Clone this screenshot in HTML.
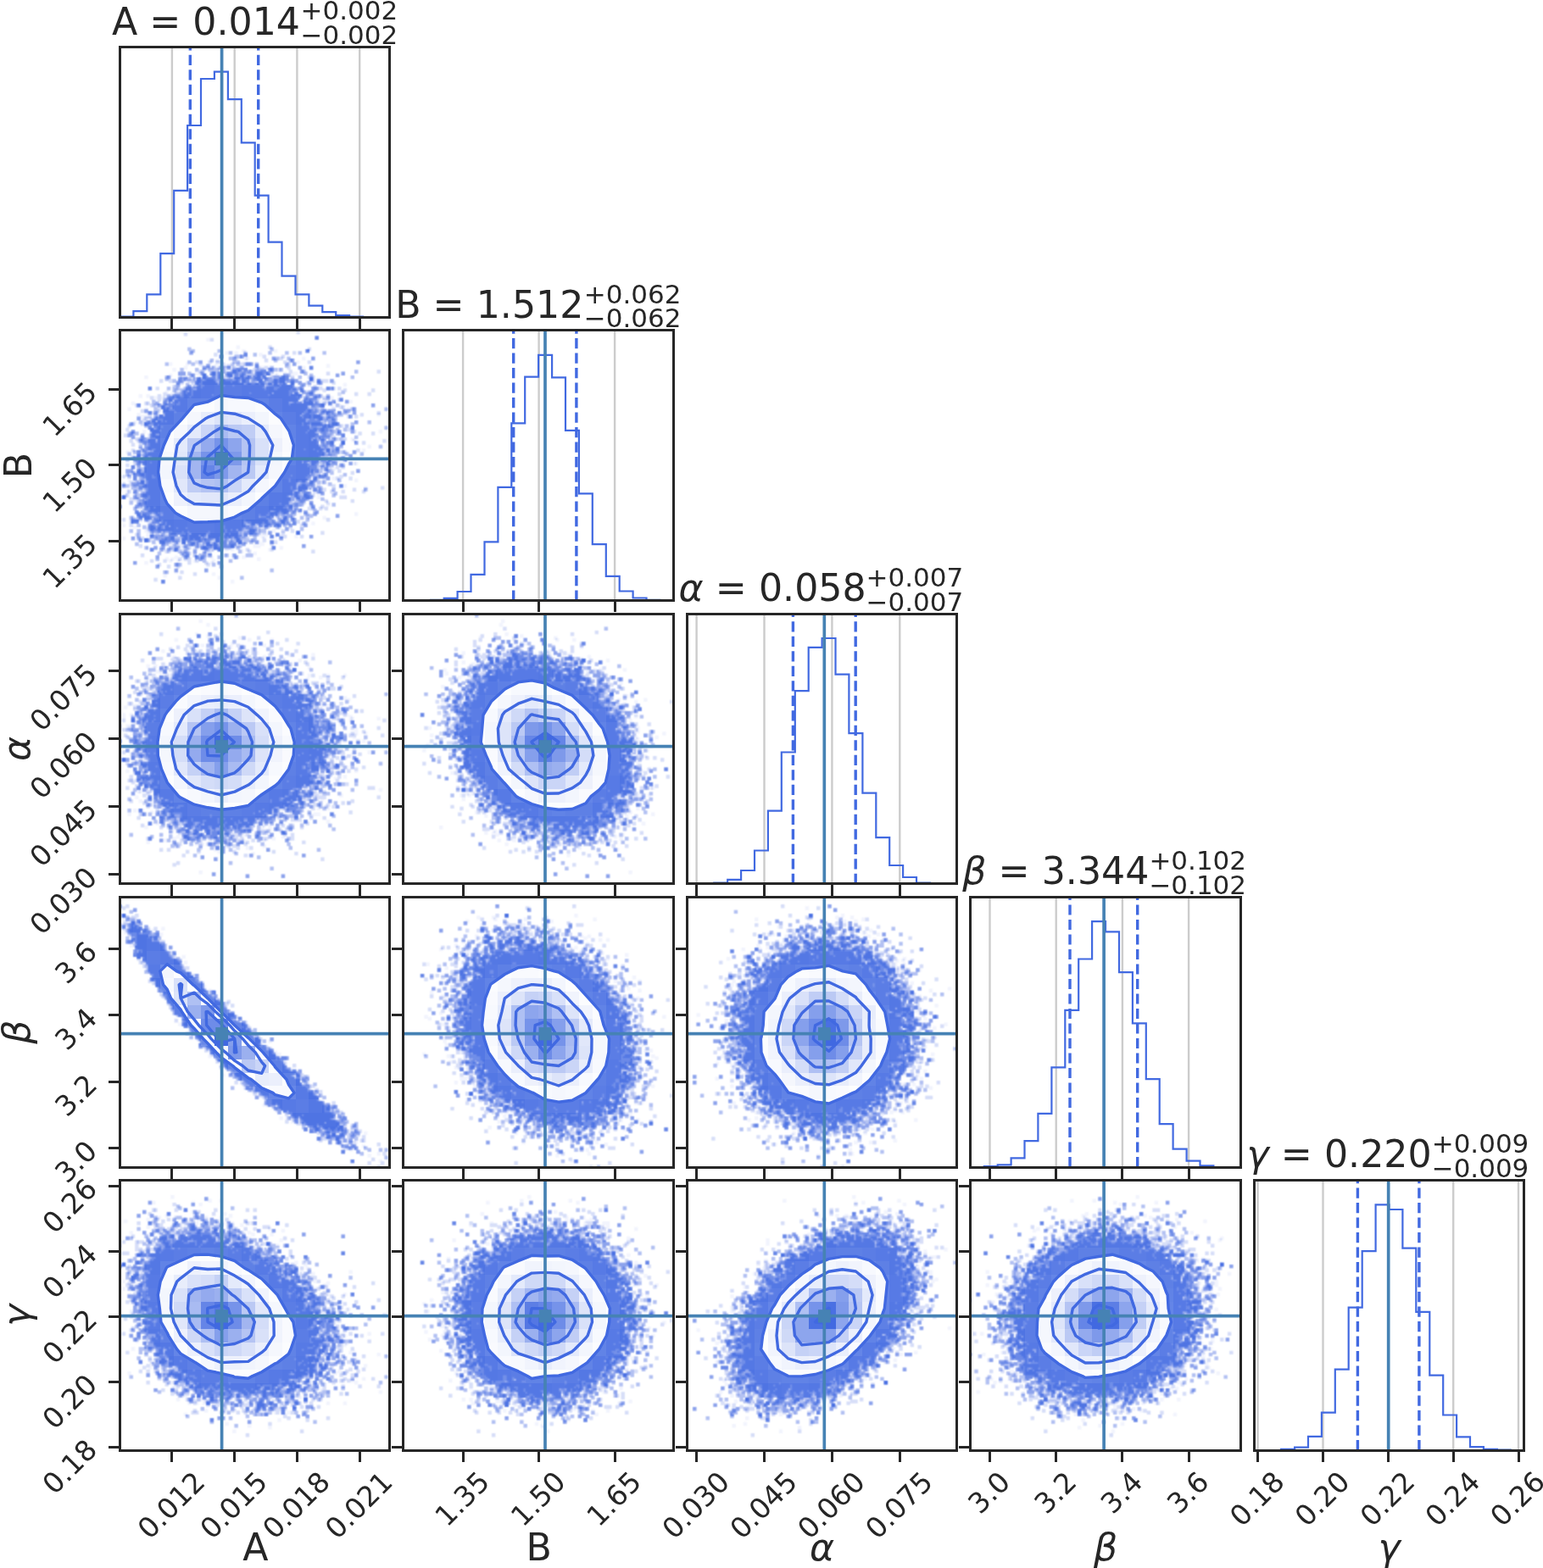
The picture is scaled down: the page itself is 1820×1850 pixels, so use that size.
<!DOCTYPE html>
<html><head><meta charset="utf-8"><title>corner</title>
<style>
html,body{margin:0;padding:0;background:#fff}
svg{display:block}
text{font-family:"DejaVu Sans","Liberation Sans",sans-serif;fill:#262626}
.t{font-size:33.18px}
.s{font-size:30.97px}
.b{font-size:44.24px}
.i{font-style:italic}
.sp{fill:none;stroke:#262626;stroke-width:3;shape-rendering:crispEdges}
.tk{stroke:#262626;stroke-width:3;fill:none;shape-rendering:crispEdges}
.g{stroke:#cccccc;stroke-width:2.4;fill:none}
.h{stroke:#4169e1;stroke-width:2.2;fill:none;stroke-linejoin:miter}
.q{stroke:#4169e1;stroke-width:3.4;fill:none;stroke-dasharray:12.2 5.3}
.tr,.th{stroke:#4682b4;stroke-width:3.7;fill:none}
.c{stroke:#4169e1;stroke-width:3.4;fill:none;stroke-linejoin:round}
</style></head>
<body>
<svg xmlns="http://www.w3.org/2000/svg" width="1820" height="1850" viewBox="0 0 1820 1850">
<defs><filter id="bl" x="-2%" y="-2%" width="104%" height="104%" color-interpolation-filters="sRGB"><feConvolveMatrix order="3" kernelMatrix="0.0625 0.125 0.0625 0.125 0.25 0.125 0.0625 0.125 0.0625" edgeMode="none" preserveAlpha="false"/></filter></defs>
<rect width="1820" height="1850" fill="#fff"/>
<clipPath id="k0"><rect x="141.5" y="389.8" width="318.4" height="318.9"/></clipPath>
<g clip-path="url(#k0)">
<g transform="translate(139.29 387.59) scale(2.212)" fill="#4169e1" filter="url(#bl)">
<path fill-opacity="0.070" d="M95 1h2v2h-2zm-60 1h2v2h-2zm70 2h2v2h-2zm-58 1h4v2h-4zm16 4h2v2h-2zm17 0h2v1h1v1h2v2h-2v-1h-1v2h-2v-2h1v-1h-1zm-43 1h2v1h2v2h-1v1h-2v-2h-1zm64 0h2v2h-1v1h-2v-2h1zm-48 1h2v2h-2zm13 0h2v1h1v3h1v2h-3v-1h-3v1h1v1h7v2h-3v2h3v-1h1v-3h2v2h8v1h5v2h-5v1h3v1h2v-2h2v1h1v-2h-1v-1h-1v-2h-1v-2h2v1h1v-1h-1v-2h2v1h2v2h1v-1h2v2h-2v1h-2v-2h-1v4h1v1h3v2h-2v2h2v-2h2v2h-1v1h1v1h2v-1h2v-1h-1v-2h1v-1h2v1h1v4h-2v2h-2v-1h-1v1h-1v2h4v-2h1v-1h2v1h1v-1h-1v-4h2v1h7v1h1v2h-2v-1h-5v3h2v-1h5v2h-5v1h-2v-1h-3v1h-1v1h1v-1h2v1h1v1h2v-1h2v1h2v2h1v1h1v1h2v1h2v2h1v-1h5v4h1v2h-2v-2h-1v-2h-1v1h-1v1h2v2h-3v-2h-2v1h-3v3h1v1h5v2h1v-3h2v-1h2v2h-2v3h1v2h-3v-1h-4v-2h-2v1h1v2h2v2h1v2h-1v2h-1v2h-2v1h4v1h1v1h2v2h-2v-1h-2v1h2v2h-6v2h1v-1h3v3h-2v-1h-1v1h1v2h-2v-2h-1v1h-1v2h-2v-1h-1v2h1v2h-2v1h3v1h2v4h1v2h-1v1h-2v-2h-1v-2h1v-2h-3v-1h-3v1h1v1h2v2h-1v2h-2v1h2v1h2v1h1v3h-1v2h-2v-1h-1v1h-2v-2h1v-1h2v1h1v-2h-1v-1h-2v-1h-2v-3h-1v2h-1v4h1v2h1v1h1v2h-1v1h-2v1h-1v1h-1v1h-1v3h-2v2h-2v-4h1v-1h2v-3h-1v-2h-1v1h-2v-1h-1v2h-1v1h1v1h2v2h-2v1h-2v2h1v2h-2v-2h-1v1h-2v2h1v2h-2v1h-2v-2h-1v1h-4v-2h-1v1h-1v3h-1v2h-2v1h-4v-2h1v-1h-1v1h-2v-1h-1v1h-1v1h-2v1h-1v1h2v2h-3v-2h-1v-1h-1v2h-2v-1h-1v1h-2v-1h-1v1h-3v-1h-1v1h-2v2h1v2h1v4h-2v-1h-1v1h-2v-1h-1v-1h-1v-1h-2v1h-3v-2h1v-1h-1v-6h-1v2h-1v1h1v2h-1v1h1v4h-2v-2h-2v-2h-1v-1h-1v-1h-2v-1h-3v1h-3v-1h-2v2h-1v3h-2v-3h1v-2h1v-3h1v-1h-1v-1h-1v-1h-1v2h1v3h-2v1h-2v-1h-3v-2h3v1h2v-2h-1v-1h-4v-1h-1v1h-2v-1h-1v-2h-1v-2h1v-2h2v4h2v1h1v-3h-1v-2h-1v-2h3v-1h-1v-1h-1v-2h-1v2h-2v1h1v2h-2v1h-2v-1h-2v-6h3v1h1v-2h-2v-4h1v-1h1v-1h-2v1h-2v-4h2v-4h-1v-1h-5v-3h2v1h2v-1h-1v-3h-1v1h-2v-2h2v-3h3v-2h1v-3h-1v-2h-2v-1h-1v-2h2v1h1v1h1v-1h-1v-2h2v1h2v-4h-1v-1h-1v-1h-1v2h1v2h-2v-2h-1v-2h1v-1h-4v-2h2v-1h-1v-2h1v-2h1v-1h2v-1h2v2h-1v1h-2v1h-1v2h1v-1h2v1h2v2h-2v1h3v-2h1v-2h2v2h-1v2h2v-2h1v-2h-1v-1h-2v-1h-2v-1h-1v-2h-1v-4h2v1h3v-1h-3v-2h2v-1h2v2h3v-2h-2v-1h-3v-2h3v1h1v-2h-1v-1h-2v-2h2v1h4v-1h2v1h1v-2h1v-1h1v-2h2v2h-1v2h1v-1h1v-4h2v-1h-4v-1h-2v-3h2v-1h2v2h-1v1h3v1h1v-5h1v-2h2v-1h1v-2h1v-1h2v1h2v-1h4v2h1v1h1v-1h1v-2h1v-1h2v2h-1v1h-1v1h2v-1h1v-3h2v1h2v1h1v1h3v-1h1v-1h-2v-2h3v-3h2v2h3v-1h-1zm-9 1h4v2h-4zm32 0h2v2h-2zm4 0h2v2h-2zm3 0h2v2h-2zm13 0h2v2h-2zm-58 1h2v2h-2zm21 0h2v2h-2zm3 0h2v1h2v2h1v2h-2v-2h-1v-1h-2zm-21 1h2v2h-2zm33 0h2v2h-1v1h-3v1h-2v-1h-1v-2h5zm11 1h2v2h-2zm5 0h2v2h-2zm-2 2h2v2h-2zm26 0h2v2h-2zm-102 1h4v2h-4zm13 1v1h-1v2h-2v1h1v2h1v-2h2v1h2v-3h2v1h2v-1h-1v-1h-1v-1h-2v1h-2v-1zm15 0v1h1v-1zm9 0v1h1v-1zm49 0h2v2h-2zm-15 1h4v3h1v2h-2v-1h-2v-2h-1zm6 0h2v2h-2zm-73 1h2v2h-2zm18 1v1h-1v1h1v1h1v1h1v-3h-1v-1zm7 0v1h1v-1zm4 0v1h2v-1zm21 0v1h1v-1zm47 0h2v2h-2zm12 0h2v2h-2zm-27 1h2v2h-2zm8 0h2v2h-2zm-63 1v1h1v-1zm60 0h2v2h-2zm-102 1h2v2h-2zm27 0v1h2v-1zm38 0v1h1v-1zm45 0h2v2h-2zm20 0h2v2h-2zm-53 1v1h1v-1zm-69 1h2v2h-2zm13 2v1h-2v2h1v-1h2v-2zm3 0v1h1v-1zm52 0v1h2v-1zm4 0v2h2v-2zm26 0h2v2h-2zm-104 2h2v2h-2zm4 0h2v2h-2zm97 0h2v2h-2zm3 1h2v2h-1v1h-2v1h1v3h-3v-2h1v-1h-1v-2h2v-1h1zm15 0h2v2h-2zm-39 1v1h1v-1zm30 1h2v2h-2zm7 0h2v2h-2zm-122 1h2v2h-2zm88 0v1h1v-1zm9 2v1h1v-1zm-88 1v1h1v-1zm3 0v1h-1v1h2v-2zm90 0v1h1v-1zm8 0h4v2h-2v1h-2zm-114 1h2v1h3v2h-3v-1h-2zm104 1v1h-1v1h1v1h3v-1h-1v-1h-1v-1zm24 0h2v2h-2zm-20 1v1h1v3h1v-1h2v1h1v-2h-2v-1h-2v-1zm-110 1h2v2h-2zm137 0h2v2h-2zm-119 1v2h-1v1h2v-3zm115 1h2v3h-2zm-9 1h2v2h-2zm-111 1v1h1v-1zm115 3h2v2h-2zm-22 1v1h1v-1zm5 2v1h-1v1h1v-1h1v-1zm26 0h2v2h-2zm-3 2h2v2h-2zm-11 1h2v2h-2zm7 0h2v2h-2zm-20 1v1h1v1h3v-1h-3v-1zm11 1h2v2h-1v1h1v2h-2v-1h-1v-1h-1v-2h2zm-15 2v1h1v-1zm30 0h2v2h-2zm3 0h2v2h-2zm-37 1v2h1v-2zm9 0v1h-1v1h1v1h2v-2h1v-1zm14 0h2v2h-2zm-117 2v1h1v-1zm120 0h2v2h-2zm6 0h2v2h-2zm-12 2h2v2h-2v1h-2v-2h2zm3 0h2v2h-1v2h-2v-2h1zm-121 3v1h1v-1zm108 0v1h3v-1zm-113 2h2v2h-2zm110 0v1h1v-1zm9 2h5v2h-5zm-119 1h2v2h-2zm5 1v2h-1v1h2v-3zm3 0v1h1v-1zm103 0v1h1v-1zm12 2h2v2h-2zm-3 1h2v2h-2zm-4 1h2v2h-2v1h-1v2h-2v-1h-3v-2h4v-1h2zm-113 1v3h1v-3zm3 1v2h1v-2zm113 0h2v2h-2zm-20 1v1h1v-1zm5 0v1h1v-1zm18 0h2v2h-2zm-8 3h4v2h-4zm13 1h2v3h-1v1h-2v-2h1zm9 0h2v2h-2zm-140 1h2v2h-2zm125 0h2v2h-2zm-121 1h3v2h-1v2h-2v1h-2v-2h1v-1h1zm97 0v1h1v-1zm18 0h2v2h-2zm-108 1v1h1v-1zm92 0v1h1v-1zm15 2h4v2h-4zm6 2h2v2h-2zm-24 1v2h-1v1h-3v1h3v1h2v1h1v1h2v-2h-3v-2h1v-3zm14 1h2v2h-2zm-114 1h2v2h-2zm11 3v1h1v-1zm115 1h2v2h-2zm-10 1h2v2h-2zm-19 1h2v2h-2zm12 0h2v1h2v2h-2v-1h-2zm-107 1h2v2h-2zm90 2v1h1v-1zm11 0h2v2h-2zm-101 1h2v2h-2zm6 0v1h2v-1zm79 1v2h-3v2h-2v1h2v-1h2v1h1v-3h2v-1h-1v-1zm3 0v1h1v-1zm-9 1v1h-2v2h1v-1h2v-1h1v-1zm-75 1h2v2h-2zm89 1h2v2h-1v2h-2v-2h1zm13 0h2v2h-2zm-76 2v1h1v-1zm65 0h2v2h-2zm5 0h2v2h-2zm-100 1h2v2h-2zm5 0h2v2h-2zm63 0v1h2v-1zm4 0v2h2v1h1v-2h-1v-1zm7 2h4v2h-2v1h1v2h-1v1h-3v-2h2v-1h-1zm-72 1h2v1h2v2h-2v-1h-2zm89 1h2v2h-2zm-73 1v2h1v-1h1v-1zm61 0h2v2h-2zm-43 1v1h-1v3h1v-1h2v-2h-1v-1zm25 0h2v1h1v2h1v-1h2v2h-2v1h-4v1h-2v-2h2v-1h1v-1h-1zm35 1h2v2h-2zm-91 2h2v2h-2zm44 0h3v2h-3zm4 0h3v1h2v2h-4v-1h-1zm-30 1h2v1h2v2h-1v1h1v2h-1v1h-1v3h-2v-3h1v-1h-1v-2h1v-2h-1v1h-1v1h-2v-1h-1v1h-2v-2h1v-1h2v1h1v-1h2zm23 0h2v2h-2zm-6 1v2h1v1h1v-1h1v-1h-1v-1zm27 0h2v2h-2zm-57 1h2v2h-2zm42 0h2v2h-2zm-51 1h2v2h-2zm6 0h2v2h-2zm39 0h2v2h1v2h-2v-2h-1zm-32 1h2v2h-1v1h-2v-2h1zm5 1h2v2h-2zm20 2h2v2h-2zm35 0h2v2h-2zm-57 1h3v2h-1v2h-2zm9 0h2v2h-2zm7 1h2v2h-2zm10 0h2v2h-2zm-18 2h2v2h-2zm21 0h2v2h-2zm12 0h2v2h-2zm-46 1h2v2h-2zm4 1h2v2h-2zm37 0h2v2h-2z"/>
<path fill-opacity="0.151" d="M95 1h2v2h-2zm-60 1h2v2h-2zm70 2h2v2h-2zm-56 1h2v2h-2zm31 4h2v1h1v2h-1v2h-2v-2h1v-1h-1zm-43 1h2v1h2v2h-1v1h-2v-2h-1zm64 0h2v2h-1v1h-2v-2h1zm-48 1h2v2h-2zm6 1h2v2h-2zm8 0h2v5h-1v-2h-1v1h-3v1h1v1h7v2h-5v1h2v1h3v-1h1v-3h2v2h1v1h2v-1h2v1h1v-1h2v1h5v2h-5v1h-1v1h2v-1h1v1h3v-1h3v-2h-1v-1h-1v-2h-1v-2h2v1h1v-1h-1v-2h2v1h2v2h1v2h-2v-2h-1v4h1v2h-1v1h2v2h2v1h2v1h2v-1h2v-1h-1v-2h1v-1h2v1h1v4h-2v2h-2v-1h-1v1h-1v2h4v-2h1v-1h2v1h3v1h2v-1h5v2h-5v1h-2v-1h-3v1h-1v1h4v1h2v-1h2v4h1v-1h2v2h-2v1h-2v-1h-1v1h-1v2h4v-1h2v3h1v-1h2v1h1v-2h-2v-1h-2v-2h2v1h3v2h3v-1h3v4h1v2h-2v-2h-1v-2h-1v1h-1v1h2v2h-3v-2h-2v1h-3v3h1v1h2v2h-2v1h1v2h2v2h1v2h-1v2h-1v2h-2v1h4v1h1v1h2v2h-2v-1h-2v-1h-4v2h1v-1h3v1h1v2h-5v2h1v-1h3v3h-2v-1h-1v1h1v2h-2v-2h-1v-2h-1v1h-1v1h1v3h-2v-1h-1v2h1v2h-2v2h-3v1h1v1h2v2h-1v2h-2v-1h-3v2h-1v1h-2v1h-2v2h-1v1h-3v1h2v2h-3v2h-1v1h1v1h2v2h-2v1h-2v2h1v2h-2v-2h-1v1h-2v2h1v2h-2v1h-2v-2h-2v-2h2v1h1v-3h2v-1h-1v-1h-1v2h-3v-1h-3v1h-2v3h-2v-1h-1v1h-1v1h-1v2h1v2h-2v-1h-1v1h-2v-1h-1v1h-1v1h-2v1h-1v1h1v2h-2v-2h-1v-1h-2v1h-5v1h-3v-1h-2v1h-1v3h-3v2h1v1h1v2h-2v-1h-1v-1h-1v-1h-2v1h-2v-3h-1v-5h1v-1h-2v2h-1v1h1v2h-1v1h1v4h-2v-2h-2v-2h-1v-1h-1v-1h-1v-1h-4v1h-3v-1h-2v2h-1v3h-2v-3h1v-2h1v-3h1v-1h-1v-1h-1v-1h-1v2h-2v-1h-4v-1h-1v1h-2v-1h-1v-2h-1v-2h1v-2h2v4h2v1h3v-3h-1v-1h-1v-1h-2v-2h2v1h1v-3h-2v-2h-1v2h-2v1h1v2h-2v-2h-2v2h-2v-6h3v1h1v-2h-1v-2h-1v-2h1v-1h1v-2h-2v2h-2v-4h2v-4h-1v-2h-1v1h-4v-3h2v1h2v-2h2v-3h-1v2h-2v-1h-1v1h-2v-2h2v-3h3v-2h1v-3h-1v-2h3v-1h-2v-1h-1v-2h2v1h2v-4h-1v-1h-1v-1h-1v2h1v2h-2v-2h-1v-2h1v-1h-4v-2h2v-1h-1v-2h1v-2h1v-1h3v2h-2v1h-1v2h1v-1h2v1h2v2h-2v1h3v-2h2v2h2v-2h1v-2h-1v-1h-2v-1h-2v-1h-1v-2h-1v-2h2v2h1v-1h1v-1h2v-2h-4v-2h4v1h3v-2h-2v-1h-3v-2h3v1h1v-2h-1v-2h2v2h1v1h1v-4h2v4h-1v1h2v-6h2v1h4v-1h-1v-4h2v-1h-4v-1h-2v-3h3v2h3v1h1v-5h1v-2h2v2h1v2h1v1h1v-1h-1v-2h2v1h2v2h4v-1h-1v-1h-1v-1h-2v-2h2v1h2v-2h2v-1h1v-2h1v-1h2v2h-1v1h-1v1h3v1h1v-1h2v-1h-3v-2h4v1h1v2h1v-1h2v-1h1v-1h-2v-2h3v-1h5zm22 0h2v2h-2zm4 0h2v2h-2zm3 0h2v2h-2zm13 0h2v2h-2zm-58 1h2v2h-2zm21 0h2v2h-2zm-18 1h2v2h-2zm23 0h2v2h1v2h-2v-2h-1zm10 0h2v2h-1v1h-3v1h-2v-1h-1v-2h5zm16 1h2v2h-2zm-66 2h2v1h2v-1h4v3h-2v-1h-2v1h-2v-1h-2zm64 0h2v2h-2zm26 0h2v2h-2zm-102 1h2v2h-2zm37 1v1h1v1h1v-1h-1v-1zm34 1h2v2h2v1h1v2h-2v-1h-2v-2h-1zm6 0h2v2h-2zm-55 2v1h-1v1h1v1h1v1h1v-3h-1v-1zm7 0v1h1v-1zm4 0v1h2v-1zm21 0v1h1v-1zm47 0h2v2h-2zm12 0h2v2h-2zm-66 1v1h1v-1zm39 0h2v2h-2zm8 0h2v2h-2zm-63 1v1h1v-1zm60 0h2v2h-2zm-37 1v1h2v-1zm17 0h2v2h-2zm28 0h2v2h-2zm-33 1v1h1v-1zm-69 1h2v2h-2zm55 0v1h1v-1zm29 0h6v2h-3v1h-3zm7 0h2v1h1v2h-2v-1h-1zm-78 1v2h-2v2h2v-1h1v-2h1v-1zm3 1v1h1v1h1v-1h-1v-1zm52 0v1h2v-1zm4 0v2h3v-1h-1v-1zm-78 2h2v2h-2zm4 0h2v2h-2zm6 0h2v2h-2zm91 0h2v2h-2zm3 1h2v2h-1v1h-2v1h-2v-2h2v-1h1zm15 0h2v2h-2zm-103 1v1h1v-1zm64 0v1h1v1h1v-1h-1v-1zm30 1h2v2h-2zm7 0h2v2h-2zm-34 1v1h1v-1zm-74 1v1h1v-1zm72 1v1h-1v1h2v-1h1v-1zm11 0v1h-1v1h1v1h1v-1h1v-1h-1v-1zm9 0h3v2h-3zm4 1h2v2h-2zm-112 2h3v2h-3zm126 0h2v2h-2zm7 2h2v2h-2zm-119 1v1h-1v2h2v-3zm115 1h2v2h-2zm-9 1h2v2h-2zm-111 1v2h1v-2zm-2 2v1h1v-1zm110 1h2v2h-2v3h1v2h-3v-1h-4v-2h1v-2h2v2h1v-3h2zm7 0h2v2h-2zm-22 1v1h1v-1zm-93 2v1h1v-1zm98 0v1h-1v1h1v-1h1v-1zm26 0h2v2h-2zm-14 3h2v2h-2zm7 0h2v2h-2zm-28 1v1h1v-1zm8 0v1h1v1h3v-1h-3v-1zm11 1h2v2h-2zm-15 2v1h1v-1zm14 0h1v1h-1zm16 0h2v2h-2zm3 0h2v2h-2zm-37 1v2h1v-2zm9 0v1h-1v1h1v1h2v-2h1v-1zm10 0h2v2h-2zm4 0h2v2h-2zm-117 2v2h1v-2zm126 0h2v2h-2zm-12 2h2v2h-2v1h-2v-2h2zm-122 2h2v2h-2zm124 0h2v2h-2zm-125 3h2v2h-2zm110 0v1h1v-1zm9 2h2v2h-2zm3 0h1v2h-1zm-122 1h2v2h-2zm5 1v2h-1v1h2v-3zm3 0v1h2v-1zm115 2h2v2h-2zm-18 1v1h-1v1h1v-1h1v-1zm15 0h2v2h-2zm-4 1h2v2h-2v1h-1v2h-2v-1h-1v-2h2v-1h2zm-110 2v2h1v-2zm93 0v2h1v-2zm20 0h2v2h-2zm-16 1v1h2v-1zm-2 2v2h1v-2zm7 0h2v1h2v4h1v2h-1v1h-2v-2h-1v-2h1v-2h-2zm6 1h2v2h-2zm22 1h2v2h-2zm-140 1h2v2h-2zm125 0h2v2h-2zm6 0h2v2h-1v1h-2v-2h1zm-126 1h2v2h-1v2h-2v1h-2v-2h2v-1h1zm96 0v1h2v1h1v-2zm18 0h2v2h-2zm-108 1v1h1v-1zm107 2h4v2h-4zm-10 1h2v1h2v2h1v1h-2v-1h-1v-1h-2zm16 1h2v2h-2zm-22 1h2v2h1v2h1v1h1v2h-1v1h-2v1h-2v2h-1v3h-2v2h-2v-4h1v-1h2v-3h-1v-3h2v1h1v1h2v-2h-3v-2h1zm12 1h2v2h-2zm-114 1h2v2h-2zm108 0h2v1h2v2h-2v-1h-1v1h-2v-2h1zm-98 2v1h1v1h1v-1h1v-1zm81 2v1h1v-1zm25 1h2v2h-2zm-33 1v2h1v1h1v-2h-1v-1zm14 0h2v2h-2zm-95 1h2v2h-2zm89 0v2h1v1h1v-1h-1v-2zm20 0h2v2h-2zm-21 4v1h1v-1zm-84 2h2v2h-2zm74 1h2v2h1v2h-2v-2h-1zm15 0h2v2h-2zm13 0h2v2h-2zm-76 2v1h1v-1zm37 0v1h1v1h2v-1h-2v-1zm28 0h2v2h-2zm5 0h2v2h-2zm-95 1h2v2h-2zm70 0h1v1h1v2h-2zm-59 1v1h1v-1zm63 1h4v2h-2v1h1v2h-1v1h-2v-2h1v-1h-1zm-72 1h2v1h2v2h-2v-1h-2zm24 0v4h2v-1h-1v-3zm3 0v1h1v-1zm-9 1v1h-2v2h1v-1h1v-1h2v-1zm71 0h2v2h-2zm-84 1h2v2h-2zm5 0h2v2h-2v1h-2v-2h2zm24 1v1h-1v3h1v-1h2v-2h-1v-1zm25 0h2v1h1v2h1v2h-4v-2h1v-1h-1zm35 1h2v2h-2zm-91 2h2v2h-2zm44 0h3v2h-3zm5 0h2v1h1v2h-3zm-8 1h2v2h-2zm-21 1h2v2h-2zm-15 1h2v2h-2zm7 0h2v2h-2zm4 0h1v1h-1zm31 0h2v2h-2zm-51 1h2v2h-2zm42 0h1v1h1v2h-2zm3 0h2v2h1v2h-2v-2h-1zm-32 1h2v2h-1v1h-2v-2h1zm9 0h4v2h-1v1h-1v2h-2v-2h1v-1h-1zm-4 1h2v2h-2zm20 2h2v2h-2zm35 0h2v2h-2zm-57 1h3v2h-3zm9 0h2v2h-2zm7 1h2v2h-2zm-8 2h2v2h-2zm33 0h2v2h-2zm-46 1h2v2h-2zm4 1h2v2h-2z"/>
<path fill-opacity="0.241" d="M105 4h2v2h-2zm-68 6h2v1h2v2h-1v1h-2v-2h-1zm44 0h2v2h-1v2h-2v-2h1zm-28 1h2v2h-2zm47 0h2v2h-2zm-41 1h2v2h-2zm8 0h1v1h1v2h-2v1h-4v1h2v3h-2v-1h-1v2h3v-1h2v1h2v1h3v2h1v-6h2v3h3v1h1v1h1v-2h1v-1h2v1h2v2h-2v1h-2v1h-2v1h3v-1h6v-1h4v2h-1v1h1v-1h2v1h2v1h2v1h2v2h-1v2h1v1h1v-1h2v-2h4v2h-2v2h4v2h-2v3h2v-1h2v2h-1v2h6v2h1v-1h2v1h1v-2h4v-1h3v4h-2v-2h-1v1h-2v1h-2v1h-3v3h1v1h1v2h-1v-1h-3v2h1v-1h2v1h1v2h2v2h-1v1h1v3h-1v2h-2v3h-1v6h-2v1h-3v1h2v1h1v2h-2v-1h-1v2h1v2h-2v-1h-4v1h1v2h-2v-1h-1v3h1v-1h3v3h1v2h-2v-1h-2v-1h-2v-2h-1v1h-2v1h2v2h1v2h-2v1h-2v1h-1v2h-3v1h2v2h-2v-1h-1v3h-1v1h1v4h-2v1h-2v-1h-1v1h1v2h-2v-2h-1v-1h-1v1h-1v1h-2v-1h-1v-1h-1v1h-2v1h-1v2h-3v1h-1v1h-1v2h1v2h-2v-1h-1v1h-2v-1h-1v1h-1v1h-2v1h-1v1h1v2h-2v-2h-1v-2h1v-2h-1v2h-1v1h-2v1h-3v-1h-1v2h-3v-1h-2v1h-1v-1h-1v1h-2v6h-2v-1h-2v-1h-1v1h-1v-2h-1v-4h1v-2h-3v2h-1v1h1v4h-3v-1h-1v-1h-1v-1h-1v-1h-3v-1h-1v1h-1v1h-1v-3h1v-1h2v-1h1v-1h-2v1h-1v1h-2v2h-1v1h-1v2h-1v3h-2v-3h1v-2h1v-2h1v-2h-1v-2h-2v2h-2v-2h1v-1h-2v-4h-1v-4h1v-1h1v-1h-1v1h-3v-2h-1v1h-2v2h1v2h-2v-2h-3v-2h-1v-2h2v1h2v-2h-1v-2h-1v-2h1v-1h1v-3h-2v-2h1v-1h-1v-2h-1v-4h2v-1h-1v-3h-1v-1h-1v1h1v2h-2v-1h-1v-4h3v-2h2v2h-1v1h1v1h1v-4h-1v-2h-1v-2h-1v-1h3v-1h-2v-2h4v-1h-1v-2h2v2h1v-2h-1v-1h-2v-1h-1v-1h1v-1h1v-2h2v2h3v-4h-1v-1h-2v-3h1v-1h2v-1h-2v1h-1v-2h4v1h1v-6h-1v-4h2v1h2v1h1v1h1v-4h2v-2h2v1h1v-1h1v-1h-1v-3h1v-1h1v-1h-2v-2h2v1h1v-2h1v-1h-1v-2h1v-2h2v2h1v2h-2v1h4v-1h-1v-2h2v1h2v2h4v-1h-1v-1h-1v-1h1v-1h1v-2h2v-1h2v2h1v-1h2v1h2v-1h1v-2h1v2h4v2h-2v-1h-1v2h3v-1h1v-2h-1v-1h1v-2h-2v-2h3v-1h5zm22 0h2v2h-2zm7 0h2v2h-2zm13 0h2v2h-2zm-37 1h2v2h-2zm-18 1h2v2h-2zm28 1h4v2h-1v1h-2v-1h-1zm5 0h1v1h-1zm3 0h2v1h2v2h1v2h-2v-2h-2v-1h-1zm13 0h2v2h-2zm-54 1h2v2h-2zm-12 1h2v1h2v2h-2v-1h-2zm6 0h2v2h-2zm9 0h2v1h-2zm75 0h2v2h-2zm-102 1h2v2h-2zm42 0h5v2h-5zm22 0h2v3h-2zm7 2h2v2h2v1h1v2h-2v-1h-2v-2h-1zm6 0h2v2h-2zm-61 1h2v2h-2zm45 0h2v2h-2zm-40 1v2h1v1h1v1h2v-1h-1v-2h-1v-1zm8 0v1h1v-1zm72 0h2v2h-2zm-7 1h2v2h-2zm-63 1v2h1v1h1v-1h-1v-2zm46 0h2v4h-1v2h-2v-2h1zm14 0h2v2h-2zm-91 1h3v2h-1v1h-2zm36 0v1h1v-1zm35 0h2v2h-2zm28 0h2v2h-2zm-85 1v1h1v-1zm31 1v2h1v-2zm7 0v1h1v-1zm29 0h2v1h1v2h-3zm7 0h2v2h-2zm-78 1v1h-2v3h2v-1h1v-2h2v1h1v1h1v-1h1v-1h-2v-1zm39 0v1h1v-1zm16 1v1h2v-1zm4 0v2h3v-1h-1v-1zm-78 2h2v2h-2zm10 0h2v2h-2zm85 0h4v2h-4zm-80 2v1h2v-1zm65 0v1h1v1h1v2h-1v1h-1v1h2v-1h1v-2h1v-1h-2v-1h-1v-1zm23 0h2v2h-2zm-8 2h2v3h-4v-1h2zm-9 1v1h2v-1zm16 1h2v2h-2zm-89 1v1h1v-1zm85 0h2v2h-2v1h-2v-2h2zm7 0h2v2h-2zm-106 1h1v2h-1zm-5 1h2v2h-2zm106 0h2v2h-2zm19 0h2v2h-2zm-115 1v1h1v1h1v2h-1v1h3v-3h-1v-1h-2v-1zm82 0v1h1v-1zm17 0h1v2h-1zm-12 1v1h1v-1zm35 0h2v2h-2zm-128 1h2v1h2v2h-2v-1h-2zm92 2v1h1v-1zm32 0h2v1h-2zm-29 1v1h2v-1zm14 0h2v2h-2zm-113 1h2v2h1v2h-2v-2h-1zm116 2h2v2h-2v5h-2v-6h2zm7 0h2v2h-2zm-127 1h3v2h-3zm105 0v1h1v-1zm10 1h2v2h-1v2h-2v-2h1zm-103 1v1h1v-1zm124 0h2v2h-2zm-135 2h2v1h2v2h-2v2h-2v-1h-2v-2h1v-1h1zm100 2v1h1v-1zm8 0v1h-1v1h-1v1h1v-1h3v2h-2v2h1v1h2v-1h1v-2h-1v-2h1v-1h-3v-1zm11 1h2v2h-2zm-15 2v1h1v-1zm33 0h2v2h-2zm-37 1v2h1v-2zm19 0h2v2h-2zm13 2h2v2h-2zm-20 3h2v1h2v1h2v2h-2v-1h-2v-1h-2zm6 0h2v2h-2zm-120 1h2v2h-2zm7 0v1h1v-1zm117 0h2v2h-2zm-117 2v1h1v-1zm100 0v1h1v-1zm7 0h2v1h1v2h-2v-1h-2v-1h1zm-115 1h2v2h-2zm110 0v1h2v-1zm9 2h2v2h-2zm-111 1v2h2v-1h-1v-1zm95 0v1h1v-1zm11 0h3v2h-3zm-11 2v1h1v-1zm2 1v2h-1v1h1v-1h2v-1h-1v-1zm18 0h2v2h-2zm-7 2h2v2h-2zm-110 2v2h1v-2zm93 0v2h1v-2zm14 1h2v2h-2zm-16 1v1h1v-1zm8 0h2v2h-2zm3 1h2v2h-2zm-110 1h4v2h-4zm116 0h2v2h-2zm-4 2h2v2h1v2h-1v1h-2v-2h1v-1h-1zm17 0h2v2h-2zm-126 1h1v2h-1zm8 0v1h1v-1zm-2 1v1h1v-1zm-7 1h1v2h-1v1h-2v-2h2zm87 1v1h1v-1zm-79 1v1h1v-1zm96 0h2v2h-2zm-14 1v1h-1v1h1v-1h1v-1zm-88 1h2v2h-2zm96 0h2v2h1v2h1v1h1v2h-1v1h-2v1h-2v2h-2v-3h-1v-3h2v2h3v-2h-1v-2h-1zm9 0h1v1h-1zm3 1h2v2h-2zm-114 1h2v2h-2zm13 1v1h-3v1h1v1h1v-1h1v-1h1v-1zm95 0h1v1h-1zm-17 3v1h1v-1zm-73 1v1h1v-1zm98 0h2v2h-2zm-33 1v2h1v1h1v-2h-1v-1zm3 0v1h1v-1zm11 0h2v2h-2zm-6 1v2h1v1h1v-1h-1v-2zm7 2h2v1h1v2h-2v-1h-1zm-78 1v1h1v-1zm-7 1h2v2h-2zm61 0v1h1v-1zm2 1v1h2v-1zm21 0h2v2h-2zm-91 1h2v2h-2zm4 0h2v5h1v2h-2v-1h-1zm70 1h2v2h1v2h-2v-2h-1zm7 0h2v1h-2zm8 0h2v2h-2zm-76 1v1h1v-1zm3 0v1h1v-1zm3 0v1h2v-1zm59 0h2v2h-2zm-52 1v1h1v-1zm37 0v2h1v1h1v-1h1v-1h-2v-1zm33 0h2v2h-2zm-95 1h2v2h-2zm79 0h2v2h-2zm-72 1h3v2h-3zm19 0v2h-1v2h1v2h1v1h1v-4h-1v-3zm26 0v1h1v-1zm-9 1v1h1v-1zm16 0v1h1v-1zm15 0h2v2h-2zm-72 1h2v2h-2zm27 0v1h1v-1zm8 0v1h1v-1zm14 0v1h1v-1zm40 1h2v2h-2zm-84 1h2v2h-2zm5 0h2v2h-2v1h-2v-2h2zm63 0h2v2h-2zm-40 1v4h1v-1h2v-1h1v-1h-2v-1zm27 1h1v1h-1zm-21 2h2v2h-2zm9 0h2v2h-2zm4 0h2v1h1v2h-2v-1h-1zm7 0h4v2h-4zm-15 1h2v2h-2zm-21 2h1v1h-1zm27 0h2v2h-2zm-51 1h2v2h-2zm45 0h2v2h1v2h-2v-2h-1zm-23 1h4v2h-4zm17 0h1v1h-1zm3 0h2v2h-2zm-30 1h2v2h-2zm10 2h2v2h-2zm16 0h2v2h-2zm35 0h2v2h-2zm-57 1h3v2h-3zm41 3h2v2h-2zm-42 2h2v2h-2z"/>
<path fill-opacity="0.333" d="M105 4h2v2h-2zm-24 6h1v1h-1zm19 1h2v2h-2zm-62 1h2v2h-2zm29 1h2v2h-2v1h-2v-2h2zm-13 1h2v2h-2zm7 1h2v2h-2zm21 0h2v1h1v1h-3zm21 0h2v2h-2zm-12 1h3v2h1v2h-2v-2h-1v-1h-1zm-48 1h2v2h-2zm6 0h1v1h-1zm78 0h2v2h-2zm-66 1h1v1h-1zm2 0h2v1h-2zm5 0h4v2h-4zm22 0h1v2h-2v-1h1zm-43 1h2v2h1v-1h1v2h-3v-1h-1v1h-2v-2h2zm26 0h2v3h4v1h1v-2h3v2h-2v2h-2v1h3v1h1v-2h3v1h1v-1h1v-1h3v3h5v1h2v1h2v2h-1v2h1v1h2v-1h1v-2h4v2h-2v1h-1v1h4v2h-2v2h1v1h3v2h-4v1h1v2h-1v1h1v-1h1v-2h3v1h1v-1h4v1h-1v1h1v1h1v1h-1v3h2v2h-3v1h-1v1h1v2h-1v1h-1v2h-2v1h-1v1h1v-1h3v-2h2v2h-1v4h1v-1h2v4h-2v1h-8v1h3v1h1v-1h2v1h2v1h1v2h-4v1h-1v1h1v2h-1v2h1v2h-2v-1h-5v2h-1v3h1v1h1v-1h-1v-1h2v1h1v2h1v2h-2v-1h-2v-1h-2v-2h-1v-1h-1v1h-1v1h-1v1h3v2h1v2h-3v1h-1v1h-1v1h-1v1h-2v1h2v2h-2v-1h-1v2h-2v2h2v4h-2v1h-2v-1h-3v-1h-1v2h-1v1h-1v-1h-2v-1h-1v1h-2v1h-2v-2h-1v1h-2v-1h-1v-1h-1v2h1v3h1v1h-1v1h-2v-1h-3v1h-1v1h-2v2h2v2h-2v-1h-2v-1h-1v-1h-1v-1h-1v1h1v1h1v2h-1v1h-6v1h-1v1h-2v-1h-2v-1h-2v1h-1v1h-1v3h-1v1h-1v1h-2v-1h-2v-2h2v1h1v-1h1v-2h1v-1h-2v-2h1v-2h-2v3h-2v-1h-4v1h1v1h-1v1h1v3h-1v1h-2v-2h-1v-1h-1v-1h2v-1h1v-1h-1v-2h-1v-4h-1v-1h-1v1h-2v1h3v2h-1v1h-1v1h2v1h-1v2h-2v-5h-3v1h-2v3h-1v1h-1v-1h-1v-1h1v-2h-1v-2h-2v-1h-3v-2h1v-1h-1v-1h-1v-4h2v-2h1v-1h-1v1h-2v1h-2v-2h-1v1h-2v-1h-1v-2h-1v-5h1v-1h1v-2h2v-1h-1v-2h1v-1h2v-1h-1v-1h-1v1h-2v-2h-1v1h-2v-1h-1v-2h3v-1h1v1h1v-3h-2v2h-2v-4h-2v1h1v1h-2v-2h-1v-2h3v-2h2v2h-1v1h1v1h1v-2h1v-1h-1v-3h-2v-3h2v-3h2v4h-1v1h2v-3h1v-1h-1v-1h-1v-1h-1v-1h2v1h1v-2h-1v-1h-2v-2h1v-2h2v1h1v1h2v-3h1v-1h-1v-1h-1v-2h-2v-2h1v-1h3v-1h1v-1h1v-1h-1v-2h2v3h1v-1h2v1h1v-1h-1v-3h-1v-1h-2v-1h-2v-1h1v-1h1v1h2v1h1v-3h1v-1h1v-1h3v-1h4v-1h1v-1h1v-1h1v-1h1v-1h2v1h3v-1h-1v-2h1v-2h2v1h1v-2h-1v-2h2v1h1v1h1v1h2v-1h-1v-2h3v4h1v-4h3v-1h-3v-1h1v-1h3v4h-1v3h3v-1h-1v-1h-1v-1h1v-1h3v-2h4v-1h2v1h2v1h2v2h-3v1h3v1h1v-1h1v-3h1v-1h-1zm-15 1h2v2h-2zm38 0h2v2h1v1h1v1h-3v-2h-1zm6 0h2v2h-2zm-16 1h1v2h-1zm-20 1v1h1v-1zm-34 1h4v2h-4zm87 0h2v2h-2zm-81 1h3v4h-1v-2h-1v-1h-1zm23 0v2h-1v1h2v-3zm55 0h2v2h-2zm-90 1h2v2h-3v-1h1zm76 0h2v3h-2zm-70 1h5v1h2v1h-4v1h-2v2h-1v2h-1v1h-1v-2h1v-4h1zm38 1v2h1v-2zm7 0v1h1v-1zm29 0h2v1h1v2h-3zm7 0h2v2h-2zm-60 1v1h1v-1zm12 0v1h1v-1zm8 0v1h2v-1zm6 0v1h1v-1zm10 0v1h1v1h2v-1h-2v-1zm12 0h1v1h1v1h-2zm-7 1v2h1v1h1v-1h1v-1h-1v-1zm-16 1v1h1v-1zm-62 1h2v2h-2zm95 0h4v2h-4zm-15 2v2h2v2h-1v1h-1v1h2v1h1v-3h1v-2h-2v-1h-1v-1zm-3 1v1h1v-1zm9 2v1h2v-1zm9 0h2v2h-2zm7 1h2v2h-2zm-89 1v1h-1v1h1v-1h1v-1zm85 0h2v2h-2v1h-2v-2h2zm7 0h2v2h-2zm-95 1v1h1v-1zm78 0v1h1v-1zm-94 1h2v2h-2zm125 0h2v2h-2zm-34 1v1h1v1h1v-2zm24 1h2v4h-2zm-111 1h2v1h2v2h-2v-1h-2zm106 0h4v1h-1v1h-3zm-3 1h2v2h-2zm-7 1v1h-1v1h1v1h1v-3zm13 1h2v2h-2zm-113 1h2v2h-2zm10 2v1h1v-1zm88 0v1h1v1h3v-2h-1v1h-1v-1zm18 0h2v2h-2zm-120 1h2v2h-2zm12 2v1h1v-1zm106 0h2v4h-2zm-117 2h2v2h-1v1h1v2h-2v-1h-2v-2h1v-1h1zm110 0h2v2h2v2h-2v-1h-2zm-11 1v1h1v1h2v-1h-1v-1zm6 0v1h1v-1zm-92 4v1h1v-1zm87 1v2h1v-2zm12 0h2v2h-1v1h-2v-1h1zm7 0h2v2h-2zm-14 2v2h1v2h1v-3h-1v-1zm-104 3h1v1h-1zm8 0v1h1v-1zm94 0v1h1v1h1v-1h-1v-1zm10 0h1v1h1v1h-2zm5 0h2v2h-2zm-2 2h2v2h-2zm-4 1h2v1h1v2h-2v-1h-1zm-12 2v3h-1v2h1v2h-2v2h1v-1h4v-1h1v-1h-1v-2h1v-2h-1v2h-1v1h-1v-2h1v-2h-1v-1zm-6 1v1h1v-1zm12 0v1h1v-1zm10 0h2v2h-2zm-111 1v3h1v1h1v-3h-1v-1zm106 0h2v1h1v1h-3zm9 3h2v2h-2zm-24 4v1h-1v1h-1v1h1v-1h2v-2zm-89 1v3h1v-3zm103 0h1v1h-1zm-8 1h1v2h-1zm-13 1v1h-1v2h1v-2h1v-1zm-94 1h2v2h-2zm116 0h2v2h-2zm-16 2h1v1h-1zm29 0h2v1h-1v1h-1zm-123 1h2v4h1v1h-3v-2h1v-1h-1zm87 0v1h1v-1zm19 0h1v1h-1zm-17 1v2h2v-1h-1v-1zm18 1h1v1h-1zm-113 1h2v2h-2zm89 0v1h1v-1zm3 1v2h-2v1h-1v1h2v-1h3v-1h-1v-2zm8 2h2v2h1v3h-1v-1h-1v-2h-1zm-102 2h2v2h-2zm11 1v1h-1v1h1v1h1v-1h2v1h1v-1h-1v-2zm82 0v2h1v-2zm6 2h2v2h1v1h-2v-1h-1zm6 0h2v2h-1v1h-2v-2h1zm-14 1v1h1v-1zm-74 1v1h3v-1zm69 0v2h1v1h1v-2h-1v-1zm3 0v1h1v-1zm27 0h2v2h-2zm-109 1h1v1h1v1h2v2h-4zm76 0v1h-1v1h2v1h2v-1h-1v-2zm8 1v3h2v-1h-1v-2zm10 0h1v1h-1zm-79 2v1h1v-1zm77 0h1v1h1v2h-2v-1h-1v-1h1zm-79 1v1h1v-1zm48 0v1h2v-1zm21 2h2v2h-2zm-22 1v1h-1v3h1v-3h2v-1zm8 0h1v2h-1zm-52 1v1h-4v1h4v-1h1v-1zm57 0h2v2h1v2h-2v-2h-1zm15 0h2v2h-2zm-85 1h1v2h1v1h1v2h-2v-2h-1zm15 0v2h2v-2zm59 0h2v2h-2zm-37 1v2h1v-2zm8 0v3h1v-3zm47 0h2v2h-2zm-95 1h2v2h-2zm79 0h2v2h-2zm-72 1h3v2h-3zm37 0v1h-2v2h1v-1h2v-2zm8 0v1h-1v2h1v-2h1v-1zm12 0h2v1h2v2h-2v-1h-3v-1h1zm-35 1v2h1v-2zm45 0h2v2h-2zm-28 1v1h1v-1zm-7 1v1h1v-1zm52 0h2v2h-2zm-83 1h1v2h-1zm4 0h2v2h-2v1h-2v-2h2zm44 0h2v1h-2zm19 0h2v2h-2zm-56 1h3v1h-1v1h-2zm14 1h2v2h-2zm8 2h2v2h-2zm9 0h1v2h-1zm4 0h2v1h1v2h-2v-1h-1zm-41 1h2v2h-2zm-12 3h2v2h-2zm45 0h2v2h-2zm-23 1h3v2h-3zm-10 1h2v2h-2zm10 2h2v2h-2zm16 0h2v2h-2zm-21 1h1v2h-1zm-2 5h2v2h-2z"/>
<path fill-opacity="0.475" d="M105 4h2v2h-2zm-5 7h2v2h-2zm-61 1h1v1h-1zm28 1h2v2h-2zm-13 1h2v2h-2zm11 0h1v2h-1zm-3 1h1v1h-1zm21 1h1v1h-1zm9 0h1v2h-1zm-24 2h3v2h-3zm5 1h2v2h-2zm-26 1h2v1h-2zm8 0h1v2h-1zm3 0h2v1h-2zm44 0h2v2h-2zm-57 1h2v1h-2zm18 0h6v2h-1v2h-1v1h2v-1h2v2h-1v2h5v-1h-3v-3h1v-2h3v-1h3v1h2v2h-2v-1h-1v1h1v1h1v2h-2v-1h-1v-2h-1v2h1v1h1v4h1v-1h1v-2h2v1h1v-1h-1v-1h1v-1h3v-1h1v-1h4v3h-2v1h1v1h2v-3h2v5h1v2h1v1h2v2h-1v1h-1v1h2v1h1v-3h1v-1h1v1h3v-1h3v-1h1v2h-2v1h-2v2h1v-1h1v1h4v2h-3v-1h-2v1h-2v-1h-2v2h3v1h1v-1h1v2h-1v1h3v1h1v2h-1v1h1v1h5v-3h-2v1h-1v-2h1v-1h-1v-1h-2v1h-1v-2h1v-1h2v1h4v2h-1v-1h-1v2h2v1h1v2h2v2h-3v1h-3v2h-1v2h2v1h-3v4h1v2h-1v-1h-1v-2h-1v-2h-1v-1h-1v2h1v3h1v1h2v1h-1v1h1v2h-2v2h-1v2h-1v3h1v2h-2v-1h-1v2h-1v-1h-1v1h1v1h-1v1h-1v1h-1v2h2v-2h2v-2h2v2h-1v1h-1v2h-3v2h-1v1h2v2h2v1h-1v1h-3v1h-1v1h-2v-1h-1v-1h-1v-1h-1v-1h-3v1h1v2h-1v2h2v3h-2v2h-4v-1h-1v1h-1v1h-2v1h-1v1h-2v1h1v1h1v1h-2v1h-2v-2h-1v2h-2v-2h-2v1h-1v2h2v1h-1v1h1v1h-4v-1h-1v-1h1v-1h-2v-1h-1v1h-1v1h-2v-1h-1v1h1v2h2v1h-1v2h1v2h-2v-1h-1v-2h-1v-1h-1v1h-3v4h1v-2h1v-1h1v1h2v2h-1v1h-6v-2h-2v-1h-1v2h2v1h1v1h-1v1h-2v-1h-2v-2h-1v1h-2v1h-4v-2h3v-2h-1v-1h-1v1h-2v3h-1v-4h-3v1h2v2h-3v-2h-1v-1h-1v2h-2v-4h-1v-1h-2v1h-1v2h2v2h-1v-1h-2v-1h-1v1h-3v2h-2v-1h-1v-2h1v-1h2v-1h2v-3h-2v1h-1v-1h-1v1h-2v-1h-2v1h-1v-1h-1v-1h-1v-2h1v-1h1v1h2v2h1v-2h1v-1h1v-1h-1v1h-4v-1h1v-2h2v-1h-1v-1h-1v-1h-1v1h-1v1h1v2h-2v1h-1v-1h-1v-1h-1v1h-2v-2h-1v-1h-1v-2h2v1h1v2h1v-2h3v-1h-2v-3h-1v1h-3v-1h1v-1h2v-2h1v1h1v-1h-1v-1h-2v-2h3v-3h-2v1h-2v-2h2v-1h-2v1h-3v-1h2v-1h2v-1h2v2h1v-3h-2v-1h-2v-1h-1v3h-2v-4h2v-2h2v2h2v-4h-1v-1h-1v1h-2v-2h-1v-1h-1v-2h1v1h1v1h3v-1h1v-3h-1v-2h1v1h1v1h4v-1h-4v-2h1v-2h-1v1h-1v-1h-2v-1h-1v-1h1v-2h2v3h2v-1h1v-3h1v-1h-1v-1h-1v-2h2v1h1v1h1v-1h-1v-2h-3v1h-2v-2h2v-1h1v1h1v-2h2v-1h2v-1h2v1h1v-2h-1v-2h-1v-2h1v-2h1v-1h1v2h1v-2h-1v-1h1v-1h3v-1h3v1h1v-3h2v-2h1v-1h1v1h1v1h1v1h2v-1h-2v-1h2v-1h-1v-2h1v-2h2v1h1v1h1v-1h-1v-3h2v2h3v-1h-1v-1h1v-1h2v6h1v1h1v-3h-1v-4h2v1h1v3h5v1h1v-4h-1v2h-3v-3h3v-1h2zm17 0h3v2h-2v-1h-1zm-14 1v1h-2v3h1v-2h1v-1h1v-1zm4 0h1v2h-2v-1h1zm28 0h1v2h-1zm-54 1h1v1h-1zm-5 1h1v2h-1zm-13 1h1v2h-1zm7 1h1v3h-1v1h-2v-1h1v-2h1zm2 0h2v1h-1v1h-1zm67 0h2v2h-2zm-37 1v2h1v-2zm41 0h2v3h-1v-1h-1zm-39 2v1h1v-1zm18 0v1h1v-1zm13 1h1v1h-1zm-82 1h2v2h-2zm81 0h1v1h1v2h-2zm7 0h2v2h-2zm7 0h2v2h-2zm3 0h1v2h-1zm-77 2v1h1v-1zm66 0h1v3h-2v-1h-1v-1h2zm-21 1v1h1v-1zm11 0v1h1v-1zm18 2h2v1h-2zm-81 1v1h-1v1h-1v1h1v-1h1v-1h1v-1zm88 0h2v2h-2zm-27 2v1h2v-1zm21 0h2v2h-2zm3 0h1v1h-1zm-105 1h2v2h-2zm11 0h1v1h-1zm4 1v1h2v-1zm3 1v1h1v-1zm97 0h1v2h-1zm-109 2h2v2h-2zm4 0h1v2h-2v-1h1zm97 0h2v2h-2zm4 0h1v1h-1zm-23 1v1h-1v1h1v-1h1v-1zm17 1h1v1h-1zm8 0h1v2h-1zm-23 2v2h1v-1h1v-1zm5 0v1h1v-1zm-85 1v1h1v-1zm-13 1h1v2h-2v-1h1zm95 1v2h1v-2zm4 1v1h3v-1zm18 0h2v2h-2zm-18 2v1h-1v1h2v1h2v-1h-1v-1h-1v-1zm7 0h1v1h-1zm4 0h1v1h1v1h-2zm-110 1h2v1h-1v1h-2v-1h1zm13 1v1h2v-1zm99 0h2v2h-2zm-15 2v1h-1v1h1v-1h1v-1zm11 0h1v2h-1zm-95 1v2h1v-2zm91 1h4v3h-2v-1h-2zm8 0h2v2h-2zm7 0h1v1h-1zm-10 3h2v3h-2zm-5 1h2v3h1v1h-2v-2h-1zm-101 1h2v4h-2zm104 0h1v1h-1zm-98 3v1h1v-1zm88 1v1h1v-1zm5 0h1v1h1v1h-3v-1h1zm3 0h2v2h-1v2h-1v3h-2v-2h1v-3h1zm7 0h3v2h-1v-1h-2zm-21 2v1h1v-1zm3 0v1h1v1h1v-2zm13 0h2v1h-2zm5 1h1v2h-1zm-112 1h2v2h-2zm101 0h2v1h-2zm-101 3h1v1h-1zm103 1h1v2h-1v1h-3v-2h3zm-105 1h1v1h-1zm90 4v4h-1v1h-1v1h1v-1h2v-3h1v-1h1v-1zm-93 1h2v1h-2zm116 0h2v2h-2zm-14 2h2v2h-2zm3 0h1v2h1v1h-2zm-98 1h1v2h-2v-1h1zm88 1v1h-1v1h1v2h1v-1h1v-3zm-95 2h2v2h-2zm7 0h1v1h1v1h-2zm85 4h2v2h-2zm8 0h2v2h1v1h-2v-2h-1zm-93 2h1v1h-1zm81 0v1h1v-1zm4 1h1v2h-1v1h-1v-2h1zm3 0h1v2h-2v-1h1zm-16 1v1h2v-1zm18 1h2v1h-2zm6 0h1v1h-1zm-82 1v1h1v-1zm52 1v1h1v-1zm13 0h2v3h-1v2h-1v-1h-1v-1h-1v-1h2zm4 0h1v1h1v2h1v2h-2v-3h-1zm-85 1h1v1h3v2h-4zm75 1h1v1h1v1h3v2h-4v-2h-1zm-15 1v1h1v1h2v1h1v-2h-2v-1zm23 0h1v1h-1zm1 1h1v1h-1zm8 0h1v1h-1zm-75 1v2h1v-2zm3 0v1h1v-1zm68 3h2v2h-2zm-57 1v1h1v-1zm9 0v2h-1v1h2v-3zm9 0v1h-1v4h1v-1h1v-1h-1v-2h1v-1zm11 0h2v2h-2zm17 0h2v2h-2zm-67 1h2v2h-2zm6 0h1v1h-1zm20 0v1h1v1h1v-1h-1v-1zm38 0h2v2h-2zm-61 1h1v1h-1zm66 0h2v1h-2zm-75 1h1v1h-1zm3 0h2v2h-2zm36 0v1h-1v2h2v-1h1v-2zm21 1h1v1h-1zm10 0h2v2h-2zm-14 1h1v1h-1zm-32 2h2v1h-2zm47 0h2v2h-2zm-65 1h2v2h-2zm6 0h1v1h-1zm4 0h1v1h-1zm3 0h2v2h-2zm5 2h2v1h1v2h-1v1h-1v-1h-1v-1h1v-1h-1zm11 0h1v1h-1zm-12 1h1v1h-1zm14 0h2v1h-2zm-7 1h2v2h-2zm3 0h2v2h-2zm18 0h1v2h-1zm-31 4h1v2h-1zm-10 1h1v1h-1zm2 8h2v2h-2z"/>
<path fill-opacity="0.714" d="M101 11h1v1h-1zm-20 10h1v2h-1zm-20 1h2v2h-2zm3 0h1v1h-1zm-14 1h2v2h-2zm24 0h3v2h-1v2h1v2h1v2h-1v1h1v1h1v-2h4v2h2v-1h1v-1h1v-1h1v-1h-2v-3h2v-1h1v5h3v-2h2v2h-1v2h-1v1h-1v3h1v-1h2v-1h2v1h2v1h-1v1h-1v-1h-1v1h1v2h-1v1h4v-2h1v1h2v-1h1v1h1v2h-3v2h-1v1h-1v1h-1v1h-1v1h1v1h1v-2h1v-1h1v-2h2v2h-1v1h1v2h-3v2h2v1h-1v1h1v2h-1v1h-1v1h1v-1h1v-1h2v-1h2v2h-1v1h1v1h-1v1h-2v2h1v-1h2v3h1v1h1v1h1v2h1v2h-3v1h-3v1h3v1h-1v1h-1v1h-2v-3h-1v1h-2v1h1v2h1v4h-1v1h-1v1h1v1h-1v1h-2v-1h-2v1h-1v4h-2v-2h-1v2h1v3h-3v1h2v2h-1v2h-2v1h-1v1h2v1h1v1h-1v1h-2v-1h-1v-1h-1v1h-1v2h-1v-1h-1v1h-2v-2h3v-1h-3v1h-1v1h-1v1h-3v-1h-1v2h4v1h1v2h1v1h-1v1h-2v-1h1v-1h-1v-1h-1v1h-1v1h-1v-1h-2v1h-2v-2h-3v-1h-1v3h1v1h-2v2h-2v-1h-1v1h1v4h1v1h1v2h-2v-1h-1v-2h-1v-1h-2v1h-1v-1h-1v1h-1v-3h1v-2h-1v-2h-1v2h1v2h-2v2h-1v3h-2v-2h-4v-2h1v-2h-1v1h-1v1h-1v1h-2v-1h-1v1h1v3h-1v-1h-2v-1h-1v1h-2v-3h1v-1h-1v-1h-1v5h-1v2h-2v-3h1v-1h-1v-1h2v-1h-1v-1h-1v1h-3v1h-3v-1h1v-1h-8v-2h1v-2h2v-2h-1v1h-3v-1h2v-2h2v-2h-3v1h-1v-1h-4v-1h1v-2h-1v1h-1v-2h-1v-2h2v-1h1v-2h-1v1h-3v-2h2v-1h1v-2h-3v-1h1v-1h2v-2h-1v-4h-1v-3h1v-1h-1v-1h-1v-1h1v-3h1v-1h1v-1h3v-1h1v-1h-2v1h-2v-2h1v-2h-1v-2h4v2h1v-2h-1v-1h-2v-3h-1v-2h2v1h2v-2h1v-1h-1v1h-2v-2h-1v-1h1v-1h1v-1h1v2h-1v1h1v-1h2v1h1v-2h-2v-2h2v1h1v-2h-1v-2h-1v-2h2v2h1v-1h1v2h3v1h1v-1h-1v-1h-1v-2h1v-3h2v-1h-1v-1h2v1h2v-4h1v2h1v-1h1v-1h-2v-1h1v-1h2v5h-1v1h1v-1h1v-3h2v-2h1v-1h1v2h1v-1h1v-1h-1v-2h2v-1h4v1h1v1h1v1h1v-2h1v-1h2v1h3v1h1v-1h2v-1h-1v-1h3v1h-1v2h2v-3h-1v-1h1v-1h1v3h1v2h-1v1h2v-1h2v1h2v-1h2v1h1v-1h-1v-1h-1v-1h-1v-1h1zm5 0h1v1h1v1h-2zm-34 1h2v3h-2zm9 0h1v3h-1zm4 0h3v2h-2v-1h-1zm11 1h1v2h-2v-1h1zm8 0h1v1h-1zm-34 1h1v3h-1v1h-1v-3h1zm35 0h1v1h-1zm24 0h2v2h-2zm-19 1h2v3h1v1h-3zm23 1h2v1h-2zm-26 1h2v1h-2zm-24 1v1h1v-1zm5 0v1h1v-1zm32 2h2v1h-2zm4 0h1v1h-1zm1 1h1v1h-1zm-28 1v1h1v-1zm12 0v1h1v-1zm20 0h2v1h-2zm-52 1v1h1v-1zm30 0v1h1v-1zm-51 1h1v1h-1zm76 0h1v1h-1zm-78 1h2v2h-2zm73 0h1v1h-1zm-68 2v1h-1v1h2v-2zm59 0v2h1v-1h2v-1zm-66 1h1v1h-1zm83 0h2v2h-2zm1 4h1v1h-1zm2 0h2v1h-1v1h-1zm-7 2h4v1h1v2h-2v-1h-3zm8 1h1v1h-1zm2 1h1v1h-1zm-89 1v1h1v-1zm-11 1h3v1h-1v1h-2zm84 0v2h1v-2zm5 0h5v1h1v1h-6zm11 0h3v2h-3zm-4 1h1v2h-1v2h-2v-2h1v-1h1zm2 0h1v1h1v1h-2zm-89 1v1h1v-1zm-1 2v1h1v-1zm-15 1h1v1h-1zm110 0h1v1h-1zm-97 1v1h2v-1zm87 2h1v1h-1zm-95 1h1v1h-1zm96 0h2v1h-2zm5 1h2v2h-2zm6 0h2v2h-2zm-20 4v1h1v-1zm5 0v1h1v-1zm7 0h2v2h-2zm5 0h2v1h-2zm-10 1v1h1v-1zm-96 2h2v2h-2zm6 1v1h1v1h1v-2zm-7 1h1v1h-1zm2 1h1v2h-1zm87 0v2h1v-2zm14 0h1v1h-1zm-95 1v1h1v-1zm94 0h1v1h1v1h-2zm-100 4h1v2h2v2h-2v-1h-1v-1h-1v-1h1zm92 0h1v2h-1zm8 0h1v1h-1zm-103 2h1v1h-1zm10 1v2h2v-1h-1v-1zm74 0v1h1v-1zm15 0h1v1h-1zm3 0h1v1h-1zm-5 1h1v2h-2v-1h1zm-14 1v2h1v-2zm-79 1h2v2h-2zm91 0h1v2h-2v-1h1zm-5 2h2v1h1v2h-3v1h-2v-3h2zm-4 4h2v3h1v1h-2v-1h-1zm5 1h2v1h1v2h-2v-1h-1zm-97 1h2v2h-2zm9 4h1v1h-1zm75 0v1h1v-1zm5 1h2v2h-2zm-72 1v1h1v-1zm64 0v1h1v-1zm-73 3h1v1h1v1h1v1h-2v-1h-1zm3 1h2v1h2v2h-3v-2h-1zm8 0h1v1h-1zm58 1h2v1h-2zm10 0h1v2h-1v2h-2v-2h1v-1h1zm4 1h1v1h-1zm-86 1h4v1h-3v1h-1zm18 1v2h-2v2h2v-2h1v-2zm59 1h2v2h-1v-1h-1zm-67 1h2v1h1v1h-1v1h-2zm10 0v1h1v-1zm4 1v1h1v-1zm5 0v1h1v-1zm24 1v1h1v-1zm10 0h3v2h-1v1h-2zm25 1h2v2h-2zm-36 1v1h1v-1zm-42 1h2v1h-2zm11 1h2v2h-2zm-14 1h2v2h-2zm11 0h1v1h-1zm21 0h1v1h-1zm-24 1h3v2h-2v-1h-1zm17 1h2v1h-1v1h-1zm8 0h2v1h1v1h-3zm4 0h1v1h1v2h2v2h-1v-1h-3zm9 1h2v2h-2zm-15 1h2v1h1v1h-3zm-15 1h2v1h-1v1h-1zm6 4h1v1h-1zm5 0h1v1h-1zm3 1h1v1h-1z"/>
</g>
<path fill="#fff" fill-rule="evenodd" d="M206.9 605.1L213.1 608.8 229.1 616.2 245 615.8 260.9 614.9 276.8 610.1 285.9 605.1 292.7 602.2 307.9 589.1 308.7 588.1 324.6 573.2 324.6 573.2 335.6 557.2 340.5 547.4 344.3 541.3 346.4 525.3 341.3 509.4 340.5 507.7 331 493.4 324.6 488.4 312.5 477.5 308.7 475.1 292.7 469.5 276.8 468.6 260.9 466.5 245 474.1 229.1 477.5 229 477.5 215.5 493.4 213.1 496.1 200.5 509.4 197.2 516.7 193.3 525.3 188 541.3 186.7 557.2 188.9 573.2 194.6 589.1 197.2 594.4Z"/>
<g shape-rendering="crispEdges">
<path fill="#fafbfe" fill-opacity="0.025" d="M157.4 597.1H173.3V613H157.4ZM157.4 581.1H173.3V597.1H157.4ZM157.4 565.2H173.3V581.1H157.4ZM157.4 549.3H173.3V565.2H157.4ZM157.4 533.3H173.3V549.3H157.4ZM173.3 613H189.3V629H173.3ZM173.3 597.1H189.3V613H173.3ZM173.3 501.4H189.3V517.4H173.3ZM173.3 485.5H189.3V501.4H173.3ZM189.3 629H205.2V644.9H189.3ZM189.3 469.5H205.2V485.5H189.3ZM205.2 644.9H221.1V660.9H205.2ZM205.2 629H221.1V644.9H205.2ZM205.2 453.6H221.1V469.5H205.2ZM221.1 629H237V644.9H221.1ZM237 629H252.9V644.9H237ZM237 437.6H252.9V453.6H237ZM252.9 629H268.9V644.9H252.9ZM252.9 437.6H268.9V453.6H252.9ZM268.9 629H284.8V644.9H268.9ZM268.9 437.6H284.8V453.6H268.9ZM284.8 613H300.7V629H284.8ZM284.8 437.6H300.7V453.6H284.8ZM300.7 613H316.6V629H300.7ZM300.7 437.6H316.6V453.6H300.7ZM316.6 597.1H332.5V613H316.6ZM316.6 437.6H332.5V453.6H316.6ZM332.5 613H348.5V629H332.5ZM332.5 597.1H348.5V613H332.5ZM332.5 437.6H348.5V453.6H332.5ZM348.5 581.1H364.4V597.1H348.5ZM348.5 565.2H364.4V581.1H348.5ZM348.5 453.6H364.4V469.5H348.5ZM364.4 565.2H380.3V581.1H364.4ZM364.4 549.3H380.3V565.2H364.4ZM364.4 485.5H380.3V501.4H364.4ZM364.4 469.5H380.3V485.5H364.4ZM380.3 533.3H396.2V549.3H380.3ZM380.3 517.4H396.2V533.3H380.3ZM380.3 501.4H396.2V517.4H380.3ZM380.3 485.5H396.2V501.4H380.3Z"/>
<path fill="#f6f8fe" fill-opacity="0.050" d="M173.3 517.4H189.3V533.3H173.3ZM189.3 613H205.2V629H189.3ZM189.3 485.5H205.2V501.4H189.3ZM221.1 453.6H237V469.5H221.1ZM316.6 453.6H332.5V469.5H316.6ZM332.5 581.1H348.5V597.1H332.5ZM332.5 469.5H348.5V485.5H332.5ZM332.5 453.6H348.5V469.5H332.5ZM348.5 485.5H364.4V501.4H348.5ZM348.5 469.5H364.4V485.5H348.5ZM364.4 533.3H380.3V549.3H364.4ZM364.4 517.4H380.3V533.3H364.4ZM364.4 501.4H380.3V517.4H364.4Z"/>
<path fill="#f1f4fd" fill-opacity="0.075" d="M173.3 581.1H189.3V597.1H173.3ZM173.3 565.2H189.3V581.1H173.3ZM173.3 549.3H189.3V565.2H173.3ZM173.3 533.3H189.3V549.3H173.3ZM205.2 613H221.1V629H205.2ZM205.2 469.5H221.1V485.5H205.2ZM237 453.6H252.9V469.5H237ZM252.9 613H268.9V629H252.9ZM268.9 613H284.8V629H268.9ZM284.8 453.6H300.7V469.5H284.8ZM300.7 597.1H316.6V613H300.7ZM300.7 453.6H316.6V469.5H300.7ZM316.6 581.1H332.5V597.1H316.6ZM332.5 565.2H348.5V581.1H332.5ZM348.5 549.3H364.4V565.2H348.5ZM348.5 533.3H364.4V549.3H348.5ZM348.5 517.4H364.4V533.3H348.5ZM348.5 501.4H364.4V517.4H348.5Z"/>
<path fill="#ecf0fc" fill-opacity="0.100" d="M189.3 597.1H205.2V613H189.3ZM221.1 613H237V629H221.1ZM237 613H252.9V629H237ZM252.9 453.6H268.9V469.5H252.9ZM268.9 453.6H284.8V469.5H268.9ZM316.6 469.5H332.5V485.5H316.6ZM332.5 549.3H348.5V565.2H332.5ZM332.5 485.5H348.5V501.4H332.5Z"/>
<path fill="#e7ecfb" fill-opacity="0.125" d="M189.3 501.4H205.2V517.4H189.3ZM205.2 485.5H221.1V501.4H205.2ZM284.8 597.1H300.7V613H284.8ZM300.7 581.1H316.6V597.1H300.7Z"/>
<path fill="#e2e8fa" fill-opacity="0.150" d="M189.3 581.1H205.2V597.1H189.3ZM205.2 597.1H221.1V613H205.2ZM221.1 469.5H237V485.5H221.1ZM237 469.5H252.9V485.5H237ZM300.7 469.5H316.6V485.5H300.7ZM316.6 565.2H332.5V581.1H316.6ZM316.6 485.5H332.5V501.4H316.6ZM332.5 533.3H348.5V549.3H332.5ZM332.5 501.4H348.5V517.4H332.5Z"/>
<path fill="#dee5fa" fill-opacity="0.175" d="M189.3 517.4H205.2V533.3H189.3ZM268.9 597.1H284.8V613H268.9ZM332.5 517.4H348.5V533.3H332.5Z"/>
<path fill="#d9e1f9" fill-opacity="0.200" d="M189.3 565.2H205.2V581.1H189.3ZM268.9 469.5H284.8V485.5H268.9ZM284.8 469.5H300.7V485.5H284.8Z"/>
<path fill="#d4ddf8" fill-opacity="0.225" d="M189.3 533.3H205.2V549.3H189.3ZM205.2 501.4H221.1V517.4H205.2ZM221.1 597.1H237V613H221.1ZM221.1 485.5H237V501.4H221.1ZM237 597.1H252.9V613H237ZM252.9 597.1H268.9V613H252.9ZM252.9 469.5H268.9V485.5H252.9ZM300.7 565.2H316.6V581.1H300.7ZM316.6 549.3H332.5V565.2H316.6ZM316.6 501.4H332.5V517.4H316.6Z"/>
<path fill="#d0daf8" fill-opacity="0.250" d="M189.3 549.3H205.2V565.2H189.3ZM284.8 581.1H300.7V597.1H284.8ZM300.7 485.5H316.6V501.4H300.7ZM316.6 533.3H332.5V549.3H316.6Z"/>
<path fill="#c6d2f6" fill-opacity="0.300" d="M205.2 581.1H221.1V597.1H205.2ZM316.6 517.4H332.5V533.3H316.6Z"/>
<path fill="#c1cef5" fill-opacity="0.325" d="M268.9 581.1H284.8V597.1H268.9ZM284.8 485.5H300.7V501.4H284.8Z"/>
<path fill="#bccaf4" fill-opacity="0.350" d="M237 485.5H252.9V501.4H237Z"/>
<path fill="#b8c7f4" fill-opacity="0.375" d="M205.2 517.4H221.1V533.3H205.2ZM221.1 581.1H237V597.1H221.1ZM221.1 501.4H237V517.4H221.1ZM284.8 565.2H300.7V581.1H284.8ZM300.7 549.3H316.6V565.2H300.7ZM300.7 501.4H316.6V517.4H300.7Z"/>
<path fill="#b3c3f3" fill-opacity="0.400" d="M205.2 565.2H221.1V581.1H205.2ZM205.2 533.3H221.1V549.3H205.2ZM237 581.1H252.9V597.1H237ZM252.9 581.1H268.9V597.1H252.9ZM268.9 485.5H284.8V501.4H268.9Z"/>
<path fill="#aebff2" fill-opacity="0.425" d="M252.9 485.5H268.9V501.4H252.9Z"/>
<path fill="#aabcf2" fill-opacity="0.450" d="M205.2 549.3H221.1V565.2H205.2ZM300.7 533.3H316.6V549.3H300.7ZM300.7 517.4H316.6V533.3H300.7Z"/>
<path fill="#9bb0ef" fill-opacity="0.525" d="M237 501.4H252.9V517.4H237ZM268.9 565.2H284.8V581.1H268.9Z"/>
<path fill="#92a9ee" fill-opacity="0.575" d="M221.1 565.2H237V581.1H221.1ZM284.8 501.4H300.7V517.4H284.8Z"/>
<path fill="#8da5ed" fill-opacity="0.600" d="M221.1 517.4H237V533.3H221.1ZM268.9 501.4H284.8V517.4H268.9ZM284.8 549.3H300.7V565.2H284.8Z"/>
<path fill="#88a1ec" fill-opacity="0.625" d="M237 565.2H252.9V581.1H237ZM284.8 533.3H300.7V549.3H284.8ZM284.8 517.4H300.7V533.3H284.8Z"/>
<path fill="#849eec" fill-opacity="0.650" d="M252.9 565.2H268.9V581.1H252.9Z"/>
<path fill="#7f9aeb" fill-opacity="0.675" d="M252.9 501.4H268.9V517.4H252.9Z"/>
<path fill="#7a96ea" fill-opacity="0.700" d="M221.1 549.3H237V565.2H221.1ZM221.1 533.3H237V549.3H221.1ZM268.9 549.3H284.8V565.2H268.9Z"/>
<path fill="#708ee8" fill-opacity="0.750" d="M237 517.4H252.9V533.3H237Z"/>
<path fill="#6c8be8" fill-opacity="0.775" d="M268.9 517.4H284.8V533.3H268.9Z"/>
<path fill="#6283e6" fill-opacity="0.825" d="M252.9 549.3H268.9V565.2H252.9ZM268.9 533.3H284.8V549.3H268.9Z"/>
<path fill="#5e80e6" fill-opacity="0.850" d="M237 533.3H252.9V549.3H237ZM252.9 517.4H268.9V533.3H252.9Z"/>
<path fill="#5478e4" fill-opacity="0.900" d="M237 549.3H252.9V565.2H237Z"/>
<path fill="#4169e1" fill-opacity="1.000" d="M252.9 533.3H268.9V549.3H252.9Z"/>
</g>
<path class="c" d="M206.9 605.1L213.1 608.8 229.1 616.2 245 615.8 260.9 614.9 276.8 610.1 285.9 605.1 292.7 602.2 307.9 589.1 308.7 588.1 324.6 573.2 324.6 573.2 335.6 557.2 340.5 547.4 344.3 541.3 346.4 525.3 341.3 509.4 340.5 507.7 331 493.4 324.6 488.4 312.5 477.5 308.7 475.1 292.7 469.5 276.8 468.6 260.9 466.5 245 474.1 229.1 477.5 229 477.5 215.5 493.4 213.1 496.1 200.5 509.4 197.2 516.7 193.3 525.3 188 541.3 186.7 557.2 188.9 573.2 194.6 589.1 197.2 594.4ZM219.4 589.1L229.1 594.5 245 595.3 260.9 596 276.7 589.1 276.8 589.1 292.7 579.8 298.4 573.2 308.7 563 314 557.2 318.2 541.3 321.8 525.3 313.3 509.4 308.7 503.6 292.7 493.4 292.7 493.4 276.8 488.2 260.9 486.4 245 492.4 243.1 493.4 229.1 503.8 223.9 509.4 213.1 519.6 209 525.3 206.4 541.3 204.1 557.2 208 573.2 213.1 583.5ZM236.6 573.2L245 575.3 260.9 576.9 268.4 573.2 276.8 567.1 292.7 557.2 292.7 557.2 294.2 541.3 294.6 525.3 292.7 519.3 281.1 509.4 276.8 508.5 260.9 504.5 252.5 509.4 245 514.8 229.5 525.3 229.1 526 223.9 541.3 222.7 557.2 229.1 569.9ZM241.1 557.2L245 560 254.6 557.2 260.9 554.6 275.1 541.3 260.9 525.3 245 539.1 243.5 541.3Z"/>
<path class="tr" d="M261.6 389.8V708.7"/>
<path class="th" d="M141.5 541.4H459.9"/>
<rect x="254.3" y="533.9" width="14.7" height="15.3" fill="#4682b4"/>
</g>
<clipPath id="k1"><rect x="141.5" y="724" width="318.4" height="318.9"/></clipPath>
<g clip-path="url(#k1)">
<g transform="translate(139.29 721.79) scale(2.212)" fill="#4169e1" filter="url(#bl)">
<path fill-opacity="0.070" d="M62 1h2v2h-2zm-19 3h2v2h-2zm4 2h2v2h-2zm-16 2h2v2h-2zm20 0h2v2h-2zm28 2h2v2h-2zm-57 1h2v2h-2zm19 0h2v1h1v2h-2v-1h-1zm7 0h2v2h-1v1h2v6h2v-1h2v-1h1v-1h-1v-2h2v2h1v1h2v-2h1v-1h2v2h-1v1h-1v2h-1v1h4v-2h-1v-2h4v1h1v2h2v3h1v1h1v-1h-1v-4h3v2h1v2h-1v1h3v-1h2v1h1v-2h1v-1h-2v-2h1v-1h1v-4h2v5h-1v1h1v3h-1v1h-1v2h-2v-1h-1v2h-1v1h2v-1h3v1h1v3h1v-1h3v2h1v-1h1v-1h-2v-1h-3v-1h-1v-2h-1v-2h2v2h1v-1h1v-2h2v1h1v1h1v1h1v1h2v3h2v2h-1v1h-1v3h-1v1h1v1h3v1h1v-1h-1v-2h2v2h1v-2h1v-1h1v-2h4v2h-3v2h-1v1h1v2h1v2h1v2h1v-1h1v-2h-1v-1h-1v-1h-1v-2h4v4h1v-3h2v3h1v-1h2v-1h-2v-4h-2v1h-2v-2h2v-1h4v5h2v2h1v2h-5v2h-1v1h1v1h1v-2h2v2h-1v2h-2v-1h-2v1h2v1h2v-1h3v2h2v3h1v-2h4v-1h2v2h-2v1h-1v1h1v1h2v1h1v4h1v2h1v4h-1v2h-2v-1h-2v-2h1v-1h2v-1h-2v-2h1v-1h-1v-1h-1v-3h-3v-1h-2v2h3v4h1v2h-2v-1h-1v-1h-1v-2h-1v-1h-3v-1h-1v-3h1v-1h2v-1h-3v1h-2v-2h-2v1h1v2h1v3h2v1h1v1h2v5h4v1h2v5h-2v-1h-1v3h-1v1h2v1h1v3h1v-1h2v-1h1v-3h2v4h-1v1h1v1h1v1h1v2h-2v-1h-1v-1h-1v-2h-1v1h-2v1h-2v2h1v1h2v2h1v2h-2v-2h-1v2h-2v3h-1v2h5v2h-8v-2h1v-1h-1v-2h2v-1h-3v1h-1v1h-2v1h2v2h1v2h2v2h-2v-1h-2v-1h-3v1h2v1h2v2h-2v2h-1v1h-1v3h1v-1h1v-1h1v-2h2v2h-1v4h-4v-1h-1v1h-2v-2h-1v2h-2v-1h-1v-1h-2v1h-1v2h-1v1h1v2h-1v2h1v-1h2v1h1v2h-2v-1h-1v3h-2v-4h-5v-2h-1v1h-1v1h-2v1h1v2h-2v-1h-1v1h1v1h1v1h1v-2h1v-1h1v-1h3v3h-1v1h-3v3h-1v1h-2v-3h-1v-1h-3v-3h1v-1h2v-2h-1v-1h-1v2h-1v2h-1v4h1v2h1v2h-2v-1h-2v1h-1v1h-1v1h1v2h-2v-1h-1v-2h1v-1h-1v1h-2v-2h-1v-1h-1v-2h1v-1h1v-4h-1v2h-1v2h-1v1h-1v1h1v2h-2v-1h-2v1h1v1h2v2h-1v1h3v2h-4v-2h-1v-1h-2v3h-2v-1h-2v-1h-1v1h1v1h2v1h1v2h-2v-1h-1v-1h-2v-2h-2v3h-4v-1h-2v-1h-2v-2h-2v-2h4v-1h-3v-1h-1v1h-2v1h1v2h-1v2h-1v2h-2v-3h1v-1h-2v-2h-1v2h-2v-3h-1v2h-2v-1h-1v2h-1v1h-5v-2h1v-3h-1v2h-6v-2h5v-5h-1v-3h1v-1h-2v3h-1v1h-2v-2h1v-1h-1v1h-2v-1h-1v1h-3v-2h3v-1h-1v-2h2v2h1v1h1v-3h-2v-4h-1v-1h-2v1h-2v-2h-2v-1h-2v-2h2v1h1v-1h1v-1h1v-1h-1v1h-2v-2h2v-1h-2v1h-3v-1h-1v2h-2v-3h1v-1h1v-2h2v-1h-2v1h-2v-1h-2v-2h1v-2h2v2h2v-2h-2v-4h-3v-1h-1v-2h-2v-2h4v3h1v-1h1v-1h-1v-2h-1v-2h1v-1h1v-1h1v-1h-1v1h-2v-2h2v-1h-2v-2h-2v-1h-1v-2h2v1h2v1h1v-1h-1v-2h-5v-2h2v-2h4v-1h-1v-3h-1v-2h2v1h1v-2h-1v-3h-3v-2h3v1h3v-1h-2v-2h2v1h2v-1h2v-2h-2v1h-3v-1h-2v-2h1v-1h-2v-2h2v1h2v2h-1v1h1v-1h2v-1h-1v-3h2v-4h-1v-2h2v2h1v-4h-1v-2h2v2h1v-1h1v-1h-1v-4h6v2h-4v2h1v2h-1v1h2v-2h1v-2h2v1h2v-1h1v-3h1v-1h2v1h2v1h2v-1h1v-3h-1v-2h1v-2h2v1h2v-1h3v2h-2v1h1v1h1v-1h2v1h1v1h1v-5h1v-3h-1v-2h1zm6 0h2v2h-2zm-3 1h2v1h1v3h-2v-2h-1zm13 1h4v2h-4zm10 0h2v2h-2zm-44 1h2v2h-2zm7 0h2v1h1v2h-2v-1h-1zm32 0h2v2h-2zm20 0h2v2h-2zm-17 2h2v2h-2zm3 0h2v1h2v2h-2v-1h-2zm9 0h2v2h-2zm11 0h2v2h-2zm-51 1h2v2h-2zm-13 1h2v2h-2zm-11 1h2v2h-2zm7 0h2v1h1v2h-2v-1h-1zm10 0v1h1v2h1v-2h-1v-1zm20 0v1h1v-1zm29 0h2v2h-2zm-63 1h2v2h-2zm43 0v1h1v-1zm28 0h2v2h-2zm-78 1h2v2h-2zm37 0v1h1v-1zm5 0v1h1v-1zm31 0h2v1h3v2h-4v-1h-1zm-63 1h2v2h-2zm77 0h2v4h-2zm-35 1v1h1v-1zm30 0h3v2h-3zm-53 1v1h2v-1zm-33 1h2v2h-2zm54 0v2h1v-2zm30 0h2v2h-2zm3 1h2v1h1v2h1v1h1v2h-2v-1h-1v-2h-1v-1h-1zm13 0h2v2h-2zm-18 1h2v2h-2zm-67 2v1h1v-1zm-1 2v1h1v1h1v-1h-1v-1zm-8 1v1h2v1h1v1h1v-2h-2v-1zm78 0h3v2h-3zm24 1h2v2h-1v1h-2v-2h1zm-114 1h2v2h-2zm88 0h2v2h-2zm-77 1v1h1v-1zm-8 1h3v2h-3zm8 2v1h-1v1h1v-1h1v-1zm101 1h2v2h-1v1h-2v-2h1zm-19 2v2h1v-1h1v-1zm-82 1v1h1v-1zm125 1h2v2h-2zm-137 1h2v2h-2zm120 0h2v2h-2zm-7 1h4v1h2v2h-1v1h-2v-2h-3zm-12 1v2h1v-2zm12 2h2v2h-2zm-115 2h2v2h-2zm9 0v1h2v-1zm95 0v1h1v-1zm19 2h2v2h-2zm3 0h2v2h-2zm-127 2h2v5h-2zm104 0v1h1v-1zm32 2h2v2h-2zm-129 1v1h1v-1zm132 0h2v2h-2zm-141 3h2v2h-2zm9 0v2h2v-2zm120 0h2v2h-2zm9 1h2v2h-2zm-127 2v1h1v-1zm119 0h2v1h1v4h-1v2h-2v-2h1v-3h-1zm10 2h2v2h-2zm-127 1v1h1v-1zm-13 2h2v2h-2zm112 0v1h1v-1zm3 0v1h1v-1zm12 0h2v3h-2zm-4 1h2v2h-2zm10 0h2v2h-2zm-12 3h2v2h-2zm-117 1h2v2h-2v1h-2v-2h2zm129 1h4v2h-4zm9 0h2v2h-2zm-14 1h2v2h-2zm-12 1v1h2v2h-2v-1h-1v2h2v1h1v-2h1v-3zm-3 1v1h1v-1zm-104 1v1h2v-1zm102 1v1h2v-1zm13 1h2v3h2v3h-2v-2h-2zm15 0h2v2h-2zm-129 2v3h1v-3zm120 0h2v2h-2zm14 0h2v2h-2zm-26 1v1h2v-1zm-114 1h2v2h-2zm111 0v1h2v-1zm-99 1v1h1v-1zm94 0v2h2v-1h-1v-1zm10 2h2v2h-2zm24 0h2v2h-2zm-18 2h2v4h-2zm-122 4h2v2h-2zm8 0v2h1v-1h1v-1zm121 0h4v2h-4zm-117 1v1h1v-1zm108 0h2v2h-2zm15 0h2v2h-2zm-33 1v1h1v-1zm-88 1v1h-1v1h1v2h1v-4zm99 0h2v1h1v2h-2v-1h-1zm-108 2h2v2h-2zm129 0h2v2h-2zm-133 1h2v1h1v2h-2v-1h-1zm98 0v1h1v-1zm4 1v1h-2v1h2v-1h1v-1zm17 0h2v2h-2v1h-2v-2h2zm-108 1v1h1v-1zm78 0v1h2v-1zm6 0v1h2v-1zm15 0h2v2h1v2h-4v-2h1zm4 0h2v2h-2zm-16 1v1h1v-1zm-98 3h2v4h-2zm3 0h2v2h-2zm3 0h3v2h1v2h-3v2h-2v-2h1zm11 0v1h1v-1zm-5 1h2v2h-1v1h-2v-2h1zm69 0v1h3v1h2v-1h-2v-1zm15 0h2v2h1v-1h4v2h-4v2h-2v-2h-1zm22 0h2v2h-2zm-10 1h2v1h1v2h-2v-1h-1zm-17 1v2h1v-2zm13 1h2v2h-2zm-5 2h2v2h-2zm7 0h2v2h1v2h-2v-2h-1zm-99 2h2v1h2v2h-2v-1h-2zm68 0v1h-1v1h-1v1h2v-2h1v-1zm-46 1v1h1v-1zm80 1h2v2h-2zm-84 1v2h-1v2h2v-1h1v-1h-1v-2zm13 1v1h3v1h1v-1h-1v-1zm18 0v1h1v-1zm-55 1h2v2h-2zm16 0h2v2h-2zm58 0v1h-4v1h4v-1h1v-1zm12 0h2v4h-3v1h1v2h1v2h-2v-2h-1v-2h-1v-2h1v-1h2zm-75 1h2v2h-1v1h-1v2h-2v-4h2zm16 0v2h-2v2h2v-2h1v-2zm20 0v1h1v-1zm11 1v1h1v-1zm7 1h2v2h-2zm-11 1v1h1v1h2v-1h-2v-1zm38 0h2v2h-2zm-43 1v1h-1v1h3v-1h-1v-1zm-33 3h2v2h-2zm4 0h2v2h-2zm53 0h2v2h-2zm27 0h2v2h-2zm-70 1h2v2h-2zm46 0h2v2h-2zm-11 1h2v2h-1v1h-5v-2h4zm23 0h2v2h-2zm-60 1h2v2h-2zm6 0h2v2h-2zm58 0h2v2h-2zm-54 1h2v2h-2zm30 0h2v2h-2zm-23 1h2v2h-2zm57 0h2v2h-2zm-77 2h2v2h-2v1h-2v-2h2zm28 0h2v2h-2zm22 3h2v2h-2zm-38 2h2v2h-2zm7 1h2v2h-2zm18 1h2v2h-2zm19 0h2v2h-2z"/>
<path fill-opacity="0.151" d="M62 1h2v2h-2zm-31 7h2v2h-2zm20 0h2v2h-2zm28 2h2v2h-2zm-57 1h2v2h-2zm26 0h2v2h-2zm6 0h2v2h-2zm-12 1h2v2h-2zm9 0h2v1h1v3h-2v-2h-1zm15 1h2v2h-2zm8 0h2v2h-2zm-37 1h2v1h1v2h-2v-1h-1zm11 0h3v6h2v-1h2v-1h1v-1h-1v-2h2v2h1v1h2v3h2v1h1v-1h1v-2h-1v-2h2v1h3v2h-2v1h2v-1h2v2h-1v1h-1v1h1v-1h2v1h1v-1h-1v-4h3v5h4v3h-1v1h3v-1h2v1h1v2h-1v1h2v-1h2v1h1v1h1v-1h1v-2h-5v-1h-1v-2h-1v-2h2v2h1v-1h1v-2h2v2h-1v1h1v-1h1v1h2v1h2v2h-1v2h1v-1h2v2h-1v1h-2v1h1v2h-1v1h1v1h3v1h1v-1h-1v-2h2v2h1v-2h2v2h1v2h1v2h1v2h1v-1h1v-2h-1v-1h-1v-1h-1v-2h4v4h1v-3h2v3h1v-1h2v-1h-2v-4h-2v-2h2v1h2v4h2v2h1v2h-5v1h-1v2h1v1h1v-2h2v2h-1v2h-2v-1h-2v1h-1v2h-1v1h2v1h1v2h1v3h2v1h1v1h2v7h2v-2h2v1h2v4h-3v3h-1v1h2v1h1v3h1v-1h2v2h-2v1h-2v2h1v1h1v2h-1v2h-2v3h-1v2h5v2h-8v-2h1v-2h1v-2h-1v-2h3v-1h1v-1h-1v-1h-1v2h-3v3h-1v1h-1v1h-2v1h2v2h1v2h2v2h-2v-1h-2v-2h-1v1h-2v1h2v1h2v2h-2v2h-4v1h-2v1h2v-1h2v3h1v-1h1v-1h1v-2h2v2h-1v2h-1v1h-1v1h-2v-1h-2v-1h-2v2h-2v-1h-1v-1h-2v1h-1v2h-1v1h1v2h-1v2h-6v-2h-1v1h-1v1h-2v1h1v2h-2v-1h-1v1h1v1h1v1h1v-2h1v-1h1v-1h3v3h-1v1h-3v3h-2v-1h-1v-1h-1v-1h-3v-2h1v-2h2v-2h-1v-1h-1v2h-1v2h-2v-1h-1v1h-2v-1h-1v1h-1v2h5v2h-1v1h-4v1h4v-1h1v-1h2v2h-1v1h-2v1h-4v1h-2v-2h-1v-4h1v-4h-1v2h-1v2h-1v1h-1v1h1v2h-2v-1h-1v-2h-1v1h-1v1h1v3h1v-1h2v2h-1v1h-2v-1h-2v3h-2v-1h-2v-1h-1v1h1v1h2v1h1v2h-2v-1h-1v-1h-2v-2h-1v-1h-1v-1h-1v-1h-1v1h-1v3h-2v-1h-1v1h-2v-2h-2v-2h4v-1h-3v-1h-1v1h-2v5h-1v2h-2v-3h1v-2h-2v-1h-1v2h-2v-3h-1v2h-2v-1h-1v2h-1v1h-5v-2h1v-2h2v1h2v-2h1v-2h-2v-1h-1v-2h-1v-1h-1v6h-1v2h-2v-2h1v-5h-1v-3h1v-1h-2v3h-1v1h-2v-2h1v-1h-1v-4h-2v-4h-1v-9h-1v1h-1v1h1v3h-2v1h2v2h-1v1h-2v-2h-2v-2h1v-1h1v-1h1v-1h-1v1h-2v-2h2v-1h-2v-2h1v-1h-2v4h-1v-2h-1v1h-1v2h-2v-2h1v-2h1v-2h2v-1h-2v1h-2v-1h-2v-2h1v-2h2v3h1v-1h1v-2h-2v-4h2v2h1v-3h-3v1h-3v-1h-1v-2h-2v-2h4v3h1v-1h2v-1h2v-1h-2v1h-2v-4h1v-2h1v-2h-1v-1h-2v-2h-2v-1h-1v-2h2v1h1v1h2v-3h-6v-2h3v-1h2v-1h2v2h2v-2h-2v-1h-2v-4h2v-2h-1v-3h4v1h2v-1h-2v-1h-1v-1h-2v-2h2v1h2v-1h2v-2h-1v-1h-1v2h-3v-1h-2v-2h1v-1h-2v-2h2v1h2v2h-1v1h1v-1h2v-1h-1v-3h2v-1h1v-1h-1v-2h-1v-2h2v2h1v6h1v-1h1v-1h-1v-2h1v-2h-2v-4h3v-1h1v3h-2v1h2v2h2v-1h3v-1h-1v-1h-2v-3h1v-2h2v2h2v1h1v-1h-1v-2h2v-1h-1v-1h1v-1h4v1h1v1h1v-2h2v-1h-1v-2h-1v-2h1v-2h2v1h2v-1h3v2h-2v1h1v1h1v-1h2v2h2v-5h1zm41 0h2v2h-2zm-28 1h2v2h-2zm20 0h2v4h-2zm-9 1h2v2h-2zm3 0h2v2h-2zm9 0h2v2h-2zm11 0h2v2h-2zm-64 2h2v2h-2zm-11 1h2v2h-2zm7 0h2v1h1v2h-2v-1h-1zm10 0v2h1v1h1v-2h-1v-1zm20 0v1h1v-1zm22 0h2v1h2v3h-1v1h-1v2h-2v-2h1v-2h1v-1h-2zm7 0h2v2h-2zm8 1h2v2h-2zm-78 1h2v2h-2zm37 0v1h1v-1zm5 0v1h1v-1zm31 0h2v2h-2zm-63 1h2v2h-2zm23 0v2h1v-2zm43 0h2v2h-2zm-53 1v1h1v-1zm24 0v1h1v-1zm35 0h3v2h-3zm-80 1h6v2h-4v2h-2zm27 0v1h2v-1zm58 0h2v2h-2zm-91 1h2v2h-2zm46 0v1h1v-1zm8 0v2h1v-2zm33 1h2v1h1v2h-2v-1h-1zm13 0h2v2h-2zm-18 1h2v2h-2zm-57 1v1h1v-1zm14 0v1h1v-1zm51 2h2v2h-2zm-76 1v2h1v2h1v-2h1v-1h-2v-1zm70 1h3v2h-3zm7 1h2v2h-2zm-97 1h2v2h-2zm88 0h2v2h-2zm25 0h2v2h-2zm-110 2h3v2h-3zm109 3h2v2h-1v1h-2v-2h1zm-99 2v1h1v-1zm80 0v2h1v-1h1v-1zm-83 1v1h2v-1zm92 0v1h1v-1zm34 1h2v2h-2zm-137 1h2v2h-2zm86 0v1h1v-1zm34 0h2v2h-2zm-7 1h2v2h-2zm-12 1v2h1v-2zm-89 1v2h1v-2zm104 0h2v2h-2zm-116 1h3v2h-3zm104 0h2v2h-2zm4 0h3v2h2v3h1v-2h4v-1h2v2h-2v1h-1v3h-2v-1h-2v2h3v4h1v2h-2v-2h-1v-1h-1v-1h-1v-1h-3v-1h-1v-3h1v-1h2v-1h-3v1h-2v-2h2zm5 0h2v2h-2zm-102 2v1h1v-1zm110 2h2v2h-2zm3 0h2v2h-2zm-115 1v1h1v-1zm92 1v1h1v-1zm-97 2v2h1v-2zm115 0h1v2h1v2h1v2h-1v1h-2v-2h1v-1h-1zm-122 1h2v2h-2zm139 0h2v2h-2zm-141 3h2v2h-2zm129 0h2v2h-2zm9 1h2v2h-2zm-127 2v1h1v-1zm119 0h2v2h-2zm-6 1h2v1h1v2h-4v-2h1zm-15 1v1h1v-1zm31 0h2v2h-2zm-127 1v1h1v-1zm118 0h2v2h-2zm-19 1v2h1v-2zm-112 1h2v2h-2zm109 0v1h1v-1zm6 0v1h1v-1zm12 0h2v3h-2zm-4 1h2v2h-2zm10 0h2v2h-2zm-127 2h2v2h-2zm115 1h2v2h-2zm4 0h2v4h-2zm-121 1h2v2h-2v1h-2v-2h2zm131 1h2v2h-2zm7 0h2v2h-2zm-14 1h2v2h-2zm-12 1v1h2v2h-2v-1h-1v3h3v-2h1v-3zm-3 1v1h-2v2h2v-2h1v-1zm12 0h2v1h1v1h1v2h-2v-1h-1v-1h-1zm-112 1v1h1v1h1v-1h-1v-1zm111 2h2v3h2v2h-2v-1h-2zm15 0h2v2h-2zm-9 2h2v2h-2zm14 0h2v2h-2zm-22 2h2v2h-2zm-106 1v2h1v-2zm91 0v1h1v-1zm3 0v2h2v-1h-1v-1zm-3 4v1h1v-1zm19 0h2v4h-2zm-122 4h2v2h-2zm103 0v1h1v-1zm26 0h4v2h-4zm-117 1v1h1v-1zm82 0v1h1v-1zm3 0v1h1v-1zm23 0h2v2h-2zm-18 1v2h1v1h2v-1h-2v-2zm11 1h2v2h-2zm21 2h2v2h-2zm-133 1h2v1h1v2h-2v-1h-1zm98 0v1h1v-1zm21 1h2v2h-2v1h-2v-2h2zm-30 1v1h2v-1zm6 0v1h2v-1zm15 0h2v2h1v2h-4v-2h1zm4 0h2v2h-2zm-16 1v1h1v-1zm-98 3h2v2h-2zm6 0h2v2h2v2h-3v2h-2v-2h1zm11 0v1h1v-1zm64 1v1h2v1h4v-1h-3v-1zm15 0h2v2h1v3h-2v-2h-1zm22 0h2v2h-2zm-107 1h2v2h-2zm97 0h2v1h1v2h-2v-1h-1zm-33 1v1h1v-1zm16 0v2h1v-2zm-78 1h2v2h1v2h-2v-2h-1zm91 0h2v2h-2zm-22 1v1h1v-1zm12 1h2v1h1v2h-2v-1h-1zm5 0h2v2h-2zm-88 1h2v2h-2zm-4 1h2v2h-2zm85 0h2v3h-2zm15 0h2v2h-2zm-78 1v1h1v-1zm43 0h1v1h-1zm-41 1v1h1v-1zm78 0h2v2h-2zm-69 1v1h-2v1h3v1h1v-1h-1v-2zm16 1v1h1v-1zm-55 1h2v2h-2zm16 0h2v2h-2zm70 0h2v4h-3v1h1v2h1v2h-2v-2h-1v-2h-1v-2h1v-1h2zm-75 1h2v2h-1v1h-3v-2h2zm36 0v1h1v-1zm11 1v1h1v-1zm-42 1h2v2h-2zm49 0h2v2h-2zm-11 1v1h1v1h2v-1h-2v-1zm38 0h2v2h-2zm-22 1h2v2h-2zm-21 2h2v4h-2zm15 0h2v2h-2zm-48 1h2v2h-2zm4 0h2v2h-2zm53 0h2v2h-2zm27 0h2v2h-2zm-70 1h2v2h-2zm46 0h2v2h-2zm12 1h2v2h-2zm-60 1h2v2h-2zm6 0h2v2h-2zm27 0h2v2h-2zm3 0h2v2h-2zm28 0h2v2h-2zm-54 1h2v2h-2zm30 0h2v2h-2zm-23 1h2v2h-2zm57 0h2v2h-2zm-77 2h2v2h-2v1h-2v-2h2zm28 0h2v2h-2zm22 3h2v2h-2zm-31 3h2v2h-2zm18 1h2v2h-2zm19 0h2v2h-2z"/>
<path fill-opacity="0.241" d="M62 1h2v2h-2zm-31 7h2v2h-2zm17 3h2v2h-2zm-6 1h2v2h-2zm10 1h2v3h-2zm14 0h2v2h-2zm-29 1h2v1h1v2h-2v-1h-1zm11 0h3v6h1v1h1v2h1v-1h1v-4h1v-1h2v2h-1v1h1v2h2v-1h2v3h2v-1h-1v-1h1v-3h1v-1h3v2h-2v1h3v2h-1v1h2v1h1v1h1v-7h2v5h3v1h1v1h-1v1h-1v-1h-1v1h1v1h2v1h1v1h1v-3h2v1h1v2h-1v1h-2v2h2v-2h2v-1h2v2h4v-1h-1v-3h-1v1h-4v-2h1v-2h1v-2h2v2h-1v1h4v1h1v2h-1v1h1v1h1v-1h2v2h-2v1h-1v1h1v1h-1v3h-1v-1h-2v1h2v2h1v-2h1v1h1v-1h2v1h3v-3h2v2h1v2h1v2h1v2h1v-1h1v-1h2v1h1v-2h-1v-3h2v3h1v-1h2v2h-2v1h-1v2h-1v3h-1v2h-1v2h3v2h1v2h-1v1h3v2h3v7h2v-2h2v1h2v4h-2v-1h-1v1h-1v1h-1v4h3v1h-1v1h-3v2h-2v-2h-1v1h-1v1h-1v2h2v-1h2v2h3v-1h2v2h-2v2h-5v1h2v2h-1v1h-1v1h-2v-2h1v-1h-1v-1h-1v1h-2v-2h-1v3h-1v1h1v-1h2v1h1v3h-1v1h1v-1h1v-1h2v2h1v2h2v2h-2v-1h-2v-2h-2v1h-1v-1h-1v-1h-1v2h2v2h4v2h-4v-1h-2v-2h-3v1h1v1h-1v2h-1v1h1v-1h1v-1h1v3h-1v1h-3v-1h-1v-2h-1v1h-2v1h2v1h2v1h2v2h-2v-1h-2v1h-1v2h-1v1h1v2h-2v-2h-1v3h-2v-1h-3v1h-1v1h-2v2h-1v-1h-1v-2h2v-1h-3v-1h-1v3h-1v2h-2v-1h-1v1h-2v-2h-1v2h-1v3h3v-1h2v2h-2v1h-2v-1h-1v2h1v2h-1v1h-2v-2h-1v-4h1v-3h1v-1h-2v2h-1v2h-1v1h-5v2h-2v-2h-2v-1h-1v1h-1v1h2v2h1v2h-2v-1h-1v1h1v2h-4v-1h-1v-1h-1v1h-3v1h-1v2h-2v-2h-1v-2h3v-2h-1v1h-1v-1h-2v1h-2v-2h-1v3h-1v1h-2v-1h1v-1h-1v1h-1v2h-2v-2h1v-1h-2v2h-2v-2h-1v-4h-3v-2h-1v-2h-1v-1h-1v-2h-1v1h-2v3h-2v-2h-1v-4h-2v-3h4v-1h1v-1h-2v1h-4v-10h-1v1h-1v-2h-1v1h-1v1h-2v-2h1v-2h-1v1h-1v2h-2v1h-1v2h-2v-2h1v-2h2v-1h1v-2h-1v-4h-1v-1h-1v-3h2v2h1v-3h-3v1h-3v-2h2v-1h2v-1h1v1h1v-1h2v1h3v-1h-2v-1h-5v1h-2v-4h1v-1h1v-3h-1v-1h-2v-2h-1v-1h-1v-1h2v1h2v-3h-4v-2h3v-2h2v2h2v-2h-1v-2h1v-1h-1v-1h-1v-3h1v-1h-2v-1h2v-1h2v1h2v-1h-2v-2h1v-2h4v-1h-1v-1h-2v-1h-1v1h-1v1h-2v-2h1v-1h2v-1h2v1h1v1h3v-1h1v-1h-2v1h-1v-3h1v-1h-1v-2h2v-1h3v-1h5v2h1v-1h1v-4h-1v-2h-1v-2h2v-1h2v-1h-1v-1h2v1h1v1h1v1h1v-3h2v-2h2v-3h1v-2h3v2h-2v3h2v-1h1v1h3v-2h2v4h1v-1h1v-1h-1v-2h-1v-1h-2v-2h2v-1h-1zm13 1h2v2h-2zm20 0h2v4h-2zm-9 1h2v2h-2zm3 0h2v2h-2zm-55 3h2v2h-2zm38 0h2v1h-2zm21 0h2v2h-2zm-51 1h2v2h-2zm-12 1h2v2h-2zm65 0h2v1h-1v1h-1zm8 0h2v2h-2zm-63 1h2v2h-2zm66 0h2v2h-2zm-53 1v3h1v-3zm59 0h3v2h-3zm-80 1h2v2h-2zm24 0v1h1v-1zm3 0v1h2v-1zm34 0h2v2h-2zm3 0h2v2h-2zm-24 1v1h1v-1zm8 0v3h1v-3zm-12 1v1h1v-1zm58 0h2v2h-2zm-75 1v2h1v-2zm35 0v1h2v-1zm22 0h2v2h-2zm6 0h1v1h-1zm-71 1v1h1v-1zm22 0v1h1v-1zm-29 1h5v2h-1v2h-2v-1h-2zm33 0v1h1v-1zm-39 1h4v2h-4zm86 0h2v2h-2zm-89 2h2v2h1v2h-2v-2h-1zm83 0h2v2h-2zm-80 1h2v1h-2zm-10 1h2v2h-2zm81 0v1h1v-1zm7 0h2v2h-2zm17 0h2v1h-2zm9 0h1v1h-1zm-37 1v1h1v-1zm2 0v1h1v-1zm-75 1h1v2h-1zm14 0v1h1v-1zm72 0h2v2h-2zm-81 1h1v3h-4v-2h3zm96 0h2v1h-2zm-7 1h2v1h1v2h-2v-2h-1zm9 0h2v2h-2zm-106 1h2v1h2v2h-2v-1h-2zm92 1v2h-1v2h3v-3h-1v-1zm18 0h2v2h-2zm-21 1v1h1v-1zm-2 1v1h1v-1zm48 1h2v2h-2zm-137 1h2v2h-2zm86 0v1h1v-1zm16 0v2h-1v2h1v-2h1v-2zm5 0h2v2h-1v2h-2v-2h1zm6 1h2v2h-2zm-109 1h2v2h-2zm6 1v1h2v1h1v-2zm106 0h2v2h-2zm-115 1h1v2h-1zm93 0v1h2v-1zm10 0h2v2h-2zm4 0h2v1h1v1h2v6h-2v1h-3v-3h1v-1h2v-2h-1v1h-2v1h-2v-2h2zm-97 2v1h1v-1zm88 0v2h-1v2h1v-2h1v-2zm19 0h2v2h-2v1h-1v2h-2v-2h-1v-2h4zm-104 1v1h1v-1zm77 1v1h1v-1zm30 0h2v2h-2zm-113 1v1h2v-1zm93 1v1h2v-1zm-99 1h1v1h1v3h-2zm110 2h4v4h1v2h-2v-2h-1v-2h-1v-1h-1zm7 1h2v2h1v2h-2v-2h-1zm5 2h2v2h-2zm-118 3v1h1v-1zm98 1v2h-2v1h2v-1h1v-2zm4 0v3h-1v2h-1v1h2v1h1v-1h-1v-3h1v-3zm18 0h1v1h-1zm-118 1v2h2v-1h-1v-1zm111 0h2v1h-2zm7 1h2v2h-2zm-131 2h2v2h-2zm109 0v1h1v-1zm6 0v2h1v-2zm8 1h2v2h-2zm4 0h2v2h-2zm6 0h2v2h-2zm-12 3h2v2h-2zm-117 1h2v2h-2zm110 0v1h1v-1zm-103 1v1h2v-1zm114 0h2v2h-2zm10 0h2v2h-2zm7 0h2v2h-2zm-23 3h2v2h-2zm6 0h2v1h1v1h1v2h-2v-1h-1v-1h-1zm-123 1h4v2h-4zm122 2h2v4h-2zm15 0h2v2h-2zm-26 1v2h1v-2zm7 1h2v2h-1v2h-2v1h-3v-2h3v-1h1zm24 0h2v2h-2zm-131 2v1h1v-1zm3 1v1h-1v1h2v-2zm-4 1v1h1v-1zm91 0v1h1v-1zm-97 3h2v2h-2zm99 0v1h3v-1zm21 0h2v4h-2zm-11 2h6v2h-6zm-14 2v1h-3v1h2v1h1v-1h1v-2zm23 1h2v2h-2zm-109 2h2v1h-2zm102 0h2v2h-2zm-101 2h2v3h-2v1h2v2h-3v-2h-1v-2h2zm-11 1h2v2h-2zm107 1h2v2h-2zm-18 1v1h2v-1zm13 0h2v3h2v-1h1v2h-1v1h-2v-1h-2v-1h-1v-2h1zm8 0h2v2h1v2h-2v-2h-1zm7 0h2v2h-2zm-102 1v1h1v-1zm76 1v1h1v-1zm-91 2h2v2h-2zm6 0h2v2h2v2h-3v-2h-1zm75 0v2h2v1h5v-1h-4v-1h-1v-1zm15 1h2v3h1v1h-2v-2h-1zm-85 1h2v2h-2zm97 0h2v1h1v2h-2v-1h-1zm-33 1v1h2v-1zm-62 1h2v2h1v2h-2v-2h-1zm56 2v1h1v-1zm25 0h2v2h-2zm5 0h2v2h-2zm-88 1h2v2h-2zm10 1h2v1h1v4h-2v-3h-1zm7 0v1h-1v1h3v-1h-1v-1zm51 0h2v3h1v1h-4v-2h1zm7 0h2v1h1v2h-1v1h-2v-1h-1v-2h1zm6 0h2v2h-2zm15 0h2v2h-2zm-76 2v1h1v-1zm78 0h2v2h-2zm-76 1v1h2v-1zm7 0v1h-2v1h3v1h1v-1h-1v-2zm42 1h3v2h-3zm-81 1h2v2h-2zm16 0h2v2h-2zm33 0v1h1v-1zm26 0h2v2h-1v1h-2v-2h1zm-64 1h2v2h-1v1h-2v-2h1zm10 0h2v2h-1v2h-2v-2h1zm26 0v1h1v-1zm16 0h2v2h-2zm-11 1v1h1v-1zm32 0h2v2h-1v1h1v2h1v2h-2v-2h-1v-2h-1v-2h1zm-68 1h2v2h-2zm44 0h1v3h-2v1h-2v-2h1v-1h2zm12 0h1v1h-1zm-49 1h2v1h1v1h1v2h-2v-1h-1v1h-2v-2h1zm39 1h1v1h-1zm8 0h2v2h-2zm-33 1h2v2h-1v2h-2v-2h1zm9 1h2v2h-2zm3 0h2v4h-2zm4 1h2v2h-2zm20 0h2v2h-2zm27 0h2v2h-2zm-44 2h2v2h-2zm-22 1h2v2h-2zm30 0h2v2h-2zm28 0h2v2h-2zm-54 1h2v2h-2zm30 0h2v2h-2zm-23 1h2v2h-2zm8 2h2v2h-2zm22 3h2v2h-2zm-31 3h2v2h-2zm18 1h2v2h-2zm19 0h2v2h-2z"/>
<path fill-opacity="0.333" d="M48 11h2v2h-2zm-6 1h2v2h-2zm10 1h1v1h1v2h-2zm-3 1h2v4h-2v-2h-1v-1h1zm-11 1h2v2h-2zm43 0h2v2h-2zm-6 1h2v2h-2zm-35 1h3v2h-2v3h2v2h-1v1h1v-1h1v1h3v-3h2v3h1v-2h1v-1h-1v-1h3v3h1v-2h2v1h1v-1h-1v-2h-1v-2h1v-1h2v2h-1v1h1v2h1v1h1v-2h2v2h-1v3h1v-1h2v-1h1v-3h2v2h1v1h1v1h2v2h1v1h1v1h1v-2h2v1h2v1h1v2h1v2h-1v2h2v-2h3v-3h2v2h4v1h1v1h1v3h-4v1h3v2h2v-1h3v3h2v2h3v-3h-1v-1h-1v-1h1v-1h-1v-2h2v3h1v1h1v2h1v2h2v-2h2v2h-1v1h-1v3h2v2h-3v-1h-1v3h-1v2h1v1h4v-1h-1v-2h3v2h1v2h-1v1h2v1h1v1h1v1h2v4h-3v1h-1v4h-2v-1h-1v-2h2v-1h-1v-1h-1v2h-2v2h2v3h1v-1h3v2h1v2h1v-4h1v-2h-1v2h-2v-3h1v-2h2v1h2v-2h2v2h2v3h-2v-1h-1v1h-1v1h-1v2h-1v1h1v1h-1v2h-1v1h-1v-1h-1v-1h-1v3h-2v1h1v1h2v3h-1v1h1v2h-2v-2h-1v2h-2v-3h-1v4h-1v2h-1v2h1v-1h2v-2h2v2h-1v2h-2v2h2v2h-2v-1h-3v3h-1v1h-5v2h2v2h-1v2h-1v2h-1v1h-1v3h-2v-3h-1v-1h-4v-2h1v-1h-1v1h-3v2h-1v2h-1v2h-1v2h-2v-1h-1v1h-2v-1h-1v2h-2v-2h1v-1h-2v2h-2v1h-1v4h-5v1h-2v-1h-2v-2h-1v1h-1v2h-1v1h-2v-1h-1v-1h1v-1h-2v2h1v1h1v1h1v2h3v2h-3v-1h-2v-1h-3v1h-1v1h-4v-2h4v-2h-4v-1h-1v1h-2v-1h-1v3h-2v-1h-2v1h-1v-1h-2v2h-2v-2h1v-1h-1v-1h-1v-2h2v-1h-2v1h-3v-2h2v-1h2v-2h1v-1h-1v1h-1v-1h-1v-2h-2v1h1v4h-2v-1h-1v-3h-3v-2h1v-2h-1v2h-1v5h-2v-1h-1v-4h-2v-2h1v-1h1v2h1v-2h1v-1h1v-1h-2v1h-2v-3h-2v-7h-2v-1h-2v2h-2v-2h1v-2h-1v1h-1v2h-2v-2h1v-2h-1v-4h-1v-2h-1v-2h2v2h1v-3h1v-2h-1v-1h2v1h3v-1h-1v-1h-4v-1h-1v-2h-1v-3h1v-1h-2v-1h-2v-2h2v-4h-2v-1h-1v-1h2v-2h2v2h2v2h-1v1h3v2h-1v2h2v-2h2v-1h-2v-2h-1v-1h1v-1h-1v1h-1v-3h-2v-2h1v-1h-1v-1h-1v-3h2v-1h-1v-2h2v1h2v-1h1v-2h2v1h1v-2h1v-1h-1v-1h-1v-1h-3v-3h1v1h1v1h4v1h1v-2h-1v-2h1v-1h-1v-1h-1v-3h1v1h2v-2h2v1h1v-1h1v1h1v2h1v-1h1v1h1v-1h-1v-3h1v-2h-1v-1h1v-2h-1v1h-1v-2h4v-1h1v1h3v-1h-1v-2h2v-2h2v4h1v1h1v-1h-1v-2h1v-1h-1v-2h-1v-2h1zm25 1h2v2h-2zm-45 1h2v2h-2zm52 0h1v2h-1zm-44 1h2v2h-2zm-12 1h2v2h-2zm52 0h1v1h-1zm-24 1h2v2h-2zm55 1h2v2h-2zm-81 1h2v2h-2zm41 0v1h-1v1h2v-2zm13 0h1v1h-1zm3 0h1v1h1v1h-3v1h-1v-2h2zm4 0h2v2h-2zm3 0h2v2h-2zm-16 1v3h1v1h1v-1h-1v-2h1v-1zm-18 1v1h1v-1zm5 0v2h-2v2h2v-1h1v-2h1v-1zm33 0h5v2h1v1h-1v2h2v-1h2v2h-2v1h-2v-1h-1v-1h-1v-2h1v-1h-2v1h-4v-2h2zm-49 1v2h1v-2zm32 0v1h1v-1zm11 0h2v1h1v2h-1v1h-2zm14 0h2v2h-2zm-72 2h2v2h-2zm3 0h1v4h-2v-2h1zm9 0v1h1v-1zm21 0v1h1v-1zm-24 1v1h1v-1zm12 0v1h1v-1zm-9 1v1h1v-1zm14 0v1h1v-1zm49 1h1v2h-1zm-25 1v1h1v-1zm3 0v1h1v1h1v-1h-1v-1zm10 1v1h-2v1h-1v1h1v-1h3v-1h2v-1zm9 0h2v2h-2zm-80 1h2v1h-2zm9 1v1h2v-1zm8 1v1h1v-1zm-19 1h4v1h-2v1h-2zm10 0v1h1v-1zm-15 1h2v2h-2zm10 0h3v1h-1v1h-2zm80 0h1v2h-1zm8 0h2v2h-2zm3 0h2v2h1v2h-1v1h-1v-3h-1zm4 1h1v2h-1zm5 0h2v2h-2zm-24 1v1h1v1h1v-1h-1v-1zm-83 2h3v1h-1v1h-2zm81 1v1h1v-1zm17 0h1v1h-1zm-7 1v1h2v-1zm17 0h2v2h-2zm-105 1h2v2h-2zm98 0h2v2h-2zm-17 1v1h1v-1zm4 1v1h3v-1zm15 0h2v4h-2zm-4 1h2v1h-2zm-93 1v2h1v-2zm3 1v1h1v-1zm100 0h4v2h-1v1h-2v-1h-1zm-23 1v1h1v-1zm8 0h2v2h-2zm12 0h2v2h-1v1h-2v1h1v1h-3v-2h1v-1h1v-1h1zm-103 1v2h-1v-1h-1v1h1v1h2v-2h1v-1zm-6 3h2v3h-2zm99 1v1h1v-1zm2 0v1h1v-1zm10 0h2v1h1v4h-1v-1h-1v-2h-1zm6 1h2v2h1v2h-2v-2h-1zm-17 1v2h1v-2zm-91 5v1h1v-1zm-6 3v1h1v-1zm-10 1h2v2h-2zm123 1h2v2h-2zm4 0h2v2h-2zm-114 2v1h1v-1zm-9 2h2v2h-2zm7 1v1h2v1h1v-1h-1v-1zm106 0h2v1h-1v1h-1zm8 0h2v2h-2zm10 0h2v2h-2zm-128 1h2v4h-2zm102 1v1h1v-1zm10 1h2v2h-2zm6 0h2v1h1v1h1v2h-2v-1h-1v-1h-1zm-123 1h4v2h-4zm103 1v1h1v-1zm-97 1h3v1h-1v1h-2v1h-3v-2h3zm116 0h2v2h-2zm-8 1h2v3h-3v-2h1zm-103 3v1h-1v2h1v-2h1v-1zm106 0h2v2h-2zm-103 1v1h-1v1h2v-2zm101 0h1v2h-1zm-14 1v1h2v-1zm10 0h1v1h-1zm-2 1h2v2h-2zm15 2h2v2h-2zm-15 1h2v2h1v2h2v2h-2v-1h-2v-2h-2v-2h1zm6 1h2v2h-2zm-18 1v1h1v-1zm4 0v2h1v-2zm-2 1v1h-3v1h-1v1h1v-1h2v1h1v-1h1v-2zm-9 2v1h1v-1zm-85 1h2v2h-2zm102 0h2v1h-2zm-12 1v1h2v-1zm-81 1h2v3h-2zm5 1v1h1v-1zm84 0h1v2h-2v1h-2v-2h3zm-99 1h1v1h-1zm106 0h2v2h-2zm-98 1h1v1h-1zm80 0v1h2v-1zm-79 1h2v2h-2zm86 0h1v1h2v2h-2v-1h-1zm5 0h2v2h-2zm-87 1h1v1h-1zm77 0v1h1v-1zm20 0h2v2h-2zm-6 1h1v1h-1zm-99 1h2v2h-2zm71 1v2h-2v1h2v-1h1v-2zm-69 1h2v2h-2zm73 0h2v1h2v1h1v2h-2v-1h-3zm15 0h2v1h-2zm12 0h2v2h-2zm-95 2h2v2h-2zm68 2h2v2h-2zm13 0h2v2h-2zm5 0h2v2h-2zm-88 1h2v2h-2zm10 1h2v1h1v2h-2v-1h-1zm58 0h2v4h-3v-2h1zm-24 1v1h1v-1zm31 0h2v3h-2v-1h-1v-1h1zm-55 1v1h1v-1zm4 0v1h-2v1h1v1h1v-2h1v-1zm26 0v1h2v-1zm-21 1v1h-2v1h3v1h1v-1h-1v-2zm-18 1h2v1h-2zm47 0h2v3h1v2h-2v-1h-2v-3h1zm4 0h2v1h-2zm9 0h3v2h-3zm-6 1h2v2h-2zm-43 1v1h2v-1zm15 0v1h1v-1zm7 0h2v1h-1v1h2v2h-2v-1h-2v-2h1zm-44 1h2v2h-2zm6 1h2v2h-2zm67 0h2v2h-2zm-60 1h2v2h1v2h-1v-1h-1v-1h-1zm36 0h2v2h-2v1h-2v-2h2zm-22 3h2v1h-2zm9 0h2v2h-2zm3 0h2v4h-2zm24 1h2v2h-2zm-17 2h1v1h-1zm8 1h2v2h-2zm28 0h2v2h-2zm-54 1h2v2h-2zm7 1h2v2h-2zm-1 8h2v2h-2zm18 1h2v2h-2zm19 0h2v2h-2z"/>
<path fill-opacity="0.475" d="M42 12h2v2h-2zm7 2h1v2h1v2h-2zm3 0h2v1h-2zm-14 1h1v1h-1zm37 1h2v2h-2zm-34 1h1v2h-1zm15 0h2v2h-2zm9 1h2v2h-2zm-37 2h1v1h-1zm28 0h1v1h1v2h1v2h-1v2h1v-1h5v-2h1v-2h1v1h2v2h-2v1h-1v2h1v1h2v1h1v-1h-1v-1h-1v-1h2v1h3v1h2v-1h1v1h1v1h1v1h-1v1h-1v2h1v1h-2v1h3v-2h-1v-2h2v-2h1v1h1v2h-1v2h2v-1h1v-1h1v1h1v1h-1v1h-1v1h1v2h1v-3h3v-1h2v-1h-1v-2h1v1h1v1h1v3h-1v-1h-2v3h1v-1h2v4h2v1h2v-2h-2v-1h1v-1h2v3h1v2h4v2h2v1h1v-1h-1v-2h-1v-2h-1v-1h-1v-2h2v1h1v2h1v2h2v1h-1v3h-1v1h-1v1h1v1h-1v1h-1v2h1v1h1v5h2v-1h-1v-1h2v3h2v-1h1v1h1v-2h-2v-1h4v2h3v1h-2v1h1v2h-1v-1h-1v2h-2v-2h-2v-1h-1v1h1v2h-2v2h-2v1h3v1h1v2h-1v1h1v-1h1v1h1v1h1v-1h-1v-2h2v2h1v2h2v2h-2v-1h-3v1h1v1h-1v1h-1v1h1v2h-1v1h1v1h1v1h1v2h-2v-2h-3v-2h-1v3h-2v1h-2v1h3v2h-2v1h1v1h1v-1h2v1h1v1h-7v1h-2v-1h-1v1h-1v2h-1v2h-1v1h2v3h1v4h-2v-1h1v-1h-1v-1h-1v-3h-1v2h-2v2h1v-1h2v3h-1v1h2v2h-1v3h-2v-3h-1v-2h-2v1h-1v-3h-1v1h-3v-1h-2v1h1v4h-1v1h-2v1h-2v2h-2v-2h-1v3h-2v-2h1v-2h-1v1h-1v-1h-1v3h-1v1h-2v1h-2v-1h-1v1h-1v1h5v2h-2v-1h-1v1h-3v-1h-1v-1h-3v-2h-1v2h-2v1h1v3h-1v-1h-1v-2h-2v2h1v3h-1v-1h-1v-2h-1v2h1v1h1v1h-3v-2h-3v-2h1v-2h1v-1h-1v-1h-1v4h-2v-2h-1v-1h-1v1h-2v1h2v1h1v1h1v1h-2v-1h-1v1h-1v1h-1v-1h-1v-1h1v-1h-2v-3h1v-2h1v-1h1v-1h-2v2h-1v1h-1v1h-1v4h1v1h2v1h-4v-1h-2v-2h2v-1h-1v-1h-3v1h-1v-2h2v-1h1v1h2v-1h-2v-2h2v-1h-4v-4h-3v1h1v3h1v2h-2v-1h-1v-1h1v-2h-2v1h-2v-2h2v-2h-2v2h-1v2h-1v2h-2v-4h2v-1h-1v-2h1v-1h1v-1h-1v-1h-2v-1h-1v-1h2v-1h1v-1h-1v1h-1v-2h-1v3h-1v-1h-1v-5h-1v-1h-1v-1h-1v1h-2v-2h-1v1h-1v2h-2v-2h1v-2h2v-2h-1v1h-1v1h-1v-4h-1v-2h-1v-2h2v2h2v2h4v1h1v-3h-1v1h-2v-2h2v-1h-3v-1h-1v-2h4v-2h-1v-3h-2v-2h1v-2h-1v-1h-1v-1h2v-1h1v-1h1v-2h1v-1h-1v1h-2v-4h1v-2h1v-1h-1v1h-1v2h-1v-3h-1v2h-2v-2h1v-2h1v1h1v-1h1v-2h2v-2h5v-1h-4v-1h1v-3h1v-1h-1v-2h3v-4h2v-2h4v1h1v-2h2v1h2v-1h-2v-1h-1v-2h1v-2h2v-2h-2v-2h2v1h1v-1h-1v-1h2v6h1v-3h3v-3h-1v-1h-2v-2h4v3h1v1h1v-2h-1v-2h1v-2h2v2h-1v2h1v-1h2v1h2v-4h1v2h1v1h1v-2h2v1h2v-2h2v3h1v-3h-1zm-5 1h1v1h-1zm-14 1h1v1h-1zm7 0h2v1h-1v1h-1zm16 0h1v3h-1zm39 1h1v2h-1zm-20 1h2v2h-2zm-10 1h2v2h-2zm-21 1v1h1v-1zm5 0v1h-1v1h-1v2h2v1h1v-1h2v-1h-2v-2h1v-1zm34 0h4v2h-5v-1h1zm-43 1v1h1v-1zm36 0h1v1h2v2h-1v1h-2zm-34 1v1h1v-1zm15 0v1h2v1h1v1h1v-2h-1v-1zm-36 1h1v1h-1zm33 0v1h1v-1zm19 0h1v1h-1zm12 0h2v2h-2zm-67 1h2v1h-2zm21 0v1h1v-1zm5 0v2h1v-2zm23 0v2h1v2h1v-3h-1v-1zm22 0h2v2h-2zm-69 1h2v2h-2zm61 0h1v2h1v1h-3v-1h1zm6 0h1v1h-1zm-52 1v1h-1v1h1v-1h1v-1zm25 0v1h1v-1zm4 0v1h1v-1zm-22 1v1h1v-1zm-24 1h2v2h-2zm3 1h2v2h-2zm-6 1h2v1h1v2h-2v-2h-1zm80 0h2v2h-2zm-65 3v1h1v-1zm74 0h2v1h-2zm10 1h1v1h-1zm-31 1v2h2v-2zm-73 1h1v1h-1zm-3 1h1v1h-1zm95 0h1v1h-1zm-15 1v1h1v-1zm-78 2h2v2h-2zm81 1v1h1v-1zm5 0v1h-1v1h4v-1h-2v-1zm-84 1h1v4h-1v1h-3v-1h1v-1h1v-1h1zm90 0h2v2h-2zm9 0h1v3h-1v-1h-1v-1h1zm-16 3v1h1v-1zm21 0h2v1h1v2h-2v-1h-1zm-23 1v1h1v-1zm8 0h2v2h-2zm4 0h1v1h1v3h-1v-1h-1zm-99 1h2v3h-1v-1h-1zm91 1v1h-1v1h2v-2zm5 1h2v2h-2zm8 0h2v2h-2zm-106 1h2v3h-2zm101 0h1v1h-1zm11 1h1v2h1v1h-2v-1h-1v-1h1zm5 1h2v2h-2zm-117 4h1v1h3v1h-4zm89 0v1h1v-1zm7 0v1h1v-1zm3 0v2h1v-2zm12 2h2v4h-2v1h-1v-1h-2v2h-2v-2h1v-3h2v1h2zm-107 1h1v2h-1zm91 0v1h1v-1zm-94 1h2v2h1v2h1v2h1v1h-1v1h-1v1h-2v-2h1v-2h-2v-2h-2v-1h2zm102 0h2v2h-2zm13 3h2v2h-2zm4 0h2v1h-2zm-12 1h1v2h-1zm-11 2v1h1v-1zm5 2v3h1v-3zm-98 2h3v1h-1v1h-2zm-4 1h2v2h-2zm112 0h2v2h-2zm-117 1h2v2h-2zm124 0h2v2h-2zm-21 1v1h1v-1zm-96 1h1v1h-1zm92 0v1h1v-1zm-95 1h2v1h-1v1h-1zm105 0h2v1h-2zm5 0h2v2h-1v1h-1v-1h-1v-1h1zm-17 1v2h1v-2zm3 2v1h1v-1zm9 3h2v2h-2zm-3 1h1v1h-1zm1 1h1v1h-1zm-93 1v1h1v1h1v-2zm95 0h2v2h1v2h-2v-2h-1zm6 1h2v2h-2zm-12 2h2v2h-2zm-10 1v1h1v-1zm-3 1v1h2v-1zm6 0h1v1h1v1h1v-1h1v-1h1v1h1v2h-1v1h-4v-2h-1zm9 0h2v1h-2zm-91 3h2v3h-2zm73 0v1h1v-1zm-2 1v1h1v-1zm-62 1v1h1v-1zm77 0h2v2h-2zm-12 1v1h1v-1zm-74 1h1v2h-2v-1h1zm91 0h1v2h-1zm-79 2v1h1v-1zm-17 1h2v2h-2zm71 0v3h-3v1h1v1h1v-1h2v-4zm-7 1v1h1v-1zm-62 1h1v2h-1zm8 0h1v1h-1zm92 0h2v2h-2zm-27 1h3v1h-2v1h-1zm3 1h1v2h-1zm-22 2v1h2v-1zm32 0h2v2h-2zm-83 1h2v2h-2zm65 0h1v1h-1zm5 0h2v1h-2zm-41 1v1h1v-1zm-18 1h2v2h-2zm27 0v1h-2v2h2v-2h1v-1zm30 1h1v2h-1zm7 0h2v1h-2zm-31 1h1v1h-1zm14 1h2v2h-1v2h-2v-2h1zm13 0h2v1h1v1h-3zm-6 2h1v1h-1zm-65 1h2v2h-2zm44 0h1v1h-1zm30 1h1v1h-1zm-34 1h2v2h-1v-1h-1zm9 0h2v2h-3v-1h1zm-35 1h1v1h-1zm18 0h2v2h-2zm3 0h1v1h-1zm8 0h1v2h-1zm-7 2h2v2h-2z"/>
<path fill-opacity="0.714" d="M49 16h1v1h-1zm-8 1h1v2h-1zm15 1h1v1h-1zm1 5h1v1h-1zm9 0h1v1h1v1h-3v-1h1zm-31 1h2v1h1v-1h1v3h-1v-1h-3zm12 0h2v2h-1v2h1v-1h1v-3h3v1h-1v3h-1v2h1v1h4v-1h3v1h1v1h2v-1h-1v-1h-2v-1h-2v-1h-2v-4h1v1h1v1h1v1h2v2h3v1h1v3h1v-1h1v-2h-1v-1h2v1h4v2h-4v1h1v1h1v-1h2v2h2v1h5v-1h-1v-1h-1v-1h1v-1h1v1h1v2h1v1h1v1h-1v1h1v1h5v1h1v1h-2v1h2v2h2v-3h-1v-1h-1v-1h3v2h1v1h2v2h-2v2h1v-1h1v-1h2v1h1v-1h3v3h-2v1h1v1h4v-1h-2v-2h2v1h2v1h-1v3h-1v-1h-1v2h-1v-1h-2v1h1v4h3v-1h1v1h1v5h1v4h1v2h-2v1h-2v1h2v1h3v-2h1v1h1v1h-1v1h-1v1h3v1h1v1h-2v5h1v1h1v1h-1v2h-1v-1h-1v-1h-1v-4h-1v1h-1v4h2v3h-4v-6h-1v1h-2v1h1v2h1v1h-1v2h1v1h1v1h-1v2h2v2h-2v1h-2v-1h-1v1h-1v1h-5v1h-2v3h-2v1h-3v2h2v-1h1v-1h2v-1h2v-2h1v-1h2v3h1v1h1v2h1v2h-2v-2h-1v-2h-1v2h-2v-1h-1v1h-2v1h2v1h-1v1h-2v-1h-1v2h-2v-1h-3v1h-1v3h-2v-1h-2v1h-1v1h1v-1h1v2h-6v2h-1v2h-2v1h-2v-1h-2v1h-1v1h-1v-3h2v-1h-1v-1h-1v2h-1v-1h-1v2h1v2h-1v-1h-1v-1h-2v2h-1v-1h-1v-2h1v-1h-1v1h-2v1h-1v1h-2v1h-2v-2h-2v2h1v3h-2v-3h-3v-2h2v-2h1v-1h-2v2h-1v-1h-4v-2h-1v2h1v2h-1v2h-1v-1h-2v-2h1v-2h-2v1h-2v-2h1v-3h-5v1h1v2h-3v-1h1v-2h-1v-1h1v-1h2v-1h-3v-1h-1v1h-2v-1h-1v-3h1v-1h-2v-2h-1v1h-2v-4h2v-1h-2v1h-2v-2h1v-1h1v-2h-2v1h-2v-1h-1v1h-1v-1h-1v-1h3v-1h1v1h1v-1h1v-2h-2v-3h-1v1h-2v-1h-1v-2h1v1h3v-1h1v-2h-1v-1h-1v-2h-1v-2h1v-3h-1v1h-1v-2h2v-1h1v-3h1v-1h-1v1h-2v-2h1v-1h-1v-1h1v-2h1v-2h-1v1h-1v1h-1v-2h1v-2h1v-1h1v1h1v-1h-1v-2h3v1h1v-1h1v-1h-3v-4h3v-1h1v-3h1v1h1v1h1v-1h-1v-2h-1v-1h1v-3h2v1h2v-2h2v1h1v1h3v1h1v-1h-1v-1h-1v-1h-2v-1h-2v-1h1v-2h2v-2h1v-1h1v2h-1v2h1v-1h1v-2h3v-1h1v1h1v-2h2v1h1v1h2v3h3v-1h1v-1h1v-2h-3v-2h-1v-2h1zm32 0h2v2h-2zm-38 1h1v1h-1zm28 0h2v2h-2zm-27 1h3v1h-3zm19 0h4v2h-4zm26 1h1v1h-1zm3 0h1v1h-1zm-51 1h1v1h-1zm31 0h2v1h2v1h2v2h-2v-1h-2v-1h-1v-1h-1zm11 0h1v2h-2v-1h1zm9 2h1v1h-1zm3 0h2v2h-2zm-47 1h2v2h-2zm32 0h1v1h-1zm-40 1v2h1v-1h1v-1zm36 1h1v1h-1zm11 0h1v1h-1zm-4 1h2v1h-1v1h-1zm-49 1v1h2v-1zm32 0v1h1v1h1v-1h1v-1zm20 1h2v1h1v-1h1v2h-4zm-64 1h1v1h-1zm74 2h1v1h1v1h-2zm6 0h2v2h-1v-1h-1zm-72 2v1h1v-1zm-7 1h1v1h-1zm4 0v1h1v-1zm71 0h1v1h-1zm-13 1v1h1v-1zm19 0h1v1h-1zm-84 1h2v1h-2zm86 1h1v1h-1zm-10 2v1h-1v1h2v1h1v-1h-1v-2zm-74 1v1h1v-1zm-6 2h2v2h-2zm77 2v1h1v-1zm4 0v1h1v1h1v-2zm25 0h1v1h-1zm-110 1h1v2h-2v-1h1zm95 0h1v1h-1zm3 0h2v1h-2zm-89 2v1h1v-1zm86 0h1v1h-1zm9 0h1v2h-1zm-107 2h2v2h-2zm12 0v1h-1v1h1v-1h1v-1zm78 0v1h1v1h1v-1h-1v-1zm15 2h1v2h1v2h-2zm-15 2v1h-1v1h2v-2zm6 1v2h1v-2zm8 1h1v1h-1zm-13 1v1h1v-1zm3 0v2h2v-1h-1v-1zm6 0h1v1h-1zm7 1h2v2h-1v3h-1v-1h-1v-1h1zm4 2h2v1h-2zm-109 1h1v2h-1zm8 0v1h1v-1zm81 0v2h1v-1h1v-1zm13 2h2v2h-2zm-101 2h2v2h-2zm94 0v1h1v-1zm2 1v1h1v-1zm6 0h1v1h-1zm-96 2v1h1v-1zm3 0v1h1v-1zm79 0v1h1v-1zm-87 1h2v2h-1v-1h-1zm85 0v1h1v-1zm6 0v1h1v-1zm-100 2h2v2h-2zm124 0h1v1h-1zm1 1h1v1h-1zm-11 2h1v1h1v1h-2zm-96 1v1h1v-1zm78 0v2h2v-2zm13 2h2v2h-2zm-102 1h3v2h-3zm5 0h1v1h-1zm5 1v1h1v-1zm78 1v1h1v-1zm7 0h1v1h-1zm-94 2h2v1h-2zm11 1v2h1v-2zm69 0v1h1v-1zm16 0h2v2h-2zm-94 1h1v1h-1zm99 0h1v1h-1zm-97 1h2v2h-2zm91 1h1v2h-1zm-3 3h2v2h-2zm-2 1h1v1h-1zm-84 2h2v1h-2zm9 1v1h2v-1zm56 0v2h1v-2zm-53 1v1h1v-1zm64 0h1v1h-1zm-60 2v1h-1v1h2v-1h2v-1zm60 0h2v1h-2zm-66 1h1v1h-1zm51 1v1h1v-1zm6 0h2v2h-2zm7 0h1v1h-1zm-66 1h1v2h-1zm51 0v1h1v-1zm18 0h1v1h-1zm-21 1v1h1v-1zm-23 1v2h1v-2zm34 0h1v1h-1zm-61 1h2v4h-1v-3h-1zm72 0h2v1h-2zm-41 1v3h1v-3zm3 0v1h1v-1zm4 0v1h1v-1zm7 0v2h2v1h1v-1h-1v-2zm-37 2h1v1h-1zm13 1h1v1h-1zm-16 1h1v1h-1zm15 0h1v1h-1zm13 0h1v1h1v1h-2zm-19 2h2v2h-2zm5 0h1v1h1v1h-1v1h-2v-1h1zm26 0h1v1h-1zm2 0h2v1h-2zm-16 1h1v2h-1zm34 0h2v2h-1v-1h-1zm-43 1h1v2h-2v-1h1zm13 0h2v1h-2zm-22 1h2v1h1v2h-1v-1h-2zm39 0h1v1h-1zm-32 1h1v1h-1zm9 0h2v1h-2z"/>
</g>
<path fill="#fff" fill-rule="evenodd" d="M210.7 939.3L213.1 941.1 229.1 949.2 245 952.8 260.9 955.2 276.8 953.5 292.7 950.5 306.2 939.3 308.7 937.5 324.6 927 328.8 923.3 340.5 907.4 340.5 907.4 346.2 891.4 347.2 875.5 342.9 859.5 340.5 856 332.9 843.6 324.6 833.3 318.1 827.6 308.7 819.9 292.7 813.2 288.9 811.7 276.8 806.2 260.9 804 245 806.9 229.1 810 226.8 811.7 213.1 821.8 207.3 827.6 197.2 839.9 194.7 843.6 188.2 859.5 186 875.5 186.3 891.4 190.5 907.4 197.2 923 197.3 923.3Z"/>
<g shape-rendering="crispEdges">
<path fill="#fafbfe" fill-opacity="0.025" d="M157.4 915.3H173.3V931.3H157.4ZM157.4 899.4H173.3V915.3H157.4ZM157.4 883.5H173.3V899.4H157.4ZM157.4 867.5H173.3V883.5H157.4ZM157.4 851.6H173.3V867.5H157.4ZM157.4 835.6H173.3V851.6H157.4ZM173.3 931.3H189.3V947.2H173.3ZM173.3 819.7H189.3V835.6H173.3ZM173.3 803.7H189.3V819.7H173.3ZM189.3 963.2H205.2V979.1H189.3ZM189.3 947.2H205.2V963.2H189.3ZM189.3 787.8H205.2V803.7H189.3ZM205.2 979.1H221.1V995.1H205.2ZM205.2 963.2H221.1V979.1H205.2ZM205.2 771.8H221.1V787.8H205.2ZM221.1 979.1H237V995.1H221.1ZM221.1 771.8H237V787.8H221.1ZM237 979.1H252.9V995.1H237ZM252.9 979.1H268.9V995.1H252.9ZM252.9 771.8H268.9V787.8H252.9ZM268.9 771.8H284.8V787.8H268.9ZM284.8 771.8H300.7V787.8H284.8ZM300.7 963.2H316.6V979.1H300.7ZM300.7 787.8H316.6V803.7H300.7ZM316.6 787.8H332.5V803.7H316.6ZM332.5 947.2H348.5V963.2H332.5ZM332.5 803.7H348.5V819.7H332.5ZM332.5 787.8H348.5V803.7H332.5ZM348.5 947.2H364.4V963.2H348.5ZM348.5 931.3H364.4V947.2H348.5ZM348.5 803.7H364.4V819.7H348.5ZM364.4 931.3H380.3V947.2H364.4ZM364.4 915.3H380.3V931.3H364.4ZM364.4 899.4H380.3V915.3H364.4ZM364.4 851.6H380.3V867.5H364.4ZM364.4 835.6H380.3V851.6H364.4ZM364.4 819.7H380.3V835.6H364.4ZM380.3 899.4H396.2V915.3H380.3ZM380.3 883.5H396.2V899.4H380.3ZM380.3 867.5H396.2V883.5H380.3ZM380.3 851.6H396.2V867.5H380.3Z"/>
<path fill="#f6f8fe" fill-opacity="0.050" d="M173.3 915.3H189.3V931.3H173.3ZM173.3 835.6H189.3V851.6H173.3ZM189.3 803.7H205.2V819.7H189.3ZM205.2 947.2H221.1V963.2H205.2ZM205.2 787.8H221.1V803.7H205.2ZM221.1 963.2H237V979.1H221.1ZM237 963.2H252.9V979.1H237ZM237 787.8H252.9V803.7H237ZM237 771.8H252.9V787.8H237ZM252.9 963.2H268.9V979.1H252.9ZM268.9 963.2H284.8V979.1H268.9ZM284.8 963.2H300.7V979.1H284.8ZM284.8 787.8H300.7V803.7H284.8ZM316.6 947.2H332.5V963.2H316.6ZM316.6 803.7H332.5V819.7H316.6ZM332.5 931.3H348.5V947.2H332.5ZM348.5 915.3H364.4V931.3H348.5ZM348.5 835.6H364.4V851.6H348.5ZM348.5 819.7H364.4V835.6H348.5ZM364.4 883.5H380.3V899.4H364.4ZM364.4 867.5H380.3V883.5H364.4Z"/>
<path fill="#f1f4fd" fill-opacity="0.075" d="M173.3 899.4H189.3V915.3H173.3ZM173.3 867.5H189.3V883.5H173.3ZM189.3 931.3H205.2V947.2H189.3ZM221.1 787.8H237V803.7H221.1ZM252.9 787.8H268.9V803.7H252.9ZM268.9 787.8H284.8V803.7H268.9ZM300.7 947.2H316.6V963.2H300.7ZM316.6 931.3H332.5V947.2H316.6ZM332.5 819.7H348.5V835.6H332.5ZM348.5 899.4H364.4V915.3H348.5ZM348.5 883.5H364.4V899.4H348.5ZM348.5 867.5H364.4V883.5H348.5ZM348.5 851.6H364.4V867.5H348.5Z"/>
<path fill="#ecf0fc" fill-opacity="0.100" d="M173.3 883.5H189.3V899.4H173.3ZM173.3 851.6H189.3V867.5H173.3ZM189.3 819.7H205.2V835.6H189.3ZM205.2 803.7H221.1V819.7H205.2ZM221.1 947.2H237V963.2H221.1ZM284.8 947.2H300.7V963.2H284.8ZM300.7 803.7H316.6V819.7H300.7ZM316.6 819.7H332.5V835.6H316.6ZM332.5 915.3H348.5V931.3H332.5ZM332.5 835.6H348.5V851.6H332.5Z"/>
<path fill="#e7ecfb" fill-opacity="0.125" d="M189.3 915.3H205.2V931.3H189.3ZM237 947.2H252.9V963.2H237ZM252.9 947.2H268.9V963.2H252.9ZM268.9 947.2H284.8V963.2H268.9ZM284.8 803.7H300.7V819.7H284.8ZM300.7 931.3H316.6V947.2H300.7ZM332.5 899.4H348.5V915.3H332.5Z"/>
<path fill="#e2e8fa" fill-opacity="0.150" d="M189.3 835.6H205.2V851.6H189.3ZM205.2 931.3H221.1V947.2H205.2ZM221.1 803.7H237V819.7H221.1ZM316.6 915.3H332.5V931.3H316.6ZM332.5 851.6H348.5V867.5H332.5Z"/>
<path fill="#dee5fa" fill-opacity="0.175" d="M205.2 819.7H221.1V835.6H205.2ZM237 803.7H252.9V819.7H237ZM268.9 803.7H284.8V819.7H268.9ZM300.7 819.7H316.6V835.6H300.7ZM316.6 835.6H332.5V851.6H316.6ZM332.5 883.5H348.5V899.4H332.5Z"/>
<path fill="#d9e1f9" fill-opacity="0.200" d="M189.3 899.4H205.2V915.3H189.3ZM189.3 851.6H205.2V867.5H189.3ZM221.1 931.3H237V947.2H221.1ZM252.9 803.7H268.9V819.7H252.9ZM316.6 899.4H332.5V915.3H316.6ZM332.5 867.5H348.5V883.5H332.5Z"/>
<path fill="#d4ddf8" fill-opacity="0.225" d="M189.3 883.5H205.2V899.4H189.3ZM284.8 931.3H300.7V947.2H284.8Z"/>
<path fill="#d0daf8" fill-opacity="0.250" d="M189.3 867.5H205.2V883.5H189.3ZM205.2 915.3H221.1V931.3H205.2ZM237 931.3H252.9V947.2H237ZM268.9 931.3H284.8V947.2H268.9ZM284.8 819.7H300.7V835.6H284.8ZM300.7 915.3H316.6V931.3H300.7ZM316.6 851.6H332.5V867.5H316.6Z"/>
<path fill="#cbd6f7" fill-opacity="0.275" d="M221.1 819.7H237V835.6H221.1ZM300.7 835.6H316.6V851.6H300.7ZM316.6 883.5H332.5V899.4H316.6Z"/>
<path fill="#c6d2f6" fill-opacity="0.300" d="M205.2 835.6H221.1V851.6H205.2ZM316.6 867.5H332.5V883.5H316.6Z"/>
<path fill="#c1cef5" fill-opacity="0.325" d="M237 819.7H252.9V835.6H237ZM252.9 931.3H268.9V947.2H252.9ZM268.9 819.7H284.8V835.6H268.9Z"/>
<path fill="#bccaf4" fill-opacity="0.350" d="M252.9 819.7H268.9V835.6H252.9ZM284.8 915.3H300.7V931.3H284.8Z"/>
<path fill="#b8c7f4" fill-opacity="0.375" d="M205.2 851.6H221.1V867.5H205.2ZM300.7 899.4H316.6V915.3H300.7Z"/>
<path fill="#b3c3f3" fill-opacity="0.400" d="M205.2 899.4H221.1V915.3H205.2ZM221.1 915.3H237V931.3H221.1Z"/>
<path fill="#aebff2" fill-opacity="0.425" d="M284.8 835.6H300.7V851.6H284.8ZM300.7 883.5H316.6V899.4H300.7Z"/>
<path fill="#aabcf2" fill-opacity="0.450" d="M221.1 835.6H237V851.6H221.1ZM300.7 851.6H316.6V867.5H300.7Z"/>
<path fill="#a5b8f1" fill-opacity="0.475" d="M205.2 883.5H221.1V899.4H205.2ZM205.2 867.5H221.1V883.5H205.2ZM237 915.3H252.9V931.3H237ZM268.9 915.3H284.8V931.3H268.9ZM300.7 867.5H316.6V883.5H300.7Z"/>
<path fill="#a0b4f0" fill-opacity="0.500" d="M252.9 915.3H268.9V931.3H252.9ZM284.8 899.4H300.7V915.3H284.8Z"/>
<path fill="#96acee" fill-opacity="0.550" d="M221.1 899.4H237V915.3H221.1ZM237 835.6H252.9V851.6H237ZM268.9 835.6H284.8V851.6H268.9Z"/>
<path fill="#8da5ed" fill-opacity="0.600" d="M284.8 851.6H300.7V867.5H284.8Z"/>
<path fill="#88a1ec" fill-opacity="0.625" d="M221.1 851.6H237V867.5H221.1Z"/>
<path fill="#7f9aeb" fill-opacity="0.675" d="M252.9 835.6H268.9V851.6H252.9ZM268.9 899.4H284.8V915.3H268.9ZM284.8 883.5H300.7V899.4H284.8ZM284.8 867.5H300.7V883.5H284.8Z"/>
<path fill="#7a96ea" fill-opacity="0.700" d="M237 899.4H252.9V915.3H237Z"/>
<path fill="#7592e9" fill-opacity="0.725" d="M221.1 867.5H237V883.5H221.1ZM268.9 851.6H284.8V867.5H268.9Z"/>
<path fill="#708ee8" fill-opacity="0.750" d="M221.1 883.5H237V899.4H221.1ZM268.9 883.5H284.8V899.4H268.9Z"/>
<path fill="#6787e7" fill-opacity="0.800" d="M237 851.6H252.9V867.5H237ZM252.9 899.4H268.9V915.3H252.9Z"/>
<path fill="#5e80e6" fill-opacity="0.850" d="M252.9 851.6H268.9V867.5H252.9Z"/>
<path fill="#597ce5" fill-opacity="0.875" d="M237 883.5H252.9V899.4H237ZM237 867.5H252.9V883.5H237ZM252.9 883.5H268.9V899.4H252.9ZM268.9 867.5H284.8V883.5H268.9Z"/>
<path fill="#4169e1" fill-opacity="1.000" d="M252.9 867.5H268.9V883.5H252.9Z"/>
</g>
<path class="c" d="M210.7 939.3L213.1 941.1 229.1 949.2 245 952.8 260.9 955.2 276.8 953.5 292.7 950.5 306.2 939.3 308.7 937.5 324.6 927 328.8 923.3 340.5 907.4 340.5 907.4 346.2 891.4 347.2 875.5 342.9 859.5 340.5 856 332.9 843.6 324.6 833.3 318.1 827.6 308.7 819.9 292.7 813.2 288.9 811.7 276.8 806.2 260.9 804 245 806.9 229.1 810 226.8 811.7 213.1 821.8 207.3 827.6 197.2 839.9 194.7 843.6 188.2 859.5 186 875.5 186.3 891.4 190.5 907.4 197.2 923 197.3 923.3ZM221.7 923.3L229.1 928.6 245 933.8 260.9 938 276.8 934.1 292.7 926.3 296.7 923.3 308.7 912.5 312.3 907.4 319 891.4 322.8 875.5 317.6 859.5 308.7 848.5 303.4 843.6 292.7 834.2 276.8 827.6 276.8 827.6 260.9 825.9 245 827.1 243.7 827.6 229.1 832.6 217 843.6 213.1 850.7 208.6 859.5 202.3 875.5 203.9 891.4 207.7 907.4 213.1 915.2ZM236.1 907.4L245 913.3 260.9 917.1 276.8 911.8 282 907.4 292.7 896 296 891.4 297.5 875.5 292.7 863.1 290.5 859.5 276.8 849.9 267.6 843.6 260.9 840.9 253.2 843.6 245 847.5 229.1 859.5 229.1 859.5 221.9 875.5 221.7 891.4 229.1 901.7ZM245 891.4L260.9 891.9 261.2 891.4 276.3 875.5 260.9 861.4 245 873.1 243.7 875.5 245 891.4Z"/>
<path class="tr" d="M261.6 724V1042.9"/>
<path class="th" d="M141.5 880.7H459.9"/>
<rect x="254.3" y="873.2" width="14.7" height="15.3" fill="#4682b4"/>
</g>
<clipPath id="k2"><rect x="475.9" y="724" width="318.4" height="318.9"/></clipPath>
<g clip-path="url(#k2)">
<g transform="translate(473.74 721.79) scale(2.212)" fill="#4169e1" filter="url(#bl)">
<path fill-opacity="0.070" d="M39 1h2v2h-2zm14 3h2v2h-1v2h-2v-2h1zm1 4h2v2h-2zm54 0h2v2h-2zm-5 2h2v2h-2zm-54 1h2v2h2v2h-3v1h-2v-2h1zm6 0h2v2h-2zm18 0h2v2h-2zm17 0h2v2h-2zm-48 1h2v2h-1v2h-2v-3h1zm18 0h2v2h-1v1h1v2h-2v-1h-1v-3h1zm3 0h2v2h-2zm18 1h2v1h1v2h-2v-1h-1zm-16 1h2v2h2v2h2v2h-1v2h2v1h1v-2h3v-1h4v-1h-2v-2h3v1h1v3h1v1h1v-2h2v1h2v1h2v-4h2v4h-1v2h6v1h1v2h-1v2h4v2h1v-1h2v1h1v-1h2v-1h2v2h-1v2h2v2h1v-1h3v2h-3v2h2v-1h2v2h-2v1h-2v1h3v1h2v2h-2v-1h-1v4h2v-1h2v2h-1v1h2v-1h2v1h1v2h-2v1h1v1h3v-3h2v-1h-1v-2h2v2h1v2h1v2h-2v4h-2v-2h-2v2h1v2h3v2h1v4h-2v1h1v1h1v2h-1v2h1v-2h2v1h2v2h-2v1h-1v2h1v1h2v1h1v2h-2v-1h-1v1h-1v1h-1v1h1v3h1v1h2v2h-1v3h-2v-1h-1v1h-1v2h-2v2h1v2h1v1h1v-4h2v-1h1v-2h1v-2h2v2h-1v1h2v2h1v-1h2v2h-2v1h-6v2h1v3h-1v1h-5v1h-1v1h-1v3h1v2h-2v-1h-1v1h1v3h2v1h2v2h-2v-1h-1v2h-2v2h-2v-3h-1v-1h-1v1h1v2h-3v3h1v2h-2v-1h-2v-1h-1v-3h-2v-1h-1v1h-2v2h-1v3h-1v1h1v-1h1v-1h1v-3h3v2h1v2h2v2h-1v2h-2v-2h-1v1h-2v-1h-1v1h-3v1h1v2h-2v-2h-4v-1h-1v3h-2v-1h-1v2h-2v-2h1v-1h-4v2h-2v-2h-3v2h-2v-1h-2v1h-4v2h-4v-2h2v-1h-1v-5h-2v1h-2v1h-2v1h-2v-1h-2v-3h1v-2h-2v5h-2v-1h-3v-4h1v-2h1v-2h-1v2h-2v-1h-1v-3h3v-1h1v-1h-1v1h-3v-2h-1v4h-1v1h-3v2h-2v1h-1v2h-2v-2h-1v-4h2v2h2v-1h1v-1h-1v-2h1v-4h-3v1h1v2h-2v-2h-1v-1h-1v1h-3v-2h1v-2h1v-2h-2v-2h1v-1h-1v-1h-2v1h-2v-1h-1v3h-2v-2h-1v-2h3v-1h-2v-2h1v-1h-1v-2h-3v-4h-3v-2h3v-2h-1v-2h2v1h3v-2h-5v-2h-1v1h-2v-4h2v-1h-5v-2h5v1h1v-1h-1v-1h-3v-2h4v-1h-1v-2h-1v1h-2v1h-2v3h-2v-3h-2v-2h2v1h2v-1h-2v-2h2v-1h1v-3h-2v1h-2v-2h2v-2h1v-5h-3v-2h2v-4h3v-2h1v-2h-2v-1h-2v-2h2v1h2v1h2v1h1v1h2v-1h2v-1h-2v-3h2v-1h2v-1h2v-1h-1v-1h-1v1h-2v1h-2v2h-2v1h-2v-2h-1v-2h2v-1h2v1h1v-1h2v-4h3v-1h1v-1h1v-1h2v1h1v-1h-1v-5h-1v-2h2v-1h-2v-4h2v3h2v3h-1v1h1v1h1v-1h2v1h1v-1h-1v-2h2v1h1v2h2v1h1v-1h-1v-1h-1v-2h1v-1h1v-1h1v-1h1v-2h2v2h-1v1h1v3h1v-1h3v-1h-2v-2h-1v-2h2v2h2v2h1v-1h2v-2h2zm9 0h2v2h1v3h-2v-3h-1zm17 0h2v2h-2zm4 2h3v2h-1v2h-2zm-49 1h2v2h-2zm19 1v1h-1v1h1v1h2v-2h1v-1zm-37 1h2v2h-2zm24 1v1h1v-1zm-20 1h2v2h-1v2h-3v-1h-2v-2h2v1h2zm48 0v3h2v1h2v-1h-1v-1h-2v-2zm19 2h2v2h1v2h-1v1h-2v-2h1v-1h-1zm-76 2h2v2h-2zm19 0v1h1v-1zm3 0v1h-1v1h2v-2zm64 0h2v2h-2zm-81 1h2v6h-2zm4 0h2v2h-2zm44 0v1h1v-1zm12 0v1h2v-1zm17 0h2v2h-2v1h-2v-2h2zm10 2h2v2h-2zm-100 1h2v2h-2zm33 0v1h1v-1zm45 0v1h1v-1zm-71 1h2v2h1v2h-2v-2h-1v3h-2v-4h2zm96 0h2v2h-2zm-76 1v1h-1v1h1v-1h1v-1zm3 0v1h1v-1zm52 0v3h1v-3zm-10 1v1h1v-1zm-50 1v1h1v-1zm64 0v1h-1v1h2v1h1v3h1v-3h-1v-1h-1v-2zm14 2h3v4h-1v1h2v2h-3v-1h-1v-2h1v-2h-1zm-7 1v2h1v-2zm13 0h2v2h-2zm-87 2v1h-2v1h2v-1h1v-1zm90 4h2v2h-2v2h-2v-3h2zm-112 1h2v2h-2zm9 0h2v2h-2v1h-2v-2h2zm11 0v1h1v-1zm78 0v1h1v-1zm8 1h3v2h-1v1h-2zm-92 1v3h-1v1h2v-4zm103 1h2v2h-2zm-111 1h2v2h-2zm14 0v1h1v-1zm111 0h2v2h-2zm-120 2v1h1v-1zm1 3v1h1v1h1v2h3v-2h-3v-2zm-5 1h2v2h-2zm-9 1h2v2h-2zm109 1v1h1v-1zm8 0h2v2h-2zm-104 2v1h1v-1zm97 0v3h1v-3zm-104 1h2v2h-2zm10 0v2h-1v1h1v-1h1v-1h1v-1zm105 1h2v2h-2zm-119 2h4v2h-4zm111 1v1h1v-1zm9 1h3v2h-1v5h1v2h-1v1h-2v-2h1v-1h-1v-3h-3v-2h3zm7 1h2v2h-2zm-124 1h2v2h-2zm107 0v1h1v-1zm13 1h2v2h-2zm-120 2h2v2h-2zm-2 2h2v2h-1v1h-1v2h-2v-2h1v-2h1zm4 0h2v2h-2zm108 2v1h1v-1zm4 1h3v2h-3zm-99 1v1h-1v2h2v-3zm95 1v1h1v-1zm-110 1h2v2h1v2h-2v-2h-1zm4 1h2v4h-2zm115 0h2v2h-2zm4 1h2v2h-2zm-13 1v1h-1v2h1v-2h1v-1zm-114 1h2v2h-2zm14 1h2v3h-2zm106 2h2v1h1v-1h2v2h-2v1h-2v-1h-1zm9 0h2v2h-2zm-108 1v2h1v2h3v-1h-1v-1h-1v-2zm91 0v2h1v-1h1v-1zm-109 1h2v2h-2zm114 1v1h1v-1zm-109 1h2v2h-2zm115 0h2v2h-2zm7 0h2v2h-2zm-118 1h2v2h-2zm14 1v1h1v-1zm-2 2v3h1v-3zm96 1v1h1v-1zm-102 1h2v3h-2zm12 0v1h1v-1zm-3 1v2h1v-2zm4 1v1h1v-1zm-6 1v1h1v-1zm96 0h2v2h-1v1h1v2h-2v4h-2v1h1v2h-2v-2h-1v-2h2v-1h-1v-2h1v-1h2v-1h-1v-2h1zm-106 1h2v2h-2zm18 2v1h1v-1zm-1 2v1h1v2h1v-2h-1v-1zm-7 1h2v1h1v2h-2v-1h-1zm89 0h3v2h-1v2h-2zm-99 1h2v2h-2zm5 1h2v2h-2zm18 2v1h1v-1zm-19 1h2v2h-2zm103 0h2v2h-2zm-15 1v2h1v-2zm6 0h2v2h-1v1h-2v-2h1zm-88 1h2v2h-2zm24 1v1h1v-1zm51 0v1h1v-1zm15 0h2v2h-2zm-94 1h2v2h-2zm83 0v1h1v-1zm5 1v1h1v-1zm8 0h2v2h-2zm-18 1v2h2v-2zm-90 1h2v2h-2zm103 1h2v2h-2zm-74 1h2v2h1v-2h2v3h-2v1h-2v1h-2v-4h1zm10 0v1h1v-1zm8 1v1h1v-1zm26 0v1h-2v1h1v1h1v-2h1v-1zm34 0h2v2h-2zm-90 1h2v2h-2zm21 0v2h1v-2zm20 0v1h1v-1zm38 0h3v2h-1v2h1v2h-2v-2h-1zm-43 1v1h1v-1zm28 0v1h1v-1zm6 1v2h1v-2zm12 0h2v2h-2zm5 0h2v2h-2zm5 0h2v2h-2zm-78 1h2v2h-2zm13 0v1h1v-1zm31 0v2h1v-2zm-10 1v1h1v-1zm13 0v1h2v-1zm15 0h2v2h-1v2h2v2h-3v-2h-1v-2h1zm-72 1h2v2h-2zm14 0h2v2h-2zm19 0v1h1v-1zm3 1v1h2v-1zm42 0h2v2h-2zm-76 1h2v2h-2zm24 0h2v3h-2zm-7 1h2v2h-2zm44 0h2v3h1v1h2v2h-2v-1h-2v-1h-1zm-47 1h2v2h-2zm7 0h2v2h-2zm20 0h2v2h-2zm4 0h2v4h-2zm-8 1h2v2h-2v1h-3v-2h3zm16 0h2v2h-2zm3 1h2v2h-2zm16 0h2v2h-2zm-44 1h2v2h-2zm9 1h2v2h-2zm37 0h2v2h-2zm-32 2h2v2h-2zm18 0h2v2h-2zm-12 1h2v2h-2zm-4 2h2v2h-2zm34 2h2v2h-2zm-40 1h2v2h-2zm17 1h2v2h-2zm11 0h2v2h-2z"/>
<path fill-opacity="0.151" d="M39 1h2v2h-2zm15 7h2v2h-2zm54 0h2v2h-2zm-5 2h2v2h-2zm-54 1h2v2h2v2h-3v1h-2v-2h1zm24 0h2v2h-2zm17 0h2v2h-2zm-48 1h2v2h-1v2h-2v-2h1zm18 0h2v2h-1v1h1v2h-2v-2h-1v-2h1zm5 2h2v2h-2zm9 0h2v2h1v2h-2v-2h-1zm8 0h1v1h-1zm-44 1h2v3h2v3h-1v1h1v1h1v-1h2v1h1v-1h-1v-2h2v1h1v2h2v1h1v-2h-2v-2h1v-1h1v-1h1v-1h1v-2h2v2h-1v1h1v3h-2v-1h-1v1h1v1h3v-2h3v-1h2v-1h2v-2h2v3h-1v1h1v1h2v-2h1v-1h-1v-2h2v2h2v2h-1v3h3v-2h3v-1h2v1h1v2h1v1h1v2h1v-1h2v1h1v-2h4v-1h2v1h4v1h3v2h-1v2h4v2h6v1h1v1h2v2h1v-1h3v2h-3v2h2v-1h2v2h-2v1h-2v1h3v1h2v2h-2v-1h-1v4h-1v1h2v-1h2v2h5v2h-2v2h4v-3h2v-1h2v2h1v2h-2v1h-3v1h-1v2h-2v3h2v-1h4v2h-1v1h1v2h-1v3h-1v1h1v1h1v2h-1v5h-2v1h2v-1h1v-5h1v-2h2v1h2v2h-2v1h-1v2h1v4h-1v1h-2v-1h-1v1h-1v2h2v-1h2v6h1v-2h2v2h-1v3h-2v-2h-1v2h-1v1h-2v3h1v2h1v3h2v-2h-1v-4h2v-1h1v-2h1v-2h2v2h-1v1h2v4h-1v-2h-1v-1h-1v1h1v2h-3v2h1v3h-1v1h-5v1h-1v1h-2v2h1v2h-2v1h-2v2h-1v1h1v-1h3v1h2v1h2v2h-2v-1h-1v2h-2v2h-2v-3h-1v-1h-1v-2h-1v1h-1v2h2v2h-2v2h-1v1h1v1h-3v-1h-1v-3h-2v-1h-1v1h-2v2h-1v3h-1v1h2v-2h1v-3h3v2h1v2h2v2h-1v2h-2v-2h-1v1h-2v-1h-1v1h-3v1h1v2h-2v-2h-4v-1h-1v1h-1v1h-2v2h-2v-2h1v-1h-4v-1h-1v1h1v2h-2v-5h-2v1h1v2h-2v1h-4v1h-4v1h-2v1h-2v-2h2v-1h-1v-4h2v-1h1v-1h-1v-1h-1v1h-1v1h-2v1h-2v1h-2v1h-2v-1h-2v-3h1v-2h1v-1h-1v1h-2v3h-2v1h-3v-4h1v-2h1v-2h-1v2h-2v-1h-1v-3h3v-1h1v-1h-1v1h-2v-1h-1v-1h-1v4h-3v1h-1v2h-2v1h-4v-4h2v2h2v-1h1v-1h-1v-2h1v-4h2v-1h-1v-1h-1v2h-3v1h-2v-1h-1v1h-2v-4h1v-2h-2v-2h1v-1h-1v-1h-1v-2h1v1h1v-1h-1v-2h-1v2h-6v-2h1v-1h-1v-2h-3v-2h1v-2h1v-1h-1v1h-2v-2h1v-2h-1v-2h2v2h1v-1h2v-2h-4v-2h-2v1h-2v-4h2v-1h-2v-2h2v1h1v-1h-1v-1h-3v-2h6v-1h1v-1h-1v1h-3v-2h1v-1h-1v1h-1v1h-2v-1h-4v-2h3v-1h1v-1h-1v-2h-2v1h-2v-2h2v-1h3v-1h-2v-5h-3v-2h5v-1h-1v-1h-2v-2h3v-1h1v-3h-2v-2h2v1h2v1h1v1h2v-1h2v-2h2v-1h1v-1h-1v1h-2v1h-2v-2h2v-1h2v-1h3v-1h-2v-1h-3v-4h2v1h1v-2h1v-1h2v1h1v-1h3v-1h-2v-1h-1v-4h-1v-2h2v-1h-2zm18 0h2v2h1v2h-2v-2h-1zm39 1h3v2h-1v1h-2zm-49 1h2v2h-2zm32 0h2v1h2v3h1v1h1v-2h2v1h2v2h-2v-1h-1v2h-2v-1h-2v-2h-1v-2h-2zm12 1h2v4h-2zm-62 1h2v2h-2zm34 2v1h1v-1zm-34 1h2v1h3v2h-3v-1h-2zm25 1v1h1v-1zm-12 1v1h1v1h1v-1h-1v-1zm14 0v1h1v-1zm-32 1h2v2h-2zm22 0v1h-1v2h1v-1h1v-2zm4 0v2h1v-2zm51 0h2v2h-1v1h-2v-2h1zm-72 1h2v3h-2zm48 0v1h1v-1zm12 0v1h2v-1zm17 0h2v2h-2v1h-2v-2h2zm10 2h2v2h-2zm-100 1h2v2h-2zm33 0v1h1v-1zm38 0v1h1v-1zm7 0v1h1v-1zm14 0h2v2h-2zm-79 1h2v2h-2zm14 0v2h-1v1h1v-1h1v-2zm49 0v1h1v-1zm-71 1h2v4h-2zm25 0v1h1v-1zm52 0v3h1v-1h1v-1h1v-1zm-61 1v1h1v1h1v-1h-1v-1zm51 0v1h1v-1zm13 1v2h1v1h2v2h-1v1h1v1h1v-5h-2v-2zm-73 1h2v1h1v3h-2v1h-2v-2h-1v-2h2zm88 1h3v2h-3zm-88 1v1h1v-1zm81 0v2h1v-2zm13 0h2v2h-2zm-25 1v1h2v-1zm19 2h2v1h2v2h-3v-1h-1zm9 3h2v2h-2v2h-2v-3h2zm-112 1h2v2h-2zm9 0h2v2h-2v1h-2v-2h2zm11 0v1h1v-1zm78 0v1h1v-1zm8 1h2v3h-2zm-92 1v2h-1v2h2v-4zm7 0v2h-1v2h1v-2h1v-2zm-15 2h2v2h-2zm125 0h2v2h-2zm-118 4v1h-1v1h1v1h1v2h3v-2h-3v-3zm-6 2h2v2h-2zm-9 1h2v2h-2zm108 0v1h1v1h1v-1h-1v-1zm6 1h2v1h-2zm3 0h2v2h-2zm-111 3h2v2h-2zm10 0v2h-1v1h1v-1h1v-1h1v-1zm105 1h2v2h-2zm-119 2h2v2h-2zm109 1v1h3v-1zm11 1h3v2h-1v5h1v2h-2v-2h-1v-3h-3v-2h3zm-10 2v1h-1v1h1v-1h1v-1zm-104 1h2v1h2v4h-2v-3h-2zm107 1h1v1h-1zm-110 1h2v2h-2zm2 2h2v2h-2zm13 0v1h1v-1zm-17 1h1v1h-1zm9 1h2v2h-2zm107 1h2v2h-2zm-99 1v1h-1v2h4v-1h-1v-2zm-15 2h2v2h1v2h-2v-2h-1zm4 1h2v4h-2zm111 0h2v2h-2zm4 0h2v2h-2zm4 1h2v2h-2zm-18 1v1h1v-1zm-109 1h2v2h-2zm14 2h2v2h-2zm106 1h2v1h1v-1h2v2h-2v1h-2v-1h-1zm9 0h2v2h-2zm-108 1v2h1v3h1v-1h2v-1h-1v-1h-1v-2zm91 0v2h1v-1h1v-1zm-109 1h2v2h-2zm5 2h2v2h-2zm115 0h2v2h-2zm7 0h2v2h-2zm-118 1h2v2h-2zm14 1v1h1v-1zm-2 2v1h-1v1h1v1h1v-2h1v-1zm100 1h2v2h-2zm-106 1h2v3h-2zm12 0v1h1v-1zm1 2v1h1v-1zm90 1h2v2h-2zm-106 1h2v2h-2zm6 0h2v2h-2zm3 0h1v1h-1zm6 1v1h2v-1zm78 0v1h1v1h1v-2zm-75 1v1h1v-1zm88 0h2v2h-2v4h-2v1h1v2h-2v-2h-1v-2h2v-1h-1v-2h1v-1h2zm-89 2v1h1v2h1v-2h-1v-1zm-7 1h2v1h1v2h-2v-1h-1zm89 0h3v2h-3zm-99 1h2v2h-2zm5 1h2v2h-2zm-1 3h2v2h-2zm94 1h2v2h-1v1h-2v-2h1zm-88 1h2v2h-2zm78 0v1h1v-1zm-54 1v1h1v-1zm51 0v1h1v-1zm15 0h2v2h-2zm-94 1h2v2h-2zm17 0v1h1v-1zm71 1v1h1v-1zm-10 1v2h2v-2zm-20 2v1h1v-1zm33 0h2v2h-2zm-71 1h2v3h-2zm7 0v1h1v-1zm8 0v2h1v-2zm7 0v1h1v-1zm-25 1h1v1h-1zm44 0v1h-2v1h1v1h1v-2h1v-1zm34 0h2v2h-2zm-90 1h2v2h-2zm21 0v2h1v-2zm11 0v1h1v-1zm9 0v1h1v-1zm38 0h2v2h-2zm-68 1h2v2h-2zm53 0v1h1v-1zm6 1v2h1v-2zm12 0h2v2h-2zm5 0h2v2h-2zm5 0h2v2h-2zm-65 1v1h1v-1zm14 0v1h1v-1zm17 0v2h1v-2zm3 0v2h2v-1h-1v-1zm15 1h2v2h-1v2h1v2h-2v-2h-1v-2h1zm4 0h2v2h-2zm-76 1h2v2h-2zm33 0v1h1v-1zm3 1v1h2v-1zm42 0h2v2h-2zm-76 1h2v2h-2zm24 0h2v3h-2zm-7 1h2v2h-2zm44 0h2v2h-2zm-47 1h2v2h-2zm7 0h2v2h-2zm20 0h2v2h-2zm4 0h2v2h-2zm-8 1h2v2h-2v1h-3v-2h3zm16 0h2v2h-2zm3 1h2v2h-2zm6 0h2v1h2v2h-2v-1h-2zm10 0h2v2h-2zm-44 1h2v2h-2zm9 1h2v2h-2zm37 0h2v2h-2zm-32 2h2v2h-2zm18 0h2v2h-2zm-12 1h2v2h-2zm-4 2h2v2h-2zm-6 3h2v2h-2zm17 1h2v2h-2zm11 0h2v2h-2z"/>
<path fill-opacity="0.241" d="M39 1h2v2h-2zm69 7h2v2h-2zm-35 3h2v2h-2zm-13 1h2v2h-2zm-11 1h4v2h-3v1h-2v-2h1zm16 1h2v2h-2zm9 0h2v2h1v2h-2v-2h-1zm-21 1h2v2h-1v2h1v2h-2v-1h-1v1h1v2h-2v-2h-1v-2h1v-1h1v-1h1zm3 0h2v2h1v2h-2v-2h-1zm4 0h2v2h-2zm7 1h2v2h-2zm29 0h2v2h-1v1h-2v-2h1zm-50 1h2v2h-2zm17 0h2v2h-2v1h1v1h3v-2h2v-1h2v2h-1v3h4v-2h1v1h2v1h2v1h1v1h1v1h1v-1h2v1h1v-2h4v-1h2v1h1v2h1v-2h2v1h3v2h-1v1h-1v1h5v2h2v2h1v-2h2v1h2v1h1v2h2v-1h3v2h-3v1h-2v-1h-1v1h-1v1h3v1h1v3h1v-1h2v1h2v2h-2v-1h-1v4h-1v1h2v-1h2v2h-2v1h-1v1h2v-1h2v-1h4v2h-2v1h-1v1h6v-3h1v-1h2v2h1v2h-2v1h-3v1h-1v2h-2v3h2v-1h2v1h1v2h-4v1h3v2h1v1h-1v3h2v2h-1v5h-2v-1h1v-1h-1v1h-1v1h1v1h3v1h1v-2h-1v-3h1v-4h2v1h2v2h-3v4h1v2h-1v2h-2v-1h-1v1h-1v2h4v3h-1v1h1v2h-1v2h-1v1h-2v-2h-1v2h1v3h1v4h-2v1h5v-2h-1v-2h2v2h1v3h-1v1h-5v1h-1v1h-2v3h1v1h-5v1h1v2h-2v-2h-3v1h1v1h1v1h-1v5h-1v4h-1v-1h-1v-1h-1v-2h2v-3h-2v3h-2v-1h-2v1h-1v2h-1v2h-1v2h2v1h-1v1h-2v1h1v2h-2v-2h-4v-1h-1v1h-2v1h-1v2h-2v-2h1v-1h-1v-1h-1v1h-2v-1h-2v-2h-1v-1h-1v3h-2v1h1v1h-4v1h-4v1h-2v-4h-1v-2h2v-1h1v-2h-2v1h-2v1h-4v1h-2v-2h-2v-2h1v-1h-1v1h-2v1h-2v-1h-1v4h-2v-4h1v-2h2v1h1v-2h-2v-2h-1v-2h1v-1h-2v1h-1v-3h-1v1h-1v4h-3v1h-1v2h-2v-2h1v-2h2v-1h-2v-4h2v-2h1v-1h-1v-1h-2v1h-1v1h-1v2h-2v-1h-2v1h-1v-1h-1v-2h1v-2h3v2h1v-1h1v-1h1v-1h-1v1h-2v-1h-4v-1h1v-1h2v-1h-2v1h-2v-2h1v-3h2v-1h-2v1h-1v-1h-1v3h-6v-2h4v-2h1v-1h-1v-1h3v-1h-2v-2h1v-1h-1v1h-2v-2h-1v-1h-2v2h-2v-2h-1v-1h-1v-2h2v2h1v-1h2v-3h-1v1h-2v-1h-1v-1h-2v1h-2v-2h2v-4h2v-1h1v-1h1v-1h-1v1h-3v-1h1v-1h2v-1h1v-1h-1v1h-3v-2h1v-1h-1v1h-1v1h-2v-1h-2v-2h2v-3h-1v-1h-2v1h-2v-2h2v-1h3v-2h2v3h-1v3h1v1h2v1h1v-1h-1v-2h-1v-1h1v-2h-1v-2h3v-1h-1v-1h-1v-1h-2v-2h-1v1h-1v1h1v2h-1v1h-2v-1h1v-1h-1v-2h-1v-2h3v-1h3v1h1v-1h-1v-2h1v-2h-2v2h-1v1h-2v-2h1v-1h1v-3h-2v-2h2v1h2v2h2v1h1v-1h2v1h1v-2h-1v-2h2v-1h1v-1h-1v1h-2v1h-2v-2h2v-1h2v-1h3v-1h1v-2h-1v-1h-1v2h-4v-4h2v1h1v-1h1v-1h1v1h1v-1h2v-1h2v-1h-2v-1h-1v-3h1v-1h1v3h1v1h2v2h1v-1h2v-1h-1v-1h-1v-2h1v-1h-1v-2h2v1h1v2h-1v1h2v3h1v-3h2v1h4v-1h-2v-2h2v-1h2v-1h2v-1h1v-1h2zm15 0h2v1h2v3h1v1h2v2h-2v-1h-2v-2h-1v-2h-2zm-38 2h2v1h-2zm-2 1h2v2h-2zm24 1v1h1v-1zm15 0h1v1h-1zm-49 1h2v1h2v2h-2v-1h-2zm-5 3h2v2h-2zm53 1v1h2v-1zm12 0v1h2v-1zm6 0v3h-1v1h1v-1h1v-3zm5 0h2v2h-2zm6 0h2v2h-2v1h-2v-2h2zm-22 1v1h1v-1zm-10 1v1h1v-1zm42 0h2v2h-2zm-100 1h2v2h-2zm33 0v1h1v-1zm38 0v1h1v-1zm-58 1h2v2h-2zm14 0v2h-1v1h1v1h1v-1h2v-1h1v-1h-1v1h-2v-2zm49 0v1h1v-1zm5 0v1h1v3h1v1h3v1h2v2h-1v1h1v1h1v-5h-2v-2h-2v-2h-3v-1zm-76 1h2v4h-2zm66 1v1h2v-1zm-39 1v1h1v-1zm-20 1h2v2h1v2h-2v-2h-1zm79 0v1h1v-1zm9 1h3v2h-3zm6 1h2v2h-2zm-25 1v1h2v-1zm17 0h2v2h-2zm-13 2v1h1v-1zm15 0h2v1h1v2h-1v-1h-2zm-76 2v1h1v-1zm70 1v2h-1v1h2v-1h1v-1h-1v-1zm15 0h2v2h-2v2h-2v-3h2zm-112 1h2v2h-2zm9 0h2v2h-2v1h-2v-2h2zm17 0v1h1v-1zm-5 2v2h-1v2h1v-1h1v-3zm85 0h2v2h-2zm-81 1v1h1v-1zm69 0v1h2v-1zm-76 2v1h1v-1zm1 2v1h1v-1zm94 1v1h1v-1zm-14 2v1h2v-1zm-101 1h2v2h-2zm107 0v1h2v1h1v-1h-1v-1zm10 1h2v2h-2zm-97 2v1h1v-1zm-14 1h2v2h-2zm100 3v1h1v1h1v-1h-1v-1zm9 1h1v2h-1zm7 1h3v2h-2v2h1v3h1v2h-2v-2h-1zm-10 2v1h-1v1h1v-1h1v-1zm7 0h2v2h-2zm-111 1h2v2h-2zm16 1v1h1v-1zm-14 1h2v3h-2zm-3 2h2v2h-2zm17 1v1h1v-1zm-12 1h2v2h-2zm10 1v1h-2v1h-1v2h2v1h1v-1h1v-1h-1v-2h2v-1zm97 0h2v2h-2zm-114 3h2v2h1v2h-2v-2h-1zm115 1h1v1h-1zm-10 1v2h1v-2zm-101 1h2v2h-2zm6 3h2v2h-2zm109 1h2v2h-2v1h-2v-2h2zm6 0h2v2h-2zm-17 1v3h1v-2h1v-1zm-104 3h2v2h-2zm11 0h3v2h1v-1h2v2h-1v2h-1v1h-2v-2h-2zm104 0h2v2h-2zm-111 1h2v2h-2zm105 0h2v2h-2zm3 0h2v2h-1v1h2v2h-2v-1h-1v1h1v2h-3v-3h1v-2h1zm-102 6h2v2h-2zm15 0v1h1v-1zm-2 1v1h1v-1zm6 0v1h1v-1zm84 1h2v2h-2zm-106 1h2v2h-2zm21 1v1h1v-1zm68 0v2h3v-1h-1v-1zm4 0v2h2v-2zm-75 1v1h1v-1zm88 0h2v2h-2zm-3 2h2v1h1v3h-2v1h1v2h-2v-2h-1v-2h2v-1h-1zm-77 1v1h1v-1zm73 0h3v2h-3zm-88 1h1v1h-1zm5 1v1h1v-1zm14 0v1h2v-1zm57 1v1h-1v1h1v-1h1v-1zm-77 4h2v2h-2zm87 0h2v2h-2zm-63 1v1h1v1h1v-1h-1v-1zm7 0v2h1v-2zm44 0v1h1v-1zm7 0h2v4h-3v-2h1zm-20 1v1h1v-1zm23 0h2v2h-2zm-78 2h2v2h-2zm11 0h2v1h1v2h-2v-2h-1zm12 0v1h1v-1zm8 0v4h2v-1h-1v-3zm41 1h1v2h-1zm-38 1v1h1v-1zm13 0v1h1v-1zm28 0h2v2h-2zm5 0h2v2h-2zm-71 1h2v2h-2zm13 0v1h2v2h3v-1h-2v-2zm6 0v1h1v-1zm22 1v1h-2v1h1v3h2v1h2v-2h-3v-2h1v-2zm13 0h3v2h1v4h1v2h-2v-3h-1v-2h-2zm-69 1h2v2h-2zm41 0v1h1v1h2v-1h-2v-1zm38 0h2v2h-2zm-15 1v1h1v-1zm-13 1v1h-1v1h1v-1h1v-1zm31 0h2v2h-2zm10 0h2v2h-2zm-67 1h2v2h-2zm16 0v1h1v1h-2v2h2v-2h1v-2zm20 0v2h2v-1h-1v-1zm7 0h2v2h-1v-1h-1zm12 1h2v2h-2zm-76 1h2v2h-2zm33 0v1h1v-1zm12 2h2v2h-2zm-19 1h2v1h-2zm37 0h2v2h-2zm9 0h2v2h-2zm-29 1h2v2h-2zm-4 1h2v2h-2v1h-2v-2h2zm25 1h2v1h2v2h-2v-1h-2zm10 0h2v2h-2zm-44 1h2v2h-2zm9 1h2v2h-2zm5 2h2v2h-2zm2 3h2v2h-2zm-6 3h2v2h-2zm17 1h2v2h-2zm11 0h2v2h-2z"/>
<path fill-opacity="0.333" d="M73 11h2v2h-2zm-13 1h2v2h-2zm-12 2h2v2h-2zm17 0h2v2h-2zm9 0h2v2h1v2h-2v-2h-1zm-21 1h2v2h-2zm3 0h2v2h1v2h-2v-2h-1zm4 0h2v2h-2zm36 1h2v2h-2zm-50 1h2v2h-2zm17 0h2v2h-2zm-12 1h3v1h1v1h-4zm18 0h1v5h-1v1h1v-1h2v1h1v-1h2v-1h1v1h3v1h1v1h1v1h1v-1h2v2h-1v2h1v-1h1v-3h1v2h5v1h1v-2h2v3h-3v2h1v-1h2v-1h2v2h1v2h-1v1h1v1h4v2h1v1h-1v1h-2v1h5v-4h1v-1h-3v-2h2v-2h1v1h1v3h1v-2h1v1h1v1h-1v2h-1v1h3v1h1v2h-2v1h-1v4h-3v1h3v-1h3v2h4v1h-1v1h-2v-1h-1v2h2v1h-1v1h-1v1h2v-2h3v1h1v2h2v5h2v3h1v3h-1v1h-1v1h1v-1h1v-1h2v3h-1v1h1v-1h1v3h-2v3h-1v2h3v3h-1v2h-1v1h-1v1h-1v1h2v2h1v-1h1v-1h1v1h2v1h-2v4h-2v-3h-1v3h1v3h1v2h-1v2h-1v2h1v-1h2v2h-3v1h-2v-1h1v-1h-1v-2h1v-1h-2v1h-1v1h-2v-2h-1v1h-1v2h5v4h-2v1h3v2h-4v2h1v1h-2v-2h-2v-3h-1v-1h-1v3h1v2h1v6h-2v-2h-2v1h-1v1h-4v3h-1v2h-1v2h1v2h-2v-2h-2v-1h-2v3h-2v1h-2v-2h2v-2h-2v-4h-1v1h-2v2h1v3h-2v2h-1v-2h-1v1h-2v-2h2v-1h1v-1h-1v-2h-1v1h-1v1h-2v1h-1v1h1v2h-1v-1h-1v-1h-1v1h1v2h-3v-1h1v-4h2v-1h-2v-2h-2v1h-1v1h1v3h-1v1h-2v-5h1v-2h2v-1h3v-1h-3v1h-2v-1h-1v-1h2v-1h-2v1h-1v5h-1v-1h-1v-1h-1v2h-1v-1h-1v-1h-3v-1h-1v2h1v2h5v-1h1v2h-1v1h-4v1h-2v-3h-1v-2h-2v1h-1v1h-2v-2h1v-2h-1v-3h-1v-2h-3v-2h-1v1h-1v2h-1v2h-2v-4h-1v-2h1v-2h1v-2h2v-1h-1v-1h-1v2h-3v1h-1v1h-1v2h-2v-1h-1v-2h-2v-2h3v3h1v-2h1v-1h2v-5h-1v3h-1v2h-2v-2h1v-1h-2v-1h-1v-1h1v-2h-1v1h-2v-2h2v-1h1v-1h-2v-1h-1v-1h-1v-1h-2v-2h1v-1h-1v1h-1v-1h-1v-1h-1v-1h-2v2h-2v-2h1v-2h2v-6h-1v-2h2v-2h1v-1h-1v1h-2v2h-2v-3h1v-1h-1v-2h1v-1h-1v1h-3v-2h1v-1h-2v-2h2v1h1v-1h-1v-3h1v-1h2v-3h1v-1h-1v1h-1v-1h-1v-1h-1v-1h-2v-1h1v-2h1v-1h-1v-2h2v-2h-2v-2h2v1h1v-1h2v2h1v1h-1v1h-2v2h1v2h1v-2h1v-1h1v-3h-1v-2h1v-1h1v-1h-1v1h-2v-2h2v-1h2v-1h-1v-2h1v1h2v-4h1v-1h-3v2h-3v-2h-1v-2h2v1h2v-1h2v-1h3v-1h1v-1h2v1h2v-1h1v-1h-1v-3h1v1h2v4h1v-4h2v2h2v-1h2v-1h3v-1h-1v-3h2v-1h3v1h-1v1h-1v1h2v-1h4v1h1v-3h1zm11 1h2v2h1v1h2v2h-2v-1h-2v-2h-1zm-42 1h2v2h-2zm7 0h2v2h-2zm5 0h1v1h-1zm1 1h2v2h-2zm5 0h1v1h-1zm-28 1h2v1h2v2h-2v-1h-2zm37 1v1h2v-1zm24 0h2v1h1v2h-5v-2h2zm-50 1h2v1h1v2h-2v-1h-1zm-16 1h2v2h-2zm48 0v1h1v-1zm23 0h1v1h-1zm2 0h2v2h-1v1h-2v-2h1zm-40 1v1h1v-1zm20 0v1h2v-1zm24 0h1v1h-1zm5 0h2v2h-2zm-46 1v1h1v-1zm5 0v1h1v-1zm-11 1v1h-1v1h1v-1h1v-1zm20 0v1h1v-1zm6 0v1h1v1h1v-1h-1v-1zm-31 1v1h-1v1h2v-2zm37 0v1h-1v1h1v-1h2v-1zm14 0h2v2h-2zm-57 1v2h-1v2h1v1h1v-1h1v-1h1v-1h1v-1h-3v-1zm-22 1h2v4h-2zm81 0h1v2h-2v-1h1zm-24 1v1h1v-1zm9 0v1h2v-1zm-39 1v1h1v-1zm65 1h2v2h-2zm-84 1h1v1h1v1h-1v1h-1zm53 0v1h-1v1h1v-1h1v-1zm35 0h2v2h-2zm-73 1v2h1v-2zm78 0h2v2h-2zm-26 1v1h2v1h1v-2zm-65 1h2v2h-2zm64 1v1h1v-1zm12 0v1h1v1h1v-1h-1v-1zm-83 1h2v2h-2zm13 0v1h1v-1zm80 0h1v1h-1zm-77 1v1h-1v2h1v-2h1v-1zm73 1h1v3h-1v1h-1v-3h1zm12 0h2v2h-2zm-89 1v1h1v2h1v1h1v-1h-1v-2h-1v-1zm-16 1h2v2h-2zm103 0h2v1h-2zm-98 1h2v2h-1v1h-2v-2h1zm94 0h2v1h-2zm-3 2h1v1h-1zm-90 2h1v2h-2v-1h1zm83 0v1h2v-1zm11 0h2v2h-2v1h-3v-2h3zm6 0h2v2h1v2h-2v1h-2v-2h2v-1h-1zm-92 3v1h1v-1zm-10 1h1v1h-1zm96 0h3v3h-2v-1h-1zm-109 1h2v2h-2zm14 2h2v2h-1v3h-2v-2h1zm3 0h1v1h1v1h-2zm-11 2h2v2h-2zm100 0v1h1v1h1v-1h-1v-1zm6 1h2v1h1v1h-1v1h-1v-1h-1zm-89 1v2h2v-1h-1v-1zm83 1v1h1v2h1v-2h-1v-1zm-92 1h2v1h-1v2h1v2h-2v-1h-2v-2h2zm90 0v1h1v-1zm19 1h1v2h-1zm-10 1h1v1h-1zm-7 1v2h1v-2zm3 0v1h1v-1zm10 0h2v2h-2zm-95 2v1h1v-1zm98 0h2v2h-2zm-112 2h2v2h-2zm12 0v1h1v-1zm95 0h2v2h-1v1h-1zm-105 3h2v2h-2zm5 1h2v5h-2v1h-2v-2h2zm99 1h2v2h-2zm-8 1v1h2v-1zm-88 2h1v1h1v2h-2v-1h-1v-1h1zm-14 1h2v2h-2zm103 0v1h1v1h1v-2zm8 0h1v1h-1zm-98 4h1v1h-1zm95 0h2v1h2v2h-2v-1h-2zm16 1h2v2h-2zm-8 1h2v2h-2zm-101 3h1v2h2v4h-1v-2h-3v-3h1zm-8 1h2v2h-2zm105 0h2v2h-2zm3 0h2v2h-1v1h2v2h-2v-1h-1v3h-1v-1h-1v-2h1v-2h1zm-96 1h1v1h-1zm3 1h1v1h1v2h-3v-2h1zm-9 4h2v1h-2zm3 0h2v2h-2zm4 0h2v2h-2zm8 0v1h1v-1zm74 0v1h1v-1zm3 0v1h2v-1zm-73 1v1h1v-1zm79 0h2v2h-2zm-88 2h2v2h-2zm89 1h2v1h-1v1h-1v1h-1v-2h1zm-86 1h1v2h-1zm88 2h1v2h1v2h-2zm-5 1h2v2h-2zm-69 2v1h2v-1zm-15 1h1v1h-1zm12 0v1h-1v1h1v-1h1v-1zm-2 3v1h1v-1zm73 1h1v1h-1zm-64 1v2h2v-2zm7 0v1h-1v3h1v-2h1v-2zm44 0v1h1v-1zm8 0h1v4h-3v-2h2zm-21 1v1h1v-1zm23 0h2v2h-2zm-73 1h1v1h-1zm15 0v1h2v-1zm-16 2h2v2h-2zm8 0h2v2h-2zm29 0v1h1v-1zm6 1v1h1v-1zm4 0v1h1v-1zm7 0v2h1v-2zm22 0h2v2h-2zm-12 1h1v2h-1zm-59 1h2v1h-2zm54 0h2v1h1v1h1v3h-2v-2h-1v-1h-1zm-50 1h2v4h-1v-2h-1zm45 0v2h1v-2zm-4 1v1h1v-1zm-11 1h1v1h-1zm-24 1h2v2h-2zm10 1h2v4h-1v-2h-1zm-31 1h2v2h-2zm51 0h1v2h-1zm8 0h1v2h-1zm9 0h2v2h-2zm-34 2h4v2h-4zm11 0h2v2h-2zm27 1h2v2h-2zm-29 1h2v2h-2zm21 2h2v1h2v2h-2v-1h-2zm10 0h2v2h-2zm-35 2h2v2h-2zm1 8h2v2h-2zm17 1h2v2h-2zm11 0h2v2h-2z"/>
<path fill-opacity="0.475" d="M60 12h2v2h-2zm-11 2h1v1h-1zm25 0h2v2h1v2h-2v-2h-1zm22 2h2v2h-2zm-39 1h2v2h-2zm6 0h2v1h-2zm-12 1h2v2h-2zm10 1h1v1h-1zm7 0h2v1h-1v1h-1zm-9 1h1v2h3v1h1v-2h1v1h2v1h-2v1h2v2h-1v1h1v1h1v-1h1v-1h-1v-4h2v1h-1v1h1v-1h2v2h-1v1h2v-2h1v-1h4v1h1v1h1v1h1v1h1v-1h2v1h-1v2h2v1h-1v1h2v-1h4v1h2v-1h2v-1h2v4h-1v1h1v1h4v1h1v2h-1v1h-1v1h4v1h1v1h-1v1h1v-1h1v-1h3v2h-2v3h-1v1h1v1h2v-1h1v-1h2v3h-3v2h4v2h-2v1h1v1h3v-3h1v1h2v2h-1v1h1v-1h1v1h1v3h-2v-1h-2v1h2v1h-1v1h-1v1h-1v1h3v1h2v3h1v2h1v-1h1v-1h2v1h-1v2h2v2h-3v1h1v2h-1v2h3v2h-3v-1h-1v-1h-1v1h-1v1h1v1h3v3h-1v1h-1v1h1v3h1v2h-1v1h2v4h-1v-1h-2v1h2v1h1v2h-1v-1h-3v1h-1v1h-2v-2h-2v1h-1v1h1v1h5v3h-2v2h1v2h-5v-4h-1v1h-1v3h1v3h1v2h-1v1h-2v-1h-1v-1h-1v-1h-1v1h-1v1h2v3h-4v-1h-1v1h1v2h-1v1h-2v-1h1v-1h-1v-2h-2v6h3v2h-3v-1h-1v-2h-3v1h-2v-1h1v-3h1v-1h-2v1h-1v2h-2v2h-3v-2h-1v1h-2v1h-1v1h-1v1h-3v-1h1v-1h1v-1h2v-2h-2v1h-1v1h-1v-2h-2v-2h3v-2h2v-1h-3v1h-1v1h-2v-2h-2v1h-1v-1h-1v2h1v1h-1v1h1v1h-2v-1h-1v1h-2v-2h1v-1h-3v-2h2v-2h-2v1h-3v1h-2v-3h1v-1h-2v2h-3v-1h-2v-1h-4v-1h1v-1h1v-1h-2v1h-1v-3h3v-1h-2v-1h-2v1h1v1h-3v1h-2v-2h2v-6h1v-1h-2v2h-1v1h1v2h-2v-1h-1v-1h-1v-2h2v-2h-1v1h-1v-1h-1v-1h1v-1h2v-1h-2v1h-2v-3h1v-1h-1v1h-3v-3h-2v-2h-2v-1h-1v1h-1v2h-2v-2h1v-2h2v-6h-1v-2h2v-2h1v-1h-2v1h-1v1h-2v-1h1v-2h2v-1h-2v-3h-2v2h-1v-4h1v-2h-1v-1h1v-1h2v1h1v-1h1v2h2v-2h-1v-1h-3v-3h2v-1h-3v-1h-2v-4h3v1h-1v1h1v-1h1v-1h1v-2h2v-1h-1v-5h1v-1h2v-2h-1v-1h-1v-1h2v1h2v1h1v2h-1v1h-1v2h1v1h1v-4h1v-2h-1v-2h-1v-1h-1v-3h3v1h1v4h2v-1h1v-1h-2v-2h2v-2h1v-1h5v-1h-1v-1h-1v-1h2v1h1v1h1v1h1v-3h-3v-1h-1v-3h2v3h2v-1h2v1h1v-1h-1v-2h3v-2h-1v-1h1zm-20 1h1v1h-1zm7 0h1v1h-1zm5 0h1v1h1v1h-2zm-12 3h2v3h-1v-2h-1zm7 0h3v4h-2v-2h-1zm41 0h4v2h-4zm-10 1v1h-1v2h1v-1h2v-1h-1v-1zm19 0h2v2h-1v1h-2v-2h1zm-37 1v3h1v1h-1v1h1v-1h1v-1h-1v-2h1v-1zm33 0h2v2h-1v1h-1zm13 0h2v2h-2zm-42 1v2h2v-2zm23 0h2v2h-2zm-44 1h1v1h-1zm2 0h3v1h-1v2h-2zm27 0v1h1v-1zm2 0v2h2v-2zm6 0v1h1v1h2v-1h-1v-1zm10 0h2v1h-2zm-51 1h2v1h1v-1h1v2h-3v1h-1zm38 0v1h1v-1zm-43 3h3v1h-1v1h-2zm16 0v1h-2v1h2v-1h1v-1zm28 0v1h1v-1zm5 0v1h1v-1zm4 0v1h2v1h1v-2zm-28 1v1h1v-1zm54 1h1v2h-1zm-72 1v1h1v-1zm41 0v1h-1v1h1v-1h1v-1zm9 0v1h1v1h1v-1h-1v-1zm16 0h2v2h-1v2h-2v-3h1zm10 0h1v2h-1zm-21 2v1h2v2h1v-3zm-1 2v2h1v-2zm14 0h2v2h-1v-1h-1zm-76 2h2v1h-2zm12 0v1h1v-1zm56 1v1h1v1h1v-1h-1v-1zm24 0h2v2h-2zm-89 1v2h1v2h1v1h1v-2h-1v-2h-1v-1zm76 0h2v2h-2zm-82 1h3v2h-1v1h-1v2h-3v-2h2zm-5 2h1v2h-2v-1h1zm88 2h2v2h-1v-1h-1zm-87 2h1v1h-1zm91 0h3v1h-1v1h-2zm9 0h1v1h-1zm-92 1v2h1v-2zm93 0h2v2h-2zm-2 1h1v2h-1zm-114 2h2v2h-2zm25 1v1h1v-1zm79 1v1h1v-1zm-90 1h2v1h-2zm0 2h1v1h-1zm93 1h1v1h-1zm3 0h1v2h-1v1h-2v-2h2zm2 0h2v1h-2zm-91 3v1h1v-1zm102 0h1v2h-1zm-110 1h1v1h2v1h-3zm97 0h2v2h-2zm-4 1v4h1v-4zm-82 2v1h1v-1zm98 1h2v1h-2zm-112 1h2v1h-2zm107 1h2v1h-2zm-10 2v1h2v-1zm-90 1h2v2h-2zm99 1h2v2h-2zm-9 1v1h3v-1zm-90 1h2v1h-2zm3 2h2v2h-2zm7 3v2h1v-2zm81 1v2h1v-2zm6 0h1v1h2v1h-3zm16 1h2v2h-2zm-101 2v1h1v-1zm85 1h2v1h-1v1h-1zm-93 2h1v1h1v1h-3v-1h1zm100 0h2v2h-1v1h2v2h-2v-1h-2v-2h1zm-11 1v1h1v-1zm5 0h1v1h-1zm-92 1h1v1h-1zm5 1h1v1h-1zm92 2h1v1h-1zm-98 1h2v2h-2zm4 0h1v2h-1zm4 0h2v2h-2zm78 0v1h1v-1zm-79 3h2v2h-2zm73 2v1h1v-1zm10 0h1v1h-1zm6 0h1v1h-1zm-87 3h3v2h-3zm67 0v3h-1v1h1v-1h1v-1h1v-2zm17 0h2v2h-2zm5 1h2v1h-2zm-75 1v1h3v-1zm-11 1h2v2h-2zm76 0h1v1h-1zm-71 2h2v2h-2zm55 0v2h1v2h1v-3h1v-1zm-53 2h1v4h-1zm4 0h1v1h-1zm56 1v1h1v-1zm-53 1h2v1h2v2h-3v-2h-1zm40 0v1h1v-1zm20 1h2v2h-2zm-55 1h2v1h1v1h-2v1h-1zm28 0v1h-1v2h1v-2h1v-1zm-15 1h1v1h-1zm8 0v2h2v-2zm-23 2h1v1h-1zm36 0v1h2v-1zm-37 1h1v1h-1zm4 0h2v2h-2zm43 0h1v1h1v2h1v1h-2v-1h-1v-1h-1v-1h1zm-51 1h2v2h-2zm10 1h1v3h-1v-1h-1v-1h1zm3 0h2v2h-2zm6 0h2v1h1v1h-1v1h-2zm21 1h1v1h-1zm-8 1h4v2h-4zm8 1h2v2h-2zm-16 1h1v2h-1zm29 0h2v2h-2zm-32 2h2v2h-2z"/>
<path fill-opacity="0.714" d="M51 19h1v1h-1zm8 3h2v1h1v3h1v3h1v1h2v1h1v-1h1v-2h1v-1h1v-1h-1v-2h2v5h-1v1h1v-1h2v1h5v-1h1v1h1v1h2v1h-1v3h-2v1h1v1h2v-4h1v-1h2v4h1v2h-1v1h1v-1h1v-2h-1v-2h3v-2h-1v-1h-1v-1h3v3h1v1h1v-1h1v-1h-1v-2h2v-1h2v2h-1v3h1v1h2v2h-1v-1h-2v1h-1v4h-1v1h1v-1h2v1h1v-2h2v3h1v1h2v1h1v2h-1v1h2v-3h-1v-2h2v6h1v1h1v1h3v2h-1v2h2v2h1v-2h1v1h1v2h1v4h-1v2h1v-1h1v1h1v1h-2v1h1v3h-1v2h1v1h1v2h1v-1h1v-1h-2v-1h-1v-2h1v-1h1v-1h1v1h1v1h1v-1h1v-1h1v3h-4v1h2v2h-1v1h-1v1h-2v3h1v-2h1v3h1v1h3v2h-1v1h-1v2h-2v1h-1v2h1v-1h1v-1h2v1h-1v1h-1v1h-1v3h-2v1h1v2h4v1h1v1h-3v1h-2v-2h-1v1h-2v1h-2v1h-1v1h1v3h-1v2h-2v-4h-1v1h-2v4h3v1h-1v1h2v-1h1v1h1v2h-7v-2h1v-1h-3v2h1v4h-2v1h1v2h1v1h-1v1h-1v-3h-1v-1h-3v1h-1v1h-2v-2h-2v1h-1v2h-1v-2h-1v-1h1v-2h-1v2h-1v1h-1v1h1v1h1v1h-1v2h-1v-3h-2v2h-2v-2h-1v-1h3v-1h-1v-1h-2v2h-3v-3h3v-1h-5v1h-1v-1h-4v-1h-1v-1h-1v1h-1v2h2v2h-2v1h-1v-2h-2v-2h2v-2h-3v1h-4v-2h2v-1h1v-1h-3v1h-2v1h-4v-1h1v-1h3v-1h1v-1h-1v1h-3v-3h-3v-1h-2v-1h-2v-3h-2v-3h-2v1h-1v-4h-1v-1h-1v-2h-2v-1h-2v-3h-2v1h-2v-2h2v-2h1v-1h-1v-1h-1v-3h-1v1h-1v1h1v2h1v2h-1v1h-2v-1h-1v1h-1v-2h1v-2h1v-1h-1v-1h1v-2h-1v-2h1v-1h1v-2h2v-1h-4v-2h-1v-1h-1v-1h-3v-2h2v1h1v-1h1v-1h2v-1h1v-1h2v1h1v-2h-4v-2h-1v1h-2v-2h1v-1h1v-1h-1v-1h-3v-2h1v1h5v3h2v-1h-1v-1h1v-2h-1v-1h1v-3h1v-1h2v-2h1v-1h-1v-1h1v-5h-1v-1h2v1h3v-1h1v-2h-2v-1h1v-1h1v-2h2v2h-1v1h3v-3h1v-1h1v1h1v1h1v1h1v-2h-1v-3h1v-1h2v-3h1v1h1v5h-1v1h1v1h-1v2h1v-2h1v-1h2v-1h-1v-4h-1v-2h-1zm-13 2h2v2h1v2h-2v-2h-1zm28 0h1v4h-2v-2h1zm2 0h2v1h-2zm13 0h2v2h-1v-1h-1zm-39 1h2v2h-2zm14 0h2v1h-2zm32 0h2v2h-2zm-17 1h2v1h1v1h-3zm-14 1h1v1h1v1h-2zm22 0h1v1h-1zm5 0h2v1h-2zm-48 2h2v1h-2zm-6 1h2v1h-2zm18 0v2h1v-2zm16 1v1h1v-1zm5 0v1h-3v1h1v1h2v-1h1v-2zm-43 1h1v1h-1zm5 1h1v2h-2v-1h1zm51 2v2h3v-2zm-39 1v1h1v-1zm48 0h1v2h-1zm7 0h1v1h-1zm-1 1h1v1h-1zm-68 1h2v3h-1v-1h-1zm58 0h1v1h1v1h-2zm-50 2v1h-1v2h1v-2h1v-1zm56 0h2v2h-2zm-64 1h1v2h-2v-1h1zm68 0h2v2h-2zm6 2h2v2h-2zm-73 1h1v2h-1zm-9 1h2v2h-1v-1h-1zm5 0h2v2h-2zm66 0v1h1v-1zm-76 1h1v1h-1zm4 1h1v2h-1zm81 0h2v1h-2zm-76 1h2v1h1v2h-2v-1h-1zm-5 2h2v1h-2zm88 0h2v2h-2zm-74 1v1h1v-1zm69 0h1v1h-1zm-7 1v1h1v-1zm11 2h1v1h-1zm1 2h2v1h-2zm-76 2v1h1v-1zm-11 2h1v2h1v1h-2zm3 1h1v1h-1zm86 0h2v1h-2zm-85 5v1h1v1h1v-2zm-1 4h1v2h-2v-1h1zm91 0h2v2h-2zm-95 3h1v1h-1zm93 0h2v2h-1v1h-2v-2h1zm-85 1v2h1v-2zm3 3v1h1v-1zm82 0h1v1h-1zm-91 1h1v1h-1zm93 0h1v1h-1zm-7 2v1h1v-1zm1 2v2h-1v2h1v-2h2v-1h1v-1zm-77 1v1h1v-1zm-2 4h1v1h-1zm83 1h1v1h-1zm-80 2h2v2h-2zm79 0h1v1h1v1h2v2h-2v-1h-1v1h-1zm-76 2h1v1h-1zm-1 1h1v1h-1zm-11 1h2v2h-2zm78 1v1h1v-1zm-65 3h2v2h-2zm61 1v1h2v-1zm10 1h1v1h2v2h-3v1h-1v1h-1v-3h1v-1h1zm-68 1h2v2h-2zm-6 1h1v2h-1zm9 1h2v2h-2zm3 0h1v2h1v1h2v1h-4zm10 2v1h1v-1zm4 0v1h1v-1zm49 0h1v2h-1zm-22 4v1h-1v1h2v-2zm3 0v3h-1v1h1v-1h2v-1h1v1h1v-1h1v-1h-1v-1h-1v1h-2v-1zm15 1h1v2h-2v-1h1zm-54 2h2v2h-2zm28 0v1h1v1h1v-2zm31 0h1v2h-1zm-11 1h2v1h-2zm-38 3h1v1h-1zm-5 1h2v2h-2zm32 0h1v1h1v-1h2v2h-4zm11 1h1v1h-1zm-38 1h1v2h-1zm-3 1h1v1h-1zm16 0h1v1h-1zm17 0h3v2h-2v-1h-1zm-18 1h1v1h-1zm8 0h1v1h-1z"/>
</g>
<path fill="#fff" fill-rule="evenodd" d="M608.7 939.3L611.3 941 627.2 948.6 643.1 953.2 659 955.2 674.9 954.5 690.9 947.7 697.3 939.3 706.8 931.8 714.2 923.3 717.9 907.4 719 891.4 716.6 875.5 711 859.5 706.8 854.3 699 843.6 690.9 835.5 682.4 827.6 674.9 820.4 659 813.8 653.8 811.7 643.1 806 627.2 802.9 611.3 804.9 597.9 811.7 595.3 813.2 579.6 827.6 579.4 827.9 570 843.6 568.7 859.5 567.2 875.5 573.4 891.4 579.4 904.8 580.2 907.4 594.4 923.3 595.3 924.2Z"/>
<g shape-rendering="crispEdges">
<path fill="#fafbfe" fill-opacity="0.025" d="M523.7 851.6H539.6V867.5H523.7ZM523.7 819.7H539.6V835.6H523.7ZM539.6 899.4H555.5V915.3H539.6ZM539.6 883.5H555.5V899.4H539.6ZM539.6 867.5H555.5V883.5H539.6ZM539.6 819.7H555.5V835.6H539.6ZM555.5 915.3H571.5V931.3H555.5ZM555.5 787.8H571.5V803.7H555.5ZM571.5 947.2H587.4V963.2H571.5ZM571.5 931.3H587.4V947.2H571.5ZM571.5 787.8H587.4V803.7H571.5ZM571.5 771.8H587.4V787.8H571.5ZM587.4 947.2H603.3V963.2H587.4ZM587.4 771.8H603.3V787.8H587.4ZM603.3 963.2H619.2V979.1H603.3ZM603.3 771.8H619.2V787.8H603.3ZM619.2 963.2H635.1V979.1H619.2ZM619.2 771.8H635.1V787.8H619.2ZM635.1 771.8H651.1V787.8H635.1ZM651.1 979.1H667V995.1H651.1ZM651.1 787.8H667V803.7H651.1ZM651.1 771.8H667V787.8H651.1ZM667 979.1H682.9V995.1H667ZM667 787.8H682.9V803.7H667ZM667 771.8H682.9V787.8H667ZM682.9 979.1H698.8V995.1H682.9ZM682.9 803.7H698.8V819.7H682.9ZM682.9 787.8H698.8V803.7H682.9ZM698.8 963.2H714.8V979.1H698.8ZM698.8 803.7H714.8V819.7H698.8ZM714.8 947.2H730.7V963.2H714.8ZM714.8 835.6H730.7V851.6H714.8ZM730.7 947.2H746.6V963.2H730.7ZM730.7 931.3H746.6V947.2H730.7ZM730.7 915.3H746.6V931.3H730.7ZM730.7 883.5H746.6V899.4H730.7ZM730.7 867.5H746.6V883.5H730.7ZM730.7 851.6H746.6V867.5H730.7Z"/>
<path fill="#f6f8fe" fill-opacity="0.050" d="M539.6 851.6H555.5V867.5H539.6ZM539.6 835.6H555.5V851.6H539.6ZM555.5 899.4H571.5V915.3H555.5ZM555.5 803.7H571.5V819.7H555.5ZM587.4 787.8H603.3V803.7H587.4ZM603.3 947.2H619.2V963.2H603.3ZM635.1 963.2H651.1V979.1H635.1ZM635.1 787.8H651.1V803.7H635.1ZM651.1 963.2H667V979.1H651.1ZM667 963.2H682.9V979.1H667ZM682.9 963.2H698.8V979.1H682.9ZM698.8 947.2H714.8V963.2H698.8ZM698.8 819.7H714.8V835.6H698.8ZM730.7 899.4H746.6V915.3H730.7Z"/>
<path fill="#f1f4fd" fill-opacity="0.075" d="M555.5 883.5H571.5V899.4H555.5ZM555.5 851.6H571.5V867.5H555.5ZM555.5 819.7H571.5V835.6H555.5ZM571.5 803.7H587.4V819.7H571.5ZM587.4 931.3H603.3V947.2H587.4ZM603.3 787.8H619.2V803.7H603.3ZM619.2 947.2H635.1V963.2H619.2ZM619.2 787.8H635.1V803.7H619.2ZM714.8 931.3H730.7V947.2H714.8ZM714.8 915.3H730.7V931.3H714.8ZM714.8 867.5H730.7V883.5H714.8ZM714.8 851.6H730.7V867.5H714.8Z"/>
<path fill="#ecf0fc" fill-opacity="0.100" d="M555.5 867.5H571.5V883.5H555.5ZM555.5 835.6H571.5V851.6H555.5ZM571.5 915.3H587.4V931.3H571.5ZM667 803.7H682.9V819.7H667ZM682.9 819.7H698.8V835.6H682.9ZM698.8 931.3H714.8V947.2H698.8ZM698.8 835.6H714.8V851.6H698.8ZM714.8 899.4H730.7V915.3H714.8ZM714.8 883.5H730.7V899.4H714.8Z"/>
<path fill="#e7ecfb" fill-opacity="0.125" d="M571.5 899.4H587.4V915.3H571.5ZM571.5 819.7H587.4V835.6H571.5ZM587.4 803.7H603.3V819.7H587.4ZM635.1 947.2H651.1V963.2H635.1ZM651.1 803.7H667V819.7H651.1ZM667 947.2H682.9V963.2H667ZM682.9 947.2H698.8V963.2H682.9Z"/>
<path fill="#e2e8fa" fill-opacity="0.150" d="M587.4 915.3H603.3V931.3H587.4ZM603.3 931.3H619.2V947.2H603.3ZM651.1 947.2H667V963.2H651.1ZM698.8 851.6H714.8V867.5H698.8Z"/>
<path fill="#dee5fa" fill-opacity="0.175" d="M571.5 883.5H587.4V899.4H571.5ZM635.1 803.7H651.1V819.7H635.1ZM667 819.7H682.9V835.6H667ZM682.9 931.3H698.8V947.2H682.9ZM682.9 835.6H698.8V851.6H682.9ZM698.8 915.3H714.8V931.3H698.8Z"/>
<path fill="#d9e1f9" fill-opacity="0.200" d="M571.5 835.6H587.4V851.6H571.5ZM603.3 803.7H619.2V819.7H603.3ZM619.2 803.7H635.1V819.7H619.2Z"/>
<path fill="#d4ddf8" fill-opacity="0.225" d="M587.4 819.7H603.3V835.6H587.4ZM619.2 931.3H635.1V947.2H619.2ZM698.8 899.4H714.8V915.3H698.8ZM698.8 867.5H714.8V883.5H698.8Z"/>
<path fill="#d0daf8" fill-opacity="0.250" d="M571.5 867.5H587.4V883.5H571.5ZM571.5 851.6H587.4V867.5H571.5ZM603.3 915.3H619.2V931.3H603.3ZM667 931.3H682.9V947.2H667ZM698.8 883.5H714.8V899.4H698.8Z"/>
<path fill="#cbd6f7" fill-opacity="0.275" d="M587.4 899.4H603.3V915.3H587.4ZM651.1 819.7H667V835.6H651.1Z"/>
<path fill="#c6d2f6" fill-opacity="0.300" d="M603.3 819.7H619.2V835.6H603.3ZM635.1 931.3H651.1V947.2H635.1ZM651.1 931.3H667V947.2H651.1ZM682.9 915.3H698.8V931.3H682.9Z"/>
<path fill="#c1cef5" fill-opacity="0.325" d="M682.9 851.6H698.8V867.5H682.9Z"/>
<path fill="#bccaf4" fill-opacity="0.350" d="M635.1 819.7H651.1V835.6H635.1Z"/>
<path fill="#b8c7f4" fill-opacity="0.375" d="M587.4 883.5H603.3V899.4H587.4ZM587.4 835.6H603.3V851.6H587.4ZM619.2 819.7H635.1V835.6H619.2ZM667 835.6H682.9V851.6H667ZM682.9 899.4H698.8V915.3H682.9Z"/>
<path fill="#b3c3f3" fill-opacity="0.400" d="M667 915.3H682.9V931.3H667Z"/>
<path fill="#aebff2" fill-opacity="0.425" d="M587.4 867.5H603.3V883.5H587.4ZM587.4 851.6H603.3V867.5H587.4ZM619.2 915.3H635.1V931.3H619.2ZM682.9 867.5H698.8V883.5H682.9Z"/>
<path fill="#a5b8f1" fill-opacity="0.475" d="M603.3 899.4H619.2V915.3H603.3ZM667 851.6H682.9V867.5H667ZM682.9 883.5H698.8V899.4H682.9Z"/>
<path fill="#a0b4f0" fill-opacity="0.500" d="M603.3 835.6H619.2V851.6H603.3Z"/>
<path fill="#9bb0ef" fill-opacity="0.525" d="M635.1 915.3H651.1V931.3H635.1ZM651.1 915.3H667V931.3H651.1ZM651.1 835.6H667V851.6H651.1Z"/>
<path fill="#96acee" fill-opacity="0.550" d="M635.1 835.6H651.1V851.6H635.1Z"/>
<path fill="#92a9ee" fill-opacity="0.575" d="M667 899.4H682.9V915.3H667Z"/>
<path fill="#8da5ed" fill-opacity="0.600" d="M603.3 883.5H619.2V899.4H603.3ZM603.3 851.6H619.2V867.5H603.3Z"/>
<path fill="#88a1ec" fill-opacity="0.625" d="M619.2 835.6H635.1V851.6H619.2Z"/>
<path fill="#849eec" fill-opacity="0.650" d="M619.2 899.4H635.1V915.3H619.2Z"/>
<path fill="#7f9aeb" fill-opacity="0.675" d="M603.3 867.5H619.2V883.5H603.3ZM667 867.5H682.9V883.5H667Z"/>
<path fill="#7592e9" fill-opacity="0.725" d="M651.1 899.4H667V915.3H651.1ZM667 883.5H682.9V899.4H667Z"/>
<path fill="#708ee8" fill-opacity="0.750" d="M635.1 899.4H651.1V915.3H635.1Z"/>
<path fill="#6c8be8" fill-opacity="0.775" d="M651.1 851.6H667V867.5H651.1Z"/>
<path fill="#6787e7" fill-opacity="0.800" d="M619.2 883.5H635.1V899.4H619.2Z"/>
<path fill="#6283e6" fill-opacity="0.825" d="M619.2 851.6H635.1V867.5H619.2ZM651.1 883.5H667V899.4H651.1Z"/>
<path fill="#5e80e6" fill-opacity="0.850" d="M635.1 851.6H651.1V867.5H635.1Z"/>
<path fill="#5478e4" fill-opacity="0.900" d="M619.2 867.5H635.1V883.5H619.2ZM651.1 867.5H667V883.5H651.1Z"/>
<path fill="#4f74e3" fill-opacity="0.925" d="M635.1 883.5H651.1V899.4H635.1Z"/>
<path fill="#4169e1" fill-opacity="1.000" d="M635.1 867.5H651.1V883.5H635.1Z"/>
</g>
<path class="c" d="M608.7 939.3L611.3 941 627.2 948.6 643.1 953.2 659 955.2 674.9 954.5 690.9 947.7 697.3 939.3 706.8 931.8 714.2 923.3 717.9 907.4 719 891.4 716.6 875.5 711 859.5 706.8 854.3 699 843.6 690.9 835.5 682.4 827.6 674.9 820.4 659 813.8 653.8 811.7 643.1 806 627.2 802.9 611.3 804.9 597.9 811.7 595.3 813.2 579.6 827.6 579.4 827.9 570 843.6 568.7 859.5 567.2 875.5 573.4 891.4 579.4 904.8 580.2 907.4 594.4 923.3 595.3 924.2ZM618.8 923.3L627.2 930.3 643.1 936.3 659 936 674.9 929.9 684.5 923.3 690.9 914.5 694.6 907.4 699.9 891.4 697.5 875.5 690.9 863.1 688.4 859.5 678 843.6 674.9 840.6 659 831.4 643.1 827.6 643.1 827.6 627.2 824.3 618.5 827.6 611.3 830.2 595.3 839.9 592.6 843.6 587.4 859.5 588.3 875.5 593.2 891.4 595.3 896.4 600 907.4 611.3 917.2ZM622.5 907.4L627.2 911.3 643.1 918.3 659 916.4 671.7 907.4 675 904.2 682.4 891.4 679.4 875.5 674.9 870.1 667.6 859.5 659 848.7 643.1 846.6 629.8 843.6 627.2 842.9 625.8 843.6 611.4 859.5 611.3 860.1 607.1 875.5 611.3 891.4 611.3 891.4ZM640 891.4L643.1 893.9 647.8 891.4 659 875.5 643.1 864.3 627.2 874.9 627 875.5 627.2 875.8Z"/>
<path class="tr" d="M643 724V1042.9"/>
<path class="th" d="M475.9 880.7H794.3"/>
<rect x="635.7" y="873.2" width="14.7" height="15.3" fill="#4682b4"/>
</g>
<clipPath id="k3"><rect x="141.5" y="1058.2" width="318.4" height="318.9"/></clipPath>
<g clip-path="url(#k3)">
<g transform="translate(139.29 1055.99) scale(2.212)" fill="#4169e1" filter="url(#bl)">
<path fill-opacity="0.070" d="M0 5h2v1h2v-1h2v2h-2v1h-2v-1h-2zm8 2h2v2h-2v1h-2v-2h2zm-6 3h2v1h2v1h1v-1h2v-1h2v2h-1v1h2v1h1v4h1v-2h2v1h1v1h2v-1h2v2h1v1h2v2h-1v2h2v2h1v3h1v1h4v3h2v1h1v3h1v1h3v2h-1v1h2v1h4v2h1v2h2v2h1v3h1v-1h2v1h2v2h1v2h2v2h3v-1h2v2h-1v1h-1v1h1v1h1v1h2v2h2v1h2v2h-1v1h1v-1h3v2h1v1h1v2h1v-1h2v3h1v1h1v1h1v1h2v2h-2v-1h-1v1h1v1h3v1h2v1h1v1h2v1h2v2h4v2h-1v4h3v1h2v1h1v-1h2v2h1v1h3v5h2v-1h2v2h-1v1h-2v1h2v-1h2v1h2v3h2v2h-1v2h3v1h1v-2h2v2h1v2h1v1h2v1h1v2h1v2h1v2h-1v3h2v-3h2v-1h2v4h2v2h-1v2h-1v4h-1v1h1v2h1v1h2v2h-2v-1h-2v-2h-2v1h-2v-1h-1v1h-1v1h-2v-2h1v-1h-1v-1h-1v-1h-2v-2h-2v2h-2v-2h-3v1h-2v-1h-1v-2h2v-1h-2v-1h-4v-3h-1v2h-2v-1h-1v-2h-3v-1h-3v-2h-1v2h-2v-5h-1v-2h-1v2h-2v-1h-1v-1h-1v-1h-1v-1h-5v-2h1v-2h-1v-1h-2v1h-2v-2h-1v-1h-1v-1h-2v-1h-2v-2h-1v-1h-1v-2h-1v2h-2v-2h1v-1h-2v-1h-2v-2h1v-1h-2v-1h-1v-1h-1v1h-2v-3h-2v-3h-1v-1h-1v1h-2v-2h1v-1h-3v-2h-3v-3h1v-1h-2v-1h-1v-2h-1v2h-2v-2h1v-1h-1v1h-2v-2h2v-2h-3v-1h-3v-2h2v-2h-1v-1h-2v-1h-2v-2h-1v-1h-1v-2h-1v-3h-2v-1h-1v-1h-1v-2h-1v-3h-1v-1h-2v-1h-2v-2h1v-1h1v-1h-1v-1h-3v-2h1v-1h-2v-2h-2v-2h-1v-2h-2v-4h1v-1h-3v-2h-2v-4h1v-1h-2v-2h-1v-2h-2v-2h2zm21 7h2v2h-2zm-4 2v1h1v-1zm-13 3v1h1v-1zm21 5h2v2h-2zm7 5h2v2h-2zm-22 2v1h1v-1zm23 1h2v2h-2zm25 23h2v2h-2zm-30 8h2v2h-2zm33 0v1h1v-1zm18 10h2v2h-1v1h-2v-2h1zm12 14h2v2h-2zm-38 5h2v2h-2zm42 4v1h1v-1zm-37 3h2v2h-2zm47 6v1h2v-1zm-16 9v1h1v-1zm25 0v1h1v-1zm-30 1h2v2h-2zm45 8h2v2h-1v4h-3v-2h1v-2h1zm-10 2v2h1v-2zm4 2v1h1v-1zm-5 2v1h1v-1zm18 0h2v2h-2zm-15 1v1h1v-1zm7 0h2v1h1v1h2v2h-2v-1h-2v-1h-1zm9 2h2v2h-1v2h-2v-2h1zm3 0h2v2h-1v2h1v2h-2v-2h-1v-2h1zm-9 3h2v2h-2zm2 2h2v2h-2zm-11 1h2v2h-2zm15 0h2v1h1v2h-2v-1h-1zm5 0h2v2h-2zm-11 1h2v2h-2zm5 2h2v2h-2z"/>
<path fill-opacity="0.151" d="M0 5h2v1h2v-1h2v2h-2v1h-2v-1h-2zm8 2h2v2h-2v1h-2v-2h2zm-6 3h2v1h2v1h1v-1h2v-1h2v2h-1v1h2v1h1v4h1v-2h2v1h1v2h1v1h2v-1h-1v-2h2v2h1v3h1v2h2v2h1v4h5v3h2v1h1v3h1v1h3v2h-2v1h3v1h4v4h3v4h1v1h5v2h1v2h2v2h3v-1h2v2h-1v1h-1v2h2v1h2v2h2v1h2v2h-1v1h1v-1h3v2h1v1h1v2h1v-1h2v3h1v1h1v1h1v1h2v2h-2v-1h-1v1h1v1h3v1h2v1h1v2h1v1h1v1h6v2h-2v1h1v3h2v1h3v1h1v-1h2v2h1v1h3v5h2v-1h2v2h-1v1h-2v1h2v-1h2v1h2v3h2v2h-2v-1h-2v1h1v1h2v1h3v1h1v-2h2v2h1v2h1v1h2v1h1v2h1v2h1v2h-1v3h1v2h1v-5h2v-1h2v4h2v2h-1v2h-1v2h-1v3h1v2h1v1h2v2h-2v-1h-2v-2h-6v2h-2v-2h1v-1h-1v-1h-1v-1h-2v-2h-2v2h-2v-2h-3v1h-2v-1h-1v-2h2v-1h-2v-1h-4v-3h-1v-1h-1v1h1v2h-2v-1h-1v-2h-3v-1h-1v-1h-1v-1h-2v2h-2v-2h1v-2h-1v-2h-1v-1h-1v2h-2v-1h-1v-1h-1v-1h-1v-1h-3v-1h-1v-3h-1v-1h-2v1h-2v-2h-1v-2h-3v-1h-2v-2h-1v-1h-1v-2h-1v2h-2v-2h1v-1h-2v-1h-2v-2h1v-1h-2v-1h-1v-1h-1v1h-2v-2h1v-2h-1v1h-2v-3h-1v-1h-2v-3h-1v1h-2v-2h-3v-3h1v-1h-2v-1h-1v-2h-1v2h-2v-2h1v-1h-1v1h-2v-2h2v-2h-3v-1h-1v-5h-3v-1h-2v-2h-1v-1h-1v-2h-1v-3h-1v-1h-2v-1h-1v-2h-1v-3h-1v-1h-2v-1h-2v-2h1v-1h1v-1h-1v-1h-3v-2h1v-1h-2v-2h-2v-2h-1v-2h-2v-4h1v-1h-1v-2h-4v-4h1v-2h-1v-1h-2v-2h-2v-2h3v-1h1v-2h-2zm3 4v1h1v-1zm-1 3v1h1v-1zm2 5v2h1v-2zm21 5h2v2h-2zm-15 7v1h1v-1zm48 24h2v2h-2zm-30 8h2v2h-2zm33 0v1h1v-1zm18 10h2v2h-2zm12 14h2v2h-2zm4 9v1h1v1h1v-1h-1v-1zm-37 3h2v2h-2zm14 4v1h1v-1zm32 0v1h1v-1zm-15 11v1h1v-1zm25 0v3h1v-3zm1 10v1h1v-1zm4 1v2h1v-2zm9 0h2v4h-3v-2h1zm-5 2v1h1v-1zm-5 2v1h2v-1zm18 0h2v2h-2zm-15 1v1h1v-1zm8 1h2v1h2v2h-2v-1h-2zm8 1h2v2h-2zm3 0h2v2h-1v2h1v2h-2v-2h-1v-2h1zm-7 5h2v2h-2zm-11 1h2v2h-2zm20 0h2v2h-2zm-11 1h2v2h-2zm7 0h2v2h-2zm-2 2h2v2h-2z"/>
<path fill-opacity="0.241" d="M0 5h2v2h-2zm8 2h2v2h-2v1h-2v-2h2zm-6 3h2v1h2v1h3v2h1v-1h2v1h1v2h-1v1h1v1h1v-2h2v2h1v1h1v1h2v-1h2v3h1v2h-1v1h3v1h1v4h2v2h1v-2h2v2h-1v2h1v-1h2v1h1v3h1v2h1v2h3v2h1v1h1v-2h2v4h2v1h1v3h1v1h1v2h1v-2h3v2h1v2h-1v1h1v-1h1v1h1v1h2v2h1v2h2v1h2v2h1v3h1v-2h2v2h-1v1h1v-1h2v2h1v1h1v1h1v1h1v-1h2v3h1v2h1v4h3v1h2v1h2v2h1v2h2v1h1v-1h4v2h-3v1h1v2h1v1h2v1h3v1h1v-1h2v4h1v-1h2v1h1v2h-1v2h2v2h-1v1h5v2h-1v1h1v-1h2v1h2v2h-2v-1h-2v2h3v1h3v1h4v2h1v3h1v-1h2v2h1v2h1v2h-1v1h-1v1h1v1h1v2h-1v1h-1v2h1v2h-2v-2h-1v3h-3v-2h-2v2h-2v-3h-2v-1h1v-1h-1v1h-1v2h-3v-2h2v-2h-1v-1h-1v1h-4v-3h-1v-1h-1v1h1v2h-2v-1h-1v-3h-1v-3h-1v3h-2v-1h-1v-2h-1v1h-2v-2h2v-1h-3v-1h-1v-1h-1v2h-2v-2h-2v-1h-1v-1h-2v-1h-2v-4h-1v-1h-2v-2h-1v1h-2v-1h-3v-1h-1v-2h-1v-1h-1v-2h-3v-1h-2v-1h-2v-2h1v-1h-2v-1h-1v-1h-3v-1h1v-2h-2v-1h-1v-1h-1v-1h-1v-1h-1v-2h-2v-1h-1v-1h-1v1h-2v-3h1v-1h-1v-1h-2v-2h-1v2h-2v-2h1v-1h-1v-3h-3v-1h-1v-5h-3v-1h-2v-2h-1v-3h-1v-1h-1v-2h-1v-1h-1v-1h-1v-1h1v-1h-3v-3h-1v-1h-1v-2h-2v-2h1v-1h-1v-1h-3v-2h1v-1h-1v-2h1v-1h-2v1h-1v-2h1v-2h-1v1h-2v-1h-2v-4h1v-2h-1v-1h1v-1h-1v1h-4v-4h2v2h1v-2h-1v-1h-1v-1h-1v-2h1v-2h-1v2h-2v-2h1v-1h4v-1h-3v-2h-2zm10 9v1h1v-1zm15 8h2v2h-2zm31 30h1v1h-1zm23 19h2v2h-2zm-4 1h2v2h-2zm17 19v1h1v-1zm3 3v1h1v1h1v-1h-1v-1zm7 1h2v2h-2zm-44 2h2v2h-2zm13 5h2v2h-2zm11 5v1h1v-1zm31 2v1h1v-1zm1 3v3h2v-1h-1v-2zm10 4h2v5h1v2h-2v1h1v2h-2v-1h-1v3h2v1h1v2h1v1h2v2h-2v-1h-2v-2h-1v-1h-1v1h-3v-1h-3v-2h4v1h1v-1h-1v-6h1v-1h2v-1h-2v-2h1v-1h1zm-17 4v1h1v-1zm7 2v1h2v-1zm14 3h1v2h-1zm1 4h2v1h2v2h-2v-1h-2zm8 1h2v2h-2zm3 0h2v2h-2zm-23 1h2v2h-2zm23 3h2v2h-2zm-18 2h2v2h-2zm20 0h2v2h-2z"/>
<path fill-opacity="0.333" d="M0 5h2v2h-2zm8 2h2v2h-2zm-6 3h2v2h-2zm2 2h2v2h-2zm3 1h2v2h1v1h1v1h2v1h1v-2h2v3h2v2h1v-1h1v-1h2v4h-1v1h1v1h3v4h1v1h2v2h1v2h4v1h1v3h1v2h1v1h3v2h1v1h1v-2h2v4h2v1h1v3h1v1h1v2h1v-2h3v2h1v2h-1v1h3v1h2v3h1v1h1v2h1v-1h2v2h1v3h1v-2h2v2h-1v1h1v-1h2v2h1v2h2v3h3v1h-2v1h2v-1h1v2h1v3h3v1h2v1h2v2h1v2h2v1h1v-1h4v2h-3v2h1v1h1v1h2v2h1v-1h2v1h1v-1h2v2h-1v5h1v1h2v-1h-2v-3h4v2h-1v2h1v3h2v1h1v-1h2v2h-2v1h2v-1h1v2h-1v2h3v2h1v-1h2v2h1v-1h3v2h-2v2h1v3h-1v1h3v-1h-1v-2h2v1h3v2h-1v1h1v1h-1v1h-1v-1h-2v1h2v1h2v4h-1v2h1v2h-2v-2h-2v1h1v2h-3v-3h-2v3h-2v-2h1v-1h-2v-2h-1v1h-2v-2h-1v-1h-1v1h-4v-3h-1v-1h-3v-1h-1v-3h-1v3h-2v-3h-2v1h-1v-2h1v-1h-2v-1h-2v-1h-1v2h-2v-2h-2v-2h-3v-1h-2v-2h1v-1h-1v-2h-3v-2h-3v-1h1v-2h-1v2h-1v1h-1v-1h-2v-2h-1v-1h-1v-1h1v-1h-3v-1h-2v-3h-1v2h-2v-2h1v-1h-2v-1h-1v-1h-1v-2h-1v-1h-2v-1h-1v-1h-1v-2h-2v-3h-1v1h-1v-2h-2v1h-2v-3h1v-1h-1v-1h-2v-3h-2v-1h-1v-2h-3v-1h-1v-5h-2v-1h-2v-2h-1v-1h-1v-1h1v-1h-1v-1h-2v-2h-1v-2h-1v-2h-3v-3h-1v-3h-3v-2h1v-1h-1v-1h-1v-1h-1v-1h1v-2h-1v-2h-2v-3h-1v1h-2v-1h-2v-4h1v-4h-1v1h-4v-2h3v-3h-2v-3h1v-1h-1v-2h2zm3 0h2v2h1v1h-2v-1h-1zm-8 3h2v2h-2zm10 3v1h1v-1zm15 8h2v2h-2zm2 3h2v2h-2zm21 23v1h1v-1zm31 23h2v2h-2zm12 20v1h1v1h1v-2zm-20 11h2v2h-2zm11 5v1h1v-1zm29 2v2h1v-2zm3 1h2v1h-2zm3 1h1v1h-1zm6 6h2v2h-2zm-26 2h2v2h-2zm9 0v1h1v1h1v-1h-1v-1zm18 1h2v1h1v2h-2v1h-1v1h-1v3h2v1h1v2h1v2h-2v-2h-1v-1h-1v1h-2v-1h-4v-2h4v1h1v-1h-1v-3h1v-4h2zm-8 1v1h-2v1h2v-1h1v-1zm-5 1v1h1v-1zm-7 2h2v2h-2zm25 5h1v1h-1zm-12 2h2v2h-2zm5 5h2v2h-2z"/>
<path fill-opacity="0.475" d="M2 10h2v2h-2zm3 2h1v1h-1zm5 1h2v2h-2zm-3 1h2v2h2v1h2v1h3v1h1v2h-1v1h4v-2h2v2h-1v3h1v1h3v4h2v2h1v1h1v1h3v1h2v1h-1v1h1v3h2v1h3v2h1v1h2v1h1v2h1v-1h1v4h1v1h2v2h2v1h2v2h2v1h2v2h1v1h1v1h1v2h3v1h1v2h-2v1h3v1h4v1h1v2h-1v1h1v-1h1v1h1v3h1v1h3v1h1v3h3v3h1v-1h2v1h1v2h1v1h2v1h1v-1h3v2h-2v2h1v1h1v2h2v1h1v-1h2v2h2v5h1v2h2v-1h2v2h-1v1h3v2h1v1h2v3h2v1h1v1h3v4h2v1h1v1h-1v1h-1v1h3v1h1v2h2v2h2v2h-1v2h-2v1h-1v1h1v2h-2v-2h-1v-2h-2v1h-3v-3h-1v-1h1v-1h-2v-1h-1v2h-3v-1h-1v-1h-2v-1h-2v-1h-2v-2h-1v-2h-1v4h-1v-1h-1v-2h-1v-1h-1v-1h-1v-2h-1v1h-2v-1h-1v-1h-2v1h-1v-1h-1v-1h2v-1h-4v1h-1v-1h-1v-3h1v-1h-2v-1h-2v-2h-3v-3h-1v2h-4v-2h2v1h1v-1h-1v-1h-2v-1h-1v-1h-3v-2h-2v-2h-1v-1h-1v-1h-2v-1h-1v-1h-1v-1h-1v-1h-2v-2h-2v-2h-2v-3h-2v-1h-4v-2h1v-1h-1v-1h-1v-1h-1v-2h-2v-2h-1v-2h-1v1h-2v-1h-1v-2h1v-1h-1v-2h-2v-1h-2v-3h-1v-2h-1v-1h-2v-3h-1v-1h-1v-2h-2v-3h-2v-3h-3v-2h1v-2h-1v-1h-1v-4h-1v-1h-1v-1h-1v-2h-1v1h-2v-1h-2v-2h1v-4h1v-1h-1v-1h-2v1h-2v-2h2v-1h2v-1h-2v-1h-1v-1h-1v-2h1v-3h1zm-5 2h2v2h-2zm10 3v2h1v-2zm6 4v2h1v-2zm-8 6v2h1v-2zm19 1h1v1h1v1h-2zm21 21h2v2h-2zm14 14h2v2h-2zm-4 30h1v1h-1zm33 1v1h1v1h1v-2zm7 1h1v1h-1zm-2 1h2v2h-1v-1h-1zm7 6h1v1h-1zm10 8h1v2h-2v-1h1zm3 6h1v1h-1zm2 0h1v1h1v1h-2v1h-1v-2h1zm-10 3v1h1v-1zm16 1h1v2h-2v-1h1zm-20 1v1h1v-1zm-7 1h2v2h-2zm3 1h2v2h-2zm24 0h1v1h1v1h-2zm-13 1v2h1v-2zm3 0v2h2v-1h1v-1zm-7 1h1v1h-1zm16 0h1v2h-2v-1h1zm-19 2h2v2h-2zm17 2h2v1h-2zm-4 2h1v1h-1zm6 0h1v1h1v2h-1v-1h-2v1h-1v-1h-2v-1h4zm-6 3h2v2h-2zm5 5h2v2h-2z"/>
<path fill-opacity="0.714" d="M2 10h2v2h-2zm5 4h2v2h-1v1h1v-1h1v2h1v-1h1v3h-1v1h5v2h1v-1h1v3h4v1h1v1h1v2h1v1h1v1h1v2h1v1h3v1h1v1h1v2h1v2h1v1h3v2h2v1h1v2h1v1h3v3h1v1h1v1h1v1h1v1h1v1h2v1h1v1h2v1h1v2h1v1h1v2h4v2h-2v1h1v1h2v1h4v1h1v3h2v1h1v2h1v2h1v-1h2v1h1v2h-1v1h1v1h1v-1h1v1h1v2h3v2h2v3h1v-1h1v1h1v1h1v2h1v2h2v1h4v1h-1v1h-2v1h2v1h3v3h1v1h2v1h1v2h3v2h2v1h1v1h-1v1h3v2h1v4h4v1h1v2h-2v1h3v1h2v2h-1v1h-1v1h-1v1h-1v-1h-1v-1h-1v1h-2v-1h-1v-1h-2v-1h-1v2h1v2h-2v-2h-1v-1h-3v-1h-1v-1h-1v-1h-1v-1h-1v-1h-1v1h-2v-1h-1v-2h-2v-1h-1v1h-2v-1h-1v-1h-1v-2h-1v-1h-1v1h-2v-3h-2v-2h-3v-1h-1v-1h-3v-3h-3v-1h-1v-1h-1v-1h-1v-1h-1v1h-1v-2h-2v-1h-1v-1h1v-1h-2v-1h-3v-1h-1v-2h-2v-1h-1v-1h-1v-1h-1v-1h-1v-1h-1v-2h-1v-1h-1v-1h-1v-1h-3v-3h-1v-1h-1v-2h-3v-3h-1v-1h-3v-2h1v-1h-1v-2h-3v-1h-2v-3h-1v-2h-1v-1h-1v-1h-1v-4h-2v-2h-1v-1h-1v-1h-2v-4h-1v1h-1v-2h1v-2h-2v-1h-1v-4h-1v-2h-2v-1h1v-1h-2v1h-2v-3h1v-1h1v1h1v-2h-3v-1h-1v-1h1v-7h-4v-2h1zm4 0h1v1h-1zm3 4h1v2h-2v-1h1zm5 4h2v2h-2zm-11 1h1v1h-1zm-1 1h1v1h-1zm43 27h2v2h-2zm16 19v1h1v-1zm29 25h1v1h1v1h-2zm17 17h1v3h-2v-2h1zm-14 5v1h1v-1zm0 4h1v1h-1zm12 0v1h1v-1zm8 2h2v3h-1v-1h-1v1h-1v-2h1zm-7 3h2v1h-2zm3 1h2v2h-2zm5 0h1v2h-2v-1h1zm-7 1h1v2h-2v-1h1zm4 1h2v4h-1v-2h-1z"/>
</g>
<path fill="#fff" fill-rule="evenodd" d="M321.9 1289.4L324.6 1291.7 340.5 1295.9 347 1289.4 340.5 1279.8 337.9 1273.5 324.6 1259.2 323.7 1257.5 310.1 1241.6 308.7 1240.1 294 1225.6 292.7 1224.4 276.8 1209.7 276.8 1209.7 260.9 1193.9 260.7 1193.7 245 1177.9 244.8 1177.8 229.1 1162.8 227.6 1161.8 213.1 1147.8 208.3 1145.9 197.2 1137.6 188.8 1145.9 192.6 1161.8 197.2 1167.4 201.7 1177.8 213.1 1191.1 214.5 1193.7 225.4 1209.7 229.1 1213.4 239.8 1225.6 245 1230.9 255 1241.6 260.9 1247.5 274.6 1257.5 276.8 1259.6 292.7 1271.7 296.3 1273.5 308.7 1283.6Z"/>
<g shape-rendering="crispEdges">
<path fill="#fafbfe" fill-opacity="0.025" d="M157.4 1122H173.3V1137.9H157.4ZM157.4 1106H173.3V1122H157.4ZM157.4 1090.1H173.3V1106H157.4ZM316.6 1297.4H332.5V1313.3H316.6ZM332.5 1249.5H348.5V1265.5H332.5ZM348.5 1313.3H364.4V1329.3H348.5ZM364.4 1313.3H380.3V1329.3H364.4ZM380.3 1313.3H396.2V1329.3H380.3Z"/>
<path fill="#f6f8fe" fill-opacity="0.050" d="M173.3 1106H189.3V1122H173.3ZM189.3 1169.8H205.2V1185.8H189.3ZM300.7 1281.4H316.6V1297.4H300.7ZM364.4 1297.4H380.3V1313.3H364.4Z"/>
<path fill="#f1f4fd" fill-opacity="0.075" d="M173.3 1137.9H189.3V1153.9H173.3ZM189.3 1122H205.2V1137.9H189.3ZM332.5 1297.4H348.5V1313.3H332.5ZM348.5 1281.4H364.4V1297.4H348.5Z"/>
<path fill="#ecf0fc" fill-opacity="0.100" d="M173.3 1122H189.3V1137.9H173.3ZM205.2 1185.8H221.1V1201.7H205.2ZM205.2 1137.9H221.1V1153.9H205.2ZM284.8 1265.5H300.7V1281.4H284.8ZM348.5 1297.4H364.4V1313.3H348.5Z"/>
<path fill="#e7ecfb" fill-opacity="0.125" d="M221.1 1153.9H237V1169.8H221.1ZM316.6 1249.5H332.5V1265.5H316.6ZM332.5 1265.5H348.5V1281.4H332.5Z"/>
<path fill="#e2e8fa" fill-opacity="0.150" d="M237 1169.8H252.9V1185.8H237ZM252.9 1185.8H268.9V1201.7H252.9ZM268.9 1201.7H284.8V1217.6H268.9Z"/>
<path fill="#dee5fa" fill-opacity="0.175" d="M268.9 1249.5H284.8V1265.5H268.9ZM284.8 1217.6H300.7V1233.6H284.8ZM300.7 1233.6H316.6V1249.5H300.7ZM316.6 1281.4H332.5V1297.4H316.6Z"/>
<path fill="#d9e1f9" fill-opacity="0.200" d="M189.3 1153.9H205.2V1169.8H189.3ZM221.1 1201.7H237V1217.6H221.1ZM332.5 1281.4H348.5V1297.4H332.5Z"/>
<path fill="#d4ddf8" fill-opacity="0.225" d="M237 1217.6H252.9V1233.6H237ZM252.9 1233.6H268.9V1249.5H252.9Z"/>
<path fill="#d0daf8" fill-opacity="0.250" d="M189.3 1137.9H205.2V1153.9H189.3Z"/>
<path fill="#c1cef5" fill-opacity="0.325" d="M316.6 1265.5H332.5V1281.4H316.6Z"/>
<path fill="#bccaf4" fill-opacity="0.350" d="M300.7 1265.5H316.6V1281.4H300.7Z"/>
<path fill="#aebff2" fill-opacity="0.425" d="M205.2 1169.8H221.1V1185.8H205.2Z"/>
<path fill="#aabcf2" fill-opacity="0.450" d="M205.2 1153.9H221.1V1169.8H205.2Z"/>
<path fill="#9bb0ef" fill-opacity="0.525" d="M300.7 1249.5H316.6V1265.5H300.7Z"/>
<path fill="#8da5ed" fill-opacity="0.600" d="M284.8 1249.5H300.7V1265.5H284.8Z"/>
<path fill="#849eec" fill-opacity="0.650" d="M221.1 1169.8H237V1185.8H221.1Z"/>
<path fill="#7592e9" fill-opacity="0.725" d="M221.1 1185.8H237V1201.7H221.1ZM284.8 1233.6H300.7V1249.5H284.8Z"/>
<path fill="#6787e7" fill-opacity="0.800" d="M268.9 1217.6H284.8V1233.6H268.9Z"/>
<path fill="#6283e6" fill-opacity="0.825" d="M237 1185.8H252.9V1201.7H237ZM268.9 1233.6H284.8V1249.5H268.9Z"/>
<path fill="#597ce5" fill-opacity="0.875" d="M237 1201.7H252.9V1217.6H237ZM252.9 1201.7H268.9V1217.6H252.9Z"/>
<path fill="#4169e1" fill-opacity="1.000" d="M252.9 1217.6H268.9V1233.6H252.9Z"/>
</g>
<path class="c" d="M321.9 1289.4L324.6 1291.7 340.5 1295.9 347 1289.4 340.5 1279.8 337.9 1273.5 324.6 1259.2 323.7 1257.5 310.1 1241.6 308.7 1240.1 294 1225.6 292.7 1224.4 276.8 1209.7 276.8 1209.7 260.9 1193.9 260.7 1193.7 245 1177.9 244.8 1177.8 229.1 1162.8 227.6 1161.8 213.1 1147.8 208.3 1145.9 197.2 1137.6 188.8 1145.9 192.6 1161.8 197.2 1167.4 201.7 1177.8 213.1 1191.1 214.5 1193.7 225.4 1209.7 229.1 1213.4 239.8 1225.6 245 1230.9 255 1241.6 260.9 1247.5 274.6 1257.5 276.8 1259.6 292.7 1271.7 296.3 1273.5 308.7 1283.6ZM286.2 1257.5L292.7 1263 308.7 1266.4 312.6 1257.5 308.7 1253.2 301.2 1241.6 292.7 1233.2 286.3 1225.6 276.8 1216.3 270.9 1209.7 260.9 1199.8 254.3 1193.7 245 1184.4 236.1 1177.8 229.1 1171.1 213.1 1177.8 221.3 1193.7 229.1 1202.9 234.5 1209.7 245 1220.6 249.1 1225.6 260.9 1237.6 266 1241.6 276.8 1251.4ZM211.2 1161.8L213.1 1177.8 214.6 1161.8 213.1 1160.4ZM276.4 1241.6L276.8 1241.9 278.9 1241.6 276.8 1225.6ZM257.1 1225.6L260.9 1229.5 276.8 1225.6 262.5 1209.7 260.9 1208.1 245.2 1193.7 245 1193.5 243.1 1193.7 243.6 1209.7 245 1211.2Z"/>
<path class="tr" d="M261.6 1058.2V1377.1"/>
<path class="th" d="M141.5 1219.6H459.9"/>
<rect x="254.3" y="1212.1" width="14.7" height="15.3" fill="#4682b4"/>
</g>
<clipPath id="k4"><rect x="475.9" y="1058.2" width="318.4" height="318.9"/></clipPath>
<g clip-path="url(#k4)">
<g transform="translate(473.74 1055.99) scale(2.212)" fill="#4169e1" filter="url(#bl)">
<path fill-opacity="0.070" d="M50 5h2v2h-2zm41 0h2v2h-2zm-25 1h3v3h-2v-1h-1zm-29 2h2v2h-2zm13 2h2v2h-1v2h-2v-1h-1v-2h2zm5 0h2v2h-2zm37 0h2v2h-2zm-52 1h2v1h2v2h1v2h-1v1h2v2h1v3h2v2h-2v1h2v-1h1v-3h1v-1h1v-1h-1v1h-3v-2h1v-2h2v1h2v1h1v1h1v-2h1v-1h-2v-3h2v1h1v1h5v-2h2v2h2v2h3v-1h4v1h1v1h1v-3h1v-1h-1v-2h1v-1h2v2h3v2h-3v1h1v2h1v-1h2v2h-1v1h2v-2h2v2h-1v3h1v1h1v-1h2v3h-1v2h1v1h1v-1h-1v-2h2v1h1v1h1v-1h2v2h-2v1h1v1h1v-1h1v-1h1v-1h1v-1h1v-2h2v1h2v2h1v2h-1v1h-2v-3h-1v2h-1v1h2v3h2v1h1v-1h-1v-2h2v-3h3v1h1v2h-2v1h2v1h1v-2h2v3h-2v1h1v2h-2v1h2v1h2v2h-1v1h1v2h-1v2h-1v1h5v2h-2v1h2v1h1v1h1v1h1v-1h2v4h3v-1h-1v-1h-1v-3h2v2h1v1h1v-1h2v1h2v2h-2v-1h-1v1h-2v3h1v1h1v2h-2v-1h-1v-2h-1v1h-2v-1h-1v1h1v1h3v4h-1v4h1v-1h3v-1h1v-3h-1v1h-1v2h-2v-2h1v-2h2v-1h2v1h1v4h-1v2h1v1h4v1h2v2h-1v2h-2v-3h-4v-1h-1v2h2v2h-1v1h3v3h-1v1h-2v-1h-1v1h1v4h-1v1h1v4h-2v1h-1v1h1v-1h2v1h1v2h-1v2h1v-1h2v2h-2v1h-1v1h-1v1h-2v3h-1v2h1v2h3v-1h1v-1h-1v-4h1v-2h3v-1h2v-1h2v2h-2v1h-1v1h2v2h-2v-1h-1v1h-1v1h-1v1h1v4h-1v1h-1v2h-5v-3h-3v1h-1v1h1v1h1v2h1v4h1v2h-2v-2h-1v1h-2v-1h-1v3h-2v2h-1v3h-2v-5h-2v-2h-1v2h1v2h1v2h-1v2h-2v-2h1v-1h-1v1h-1v4h-2v-1h-1v-3h2v-2h-1v1h-2v1h-2v1h1v5h-1v3h1v2h-2v-1h-1v-2h-2v-3h-2v1h-1v2h-2v-1h-1v3h-2v-5h-1v1h-2v-2h-1v3h-2v-1h-1v1h1v2h-2v1h-3v-2h3v-1h-1v-2h-1v2h-2v3h-2v-4h1v-1h1v-1h-4v1h-2v-2h-1v2h-3v-2h-1v2h-1v3h-2v-3h1v-2h1v-1h-1v-5h-1v3h-1v1h-1v2h-2v-1h-1v-2h1v-1h1v-1h1v-1h-1v-3h1v-1h-3v2h1v3h-2v-1h-1v-1h-2v3h-2v1h-2v-2h2v-1h-2v-2h4v-1h-1v-2h1v-1h-1v1h-2v2h-1v1h-2v-2h1v-1h-2v-1h-2v1h-1v2h-2v-2h1v-2h1v-2h1v-1h1v-2h-1v2h-2v-2h-1v1h-2v-4h2v-1h-3v-1h-2v-4h-3v-2h1v-1h-1v1h-1v2h-2v-2h-1v-4h2v-1h1v-4h-1v1h-1v1h1v2h-2v-1h-3v-2h1v-1h-3v1h-2v-2h1v-1h4v1h1v-2h2v1h1v-3h-4v-3h-2v-1h-2v2h-2v-4h-1v-2h1v-2h4v-3h1v-1h-1v-3h1v-1h-1v-3h-1v-2h-1v-2h2v1h1v-1h-1v-1h-2v1h-1v1h-1v2h-1v1h-2v-2h1v-1h1v-2h1v-1h-1v-2h-2v-2h1v-1h2v-1h2v2h1v-1h2v-1h-2v-4h2v-1h-1v-1h-1v1h-1v1h-5v-2h4v-1h1v-1h-2v1h-2v-3h2v-1h2v2h1v-3h5v-1h1v-1h1v-1h-1v-2h2v-1h-1v-1h-1v-1h-1v-1h-1v2h1v2h-1v4h-2v-1h-2v-2h2v-2h-1v1h-2v-2h2v-1h1v-1h1v-3h-1v-2h2v1h1v3h1v-2h1v-1h1v-1h1v-2h4v-3h2v1h1v2h-1v1h-2v1h-2v3h1v-1h1v-2h2v-1h2v-3h1v-1h1v-1h-5v-2h2v-3h1v-1h-1v-1h-2zm27 0h2v2h-2v1h-2v-2h2zm35 1h2v2h-2zm-68 1h2v2h-1v1h-2v-2h1zm33 1h2v2h-2zm21 0h2v1h1v3h-1v2h1v2h3v2h3v2h-3v-1h-2v-1h-2v-2h-5v-2h2v-2h2v-2h-1zm5 1h4v2h-4zm-63 2h2v2h-2zm-10 1h2v2h-2zm14 0h2v2h-2zm23 0v1h1v-1zm12 0v1h1v2h1v-3zm8 0v1h1v-1zm-13 1v1h1v-1zm15 1v1h1v-1zm15 0h2v1h1v1h2v-1h2v2h-2v1h-2v-1h-2v-1h-1zm11 0h2v2h-2zm-72 1h2v2h-1v3h-2v-3h1zm28 0v1h1v-1zm-9 1v1h1v-1zm16 0v1h2v-1zm4 0v4h2v-1h-1v-3zm5 0v1h1v-1zm-49 1h2v2h-2zm73 0h2v2h-2zm4 0h2v2h-2zm4 0h2v2h-2zm-55 1v2h1v-2zm5 0v1h1v-1zm25 1v2h1v-2zm-41 1v1h-1v1h-1v1h2v-1h1v-1h2v-1zm64 0h2v2h-2zm-86 1h2v2h-1v1h-2v-2h1zm3 0h2v2h-2zm26 0v1h1v-1zm-4 3v1h1v-1zm-10 1v2h1v-2zm83 0h2v2h-2zm-6 1h2v2h-2zm6 2h2v2h-2zm-83 1v1h1v1h1v-1h-1v-1zm57 0v1h1v-1zm13 0v2h-1v1h2v-3zm-95 1h4v2h-4zm11 0h2v2h1v2h-2v-2h-1zm-3 1h2v4h-2zm94 0h2v2h-2zm4 0h2v2h2v2h-2v-1h-2zm-1 4h2v3h1v2h1v1h1v-1h2v1h2v2h-2v-1h-2v1h1v2h-2v-2h-1v3h-3v-3h1v-1h-2v-1h-2v-4h1v-1h2zm-106 1h2v2h-2zm5 0h2v3h-2zm3 0h2v2h-2zm12 0v1h1v-1zm77 1v1h1v-1zm16 0h2v2h-2zm-111 1h2v2h-2zm23 0v2h2v-1h1v-1zm80 0v2h2v-1h-1v-1zm11 1h2v3h-2zm-110 4h2v2h-1v4h-2v-4h1zm6 0h2v2h-2zm-3 1h2v2h-2zm11 0v1h2v1h2v-1h-2v-1zm96 0h2v2h-2zm-95 3v1h-1v1h1v-1h1v-1zm101 0h2v2h-2zm9 2h2v2h-2zm-114 2v1h1v-1zm-8 1h2v2h-2zm96 0v1h1v-1zm11 0h2v2h1v2h-2v-2h-1zm-112 2h2v2h-2zm120 1h2v2h-1v1h-2v-2h1zm-118 1h2v2h-2zm12 1v1h1v-1zm-16 1h2v1h2v2h-2v-1h-2zm12 0h2v3h-1v3h1v4h-2v-2h-1v-2h-2v2h-2v-3h-1v-2h2v1h3v-1h1zm115 0h2v2h-2zm-118 1h2v2h-2zm102 6v3h1v-1h1v-1h-1v-1zm15 0h2v2h-2zm-118 4h2v2h-2zm106 0v1h1v-1zm-99 1v1h-3v2h4v-3zm92 3v1h1v-1zm11 2h2v1h2v2h-2v-1h-1v1h1v2h-2v-2h-1v-2h1zm-119 3h2v1h1v2h-2v-1h-1zm13 1h5v2h-5zm109 0h2v1h2v2h-2v-1h-2zm-98 2v1h1v-1zm-14 1h2v2h-2zm108 0h5v2h-1v1h1v2h-2v1h-2v-2h2v-1h-1v-1h-2zm-8 3v1h1v-1zm-83 2v1h1v-1zm88 0v1h1v-1zm9 0h2v2h-2zm-108 1h2v2h-2zm6 2v1h2v-1zm5 0v1h2v-1zm-10 3h2v2h-2zm11 1v1h1v-1zm-22 1h2v2h-2zm11 3h2v2h1v2h-2v-2h-1zm6 1h4v2h-4zm84 1v2h1v-2zm25 0h2v2h-2zm-105 1h2v2h-2zm-4 1h3v2h-1v2h-2zm77 1v1h1v-1zm15 0v1h2v-1zm-89 2h2v2h-2zm81 0v1h1v-1zm14 0h2v4h-2zm-16 1v1h1v-1zm-90 1h2v2h-2zm16 0h2v2h-2zm6 0v1h1v-1zm4 0v1h2v-1zm11 1v1h2v-1zm56 0v2h2v-2zm5 0h2v2h-2zm-74 1v1h1v-1zm7 1v1h-1v2h1v-2h2v-1zm58 1v2h1v-2zm19 0h2v2h-2zm-98 1h2v2h-2zm5 1h2v2h-2zm62 0v1h1v-1zm22 0h2v2h-1v1h-2v1h-1v1h-1v1h1v2h-2v-1h-3v-1h-1v-2h2v1h2v-2h1v-1h2v-1h1zm-60 1v1h1v-1zm67 0h2v3h-2zm-64 1v1h-1v1h2v2h-2v1h2v-1h1v-2h-1v-2zm59 0h2v1h2v2h-2v-1h-2zm-81 2h2v2h-2zm31 0v1h-2v1h1v2h1v-1h1v-3zm11 0v2h2v-2zm-33 1h2v2h-2zm37 0v2h1v-2zm48 0h2v2h-2zm-96 1h2v2h-2zm55 0v1h-2v1h3v-2zm-27 1v1h1v-1zm9 0v1h1v-1zm5 0v1h1v-1zm-28 2h2v2h-2zm24 0v2h1v-2zm10 0v1h2v-1zm27 0h2v2h-2v1h-2v-2h2zm-19 1v1h1v-1zm4 0h2v2h-1v2h-2v-2h1zm9 0h2v2h-2zm-68 2h2v2h-2zm63 1h2v2h-2v1h-2v-2h2zm14 0h2v2h-2zm-63 2h3v2h-3zm14 0h2v2h-2zm22 0h2v3h-5v-2h3zm15 0h4v2h-4zm-28 1h2v1h2v1h1v2h-2v-1h-1v2h-2v-2h1v-1h-1zm16 0h2v2h1v2h-2v-2h-1zm29 1h2v2h-2zm-49 1h2v2h-2zm24 2h2v2h-2zm-13 1h2v1h3v2h-4v-1h-1zm-4 1h2v2h-2zm-25 1h2v2h-2zm50 0h2v2h-2zm-10 2h2v2h-2zm4 0h2v2h-2z"/>
<path fill-opacity="0.151" d="M50 5h2v2h-2zm41 0h2v2h-2zm-25 1h2v1h1v2h-2v-1h-1zm-29 2h2v2h-2zm13 2h2v2h-2zm5 0h2v2h-2zm12 1h2v2h-2zm9 0h2v2h1v2h-1v3h-1v1h1v-1h2v-1h2v2h-1v1h2v-2h2v2h-1v3h1v1h1v-1h2v2h-1v3h1v1h2v-1h1v1h1v2h3v-1h1v-2h1v-1h1v-1h4v2h1v2h-1v1h-2v-3h-1v2h-1v1h2v4h3v-1h-1v-2h2v-3h3v3h-1v1h2v1h1v2h1v2h-3v-3h-1v2h-1v1h2v2h1v-1h2v1h2v2h-1v1h1v2h-1v2h-1v1h5v2h-2v1h2v1h1v1h1v1h1v-1h2v4h1v1h3v2h1v1h1v2h-2v-1h-1v-2h-1v1h-2v-1h-1v1h1v1h3v3h-1v4h-2v1h3v-1h3v-1h1v-3h-1v1h-1v2h-2v-2h1v-2h2v-1h2v1h1v4h-1v2h1v1h1v2h-2v-1h-1v2h2v2h-1v1h3v3h-2v-1h-1v1h-2v1h2v4h-4v1h4v4h-2v1h-1v3h2v-1h-1v-2h2v1h1v2h-1v2h1v-1h2v2h-2v1h-1v1h-1v1h-2v3h-1v2h1v2h3v-1h1v-1h-1v-4h1v-2h3v-1h2v-1h2v2h-2v1h-1v2h-1v1h-1v1h-1v1h1v2h-1v3h-2v-1h-2v1h2v2h-2v-1h-2v-2h-3v1h-1v1h1v1h1v2h1v2h-2v-2h-2v2h2v3h-2v-1h-1v1h-1v2h-1v-4h-1v4h1v2h-1v3h-2v-5h-2v-2h1v-2h-2v4h1v2h1v2h-1v2h-2v-2h1v-1h-1v1h-2v-2h-3v2h-2v1h1v5h-1v3h1v2h-2v-1h-1v-2h-2v-3h-2v1h-1v2h-2v-1h-1v3h-2v-5h-1v1h-2v-2h1v-1h-1v1h-1v3h-2v-1h-1v1h1v2h-2v-2h-1v-2h-2v2h-2v-2h1v-2h1v-1h-1v-4h-1v1h-3v2h-2v1h2v-1h1v1h1v2h-2v1h-2v-2h-1v2h-3v-2h-1v2h-1v2h-2v-2h1v-2h1v-2h-1v-5h1v-1h-1v1h-1v2h-1v2h-1v1h-1v1h-2v-2h1v-1h1v-1h1v-1h-1v-3h1v-1h-2v-2h-2v-1h-1v1h-5v3h-1v1h-2v-2h1v-1h-2v-1h-2v1h-1v2h-2v-2h1v-2h1v-2h1v-1h1v-2h-1v2h-2v-2h-3v-3h2v-1h-3v-1h-2v-2h2v1h1v-1h-1v-3h-1v1h-4v-2h1v-3h-3v1h-2v-2h2v-1h2v-3h-1v-1h-1v1h-1v1h1v2h-2v-1h-1v-1h-1v-2h1v-3h2v1h1v-3h-1v-2h-1v2h-2v-4h-4v-2h3v-2h1v-1h-2v1h-4v-2h4v-3h1v-1h-1v-3h1v-1h-1v-3h-1v-2h-1v-2h2v1h1v-1h-1v-1h-2v1h-1v1h-1v2h-2v-2h1v-2h1v-1h-1v-2h3v-1h1v-2h3v-1h-3v-4h2v-1h-1v-1h-1v1h-1v1h-2v-2h1v-1h1v-1h-2v1h-2v-2h2v-1h2v1h1v-3h5v-1h1v-1h1v-1h-1v-2h2v-1h-1v-1h-1v-1h-1v-2h1v-2h1v-1h1v-1h1v-2h4v2h-2v3h-1v1h-3v1h3v2h1v-2h1v-3h1v-1h1v-1h1v-1h2v-3h1v-1h1v-1h-5v-2h2v-1h4v2h1v3h2v2h-2v1h4v-1h-1v-2h1v-2h1v-1h-1v1h-3v-2h1v-2h2v1h2v1h1v1h1v-2h1v-1h-2v-3h2v1h1v1h4v1h1v-3h2v4h5v-1h4v1h1v2h1v-4h1v-1h-1v-2h1zm-34 1h2v2h1v2h-2v-2h-1zm7 0h1v1h-1zm-16 2h2v2h-2zm34 0h2v2h-2zm21 0h2v1h1v3h-1v2h1v2h3v2h3v2h-3v-1h-2v-1h-2v-2h-5v-2h2v-2h2v-2h-1zm5 1h4v2h-4zm-63 2h2v2h-2zm-10 1h2v2h-2zm14 0h2v2h-2zm23 0v1h-1v1h1v-1h1v-1zm12 0v1h-1v1h2v2h-2v1h2v-1h1v-4zm-5 1v1h1v-1zm12 1v1h-1v1h2v1h1v-1h-1v-2zm3 0v1h1v-1zm15 0h2v2h-2zm11 0h2v2h-2zm-72 1h2v2h-1v2h-2v-2h1zm28 0v1h1v-1zm-21 1h2v2h-2zm12 0v1h1v-1zm20 0v4h2v-1h-1v-3zm-44 1h2v2h-2zm73 0h2v2h-2zm-47 1v2h1v-2zm5 0v1h1v-1zm25 1v2h1v-2zm-41 1v1h-1v1h-1v2h2v-2h1v-1h2v-1zm7 0v3h1v-3zm38 0h2v2h-2zm19 0h2v2h-2zm-86 1h2v2h-2zm3 0h2v2h-2zm5 0h2v2h-2zm26 1v1h1v-1zm-9 2v1h1v-1zm-18 1h2v2h1v2h-1v4h-2v-1h-2v-2h2v-2h-1v1h-2v-2h2v-1h1zm14 1v1h1v-1zm55 0v1h-1v1h1v-1h1v-1zm12 0h2v2h-2zm4 0h2v2h-2zm-25 2v1h1v-1zm31 0h2v2h-2zm-83 1v1h1v1h1v-1h-1v-1zm57 0v1h1v-1zm-82 1h2v2h-2zm11 0h2v2h-2zm81 0v1h1v-1zm-84 1h2v4h-2zm82 0v1h1v-1zm12 0h2v2h-2zm4 0h2v2h2v2h-2v-1h-2zm-80 3v1h1v-1zm67 1v1h1v-1zm12 0h2v3h1v2h1v1h1v-1h2v1h2v2h-2v-1h-2v1h-2v3h-3v-2h1v-2h-2v-2h2v-1h-1v-1h-1v1h-2v-2h1v-1h2zm-106 1h2v2h-2zm5 0h2v3h-2zm3 0h2v2h-2zm12 0v3h1v-3zm77 1v1h1v-1zm-95 1h2v2h-2zm23 0v2h2v-1h1v-1zm-15 2h2v2h-2zm106 0h2v2h-2zm-110 3h2v2h-2zm6 0h2v2h-2zm8 0v2h2v1h2v-1h-2v-2zm-11 1h2v2h-2zm4 2h2v2h-2zm-8 1h2v2h-2zm16 0v1h-1v1h2v-2zm90 0h2v1h1v1h2v1h-1v1h-2v-1h-1v-1h-1zm11 0h2v2h-2zm-112 1h3v1h-1v1h-2zm107 1h2v2h-2zm14 0h2v2h-2zm-114 2v1h1v-1zm-8 1h2v2h-2zm96 0v1h1v-1zm11 0h2v2h1v2h-2v-2h-1zm-112 2h2v2h-2zm120 1h2v2h-1v1h-2v-2h1zm-118 1h2v2h-2zm12 1v1h1v-1zm-4 1h2v3h-2zm-3 1h2v2h-2zm-3 2h2v1h1v4h-2v-3h-1zm5 1h2v2h1v4h-2v-2h-1zm8 2v1h2v-1zm92 1v3h1v-1h1v-2zm8 0h2v1h2v2h-1v2h-2v-2h1v-1h-2zm7 0h2v2h-2zm-118 4h2v2h-2zm106 0v1h1v-1zm-2 1v2h1v-2zm-5 3v1h1v-1zm3 0v1h1v-1zm-99 2h2v2h-2zm107 0h2v2h-2zm0 3h2v2h-2zm-118 1h2v2h-2zm14 0h2v2h-2zm9 2v1h1v-1zm-14 1h2v2h-2zm6 0h2v2h-2zm103 0h4v2h-1v1h1v2h-2v1h-2v-2h2v-1h-1v-1h-1zm-106 1h2v2h-2zm97 2v1h1v-1zm-83 2v1h1v-1zm6 0v1h1v-1zm91 0h2v2h-2zm-108 1h2v2h-2zm11 2v1h1v1h1v-2zm87 0v2h1v-2zm-93 3h2v2h-2zm-15 2h2v2h-2zm11 3h2v2h1v2h-2v-2h-1zm93 0v1h-1v1h1v1h1v-3zm-87 1h4v2h-4zm84 1v2h1v-2zm25 0h2v2h-2zm-105 1h2v2h-2zm-3 1h2v2h-1v2h-2v-2h1zm14 1v1h1v-1zm62 0v1h1v-1zm-74 2h2v2h-2zm18 0v1h2v-1zm63 0v1h1v-1zm14 0h2v4h-2zm-17 1v1h2v-1zm-89 1h2v2h-2zm16 0h2v2h-2zm6 0v1h1v-1zm4 0v1h2v-1zm11 1v1h2v-1zm46 0v1h1v-1zm15 0h2v2h-2zm-74 1v1h1v-1zm16 1v1h1v-1zm-9 1h2v3h1v3h-2v-1h-1v-1h-2v3h-2v1h-2v-2h2v-3h2v-1h2zm77 0h2v2h-2zm-98 1h2v2h-2zm28 0v1h1v-1zm58 0h2v2h-2zm-81 1h2v2h-2zm62 0v1h1v-1zm21 1h2v2h-2v1h-1v1h-1v1h1v2h-2v-1h-1v-2h1v-2h1v-1h2zm8 0h2v3h-2zm-64 1v1h-1v1h2v2h-2v1h3v-5zm59 0h2v1h2v2h-2v-1h-2zm-39 2v2h2v-1h1v-1zm29 0h2v2h-2zm-62 1h2v2h-2zm37 0v2h1v-2zm48 0h2v2h-2zm-96 1h2v2h-2zm54 0v1h-1v1h-1v1h1v-1h3v-2zm8 0h1v2h1v2h-2v-2h-1v-1h1zm-25 1v1h1v3h1v-2h1v-1h-2v-1zm5 0v1h1v-1zm-9 1h1v1h-1zm-19 1h2v2h-2zm34 0v1h2v-1zm27 0h2v2h-2v1h-2v-2h2zm-19 1v1h1v-1zm4 0h2v2h-2zm9 0h2v2h-2zm-68 2h2v2h-2zm77 1h2v2h-2zm-46 1h2v2h-2zm3 0h2v2h-2zm27 0h2v2h-2zm-47 1h3v2h-3zm14 0h2v2h-2zm22 0h2v3h-2zm15 0h4v2h-4zm-28 1h2v1h2v1h1v2h-2v-1h-2v-1h-1zm10 0h2v2h-2zm35 1h2v2h-2zm-49 1h2v2h-2zm24 2h2v2h-2zm-13 1h2v2h-2zm-4 1h2v2h-2zm7 0h2v2h-2zm-32 1h2v2h-2zm50 0h2v2h-2zm-10 2h2v2h-2zm4 0h2v2h-2z"/>
<path fill-opacity="0.241" d="M50 5h2v2h-2zm17 2h2v2h-2zm-30 1h2v2h-2zm18 2h2v2h-2zm12 1h2v2h-2zm8 1h2v1h2v2h-1v3h-1v1h2v-1h2v1h-1v1h-1v1h-2v-1h-1v1h-1v1h2v2h-2v-1h-2v-1h-1v1h-1v1h1v2h2v-1h3v1h1v-4h1v-1h2v1h1v-2h2v7h1v-1h2v3h1v1h2v-1h2v2h4v-2h1v-1h1v-2h2v1h-1v3h-1v2h-1v1h-1v1h2v-2h2v1h-1v1h1v1h3v-3h1v-1h1v-2h1v1h1v1h-1v2h-1v2h1v2h-1v1h2v3h1v-1h1v1h2v2h1v2h-1v2h-1v1h3v3h2v1h1v1h1v3h1v-2h1v1h1v3h1v1h1v2h-2v-1h-1v-1h-1v2h2v1h3v2h-1v1h-1v1h1v3h-2v1h3v-1h5v2h-1v-1h-1v1h-3v5h1v2h2v2h-1v3h1v-2h2v4h-2v-1h-2v2h4v3h-2v-1h-1v1h1v2h-1v3h2v-2h2v2h-1v4h-1v2h-3v1h1v2h-3v1h-3v2h-1v2h1v-2h2v2h-1v3h-2v1h4v2h1v2h-2v-2h-1v-1h-1v2h-1v1h1v1h2v2h-2v-1h-1v1h-2v-2h-1v3h-2v1h-2v-2h1v-1h1v-1h-3v4h1v2h-1v1h-1v1h-2v-2h-3v2h-2v1h1v2h-1v1h1v1h-2v-1h-1v-5h-1v1h-1v1h-2v2h-3v-4h-1v1h-1v1h-1v-2h1v-1h-3v2h1v1h1v2h2v2h1v1h1v-2h2v-1h2v-1h1v2h1v2h2v2h-4v-3h-2v1h-1v2h-2v-1h-2v-1h-1v-2h-1v2h-2v-2h1v-1h-1v1h-1v3h-2v-1h-1v-2h1v-2h-2v-2h-1v3h1v2h-3v2h-2v-2h1v-2h2v-1h-2v-1h1v-1h-1v-2h-1v1h-3v2h-2v1h-1v3h-2v-2h-2v-1h-1v-1h-1v-4h1v-2h1v-1h-2v-1h-1v4h-3v-3h1v-1h-2v-3h-4v1h-4v2h-1v2h-2v-2h1v-2h1v-2h2v1h1v-2h-3v1h-1v-1h-3v-3h-1v2h-2v-2h-3v-3h3v-1h-3v-1h-3v-2h2v1h1v-1h-1v-7h-1v-3h1v-1h-1v1h-1v2h-2v1h-3v-2h3v-3h-2v-1h-1v1h-2v-2h1v-1h4v-1h-2v-2h-1v-2h-4v-2h-4v-2h3v-2h1v-1h-2v1h-4v-2h4v-3h2v-1h-2v-3h1v-2h-1v-1h2v-2h-3v-2h1v1h1v-2h-1v-1h-2v1h-1v1h-2v-2h1v-1h-1v-2h2v1h1v-2h1v-2h3v-1h-3v-2h3v1h3v2h-1v1h-1v1h2v-2h2v-2h-2v-2h1v-2h2v-1h2v-1h1v-2h-1v1h-2v2h-2v1h-1v2h-4v-2h-1v-1h-1v1h-1v1h-2v-2h1v-1h1v-1h-4v-1h2v-1h2v1h2v1h2v3h2v-5h-1v1h-3v-2h1v-1h3v-1h2v-3h1v-2h-1v-1h-1v-1h-1v-2h1v-2h2v-2h1v-1h2v-1h2v2h-2v3h-3v1h-1v1h1v1h1v1h2v-2h1v-3h2v-2h2v2h-1v3h1v-1h1v-1h1v-2h2v-1h-3v-4h1v-1h1v-2h-1v1h-2v-3h4v2h1v3h2v2h-2v1h3v4h1v-5h-1v-2h1v-2h1v-1h-1v1h-2v-4h2v1h2v1h1v1h1v-2h1v-1h3v1h2v-1h2v2h-2v1h2v-1h1v2h2v-1h-1v-2h2v2h1v2h-1v1h1v1h2v-1h1v-4h1v-1h2v2h1v-1h1v-1h-1v-2h1v-1h-1zm-21 1h2v3h-1v-1h-1zm8 0h2v2h-2zm-29 1h2v2h-2zm10 0h2v2h-2zm24 0h2v2h-2zm22 1h2v3h-1v2h-1v2h-2v-4h2zm-20 1h2v2h-2zm-39 1h2v2h-2zm-10 1h2v2h-2zm37 0v1h-1v1h2v-2zm2 1v2h-1v1h1v-1h2v1h1v-2h-2v-1zm14 1v1h1v-1zm21 0h2v2h-2zm-61 1h2v2h-1v2h-2v-2h1zm22 0v1h1v-1zm-15 1h1v2h-1zm12 0v1h1v-1zm38 0h4v2h3v2h-3v-1h-2v-1h-2zm-62 1h2v2h-2zm36 0v1h1v-1zm22 0h2v2h-2zm-32 1v2h1v-2zm5 0v1h1v-1zm7 0v2h2v-2zm16 0v1h-1v1h1v-1h1v-1zm6 2h2v2h-2zm-59 1h1v1h-1zm30 0v1h1v-1zm-38 1h1v1h-1zm25 0v3h1v1h1v-1h-1v-3zm9 0v2h2v-1h-1v-1zm46 0h2v2h-1v1h-2v-2h1zm-40 1v1h1v-1zm-33 2h2v6h-2v-2h1v-1h-2v1h-2v-2h2v-1h1zm15 0v1h-1v1h1v-1h1v-1zm39 0v1h1v-1zm31 1h2v2h-2zm-7 1h2v2h-2zm-18 1v1h1v-1zm31 0h2v2h-2zm-83 1v3h2v-2h-1v-1zm57 0v1h1v-1zm-71 1h2v2h-2zm81 0v1h1v-1zm5 0h1v2h-1zm-8 1v1h2v-1zm13 0h2v2h-2zm4 1h2v1h2v2h-2v-1h-2zm-98 1h2v2h-2zm83 0v2h1v1h2v-1h-1v-2zm-65 1v1h1v-1zm-3 1v1h1v-1zm82 0h2v4h1v1h1v2h-1v4h-2v-4h1v-2h-1v-1h-1zm-106 1h2v2h-2zm5 0h2v3h-2zm92 1v1h1v-1zm6 0h2v2h-2zm-4 1v1h1v-1zm-89 2h2v2h-2zm101 0h2v2h-2zm5 0h2v2h-2zm-110 3h2v2h-2zm6 0h2v2h-2zm-3 1h2v2h-2zm92 1v1h1v-1zm-88 1h2v2h-2zm88 1v1h3v-1zm10 0h2v2h-2zm11 0h2v2h-2zm-112 1h2v2h-2zm103 1h2v2h-1v-1h-1zm4 0h2v2h-2zm-100 2v1h1v-1zm-8 1h2v2h-2zm95 0v1h2v-1zm8 0h2v1h-2zm4 0h2v2h1v2h-2v-2h-1zm-3 2h2v2h-2zm11 1h2v2h-1v1h-2v-2h1zm-118 1h2v2h-2zm16 0v2h1v-2zm-8 2h2v3h-2zm100 0h2v2h-1v2h-2v-2h1zm3 0h1v1h-1zm-106 1h2v2h-2zm-3 2h2v2h-2zm5 1h2v1h-2zm-4 2h2v2h-2zm4 0h2v2h1v2h-2v-2h-1zm8 0v1h2v-1zm97 1h2v2h-2zm3 0h1v2h-1zm-6 1h2v2h-1v2h-2v-3h1zm8 0h2v2h-1v2h-2v-2h1zm-103 2v1h1v-1zm-10 1h2v2h-2zm98 0v1h1v-1zm8 1h1v1h4v3h-2v-1h-2v-1h-1zm-7 3v1h1v-1zm3 0v1h-1v1h1v-1h1v-1zm-88 1v1h1v-1zm-11 1h2v2h-2zm107 0h2v2h-2zm0 3h2v2h-2zm-118 1h2v2h-2zm15 0h1v2h-1zm-6 3h2v2h-2zm109 0h2v1h1v2h1v2h-2v-2h-1v-1h-1zm-106 1h2v2h-2zm97 2v1h1v-1zm-90 1h2v2h-2zm13 1v1h1v-1zm79 1v1h1v-1zm-3 1v1h1v-1zm9 0h2v2h-2zm-93 1h2v1h1v3h-2v1h-2v-2h1zm89 0v2h1v-2zm9 1h2v2h-2v1h-1v1h-1v1h-1v-1h-2v-2h2v1h1v-2h2zm-117 4h2v2h-2zm27 0v2h1v-1h1v-1zm85 1h2v2h-1v1h1v2h-1v3h-2v-1h-2v2h-2v-2h-1v-2h-1v-2h2v2h4v-1h1v-1h-1v-2h1zm-101 2h2v2h1v2h-2v-2h-1zm17 0v1h1v1h1v-1h-1v-1zm-9 1h2v2h-2zm2 2h2v2h-2zm-3 1h2v2h-2zm14 1v2h1v-2zm62 0v1h1v-1zm5 0v1h1v-1zm-58 1v1h1v-1zm69 0h1v2h-1zm-72 1v1h2v-1zm77 0h2v2h-2zm-74 1v1h1v-1zm57 0v1h2v-1zm-70 1h2v1h2v2h-3v-1h-1zm67 0v1h1v-1zm-49 1v1h2v-1zm46 0v1h1v-1zm15 0h2v2h-2zm-58 2v1h1v-1zm-23 1h2v2h-2zm14 0h2v3h1v2h-3zm65 1h2v2h-2zm-81 1h2v2h-2zm62 0v1h1v-1zm-50 1h2v2h-2zm71 0h2v2h-2v1h-2v-2h2zm8 0h2v3h-2zm-64 1v1h-1v1h2v2h-2v1h3v-1h1v-2h-1v-2zm6 0v1h1v-1zm39 0h2v4h-2zm16 1h2v2h-2zm-78 1h2v2h-2zm10 0h2v2h-1v1h-1v1h-2v-2h1v-1h1zm35 0v1h-1v1h1v-1h1v-1zm21 0h2v2h-2zm3 1h2v1h1v2h-2v-1h-1zm20 0h2v2h-2zm-54 2v1h1v-1zm-14 1h3v2h-1v1h-2zm34 0h2v2h-2zm13 1h2v2h-2v1h-2v-2h2zm-15 1h2v2h-2zm-40 1h2v2h-2zm-19 1h2v2h-2zm31 2h2v2h-2zm3 0h2v2h-2zm11 0h2v2h-2zm16 0h2v2h-2zm-46 1h2v2h-2zm13 0h2v2h-2zm22 0h2v3h-2zm6 0h2v2h-2zm-19 1h2v1h2v2h-3v-1h-1zm10 0h2v2h-2zm35 1h2v2h-2zm-49 1h2v2h-2zm24 2h2v2h-2zm-17 2h2v2h-2zm7 0h2v2h-2zm12 3h2v2h-2z"/>
<path fill-opacity="0.333" d="M50 5h2v2h-2zm17 2h2v2h-2zm-12 3h2v2h-2zm21 2h1v1h-1zm-14 1h2v2h-2zm15 0h2v2h-2zm-44 1h2v2h-2zm10 0h2v2h-2zm11 0h2v1h-2zm22 1h1v2h-1zm13 0h2v3h-1v2h-1v2h-2v-4h2zm-32 1h1v1h2v2h-2v-1h-1v1h-2v-2h2zm4 0h2v2h-2zm8 0h2v2h-2zm-27 1h3v1h1v2h-1v-1h-1v1h-2zm8 0h3v2h2v3h1v1h-1v1h-1v-1h-1v-1h1v-1h-1v1h-2v-2h1v-1h-1v1h-2v-2h1zm15 0h1v2h-1zm7 0h1v1h1v1h1v-1h2v1h2v2h-2v-1h-1v1h-1v2h-2v-1h-2v-2h1zm-52 1h2v2h-2zm42 1h2v2h1v2h-1v1h2v1h-1v1h3v-2h-2v-2h2v1h3v1h1v2h-2v1h2v-1h2v-1h3v1h1v2h1v-2h-1v-4h1v-1h2v1h1v-2h2v4h-1v-1h-1v1h-3v1h1v1h3v1h2v-1h2v3h1v2h1v-1h2v1h3v2h-1v3h1v1h1v-1h-1v-3h1v-2h1v-1h1v-2h2v2h-1v2h-1v1h-1v1h3v1h4v-3h1v-1h1v-1h1v3h-1v2h1v1h-3v1h-3v-1h-2v2h4v4h3v-1h-1v-2h-1v-2h2v1h2v3h3v3h-1v1h-1v1h2v2h1v1h2v1h-1v1h-1v3h2v1h2v-1h-1v-1h-2v-2h3v2h1v4h2v-2h2v3h1v1h1v2h-2v-2h-2v2h-1v1h1v-1h1v1h1v1h1v-1h2v2h-2v1h-1v2h2v2h-2v1h3v2h-1v1h1v4h1v1h2v2h-2v-1h-2v1h-2v-2h-1v2h1v1h2v1h1v-2h1v1h1v3h-1v1h-1v1h4v1h1v1h-4v1h2v2h-1v3h1v2h-2v-2h-4v-1h-3v2h1v-1h2v2h1v-1h2v2h2v2h-1v3h-1v1h-2v1h-2v2h-1v2h1v-2h2v2h-1v3h-2v1h1v2h-1v2h1v1h2v1h-3v1h-2v-6h1v-1h-2v4h-2v1h-4v1h1v1h-1v1h1v1h1v2h-2v-1h-1v1h1v2h-2v-3h-1v1h-2v1h-1v1h-1v1h1v2h-1v1h-2v-2h1v-1h-1v-1h1v-1h-2v1h-1v1h-2v-2h1v-1h-1v1h-5v-1h-3v-2h1v-1h-2v3h1v3h1v1h1v1h-2v-1h-1v-2h-1v2h1v2h-1v1h-1v1h-1v-1h-1v-1h1v-2h-2v-2h-1v2h-2v-2h1v-2h-3v1h-3v2h-2v-6h-1v3h-1v-3h-1v1h-1v1h-1v3h-2v-3h1v-2h1v-1h-2v-1h-1v1h-1v1h1v2h-2v-1h-1v-2h1v-1h-2v-2h1v-1h-5v1h-2v-3h-5v-2h1v-2h1v-1h-1v1h-1v2h-2v-1h-4v-1h-2v-2h3v-1h-3v-4h-1v-3h1v-1h-1v-2h-1v-3h1v-1h-1v1h-1v2h-2v1h-3v-2h3v-3h-2v-1h-2v-2h4v-2h-1v1h-1v-4h-2v-1h-1v1h-1v-1h-1v-1h-2v-2h1v-1h1v-2h-1v-3h1v-2h-2v-3h1v-3h1v-2h-1v-6h1v-1h1v-1h2v-2h3v-1h-1v-1h-2v-2h1v-2h3v-1h1v-1h1v-2h-3v3h-4v-4h-2v1h-1v-3h4v-1h1v-3h1v-3h-2v-2h2v1h1v1h2v-2h1v-2h1v-1h1v-2h2v1h-1v4h1v2h1v-1h1v-5h2v-1h-3v-2h2v-1h-1v-2h3v1h2v2h-2v1h3v4h1v-6h1v1h2v2h1v-2h2v-1h1v-1h4zm4 0h1v2h-1zm-9 1h1v2h-2v-1h1zm16 0v1h1v-1zm17 2h2v1h2v1h3v2h-3v-1h-2v-1h-2zm-4 1h2v2h-2zm-54 1h2v1h-2zm5 0h2v2h-2v2h-1v1h-2v1h-1v-2h1v-1h1v-2h2zm22 0v2h1v-2zm29 2h2v2h-2zm-31 1v1h-2v1h-1v1h3v-2h5v-1zm-11 1v3h1v1h1v-1h-1v-3zm55 0h2v2h-1v1h-2v-2h1zm-40 1v1h1v-1zm-33 2h2v3h-2zm53 0v1h2v-1zm-41 2v1h1v-1zm40 0v1h1v-1zm11 0v1h1v-1zm-46 1v2h1v-2zm43 0v1h2v-1zm-52 1v3h-1v1h1v-1h2v-2h-1v-1zm6 0v1h1v-1zm-1 2v1h1v-1zm72 0h2v2h-2zm4 1h2v1h-2zm-98 1h2v2h-2zm100 0h2v2h-2zm-83 1v1h1v1h1v-2zm60 0v1h1v1h1v-1h-1v-1zm-62 1v1h1v-1zm-24 1h2v2h-2zm13 0h2v2h-2zm17 0v1h2v-1zm-25 1h2v1h-2zm11 0h1v1h2v3h-2v-2h-1v2h-1v1h-2v-2h1v-1h1v-1h1zm81 0v1h-1v1h-1v1h1v-1h1v-1h1v-1zm6 0h2v2h-2zm4 1h1v1h-1zm-97 2h2v2h-2zm98 0h1v1h1v1h-1v1h-1v3h-1v-4h1zm3 0h2v2h-2zm-92 1h2v2h-2zm-13 2h2v2h-2zm11 1h2v1h2v2h-1v2h-2v-2h1v-1h-2zm-4 2h2v2h-2zm98 1h2v2h-2zm11 0h2v2h-2zm-107 2h3v2h-3zm-2 2h1v1h1v2h-1v1h-2v-2h1zm90 0v1h1v1h1v1h1v-2h-2v-1zm-84 1v2h2v-1h-1v-1zm98 2h2v2h-2zm-111 2h2v2h-2zm16 0v2h1v-2zm102 0h1v1h-1zm-110 2h2v3h-2zm92 0v1h1v-1zm8 0h2v2h-2zm-94 2v1h1v-1zm84 0v1h1v-1zm10 3h2v2h-2zm-100 1h1v2h1v2h-2zm7 0v1h2v-1zm97 1h1v1h-1zm-97 2v1h-1v1h1v1h1v-1h-1v-1h1v-1zm93 0h2v2h-2zm-104 2h2v2h-2zm98 0v2h1v-2zm-80 1v1h1v-1zm89 1h1v2h-1zm2 0h2v3h-2zm-100 2v1h1v-1zm4 0v2h2v-1h-1v-1zm-2 1v1h1v-1zm-8 1h2v2h-2zm107 3h2v2h-2zm-118 1h1v1h-1zm118 3h2v1h1v2h-2v-1h-1zm-90 1v1h1v-1zm81 2v1h1v-1zm-90 1h2v2h-2zm96 0h1v1h-1zm-83 1v1h1v-1zm82 3h2v2h-2zm-89 1h1v3h-1v1h-2v-2h1v-1h1zm7 0v1h1v3h-1v2h-1v1h1v-1h1v3h1v2h2v-1h1v-1h-2v-1h-1v-7h-1v-1zm85 2h2v2h-2zm3 0h1v1h-1zm-12 2v1h1v-1zm-73 1v1h1v-1zm83 0h1v1h-1zm-92 1h2v2h-2zm91 0h1v1h-1zm-101 1h2v2h1v2h-2v-2h-1zm88 0v1h1v-1zm-80 1h2v2h-2zm93 1h1v4h-2v-2h1zm-4 1h2v2h-3v-1h1zm-90 1h2v2h-2zm76 0v2h1v1h1v-2h-1v-1zm5 0v2h1v-2zm-64 1v1h1v1h1v1h4v1h1v-3h-1v1h-4v-2zm-5 3h1v1h-1zm73 0h1v1h-1zm-75 1h2v1h2v2h-2v-1h-2zm63 0v1h1v1h1v-2zm4 0v1h1v-1zm-61 1h2v2h-1v2h-1v1h-1v-3h1zm12 0v2h1v-1h1v-1zm30 1v1h1v-1zm-27 1v2h1v-2zm34 0v1h1v1h1v-1h-1v-1zm7 0v2h1v-2zm-50 1h2v2h-2zm39 0v1h1v-1zm17 1h2v2h-3v-1h1zm9 0h2v2h-2zm-81 1h2v2h-2zm62 0v1h1v-1zm-46 1h3v2h-3zm39 0v1h1v-1zm28 0h2v2h-2zm-50 1v1h1v-1zm39 0h2v4h-2zm19 0h2v2h-2zm-3 1h2v2h-2zm-68 1h2v2h-1v1h-1v1h-2v-2h1v-1h1zm56 0h2v2h-2zm3 1h2v1h1v2h-2v-1h-1zm20 0h2v2h-2zm-47 1h2v1h1v2h-3zm-26 1h1v2h-1zm2 0h2v2h-1v2h-1zm3 1h2v2h-2zm34 0h2v2h-2zm-28 1h4v2h-3v2h-2v-2h1zm12 0h2v2h1v1h-1v1h-1v-2h-1zm7 0h2v2h-2zm-9 1h1v1h-1zm6 0h2v2h-1v2h-2v-2h1zm23 0h2v2h-2zm-72 2h2v2h-2zm53 0h4v2h-4zm-22 2h2v2h-2zm3 0h2v2h-2zm11 0h2v2h-2zm16 0h2v2h-2zm-46 1h1v2h-1zm35 0h2v2h-2zm6 0h1v1h-1zm-18 2h3v2h-2v-1h-1zm44 0h2v2h-2zm-35 5h2v2h-2z"/>
<path fill-opacity="0.475" d="M67 7h1v1h-1zm-12 3h2v2h-2zm22 3h2v2h-2zm-16 3h2v2h-2zm28 0h2v1h-2zm-47 1h2v3h-2zm9 0h1v1h1v1h-3v1h-1v-2h2zm5 0h1v1h-1zm2 0h2v2h-1v-1h-1zm14 1h1v1h-1zm16 0h1v2h-1zm-35 1h1v1h-1zm9 0h1v1h1v1h1v1h-1v1h-1v1h2v2h-1v2h1v1h1v-1h-1v-2h4v-3h1v1h1v2h-1v1h2v-1h2v-1h3v3h1v1h1v-2h3v-1h1v1h1v3h1v1h4v1h1v-1h4v2h-3v1h-2v-1h-1v1h-1v1h4v-1h2v2h1v1h1v-1h-1v-3h2v1h1v1h2v1h-1v2h1v2h1v-2h2v3h-1v1h6v-1h3v3h-2v-1h-2v1h-1v1h-1v1h1v1h1v-2h2v2h1v1h1v1h2v1h-1v1h-1v1h1v2h-1v1h5v1h1v1h-3v2h2v1h2v-1h1v2h-1v2h-1v2h1v-2h1v-1h1v1h2v-1h1v2h-1v1h-1v2h2v2h-3v1h-1v1h1v-1h3v1h1v1h-3v1h-1v2h-1v2h1v3h1v1h2v1h1v-1h1v1h1v1h-1v2h-1v1h1v1h1v-1h2v2h-4v2h2v1h-1v2h1v1h-2v-1h-1v1h-1v-1h-4v2h1v-1h2v2h1v-1h2v1h-1v1h3v2h-3v1h-1v1h-1v2h-1v2h-1v2h-1v1h-1v2h1v2h-2v2h-1v2h-1v1h-3v-2h1v-1h-1v-1h-1v-1h-1v2h1v3h-1v-1h-1v2h-2v-1h-2v-1h-3v2h2v-1h1v3h-1v1h1v-1h1v-1h4v-1h1v3h-3v-1h-1v2h-1v2h-1v1h-1v-1h-1v-1h-1v1h-1v1h-2v-2h-1v1h-2v-3h-2v1h1v2h-1v-1h-3v-3h-1v-1h-1v3h-1v1h2v2h-2v1h-2v1h-2v-2h-1v2h-2v-2h1v-2h1v-1h-1v1h-1v-1h-1v1h-3v-2h-3v-1h-1v-2h-1v2h-1v1h-2v-2h1v-2h1v-1h-3v-1h-1v-1h-2v-1h-2v1h2v2h-1v1h-1v-2h-3v-1h-2v1h-2v-2h1v-1h2v1h2v-1h1v-1h-1v-2h-1v2h-3v-2h-2v-1h-3v1h-1v2h-2v-1h-1v-2h2v-1h2v-1h-2v-1h-1v-1h-1v-1h2v-1h1v-1h-1v1h-2v-2h1v-1h-1v-2h-2v1h1v2h-1v2h-1v1h-2v-4h1v1h1v-1h-1v-1h-2v-2h1v-1h-2v-1h1v-3h-1v2h-3v-2h1v-1h-3v-2h2v1h1v-1h1v-1h-2v-3h-1v-1h1v-1h-1v-1h1v-1h-2v-2h1v-1h-1v1h-1v3h1v1h1v1h-3v-3h-1v2h-2v-2h1v-1h-1v-3h2v2h1v-2h1v-1h1v-1h-1v1h-1v-2h-1v1h-1v1h-2v-2h1v-1h1v-1h3v-1h-2v-1h-1v-1h-1v-1h2v-1h1v-2h1v-2h-1v1h-1v2h-1v-2h-2v-2h2v-1h1v-1h-1v-3h2v1h1v-1h-1v-3h3v-1h-1v-1h-1v-1h-1v-1h1v-1h1v-1h1v1h1v-2h2v-6h-2v1h1v2h-3v2h-1v1h-2v-6h1v-1h1v-2h1v-1h2v2h-1v1h1v-1h2v-3h-1v-1h1v-3h1v-1h-1v-1h1v-1h1v3h2v2h1v-1h1v-4h2v4h2v-1h-1v-4h-1v-1h-2v-2h2v-1h-2v-2h2v1h2v2h-1v2h2v2h1v1h-1v1h1v-1h2v-1h-1v-4h3v2h1v-2h2v-1h1v-1h5v-1h-1zm12 0h2v1h-1v1h-1zm-22 1h1v1h-1zm30 1h2v1h-2zm-28 1h1v1h-1zm12 0h2v1h-1v1h-1zm12 0h3v2h-3zm-19 1v4h-1v-1h-1v1h-2v2h-1v1h3v1h1v-1h-1v-1h1v-1h3v2h1v-3h-1v-1h-1v-3zm27 0h2v2h-2zm6 0h2v1h-2zm3 1h1v2h-1zm-60 2h1v2h-1zm53 0h2v2h-2zm-3 2h2v2h-2zm12 0h1v1h-1zm-24 1v1h1v-1zm9 0v1h-1v2h1v1h2v-1h-1v-3zm18 0h2v2h-2zm-37 1v1h1v-1zm-35 1h2v2h-2zm4 0h2v2h-2zm27 0v1h1v-1zm37 0h1v1h-1zm8 0h2v2h-2zm-18 1v1h1v-1zm-51 1h1v2h-1zm5 0v4h1v1h2v-1h-2v-4zm10 0v1h1v-1zm29 0v1h2v-1zm-34 1v2h1v-1h1v-1zm58 0h2v2h-2zm-61 1v1h1v-1zm58 0h2v2h-2zm13 2h2v2h-2zm-9 1h2v1h1v1h-1v1h-1v-1h-1zm-85 1h2v2h-2zm77 0v2h1v2h1v-2h-1v-2zm-68 2h2v1h-2zm5 0v1h2v-1zm6 0v1h1v1h2v1h1v-1h-1v-1h-1v-1zm-29 1h2v2h-2zm91 2v1h1v-1zm-76 1h1v1h-1zm2 0h2v1h-2zm-3 1h1v1h-1zm83 3v1h2v-1zm-80 1h2v2h-2zm3 1h1v2h-1v1h-1v-2h1zm75 0v1h1v-1zm8 0h1v1h1v1h-3v-1h1zm2 2h1v1h-1zm6 0h2v2h-2zm-96 2h2v2h-2zm10 0v3h1v-3zm83 0h2v4h-2v-1h-1v-1h1zm-95 3h2v2h-2zm9 1v1h2v-1zm88 0h2v1h-2zm-84 2v1h1v-1zm98 1h1v1h-1zm-23 1v1h1v-1zm-77 1v1h1v-1zm-10 1h2v2h-2zm4 0h1v1h-1zm86 1v2h1v-2zm-86 2h1v2h1v1h-2v-1h-1v-1h1zm86 1v1h1v-1zm10 0h1v2h-1zm-3 4h1v1h1v3h1v1h-2v2h-2v-6h1zm4 0h1v2h-2v-1h1zm-87 2v2h1v-2zm0 3v1h-1v1h1v-1h1v-1zm86 0h2v2h-2zm5 0h2v1h-2zm-101 1h1v1h-1zm89 2v1h1v-1zm-80 3v1h1v-1zm93 0h2v2h-2zm-91 4v1h1v1h1v-1h-1v-1zm91 0h2v1h1v2h-2v-1h-1zm-98 1h1v1h-1zm88 1v1h1v1h1v-1h-1v-1zm-78 1v1h1v-1zm-11 1h2v2h-2zm13 1v2h1v-1h1v-1zm-10 1h1v2h-1zm90 1h1v1h-1zm2 1h2v2h-2zm-89 2h1v1h-1zm-1 1h1v1h-1zm81 1v1h-1v5h1v-5h1v-1zm5 0h2v2h-2zm-1 2h1v1h-1zm-1 1h1v1h-1zm-92 1h2v2h-2zm13 0h3v1h-1v1h-2zm17 0v1h1v-1zm-22 1h2v2h-2zm16 0v1h1v-1zm8 0v1h1v-1zm-16 1h2v1h-1v2h-4v-2h3zm68 0v1h2v-1zm14 1h1v2h-2v-1h1zm-20 1v1h1v-1zm5 0v2h1v1h1v-1h1v-1h-2v-1zm7 0h1v1h1v2h-2zm-22 2v1h1v-1zm-46 1h1v1h-1zm2 0h2v2h-2zm60 2v1h1v-1zm4 0h3v1h-2v1h1v3h-1v-1h-1zm-70 1h2v2h-1v-1h-1zm26 0v1h1v-1zm21 1v1h1v-1zm-29 1h2v1h-2zm-1 1h1v2h-1v2h-2v-1h1v-2h1zm9 0v1h2v-1zm24 0v2h1v-2zm-16 1v1h1v-1zm33 0h2v2h-2zm-30 1v1h1v-1zm-25 1h1v2h-1zm38 0v1h2v-1zm28 0h2v2h-2zm-58 1h1v1h-1zm18 0v1h-1v1h1v-1h1v-1zm25 0h1v2h-1zm5 0h1v1h-1zm18 0h2v2h-2zm-59 1h1v2h-2v-1h1zm-12 1h2v2h-1v1h-2v-2h1zm4 0h2v1h-2zm42 0h2v2h-2zm6 1h2v1h-2zm27 0h2v2h-2zm-19 1h1v1h-1zm-51 1h1v1h-1zm18 0h1v1h-1zm5 0h3v1h-1v1h-1v-1h-1zm-8 1h2v2h-2v1h-1v-2h1zm16 0h1v1h-1zm5 0h1v1h-1zm-34 1h2v1h-2zm18 0h2v3h-1v-1h-1zm7 0h2v2h-2zm-3 1h2v2h-2zm23 0h2v2h-2zm-18 2h3v2h-2v-1h-1zm-4 4h2v1h-2zm-11 1h2v2h-2zm8 5h2v2h-2z"/>
<path fill-opacity="0.714" d="M55 10h2v2h-2zm-13 8h2v1h-2zm3 3h1v1h2v2h-1v1h-1v1h-2v-2h2v-1h-1zm16 1h2v2h2v2h-1v2h-1v-1h-1v-1h-2v-1h1zm18 0h1v1h-1zm-22 1h2v2h-1v1h-3v-1h1v-1h1zm-5 1h1v2h2v2h-1v1h-2zm17 0h2v2h-2zm6 1h1v2h-1v1h-2v2h2v-2h2v1h2v-1h2v-1h2v2h-2v1h-1v1h-1v4h1v-1h1v-1h2v3h1v-3h3v2h1v1h2v-1h1v-1h2v1h-1v3h2v-1h2v-1h-1v-1h-1v-2h2v2h1v2h1v1h-2v3h1v2h-1v2h1v-2h1v-1h1v-1h1v4h2v1h1v1h1v-1h1v2h1v-2h2v2h-1v1h-1v1h-1v2h1v-1h3v1h1v3h1v1h1v2h1v1h2v2h1v4h1v-1h2v-1h1v4h2v1h-1v1h-1v-1h-1v-1h-1v-1h-1v1h-2v-1h-1v3h-1v1h2v-2h4v1h-1v4h1v2h-1v3h-1v1h1v1h-1v2h1v-1h2v1h-1v2h-1v1h-1v3h-1v1h1v1h2v1h1v1h1v1h-2v-1h-2v3h-1v1h1v2h2v-2h-1v-2h2v2h1v1h1v2h-1v-1h-1v1h1v1h-5v-2h-2v2h-1v1h-1v1h1v1h1v-3h2v4h-1v1h-1v1h-3v3h-1v1h1v1h3v-2h-2v-2h3v-1h2v2h-1v3h-1v3h-1v2h-2v1h-2v-2h2v-1h1v-2h-2v2h-1v-1h-1v-1h-1v1h-2v-1h-2v1h2v1h1v2h-1v1h1v1h-2v-1h-1v-1h-4v2h3v1h-1v1h-3v1h-1v-5h-2v5h1v2h-2v-1h-1v-1h-1v-1h-1v1h-1v1h-2v-2h-1v-3h-2v1h1v1h-1v2h-1v-3h-1v1h-2v2h-1v1h-4v1h-1v-1h-1v-2h-1v1h-1v-2h1v-2h-3v1h-1v2h-2v-3h1v-1h1v-1h-2v1h-2v-2h-1v-1h-1v1h-1v-1h-2v1h-1v-3h-1v-2h-1v1h-1v1h-1v-1h-1v-2h-3v-1h2v-3h-1v1h-3v1h-2v-1h-1v-1h2v-3h1v-1h-2v1h-1v-3h-1v-1h-2v-1h-1v2h-2v-2h1v-2h-2v-1h1v-1h1v1h1v-3h1v-1h-1v-1h-1v-2h-2v-1h-2v-1h-2v-2h2v-2h1v-5h-2v2h1v1h-1v1h-1v1h-1v-1h-1v-1h2v-2h-2v1h-1v-2h1v-1h3v-2h-1v1h-4v-1h2v-2h-1v-1h1v-2h-1v-2h2v2h1v-2h1v-1h-4v-1h1v-1h1v1h3v-2h-2v-2h1v-1h-1v-1h1v-3h-1v1h-1v-5h2v1h1v-1h-1v-2h-1v-1h1v-1h1v-2h1v-1h1v2h1v-2h1v1h1v-2h-1v-1h-3v-1h-1v-1h1v-3h1v2h1v1h3v-1h-1v-3h-1v-2h2v-1h2v2h-2v1h1v2h1v-1h1v1h1v-1h-1v-3h1v-1h2v-2h5v1h3v1h2v-2h2v1h1v1h2v-3h2v-3h2v1h1v1h2v-1h2v-1h1zm-28 1h1v1h1v2h-2zm11 3h2v1h-2zm12 0v2h1v-2zm31 0h1v1h-1zm-53 1h1v1h-1zm35 0h2v2h-2zm-51 1h2v2h-2zm8 0h1v1h-1zm13 0v1h-1v1h1v-1h1v-1zm21 1v1h1v-1zm15 0h2v2h-2zm15 0h1v1h-1zm-66 1h1v3h-1v-1h-1v-1h1zm12 0v1h1v-1zm54 2h1v1h-1zm-45 1v1h2v-1zm-25 1h1v3h-2v-2h1zm55 0v1h1v-1zm-3 2v1h1v-1zm12 0h1v2h-1zm2 0h2v1h-1v1h-1zm5 0h1v1h-1zm-74 1h2v2h1v3h-2v-2h-1zm16 0v2h2v-2zm61 1h1v1h1v1h-2zm-5 1h2v2h-1v1h-1zm-55 1v1h1v-1zm-14 5h1v1h-1zm68 0v1h1v-1zm-69 1h1v1h-1zm77 0h1v1h-1zm3 3h1v1h-1zm-9 2v1h1v-1zm-71 1h2v4h-2zm79 0h1v1h-1zm-82 2h2v2h-1v-1h-1zm88 0h1v1h-1zm-79 1v1h1v-1zm80 0h1v1h-1zm-96 1h1v1h-1zm8 1h2v2h-2v1h-1v-1h-2v-1h3zm80 2v2h1v-2zm3 0v1h1v-1zm-90 3h2v1h-2zm17 1v1h1v-1zm66 0v1h1v-1zm-76 1h2v2h-2zm-3 2h1v1h-1zm1 4h1v1h-1zm86 0v1h1v-1zm6 1h2v4h-3v-2h1zm-92 2h2v1h-2zm3 1h1v3h-2v-2h1zm-3 3h2v2h-2zm12 0v1h1v-1zm-9 1h2v2h-2zm82 0v1h1v-1zm6 1h2v1h2v1h-1v2h-1v1h-4v-1h1v-1h3v-1h-1v-1h-1zm-5 1v1h1v-1zm7 4h1v3h1v2h-1v-1h-2v-2h1zm4 0h1v1h-1zm-92 2h2v1h-2zm4 0h1v1h-1zm81 0h1v1h-1zm12 0h2v1h-2zm-90 1h1v1h-1zm-4 1h2v1h-1v1h-1zm77 0v1h1v-1zm-70 2v2h2v-2zm-1 5h2v2h-1v-1h-1zm9 1v1h1v-1zm-11 1h2v1h1v1h-2v-1h-1zm76 1h2v2h-2zm-75 3h1v1h-1zm16 0v1h1v1h1v1h1v-2h-2v-1zm-22 1h2v2h-2zm19 0v1h1v-1zm52 1v2h-1v1h-1v1h2v-2h1v-2zm-65 2h1v1h-1zm5 1h1v1h-1zm71 0h2v2h-2zm-57 1v1h1v-1zm3 0v1h1v-1zm32 0v2h1v-2zm4 0v1h1v-1zm-47 1h1v1h-1zm2 1h2v2h-1v1h-1zm17 1v1h-1v1h3v-1h-1v-1zm9 0v1h1v1h1v-1h-1v-1zm-20 1h1v1h1v1h-2zm42 0v1h1v-1zm-26 1v1h1v-1zm11 0v1h1v-1zm5 0v2h-3v1h4v-3zm15 0h1v1h-1zm-26 1v1h1v-1zm35 0h1v1h-1zm-41 1v1h1v3h2v-1h1v-1h1v-2h-1v1h-3v-1zm37 1h1v2h-1zm-46 2h1v1h-1zm15 1h1v2h1v1h-3v-2h1zm19 0h2v3h-2zm31 0h2v1h-2zm-34 2h1v1h-1zm-37 1h2v1h-2zm36 0h1v1h-1zm-37 1h1v1h-1zm24 0h2v1h-2zm10 1h1v2h-1zm-9 2h1v1h-1zm9 1h1v2h-1z"/>
</g>
<path fill="#fff" fill-rule="evenodd" d="M629.1 1289.4L643.1 1297.4 659 1300.2 674.9 1298.3 690.9 1289.4 690.9 1289.4 705 1273.5 706.8 1271.3 714.7 1257.5 717.9 1241.6 718.5 1225.6 712.1 1209.7 707.9 1193.7 706.8 1192 694.3 1177.8 690.9 1174.2 679.8 1161.8 674.9 1157.4 659 1147.1 653.8 1145.9 643.1 1142.7 627.2 1139.6 611.3 1141.8 602.5 1145.9 595.4 1149.5 579.4 1160.8 578.5 1161.8 572.4 1177.8 570.2 1193.7 568.6 1209.7 571.1 1225.6 576.3 1241.6 579.4 1246.2 587 1257.5 595.3 1267.5 601.3 1273.5 611.3 1282.1 627.2 1288.8Z"/>
<g shape-rendering="crispEdges">
<path fill="#fafbfe" fill-opacity="0.025" d="M539.6 1233.6H555.5V1249.5H539.6ZM539.6 1217.6H555.5V1233.6H539.6ZM539.6 1185.8H555.5V1201.7H539.6ZM539.6 1169.8H555.5V1185.8H539.6ZM539.6 1153.9H555.5V1169.8H539.6ZM539.6 1137.9H555.5V1153.9H539.6ZM555.5 1265.5H571.5V1281.4H555.5ZM555.5 1249.5H571.5V1265.5H555.5ZM555.5 1137.9H571.5V1153.9H555.5ZM555.5 1122H571.5V1137.9H555.5ZM571.5 1281.4H587.4V1297.4H571.5ZM571.5 1106H587.4V1122H571.5ZM587.4 1297.4H603.3V1313.3H587.4ZM587.4 1106H603.3V1122H587.4ZM603.3 1297.4H619.2V1313.3H603.3ZM603.3 1106H619.2V1122H603.3ZM603.3 1090.1H619.2V1106H603.3ZM619.2 1313.3H635.1V1329.3H619.2ZM619.2 1106H635.1V1122H619.2ZM635.1 1106H651.1V1122H635.1ZM651.1 1329.3H667V1345.2H651.1ZM651.1 1313.3H667V1329.3H651.1ZM651.1 1106H667V1122H651.1ZM667 1313.3H682.9V1329.3H667ZM667 1122H682.9V1137.9H667ZM682.9 1122H698.8V1137.9H682.9ZM698.8 1313.3H714.8V1329.3H698.8ZM698.8 1153.9H714.8V1169.8H698.8ZM698.8 1137.9H714.8V1153.9H698.8ZM714.8 1297.4H730.7V1313.3H714.8ZM714.8 1169.8H730.7V1185.8H714.8ZM730.7 1281.4H746.6V1297.4H730.7ZM730.7 1265.5H746.6V1281.4H730.7ZM730.7 1249.5H746.6V1265.5H730.7ZM730.7 1217.6H746.6V1233.6H730.7ZM730.7 1201.7H746.6V1217.6H730.7ZM730.7 1185.8H746.6V1201.7H730.7Z"/>
<path fill="#f6f8fe" fill-opacity="0.050" d="M539.6 1201.7H555.5V1217.6H539.6ZM555.5 1233.6H571.5V1249.5H555.5ZM571.5 1265.5H587.4V1281.4H571.5ZM571.5 1122H587.4V1137.9H571.5ZM587.4 1281.4H603.3V1297.4H587.4ZM587.4 1122H603.3V1137.9H587.4ZM635.1 1313.3H651.1V1329.3H635.1ZM635.1 1122H651.1V1137.9H635.1ZM651.1 1122H667V1137.9H651.1ZM682.9 1313.3H698.8V1329.3H682.9ZM682.9 1137.9H698.8V1153.9H682.9ZM698.8 1297.4H714.8V1313.3H698.8ZM714.8 1281.4H730.7V1297.4H714.8ZM714.8 1185.8H730.7V1201.7H714.8ZM730.7 1233.6H746.6V1249.5H730.7Z"/>
<path fill="#f1f4fd" fill-opacity="0.075" d="M555.5 1217.6H571.5V1233.6H555.5ZM555.5 1169.8H571.5V1185.8H555.5ZM555.5 1153.9H571.5V1169.8H555.5ZM571.5 1137.9H587.4V1153.9H571.5ZM603.3 1122H619.2V1137.9H603.3ZM619.2 1297.4H635.1V1313.3H619.2ZM619.2 1122H635.1V1137.9H619.2ZM667 1137.9H682.9V1153.9H667ZM682.9 1297.4H698.8V1313.3H682.9ZM714.8 1265.5H730.7V1281.4H714.8ZM714.8 1249.5H730.7V1265.5H714.8ZM714.8 1201.7H730.7V1217.6H714.8Z"/>
<path fill="#ecf0fc" fill-opacity="0.100" d="M555.5 1201.7H571.5V1217.6H555.5ZM555.5 1185.8H571.5V1201.7H555.5ZM571.5 1249.5H587.4V1265.5H571.5ZM587.4 1265.5H603.3V1281.4H587.4ZM603.3 1281.4H619.2V1297.4H603.3ZM635.1 1297.4H651.1V1313.3H635.1ZM651.1 1297.4H667V1313.3H651.1ZM667 1297.4H682.9V1313.3H667ZM682.9 1153.9H698.8V1169.8H682.9ZM698.8 1281.4H714.8V1297.4H698.8ZM698.8 1169.8H714.8V1185.8H698.8ZM714.8 1233.6H730.7V1249.5H714.8ZM714.8 1217.6H730.7V1233.6H714.8Z"/>
<path fill="#e7ecfb" fill-opacity="0.125" d="M587.4 1137.9H603.3V1153.9H587.4ZM619.2 1281.4H635.1V1297.4H619.2ZM651.1 1137.9H667V1153.9H651.1ZM698.8 1265.5H714.8V1281.4H698.8Z"/>
<path fill="#e2e8fa" fill-opacity="0.150" d="M571.5 1233.6H587.4V1249.5H571.5ZM571.5 1153.9H587.4V1169.8H571.5ZM635.1 1137.9H651.1V1153.9H635.1ZM667 1153.9H682.9V1169.8H667ZM682.9 1281.4H698.8V1297.4H682.9ZM682.9 1169.8H698.8V1185.8H682.9ZM698.8 1185.8H714.8V1201.7H698.8Z"/>
<path fill="#dee5fa" fill-opacity="0.175" d="M571.5 1169.8H587.4V1185.8H571.5ZM603.3 1137.9H619.2V1153.9H603.3ZM619.2 1137.9H635.1V1153.9H619.2ZM698.8 1201.7H714.8V1217.6H698.8Z"/>
<path fill="#d9e1f9" fill-opacity="0.200" d="M571.5 1217.6H587.4V1233.6H571.5ZM571.5 1185.8H587.4V1201.7H571.5ZM587.4 1249.5H603.3V1265.5H587.4ZM603.3 1265.5H619.2V1281.4H603.3ZM635.1 1281.4H651.1V1297.4H635.1ZM667 1281.4H682.9V1297.4H667ZM682.9 1265.5H698.8V1281.4H682.9ZM698.8 1249.5H714.8V1265.5H698.8Z"/>
<path fill="#d4ddf8" fill-opacity="0.225" d="M571.5 1201.7H587.4V1217.6H571.5ZM587.4 1153.9H603.3V1169.8H587.4ZM651.1 1281.4H667V1297.4H651.1ZM698.8 1233.6H714.8V1249.5H698.8ZM698.8 1217.6H714.8V1233.6H698.8Z"/>
<path fill="#d0daf8" fill-opacity="0.250" d="M651.1 1153.9H667V1169.8H651.1Z"/>
<path fill="#cbd6f7" fill-opacity="0.275" d="M667 1169.8H682.9V1185.8H667ZM682.9 1185.8H698.8V1201.7H682.9Z"/>
<path fill="#c6d2f6" fill-opacity="0.300" d="M603.3 1153.9H619.2V1169.8H603.3ZM619.2 1265.5H635.1V1281.4H619.2Z"/>
<path fill="#c1cef5" fill-opacity="0.325" d="M587.4 1233.6H603.3V1249.5H587.4ZM587.4 1169.8H603.3V1185.8H587.4ZM603.3 1249.5H619.2V1265.5H603.3ZM619.2 1153.9H635.1V1169.8H619.2ZM635.1 1153.9H651.1V1169.8H635.1ZM667 1265.5H682.9V1281.4H667Z"/>
<path fill="#bccaf4" fill-opacity="0.350" d="M635.1 1265.5H651.1V1281.4H635.1ZM682.9 1249.5H698.8V1265.5H682.9Z"/>
<path fill="#b8c7f4" fill-opacity="0.375" d="M587.4 1185.8H603.3V1201.7H587.4ZM682.9 1201.7H698.8V1217.6H682.9Z"/>
<path fill="#b3c3f3" fill-opacity="0.400" d="M587.4 1217.6H603.3V1233.6H587.4ZM682.9 1217.6H698.8V1233.6H682.9Z"/>
<path fill="#aebff2" fill-opacity="0.425" d="M587.4 1201.7H603.3V1217.6H587.4ZM603.3 1169.8H619.2V1185.8H603.3ZM651.1 1265.5H667V1281.4H651.1ZM667 1185.8H682.9V1201.7H667ZM682.9 1233.6H698.8V1249.5H682.9Z"/>
<path fill="#aabcf2" fill-opacity="0.450" d="M651.1 1169.8H667V1185.8H651.1Z"/>
<path fill="#a0b4f0" fill-opacity="0.500" d="M603.3 1233.6H619.2V1249.5H603.3Z"/>
<path fill="#9bb0ef" fill-opacity="0.525" d="M635.1 1169.8H651.1V1185.8H635.1ZM667 1249.5H682.9V1265.5H667Z"/>
<path fill="#96acee" fill-opacity="0.550" d="M619.2 1249.5H635.1V1265.5H619.2ZM619.2 1169.8H635.1V1185.8H619.2Z"/>
<path fill="#92a9ee" fill-opacity="0.575" d="M635.1 1249.5H651.1V1265.5H635.1Z"/>
<path fill="#8da5ed" fill-opacity="0.600" d="M603.3 1217.6H619.2V1233.6H603.3ZM651.1 1249.5H667V1265.5H651.1ZM667 1201.7H682.9V1217.6H667Z"/>
<path fill="#849eec" fill-opacity="0.650" d="M603.3 1201.7H619.2V1217.6H603.3ZM603.3 1185.8H619.2V1201.7H603.3ZM651.1 1185.8H667V1201.7H651.1ZM667 1233.6H682.9V1249.5H667Z"/>
<path fill="#7f9aeb" fill-opacity="0.675" d="M667 1217.6H682.9V1233.6H667Z"/>
<path fill="#7592e9" fill-opacity="0.725" d="M619.2 1233.6H635.1V1249.5H619.2Z"/>
<path fill="#708ee8" fill-opacity="0.750" d="M635.1 1185.8H651.1V1201.7H635.1Z"/>
<path fill="#6c8be8" fill-opacity="0.775" d="M619.2 1185.8H635.1V1201.7H619.2ZM651.1 1233.6H667V1249.5H651.1Z"/>
<path fill="#6787e7" fill-opacity="0.800" d="M651.1 1201.7H667V1217.6H651.1Z"/>
<path fill="#6283e6" fill-opacity="0.825" d="M619.2 1217.6H635.1V1233.6H619.2Z"/>
<path fill="#5e80e6" fill-opacity="0.850" d="M619.2 1201.7H635.1V1217.6H619.2ZM651.1 1217.6H667V1233.6H651.1Z"/>
<path fill="#597ce5" fill-opacity="0.875" d="M635.1 1233.6H651.1V1249.5H635.1Z"/>
<path fill="#5478e4" fill-opacity="0.900" d="M635.1 1201.7H651.1V1217.6H635.1Z"/>
<path fill="#4169e1" fill-opacity="1.000" d="M635.1 1217.6H651.1V1233.6H635.1Z"/>
</g>
<path class="c" d="M629.1 1289.4L643.1 1297.4 659 1300.2 674.9 1298.3 690.9 1289.4 690.9 1289.4 705 1273.5 706.8 1271.3 714.7 1257.5 717.9 1241.6 718.5 1225.6 712.1 1209.7 707.9 1193.7 706.8 1192 694.3 1177.8 690.9 1174.2 679.8 1161.8 674.9 1157.4 659 1147.1 653.8 1145.9 643.1 1142.7 627.2 1139.6 611.3 1141.8 602.5 1145.9 595.4 1149.5 579.4 1160.8 578.5 1161.8 572.4 1177.8 570.2 1193.7 568.6 1209.7 571.1 1225.6 576.3 1241.6 579.4 1246.2 587 1257.5 595.3 1267.5 601.3 1273.5 611.3 1282.1 627.2 1288.8ZM636.9 1273.5L643.1 1275.5 659 1281 674.9 1274.1 675.6 1273.5 690.9 1260.7 693.8 1257.5 697.8 1241.6 698 1225.6 694.5 1209.7 690.9 1202.2 685.2 1193.7 674.9 1183.7 669.6 1177.8 659 1167.8 643.1 1162.9 629.1 1161.8 627.2 1161.7 626.3 1161.8 611.3 1165.8 595.3 1177.8 595.3 1177.8 591.9 1193.7 587.8 1209.7 589.3 1225.6 595.3 1238.8 596.6 1241.6 611.3 1257.4 611.3 1257.5 627.2 1271.4ZM618.4 1241.6L627.2 1253 643.1 1255.8 659 1257.5 674.9 1248.3 678.6 1241.6 679.3 1225.6 674.9 1210.9 674.5 1209.7 662.7 1193.7 659 1189.8 643.1 1183.3 627.2 1181.2 611.3 1190.5 608.7 1193.7 608.1 1209.7 611.1 1225.6 611.3 1225.9ZM642.2 1241.6L643.1 1242 644.7 1241.6 659 1225.6 649.3 1209.7 643.1 1205.3 631.2 1209.7 629.9 1225.6Z"/>
<path class="tr" d="M643 1058.2V1377.1"/>
<path class="th" d="M475.9 1219.6H794.3"/>
<rect x="635.7" y="1212.1" width="14.7" height="15.3" fill="#4682b4"/>
</g>
<clipPath id="k5"><rect x="810.4" y="1058.2" width="318.4" height="318.9"/></clipPath>
<g clip-path="url(#k5)">
<g transform="translate(808.19 1055.99) scale(2.212)" fill="#4169e1" filter="url(#bl)">
<path fill-opacity="0.070" d="M51 5h2v2h-2zm25 0h2v2h-2zm-12 1h2v2h-2zm6 0h2v2h-2zm9 1h2v2h-2zm-53 1h2v2h-2zm29 2h2v2h-2zm11 0h2v3h-1v1h-2v-1h-1v-2h2zm17 0h2v2h-1v1h2v4h-2v1h2v4h2v-2h-1v-6h2v3h1v1h2v-1h-2v-4h2v3h2v3h-1v1h-3v1h2v1h1v1h2v-1h2v-1h2v2h-2v1h1v3h2v2h1v-3h-1v-3h2v3h2v-2h1v-1h3v1h2v2h-2v-1h-2v3h-3v1h1v1h2v-2h4v-1h2v2h-1v1h-3v1h1v1h3v1h1v1h1v2h-1v2h2v-1h1v-1h-1v-2h1v-1h2v2h-1v1h1v3h2v2h3v-2h2v-2h2v2h-1v2h-2v2h-3v1h-2v-1h-2v1h2v4h1v-2h2v2h-1v3h1v1h1v2h1v-1h2v2h1v-1h2v2h-2v1h-2v3h1v2h1v-1h2v3h-1v1h1v2h-2v-2h-1v-1h-2v-1h-2v2h4v2h-1v1h5v-2h2v2h-1v3h-2v1h3v2h-4v-2h-2v2h-1v4h1v-2h4v1h1v-2h3v2h-1v2h-5v1h1v2h-1v2h-2v-1h-1v3h2v4h-1v3h-1v4h-1v2h-2v1h1v2h-2v-2h-1v-3h-3v-1h-1v1h-1v2h-1v1h6v2h-1v1h2v1h1v1h1v-3h2v-5h2v6h-1v2h-1v1h-1v1h-2v-1h-1v1h-1v1h-1v3h-2v-1h-1v-1h-2v-1h-1v2h3v2h-1v1h-2v3h-2v1h-2v-2h2v-2h1v-3h-1v-1h-1v5h-1v1h-1v2h-2v1h-1v1h4v2h-1v2h-2v1h-2v-2h-3v1h-2v1h2v2h-2v-1h-1v1h-1v2h-2v-3h-1v1h-2v1h1v1h1v4h-2v1h-2v-2h2v-2h-4v1h-4v-4h-1v2h-2v1h-2v-1h-1v1h-2v-1h-1v1h-1v3h-2v-1h-4v-1h-2v-2h-1v3h-2v-1h-1v-1h-1v3h-2v-1h-2v-1h-1v1h-1v3h2v2h-2v-1h-2v-2h-2v-2h3v-1h-1v-2h3v-1h1v-1h2v2h-1v1h2v-4h-3v-1h-1v-1h-1v2h-2v-1h-1v-1h-1v-2h-1v4h-2v-3h-1v-3h-3v-1h-1v2h-1v1h-2v-2h1v-1h-1v-1h-3v-1h-2v-1h-3v-1h-1v-2h2v-1h-2v-1h-2v-2h1v-1h-1v-2h2v1h1v-1h2v2h1v-2h1v-1h-2v-2h2v-1h-2v1h-2v2h-5v-2h2v-3h2v1h1v-3h-1v1h-2v1h-2v-3h-3v-3h1v-1h-1v-2h-3v-3h-2v1h-2v-2h2v-1h1v-2h-3v-2h2v-1h-1v-1h-3v-2h4v1h1v-3h1v-1h2v-4h-1v1h-1v1h-3v-2h1v-1h2v-3h2v2h1v-3h1v-1h-1v1h-3v-1h-2v-2h2v-3h-1v1h-3v-1h-2v-2h2v1h2v-2h2v1h1v2h2v-1h2v-1h-2v-1h-3v-2h-1v-3h2v3h1v-1h1v-2h-1v-1h-2v-2h1v-1h3v-2h-2v1h-2v-2h2v-3h2v1h3v-3h2v6h-2v-1h-2v1h1v2h-1v2h-1v2h3v-2h-1v-2h2v-1h1v-1h4v-1h-3v-2h1v-1h-1v-2h1v-1h1v-1h-1v1h-2v-2h1v-4h2v-1h2v-1h2v2h-1v2h1v2h1v-4h2v4h-1v2h2v-3h1v-2h-1v-2h3v-1h2v2h1v-2h-1v-1h-3v-4h2v2h1v-2h2v-1h2v1h2v-2h1v-2h4v-1h-3v-2h6v-1h1v-1h2v1h1v-2h3v1h1v1h2v1h1v-2h2v1h2v1h1v-2h-3v-1h-1v-2h2v1h2v1h4v-1h1v-1h-1v-2h2v1h1zm5 1h2v2h-2zm-51 1h2v2h-2zm57 0h4v2h-4zm-46 1h2v1h2v4h-3v-2h1v-1h-2zm11 0h2v2h-2zm-15 1h2v2h-2zm-7 1h2v2h-2zm18 0h2v2h-2zm25 1v1h2v-1zm22 0h2v2h-2zm-6 1h2v1h2v1h2v1h2v2h-2v-1h-2v-1h-2v-1h-1v2h-3v-2h2zm14 0h2v2h-2zm-86 1h2v2h-2zm42 0v1h-1v1h2v-2zm-21 1h2v1h1v2h-4v-2h1zm26 0v1h-1v2h-1v1h1v-1h3v-1h-1v-2zm10 0v2h-1v1h2v-2h1v-1zm-45 1h2v2h-2zm5 0h2v2h1v2h-2v-2h-1v1h-2v-2h2zm8 0h2v2h-2zm10 0v2h1v-2zm46 0h2v2h-2zm9 0h2v2h-2zm-52 1v1h1v1h1v-2zm57 1h2v2h-2zm-64 1v1h1v-1zm-16 1h2v2h-1v2h1v3h-2v-1h-2v-2h1v-2h1zm54 1v1h1v-1zm21 0h2v2h-2zm-62 1v1h1v-1zm9 0v1h1v-1zm34 0v1h1v-1zm-65 2h2v2h-2zm95 0h2v2h-2zm-101 1h2v2h-2zm31 0v1h1v-1zm57 0h4v2h-1v1h-2v-1h-1zm8 0h2v2h-2zm-68 1v1h1v-1zm54 1v2h-1v1h1v1h1v-4zm-81 1h2v2h-2zm-3 1h2v2h-2zm26 0v1h-1v1h2v-1h1v-1zm72 1h2v2h-1v1h-2v-2h1zm-102 1h2v2h-2zm93 0v1h1v-1zm-85 2h2v2h-2zm9 0v2h2v-1h-1v-1zm-17 6h2v2h-2zm95 1v1h2v-1zm20 0h2v2h-2zm-98 1v3h1v1h1v-1h-1v-3zm81 0v1h1v-1zm10 1h2v2h-2zm-116 2h2v2h-2zm22 1v1h1v-1zm92 0h2v2h-2zm16 0h2v2h-2zm-10 1h2v2h-2zm-97 2v1h1v-1zm77 0v1h1v-1zm22 0h2v2h-2zm4 0h2v2h-2zm-6 3h2v2h-2zm-12 1v2h1v-2zm-107 1h2v2h-2zm110 0v1h1v1h1v-1h-1v-1zm12 1h2v2h-2zm-110 3v1h1v-1zm-7 1h2v2h-2zm114 0h2v2h-2zm-124 1h2v2h-2zm126 1h3v2h-3zm-117 1h2v2h-2zm-4 1h2v2h-2zm16 0v2h1v1h1v-3zm-21 2h2v2h-2zm132 0h2v2h-2v1h-2v-2h2zm-125 1h2v2h-2zm111 1v1h-1v1h2v-2zm8 0h2v2h-2zm-16 1v1h1v-1zm-89 3v1h1v-1zm93 4v1h1v-1zm-100 1v1h1v3h3v-1h-2v-2h1v-1zm113 0h2v2h-2zm-8 1v1h1v-1zm18 1h2v2h-2zm-128 2h2v2h-2zm116 1h2v2h-2zm-107 3v1h1v2h1v-2h-1v-1zm105 0h4v2h-3v2h-2v-2h1zm-113 2h2v2h-1v1h-2v-2h1zm106 1v1h1v2h-1v3h1v-3h1v-3zm-95 1v1h2v1h1v2h-1v1h1v-1h2v-1h-1v-1h-1v-1h-1v-1zm91 1v3h2v-2h1v-1zm-92 1v1h1v-1zm101 0h2v2h1v2h-2v-2h-1zm-14 1v1h1v-1zm-109 2h2v2h-2zm14 0h2v2h-2v1h-2v-2h2zm6 2h2v2h-2zm-20 1h2v2h-2zm130 0h2v2h-2zm-110 2h2v2h-2zm104 0h2v1h2v2h-2v-1h-1v2h-2v-2h1zm-109 1h2v2h-2zm88 1v1h1v-1zm-69 1v1h1v-1zm75 0v1h1v-1zm-97 1h3v2h-3zm5 0h2v2h-2zm3 0h2v2h-2zm85 0v1h2v-1zm-101 1h2v2h-2zm99 0v1h1v-1zm-75 1v1h-1v1h1v-1h1v-1zm84 0v1h1v-1zm12 0h4v2h-4zm-20 1v1h1v-1zm-85 1h2v1h2v2h1v2h-2v-2h-1v-1h-2zm13 0v1h-1v1h1v-1h1v-1zm85 0h2v3h-1v2h-2v2h-2v-1h-1v-2h1v-1h1v-1h2zm-106 1h2v2h-2zm24 1v1h1v1h2v-1h-2v-1zm-16 1h2v2h-2zm11 0v1h1v-1zm69 1v1h1v-1zm-66 1v1h2v-1zm77 0h2v1h1v2h-2v-1h-1zm-96 1h2v2h-2zm84 0v1h1v-1zm-49 2v1h1v-1zm39 0v1h1v-1zm-61 1h2v1h2v2h-2v-1h-2zm6 0h2v2h-2zm65 0v2h1v-2zm-47 1v1h1v1h1v-1h-1v-1zm40 0v1h1v-1zm15 0h2v1h1v4h-2v-3h-1zm12 0h2v2h-2zm-79 1h2v2h-1v2h-1v1h-2v-2h1v-1h1zm-8 2h4v2h-4zm-6 2h2v2h-2zm4 0h2v2h-2zm32 0v1h1v-1zm37 0h2v2h-2zm6 0h2v2h-2zm-34 1v1h1v-1zm3 1v1h1v-1zm28 0h2v2h-1v2h-2v-2h1zm-18 1v1h1v-1zm12 0h2v2h-2zm-61 1h2v2h-2zm6 0h2v2h-1v2h-2v1h-2v-2h2v-1h1zm6 0h2v2h-2zm60 0h2v2h1v2h-2v-2h-1zm-96 1h2v2h-2zm61 1h2v3h1v1h2v2h-2v1h-1v1h-2v-3h1v-2h-1zm5 0h3v2h-1v1h-2zm18 1h4v2h-4zm-52 1h3v2h-3zm41 0h2v2h-2v1h-3v-2h3zm-23 1h2v4h-2zm29 0h2v1h1v2h-1v2h-2v-2h1v-1h-1zm-50 1h2v2h-2zm18 0h2v2h-2zm11 0h2v2h-2zm15 1h2v2h1v2h-3zm14 0h2v2h-2zm3 1h2v2h-2zm-20 1h2v2h-2zm-14 1h2v3h-2zm-19 2h2v4h-2zm11 1h2v2h-2zm24 0h2v2h-2zm-7 1h2v2h-2zm-7 2h2v2h-2zm11 0h2v2h-2z"/>
<path fill-opacity="0.151" d="M51 5h2v2h-2zm25 0h2v2h-2zm-6 1h2v2h-2zm9 1h2v2h-2zm-53 1h2v2h-2zm29 2h2v2h-2zm11 0h2v3h-4v-2h2zm16 2h2v3h2v2h-2v1h2v4h2v-2h-1v-6h2v3h1v1h2v-1h-2v-2h2v1h2v3h-1v1h-3v1h2v1h1v1h2v-1h2v2h1v3h2v5h1v-5h1v-1h2v-2h1v-1h3v1h2v2h-2v-1h-2v3h-3v3h1v-1h2v-1h1v-1h2v2h-1v1h1v1h3v1h1v2h-2v1h1v3h1v-1h1v4h1v-1h1v-1h-1v-3h2v2h3v2h3v-2h2v2h-1v2h-3v1h-2v-1h-2v1h2v4h2v2h-1v1h2v1h1v2h3v1h1v-1h2v2h-2v1h-2v3h1v2h1v-1h2v3h-1v1h-2v-1h-1v-2h-1v-1h-2v4h4v2h-1v1h5v-2h2v2h-1v3h-2v1h3v2h-4v-2h-2v2h-1v4h1v-2h2v1h3v-2h3v2h-1v2h-5v2h-1v1h1v2h-2v-1h-1v3h2v4h-4v-1h-1v2h1v2h-1v4h1v-1h1v3h-2v1h-2v-2h1v-1h-3v-1h-3v3h-1v1h1v2h1v-1h1v-1h3v2h-1v1h2v1h1v1h1v-3h2v-3h2v4h-1v2h-1v1h-1v1h-2v-1h-2v1h-1v4h-2v-6h-1v4h-2v-1h-1v2h1v1h1v2h-2v2h-2v-2h1v-3h-1v-1h-2v-1h-1v2h2v4h-1v1h-1v2h-4v1h1v1h4v2h-1v2h-2v1h-2v-2h-4v1h-2v3h-1v1h-2v-1h1v-1h-2v-1h-1v2h-1v1h1v1h1v4h-2v-3h-4v1h-4v-4h-1v2h-2v1h-2v-2h-1v-1h-1v1h1v2h-2v-1h-1v1h-1v3h-2v-1h-4v-1h-2v-2h-1v-2h1v-2h-3v1h1v4h1v2h-2v-1h-1v-1h-1v3h-2v-1h-2v-1h-1v1h-1v3h2v2h-2v-1h-2v-2h-2v-2h3v-1h-1v-2h4v1h3v-5h-1v1h-2v-2h1v-1h-1v1h-2v2h-2v-1h-1v-1h-1v-2h-1v1h-3v-4h-1v1h-2v-1h-1v2h-1v1h-2v-2h1v-1h-1v-1h-2v-2h1v-1h-2v2h-2v-1h-3v-1h-1v-2h2v1h2v-1h-2v-1h-2v-1h-2v-2h1v-1h-1v-2h2v1h1v-1h2v2h1v-2h1v-1h-1v-2h1v-1h-2v1h-2v2h-5v-2h2v-3h2v1h1v-6h-1v-1h-1v-1h-1v-1h-2v1h2v1h1v2h-1v1h2v2h-2v1h-2v-6h-1v3h-2v-3h1v-2h1v-2h2v-1h-3v-1h-1v3h-2v-2h-1v-3h-1v-2h4v-1h-2v-2h1v-1h2v-1h-1v-1h-1v2h-3v1h1v2h-2v1h-2v-2h2v-1h-1v-1h-3v-2h4v1h1v-2h1v-1h1v-1h1v-4h-1v1h-1v1h-3v-2h1v-1h2v-1h3v-3h1v-1h-1v1h-3v-1h-2v-2h2v-3h-1v1h-3v-1h-2v-2h2v1h2v-2h2v1h1v2h4v-2h-2v-1h-2v-2h1v-1h1v-2h-1v-1h-2v-2h1v-1h2v2h1v2h3v-2h-1v-2h2v-1h1v-1h5v4h2v-1h-1v-3h-1v-1h-4v-2h1v-4h3v1h2v-1h-1v-1h-4v1h-2v-2h1v-1h2v-1h-2v-2h4v-2h2v2h-1v2h1v2h2v2h2v-2h1v-3h-1v-2h4v1h2v-1h1v-1h-2v-1h-1v-2h1v-2h2v-1h2v2h2v1h1v-1h1v-1h-2v-2h3v1h1v-1h-1v-2h2v-1h-3v-2h4v2h1v2h1v-2h-1v-2h2v-2h2v2h1v-3h2v1h2v1h2v1h1v2h-2v3h1v-1h3v-1h-1v-2h1v-1h-2v-2h2v1h2v1h1v-2h-3v-1h-1v-2h2v1h2v1h2v1h1v1h3v-1h-2v-2h2zm14 0h2v2h-2zm-48 1h2v1h2v4h-2v-3h-2zm11 0h2v2h-2zm-15 1h2v2h-2zm-7 1h2v2h-2zm18 0h2v2h-2zm47 1h2v2h-2zm-6 1h2v2h-2zm14 0h2v2h-2zm-86 1h2v2h-2zm42 0v1h-1v1h2v-2zm-21 1h2v2h-1v1h-2v-2h1zm36 0v2h-3v1h1v1h1v-1h2v-1h1v-2zm14 0h1v2h-1zm5 0h2v2h-2zm-64 1h2v2h-2zm5 0h2v2h1v2h-2v-2h-1v1h-2v-2h2zm8 0h2v2h-2zm56 0h2v2h-2zm9 0h2v2h-2zm-52 1v1h1v1h1v-2zm13 0v1h1v-1zm44 1h2v2h-2zm-59 1v1h1v-1zm-21 1h2v2h-2zm27 0v1h1v-1zm11 0v1h1v-1zm9 0v1h1v-1zm14 0h2v2h-2zm-57 1h2v2h-2zm50 0v1h1v-1zm21 0h2v2h-2zm-53 1v1h2v-1zm34 0v1h1v-1zm15 1h2v2h-2zm-73 1h2v1h2v2h-2v-1h-2zm17 0v2h2v-1h-1v-1zm71 0h2v2h-2zm-101 1h2v2h-2zm88 0h4v2h-4zm8 0h2v2h-2zm-68 1v1h1v-1zm54 1v2h-1v1h1v1h1v-1h1v-1h-1v-2zm-81 1h2v2h-2zm13 1h2v2h-2zm6 0v1h1v-1zm4 0v1h-1v1h2v-1h1v-1zm68 1h1v1h-1zm4 0h2v2h-1v1h-2v-2h1zm-102 1h2v2h-2zm91 1v2h1v-2zm-83 1h2v2h-2zm99 0h2v2h-2zm-97 2h2v6h-2v-1h-2v1h-3v1h-2v-2h2v-3h2v1h3zm-10 4h2v2h-2zm95 1v1h2v-1zm20 0h2v2h-2zm-92 1v1h-1v1h1v-1h1v-1zm75 0v1h1v-1zm10 1h2v2h-2zm-116 2h2v2h-2zm21 1v1h2v-1zm93 0h2v2h-2zm-104 2h2v3h-2zm9 0v1h1v-1zm4 1v1h1v-1zm77 0v1h1v-1zm22 0h2v2h-2zm4 0h2v2h-2zm-21 3v1h1v-1zm15 0h2v2h-2zm-12 1v2h1v-2zm-107 1h2v2h-2zm110 0v1h1v1h1v-1h-1v-1zm-98 4v1h1v-1zm-7 1h2v2h-2zm114 0h2v2h-2zm2 2h3v2h-3zm-117 1h2v2h-2zm-4 1h2v2h-2zm16 0v2h1v1h1v-3zm-21 2h2v2h-2zm7 1h2v2h-2zm123 0h2v2h-2zm-13 1v3h-1v1h1v-1h1v-1h1v-2zm-7 1v1h1v-1zm-89 3v1h1v-1zm93 4v2h1v-2zm13 1h2v2h-2zm-9 1v1h2v-1zm19 1h2v2h-2zm-23 1v1h1v-1zm-105 1h2v2h-2zm2 3h2v2h-2zm112 1h4v2h-3v2h-2v-2h1zm-5 1v1h1v-1zm-109 2h2v2h-2zm109 1h2v2h-1v2h-2v-2h1zm-6 1v3h2v-2h1v-1zm-5 2v1h1v-1zm15 1h2v2h-2zm-124 1h2v2h-2zm14 0h2v2h-2zm6 2h2v2h-2zm-20 1h2v2h-2zm130 0h2v2h-2zm-6 2h2v2h-1v2h-2v-2h1zm-109 1h2v2h-2zm88 1v1h1v-1zm-69 1v3h1v-3zm75 0v1h2v-1zm-97 1h3v2h-3zm5 0h2v2h-2zm3 0h2v2h-2zm85 0v1h2v-1zm-101 1h2v2h-2zm99 0v1h1v-1zm-75 1v1h-1v1h1v-1h1v-1zm96 0h4v2h-4zm-89 1v1h1v-1zm-16 1h2v2h-2zm13 0v1h-1v1h1v-1h1v-1zm85 0h2v3h-1v2h-2v2h-2v-1h-1v-2h1v-1h3zm-106 1h2v2h-2zm23 1v1h2v1h2v-1h-1v-1zm-15 1h2v2h-2zm3 0h2v2h-2zm72 0v1h1v-1zm5 1v2h-1v1h2v-3zm-60 1v1h1v-1zm71 0h2v2h-2zm-96 1h2v2h-2zm35 2v1h2v-1zm39 0v1h1v-1zm-61 1h2v2h-2zm71 0v2h1v-2zm-47 1v1h1v1h1v-1h-1v-1zm40 0v1h1v-1zm15 0h2v2h-2zm-67 1h2v2h-1v2h-1v1h-2v-2h1v-1h1zm38 1v2h1v-2zm12 0v1h1v-1zm-58 1h4v2h-4zm42 0v1h1v-1zm34 0h2v2h-2zm-63 1h2v2h-2zm-19 1h2v2h-2zm4 0h2v2h-2zm49 0v1h1v-1zm7 0v1h1v-1zm13 0h2v2h-2zm6 0h2v2h-2zm-34 1v1h1v-1zm15 1v1h1v-1zm16 0h2v2h-1v2h-2v-2h1zm-48 1h1v1h-1zm29 0v1h2v-1zm13 0h2v2h-2zm-61 1h2v2h-2zm6 0h2v2h-1v2h-2v1h-2v-2h2v-1h1zm6 0h2v2h-2zm60 0h2v2h-2zm-96 1h2v2h-2zm61 1h2v3h-2zm5 0h3v2h-3zm20 1h2v2h-2zm-54 1h2v2h-2zm41 0h2v2h-2v1h-3v-2h3zm-23 1h2v4h-2zm29 0h2v1h1v2h-1v2h-2v-2h1v-1h-1zm-50 1h2v2h-2zm18 0h2v2h-2zm11 0h2v2h-2zm5 0h3v2h-3v2h-2v-3h2zm24 1h2v2h-2zm3 1h2v2h-2zm-20 1h2v2h-2zm3 0h2v2h-2zm-17 2h2v2h-2zm-19 1h2v4h-2zm11 1h2v2h-2zm24 0h2v2h-2zm-7 1h2v2h-2zm-7 2h2v2h-2zm11 0h2v2h-2z"/>
<path fill-opacity="0.241" d="M76 5h2v2h-2zm3 2h2v2h-2zm-53 1h2v2h-2zm40 2h2v3h-3v-1h1zm16 2h2v6h-1v1h-2v2h-3v1h1v2h1v-2h2v-1h1v-1h1v-2h2v2h-1v2h3v-3h-1v-5h2v3h1v4h1v1h2v1h2v-1h2v3h1v1h-3v1h1v1h2v-1h2v5h1v-1h5v1h-2v2h1v1h3v1h1v3h1v-1h2v4h3v-1h2v-1h1v-1h1v1h1v1h3v-2h2v2h-1v2h-3v1h-2v-1h-2v-1h-1v1h1v2h-1v1h3v2h-1v1h2v2h2v3h-1v-1h-1v2h2v-1h3v1h1v2h-2v1h-2v-1h-1v1h1v1h2v2h-2v4h2v1h1v1h-1v1h6v-2h2v2h-1v2h-2v2h3v2h-4v-2h-2v-2h-3v2h-1v2h1v-1h2v4h-2v1h3v-1h3v1h-1v3h-2v-1h-2v2h1v2h-2v1h2v1h2v2h-2v-1h-2v2h-1v2h-1v1h-3v2h-1v1h-1v1h-1v3h-1v1h1v2h1v1h1v-2h1v-1h2v2h-1v1h2v1h1v1h1v-1h1v-1h2v2h-1v1h-1v1h-2v-1h-2v1h-1v2h-1v1h-1v-4h1v-1h-3v-1h-2v2h1v-1h1v1h1v3h-2v-1h-3v1h-2v-2h1v-1h1v-1h-3v1h-1v1h1v3h2v4h-1v1h-1v2h-2v-1h-2v-3h-1v2h-1v1h2v2h1v1h4v2h-1v2h-2v1h-2v-2h-4v1h-2v1h-2v1h-2v-1h-2v2h-2v-3h-1v-1h-2v1h2v4h-2v-1h-1v2h2v2h-4v-2h1v-1h-1v-1h-1v-2h1v-1h-2v-2h-1v2h1v3h1v1h-2v1h-2v-2h-2v2h-4v-1h-1v2h2v2h-4v-1h-1v-1h-2v-1h-2v-2h1v-1h1v-2h-1v1h-3v1h1v4h1v2h-2v-3h-1v1h-1v3h-2v-3h1v-2h1v-3h-2v1h-2v-2h2v-1h-1v-1h-1v-1h-1v-1h-1v1h1v3h-1v2h-2v-1h-1v-3h-2v1h-2v-4h1v2h1v-2h-1v-1h-2v1h-1v1h-2v-1h-1v-1h-1v-1h-1v1h-1v-2h-1v-2h4v2h1v-1h1v-2h-1v1h-1v-1h-2v-1h-3v3h-1v1h-5v-3h1v1h2v1h1v-1h-1v-1h-2v-1h-2v-2h2v1h1v-1h-1v-2h2v-2h1v-1h-1v-2h1v-1h1v-1h-2v1h-2v1h-1v2h-5v-2h3v-1h-1v-2h2v1h1v-4h1v-1h-1v-1h-1v-1h-1v-1h-1v-1h-2v-2h1v-1h2v-1h-2v1h-3v-1h-1v3h-2v-2h-1v-4h1v-1h2v-1h-2v-2h1v-1h2v-1h-1v-1h-1v1h-1v1h-1v-1h-1v-1h1v-1h2v-2h1v1h4v-2h-2v1h-2v-1h-1v-2h2v-1h-2v-2h1v-2h1v-2h-1v1h-3v-6h-1v-1h-1v-2h2v1h1v2h1v3h1v-3h2v-2h-2v-1h-2v-2h1v-1h2v-2h1v1h1v-1h1v-4h2v-1h1v-1h1v1h1v-1h2v5h1v-1h2v-1h-2v-3h1v-1h-1v1h-1v-2h-1v1h-2v-3h2v-1h-2v-2h3v1h2v-1h-1v-1h-3v-3h-2v-2h4v-2h2v2h-1v2h1v2h2v2h2v-2h1v-3h2v1h1v-1h1v-1h1v-1h3v-2h-2v-2h-1v-1h1v-1h2v3h2v-1h1v-1h1v-1h-1v-2h2v2h1v-2h-1v-2h2v1h3v-2h-1v-2h2v-2h2v2h1v-2h1v-1h1v1h2v1h2v1h1v2h-2v3h1v-1h2v1h1v-2h1v-2h-1v-1h-2v-2h2v1h2v1h2v-1h-1v-2h2v1h1v1h3zm-34 1h2v1h2v2h-2v-1h-2zm11 0h2v2h-2zm13 0h2v1h1v2h-2v-1h-1zm-17 2h2v2h-2zm35 0h2v2h-2zm2 2h2v2h-1v1h-2v-2h1zm18 0h2v2h-2zm-55 1h2v2h-2zm10 0v2h1v2h1v-4zm-20 1h2v2h-2zm16 0v1h1v-1zm-12 1h2v2h-2zm56 0h2v2h-2zm9 0h2v2h-2zm-75 1h2v2h-2zm23 0v1h1v1h1v1h2v1h2v-1h-2v-1h-2v-2zm13 0v1h1v-1zm-33 1h2v2h-2zm18 1v1h-1v1h1v-1h1v-1zm16 0v1h1v1h1v-1h-1v-1zm12 0v1h1v-1zm18 0h2v2h-2v3h-3v2h-2v-3h1v-1h2v-2h2zm-67 1h2v2h-2zm42 0v1h1v-1zm5 0v1h1v-1zm14 0h2v2h-2zm-8 1v1h-3v2h1v-1h3v-1h1v-1zm22 0h2v2h-2zm-54 1v1h2v2h-1v1h1v-1h1v-3zm20 0v1h1v-1zm-35 1h2v2h-2zm65 0h2v2h-2zm-73 1h2v1h2v2h-2v-1h-2zm17 0v1h-2v2h1v-1h3v-1h-1v-1zm13 0v1h1v-1zm40 0h2v2h-1v1h-2v-2h1zm18 0h2v2h-2zm-101 1h2v2h-2zm51 0v1h1v-1zm37 0h2v1h1v1h-3zm-22 1v1h1v-1zm5 0v1h1v-1zm-51 1h1v2h-1zm23 0v1h1v-1zm-42 1h2v2h-2zm82 0h4v1h1v1h-1v2h-2v-1h-1v-2h-1zm-69 1h2v2h-2zm10 0v1h-1v1h1v1h1v-1h1v-2zm52 0v1h1v-1zm-4 2v2h1v-2zm23 0h2v2h-2zm-89 1h2v2h-2zm-4 1h2v2h-2zm19 0v1h1v-1zm70 0h2v3h-2zm-87 2h2v2h-2zm13 0v1h1v-1zm72 0h1v1h-1zm-90 3h4v2h-1v1h-3zm5 1h2v2h-2zm85 0v1h-1v1h3v-1h-1v-1zm-72 2v1h-1v1h2v-2zm69 1v1h1v-1zm-88 1h2v2h-1v1h-2v-2h1zm91 0v1h2v-1zm-82 2v1h1v1h1v-2zm93 0h2v2h-2zm-95 2v1h1v-1zm-9 1h2v2h-2zm13 0v1h1v-1zm77 0v1h1v-1zm26 0h2v2h-2zm-102 2v1h1v-1zm81 1v1h1v-1zm15 0h2v2h-2zm-12 1v2h1v-2zm-103 1h2v2h-2zm15 0v1h1v-1zm-12 1h1v2h-1zm109 3h2v3h-4v-2h2zm3 1h2v2h-2zm2 2h3v2h-3zm-117 1h2v2h-2zm101 0v1h1v1h1v-1h-1v-1zm-105 1h2v2h-2zm16 0v2h1v1h2v-1h-1v-2zm-21 2h2v2h-2zm7 1h2v2h-2zm6 0h3v2h-1v1h-2zm96 1v1h1v1h1v-1h-1v-1zm5 5v5h1v-5zm11 0h2v4h-2zm-116 2h4v1h1v2h1v2h-2v-2h-1v-1h-3zm10 3v1h1v-1zm97 0v1h1v-1zm-95 1v1h1v-1zm3 0v1h1v-1zm2 0v1h1v-1zm111 0h2v2h-2zm-23 1v1h2v-1zm6 0h2v2h-2zm-100 3v1h2v-1zm91 0v1h1v-1zm-100 1h2v2h-2zm112 1h3v2h-2v2h-2v-2h1zm-11 1v1h1v-1zm-88 1v1h1v-1zm95 0h1v1h-1zm-110 1h2v2h-2zm10 1h1v1h-1zm2 1h2v4h2v2h-4zm6 0v1h1v-1zm90 1h2v2h-2zm-99 1h2v1h-2zm88 0v2h1v-1h1v-1zm6 1h4v2h1v2h-3v-1h1v-1h-3zm10 0h2v2h-2zm-124 1h2v2h-2zm14 0h2v2h-2zm-14 3h2v2h-2zm107 0v2h1v-2zm14 0h2v2h-2zm-87 2v1h1v-1zm-19 1h2v2h-2zm88 1v1h1v-1zm20 0h2v2h-2zm-89 1v4h1v1h2v-1h-1v-1h-1v-3zm-21 1h1v2h-1zm4 0h2v2h-2zm3 0h2v2h-2zm5 0h2v2h-2zm-21 1h2v2h-2zm96 0v1h1v-1zm-81 3h2v2h-2zm13 0v1h-1v1h1v-1h2v-1zm85 0h2v3h-2zm-106 1h2v2h-2zm89 0v1h1v-1zm-54 1v1h1v-1zm57 0v2h1v-2zm5 0h3v2h-2v-1h-1zm-14 1v1h1v-1zm20 0h2v2h-1v1h-1zm-18 1v2h1v-2zm-49 1v1h1v-1zm55 0v1h1v-1zm5 0h2v1h-2zm3 0h2v2h-2zm-96 1h2v2h-2zm79 0v1h1v1h1v-1h-1v-1zm-45 1v1h1v1h2v-1h-2v-1zm36 0v1h1v-1zm-30 1v1h1v-1zm34 0v1h1v-1zm-61 1h2v2h-2zm10 0h2v2h-1v1h-2v-2h1zm55 0v1h-1v1h3v-1h-1v-1zm6 0v2h1v-2zm-59 2h2v2h-2zm23 0v1h1v-1zm38 0v1h1v-1zm7 0h1v1h-1zm-18 1v1h1v-1zm-57 1h3v2h-3zm32 0v1h1v-1zm9 0v1h1v-1zm18 0v1h1v-1zm-53 1h1v1h-1zm6 0h2v1h-2zm-19 1h2v2h-2zm44 0v1h1v1h1v-1h1v-1zm29 0h2v2h-2zm6 0h2v2h-2zm-39 3v1h1v-1zm20 0h4v1h1v3h-2v-2h-1v-1h-1v1h-1zm10 0h2v2h-2zm-49 1h2v2h-2zm3 0h4v2h-1v1h-1v2h-4v-2h3v-1h-1zm51 0h2v2h-2zm-29 2h2v3h-2zm5 0h2v2h-2zm-39 1h2v2h-2zm6 1h1v2h-1zm17 1h2v4h-2zm20 0h3v2h-3zm9 0h2v1h1v2h-1v2h-2v-2h1v-1h-1zm-50 1h2v2h-2zm12 0h2v2h-2zm23 0h2v2h-2zm-3 1h2v3h-2zm26 0h2v2h-2zm3 1h2v2h-2zm-20 1h2v2h-2zm-14 2h2v2h-2zm-8 2h2v2h-2zm24 0h2v2h-2zm-35 1h2v1h-2zm21 2h2v2h-2z"/>
<path fill-opacity="0.333" d="M76 5h2v2h-2zm3 2h2v2h-2zm-13 3h2v2h-2zm-18 3h2v2h-2zm24 0h2v1h1v2h-1v-1h-2zm10 0h1v1h1v4h-1v1h-1zm5 1h2v3h1v2h-3zm-11 1h2v2h1v1h1v3h-2v2h-2v-2h-1v3h2v1h1v-1h2v1h2v-1h-1v-2h2v-1h1v1h4v-1h2v2h-2v1h-2v1h2v-1h3v-2h2v1h2v-1h2v2h-1v2h-1v1h1v1h2v-1h2v2h-2v1h2v4h1v1h1v-1h-1v-2h1v-1h2v2h-1v1h2v1h3v2h1v2h3v3h1v2h-1v1h-1v1h-1v1h1v-1h1v-1h3v1h1v1h2v3h-2v1h3v3h1v1h2v2h-1v2h3v2h-2v5h2v2h2v2h-3v2h-1v1h-1v1h2v1h2v2h-2v1h4v2h-5v-2h-1v-3h-1v5h2v1h2v1h1v2h-2v1h-1v1h3v1h-2v1h-1v2h-1v1h-2v1h-1v2h-1v1h-1v1h-1v3h-1v2h1v1h1v1h1v-1h1v-2h1v4h-1v1h-3v-1h-1v-1h-1v2h-3v-1h-1v1h-1v1h-1v2h1v3h-1v3h-1v2h-2v-4h-1v2h-2v-1h-1v3h-2v-1h-1v-1h-1v1h1v1h1v2h-3v3h-2v1h1v1h2v-1h2v2h-2v1h-2v-1h-2v2h-1v-3h-1v-1h-2v-1h-2v1h-1v1h4v4h-2v-1h-1v1h-2v-4h-1v-1h-1v-1h-1v2h1v2h-1v1h1v1h-3v-1h-2v1h-1v1h-2v-1h-2v-2h-2v2h-1v1h1v-1h2v2h1v1h1v1h-3v-1h-2v-1h-2v-1h-1v-1h-1v-1h1v-1h1v-2h-2v1h-2v1h1v3h-2v1h-2v-2h1v-3h-1v-1h-1v-1h1v-2h-1v1h-2v-1h-1v-3h-2v-1h-1v-1h-1v-1h-1v3h2v1h2v3h1v2h-1v2h-2v-1h-1v-4h1v-1h-3v-1h-1v-1h-2v-1h-3v1h-2v-1h-2v-2h1v-1h2v2h1v-1h1v-2h-4v-1h-2v-1h-1v-1h3v-1h-1v-1h-1v-3h-1v5h-1v-1h-1v-1h-1v-2h1v-1h1v-1h-1v-1h3v-1h-1v-2h-1v1h-2v1h-2v-1h-1v-4h2v-1h-1v-1h-1v-1h-1v-1h-1v-1h-2v-1h-1v-1h1v-1h2v-1h-2v1h-3v-2h3v-1h-3v1h-3v-1h-1v-1h1v-1h2v-2h2v1h2v-2h-1v-3h-1v1h-2v-1h-1v1h-2v-2h2v-1h5v-3h-2v2h-2v-1h-1v-2h2v-1h-2v-2h2v-1h-1v-1h1v-1h1v2h1v1h1v1h2v-2h-1v-2h-3v-1h-1v-1h-1v-4h2v-2h-2v-1h-2v-2h2v1h1v-2h1v-1h1v-1h2v1h1v-1h-1v-2h-1v-2h2v-1h2v1h1v-2h2v6h1v-2h2v-2h-2v-2h1v-1h-1v-1h-2v1h-2v-2h2v-2h-2v-1h1v-1h2v2h1v-1h1v-1h-1v-1h-1v-1h-2v-2h-1v-2h3v2h2v2h2v3h-1v1h1v-1h2v1h1v-1h-1v-3h2v-2h2v-1h1v-1h1v-1h3v-2h-1v-1h-1v-3h2v3h3v-2h1v-1h-1v-2h2v2h1v-1h2v1h2v-1h1v-2h-1v-1h2v1h1v2h3v1h1v1h2v-1h-1v-1h-1v-4h1v1h1v3h1v-1h3v-2h1v-2h-1v-1h-2v-1h4v1h2v-1h-1zm-12 1h4v1h2v2h-2v-1h-3v2h1v3h-2v-3h-1v-1h-2v1h-2v-2h2v-1h2v1h1zm20 2h2v2h-1v1h-1zm7 0h2v2h-2zm-46 2h1v1h-1zm4 0h2v2h-2zm56 0h2v2h-2zm-66 1h2v2h-2zm16 0h2v2h-2zm-13 1h2v2h-2zm16 0h1v1h1v1h-2zm48 1h2v2h-2zm-6 1h2v2h-2zm-38 1v1h-2v1h1v3h-1v2h1v-1h1v-2h1v-4zm30 0v1h-3v2h-3v1h3v-1h1v-1h3v-1h1v-1zm-13 1v1h2v-1zm23 0h1v4h-2v-2h1zm-57 1h2v2h-2zm37 0v1h1v1h1v-1h-1v-1zm-45 1h2v2h-2zm17 0v1h-2v1h-1v1h3v-1h1v1h1v-1h1v-1h-2v-1zm13 0v1h1v-1zm8 0v2h1v-2zm35 0h1v1h-1zm15 0h2v2h-2zm-101 1h2v2h-2zm83 0h1v1h-1zm5 0h2v2h-2zm-77 1h2v2h-2zm55 0v2h1v-2zm5 0v1h1v-1zm-28 1v1h1v-1zm27 1v1h1v-1zm16 0h1v3h-2v-2h1zm-62 1v1h-1v1h1v1h1v-1h1v-1h1v-1zm48 2v2h1v-2zm23 0h2v2h-2zm-74 1v2h1v-2zm70 1h2v2h-2zm8 2h2v2h-2zm-6 1h3v1h-1v1h-2zm-80 1v1h1v-1zm-14 1h2v1h1v1h-1v1h-2zm87 0v1h-1v1h2v-2zm5 0h1v2h-1zm4 0h2v2h-2zm-80 1v1h1v-1zm2 1v1h-1v2h2v-1h1v-1h-1v-1zm67 1v1h1v-1zm-86 2h2v2h-2zm91 0v1h2v1h1v-1h-1v-1zm-82 1v3h2v2h1v-2h-1v-1h1v-1h-1v-1zm80 0v1h1v-1zm13 1h2v2h-2zm-4 2h2v2h-2zm-100 1h2v1h-2zm90 0v1h1v1h2v-1h-2v-1zm-83 2v1h1v-1zm7 0v1h-1v1h-1v1h1v-1h1v-1h1v-1zm89 0h2v1h1v1h-2v2h-1zm-93 1v3h1v-3zm85 0v2h1v-2zm3 1v2h-1v2h1v-2h1v-2zm-103 1h2v2h-2zm5 0h1v1h-1zm1 2h2v2h-2zm11 0v1h-2v1h2v-1h1v-1zm88 1v1h1v-1zm7 1h2v3h-4v-2h2zm-100 1v1h1v-1zm82 0v1h1v-1zm-88 1h3v2h-3zm111 1h3v2h-3zm-16 1v1h1v1h1v-1h-1v-1zm14 1h2v2h-1v2h-2v1h-1v1h-2v-2h1v-2h1v1h1v-1h1zm-124 2h2v2h-2zm7 1h2v2h-2zm6 0h3v1h-1v2h-2zm12 1v1h1v-1zm84 0v1h1v1h2v-1h-2v-1zm-86 1v1h1v-1zm99 1h4v2h-4zm-5 1h2v1h-2zm9 2h1v2h-1zm-117 2h4v2h-4zm13 0v1h1v-1zm88 0v1h1v-1zm11 0h1v1h-1zm-108 3h2v2h-2zm4 0h1v1h-1zm6 1v1h1v1h1v-1h2v-1zm91 1v1h2v-1zm6 0h2v2h-2zm-96 2v2h1v-2zm87 1v1h1v-1zm-95 2h2v2h-2zm107 0h2v2h-2zm-11 1v1h1v-1zm-88 1v1h1v-1zm4 1v1h-1v2h1v-2h1v-1zm76 0v1h1v-1zm-83 2h2v6h-2zm85 2v2h1v-1h1v-1zm6 1h3v2h-3zm10 0h2v2h-2zm-124 1h2v2h-2zm14 0h2v2h-2zm104 1h1v2h-2v-1h1zm-12 1v1h1v2h1v-2h-1v-1zm-106 1h2v2h-2zm36 0v2h1v-2zm-10 1h2v2h-1v2h-1v-1h-1v1h-2v-2h3zm77 2v2h1v-2zm17 1h1v2h-1zm-83 1v2h1v-2zm79 0h2v2h-2v1h-1v1h-2v-2h1v-1h2zm-91 1h2v2h-2zm94 0h1v1h-1zm-79 1v2h1v-2zm58 0v1h1v-1zm2 0v1h1v-1zm7 0h5v2h-4v-1h-1zm-77 1h1v1h1v1h-2zm75 0h2v2h-2zm-86 2h2v2h-2zm8 0h2v1h2v1h1v-1h2v2h-1v2h-1v-1h-1v-1h-2v-1h-2zm73 0v2h1v-2zm-89 1h2v2h-2zm85 0v1h1v-1zm21 0h2v2h-2zm-71 1v1h1v-1zm63 0h2v1h-1v1h-1zm-15 1v1h1v-1zm-66 1h2v2h-1v-1h-1zm7 0h1v1h-1zm69 0h1v1h-1zm10 0h1v1h-1zm-71 1v1h2v-1zm12 0v1h1v-1zm29 2v1h1v-1zm12 0h4v2h1v1h2v1h1v2h-1v1h-3v-1h-6v-4h2zm-56 1h2v2h-2zm14 0v1h2v-1zm33 0v2h1v-1h2v-1zm11 1v2h1v-2zm-61 1h1v1h-1zm7 1h1v2h-1zm17 0v1h2v-1zm34 0v1h1v-1zm5 0v1h1v-1zm-9 1h1v1h-1zm-59 1h3v2h-3zm32 0v1h1v-1zm9 0v1h1v-1zm-4 1v3h3v-2h-2v-1zm29 1h2v2h-2zm6 0h2v2h-2zm-17 3h2v1h1v2h-2v-1h-1zm8 0h2v2h-2zm-43 1h1v1h-1zm28 0h4v2h-4zm20 0h2v2h-2zm-50 1h2v2h-1v2h-4v-2h3zm9 0h2v2h-2zm-4 1h2v1h-2zm16 0h2v3h-2zm6 0h1v2h-2v-1h1zm-40 1h2v2h-2zm23 2h2v2h-2zm20 0h3v2h-3zm9 0h2v2h-2zm-38 1h2v2h-2zm23 0h1v2h-1zm-3 2h2v2h-2zm18 0h2v2h-2zm-23 3h2v1h-2zm16 2h2v2h-2z"/>
<path fill-opacity="0.475" d="M66 10h2v2h-2zm6 3h2v2h-2zm-6 3h1v1h-1zm11 0h1v1h1v2h1v2h-2v1h-2v-1h-1v-2h1v-1h1zm-16 1h2v1h-2zm21 0h1v1h-1zm5 0h2v2h-2zm-28 1h2v2h-2zm5 0h1v1h-1zm4 0h2v1h-2zm23 0h2v2h-2zm-28 1h1v1h-1zm21 0h1v1h-1zm-45 2h2v2h-2zm25 0h2v2h-2zm10 0h1v2h-2v-1h1zm14 0h2v2h-1v-1h-1zm-32 1h1v1h-1zm5 0h1v1h1v1h-2zm6 0h1v2h-1zm15 0h3v1h1v-1h2v2h-3v2h1v-1h1v1h1v2h-1v-1h-1v2h3v-1h2v-1h2v2h1v-2h1v1h1v1h2v1h2v4h1v1h1v-1h-1v-2h2v2h2v2h2v1h1v1h1v1h3v3h1v2h-2v-2h-1v1h-1v1h-1v2h1v-2h2v2h-1v4h2v-2h-1v-2h2v-1h1v2h-1v1h1v1h1v1h-1v1h3v2h-2v4h1v-3h1v-1h1v-1h1v3h-1v2h-1v2h-1v1h2v-1h2v3h2v4h-1v1h1v-1h2v2h2v2h-3v2h-2v1h-2v1h-1v1h1v1h1v4h2v2h-1v-1h-1v2h2v2h-2v-1h-2v1h-1v1h2v-1h1v1h3v2h-1v1h-3v-2h-1v3h1v2h-1v1h-1v2h-1v1h-1v2h-1v4h-1v-1h-1v-3h-2v2h1v2h1v3h-1v-1h-3v-2h-1v2h1v2h-1v2h1v2h-1v1h-1v-2h-2v2h2v1h1v1h-1v2h-2v-1h1v-1h-1v-1h-2v1h-2v-1h-2v1h2v3h-2v-1h-1v-1h-1v1h1v3h-2v-1h-1v-1h-3v3h2v-1h1v2h-1v1h-2v1h-2v-1h-1v-1h-2v2h-2v1h-1v-1h-1v-1h-1v2h1v2h-2v1h-1v-1h-1v1h-2v-2h-2v-1h-1v-1h-2v1h1v1h-2v-2h-2v1h1v6h-2v-1h-1v-3h1v-2h-3v1h-1v2h1v2h-1v-1h-1v-1h-1v-2h-1v-2h1v1h1v-1h-1v-2h-1v-2h1v-2h-2v1h-2v1h2v3h-2v-2h-1v-2h-2v-1h-1v-1h-1v-1h-4v-1h-1v3h-3v-2h1v-2h-4v-1h-1v-1h-1v-1h2v-1h-1v-1h-1v-3h-1v-1h-2v-1h3v-1h-1v-2h-2v1h-1v1h-2v-1h-1v-2h1v-1h-1v-1h3v-1h1v-1h-1v1h-1v-1h-1v-1h1v-2h1v-2h1v-1h-1v1h-2v1h-2v-5h1v-2h1v-2h-3v-1h-2v-2h1v1h1v-1h-1v-1h-5v-2h2v1h1v-1h2v-1h-1v-2h-1v-1h-1v-1h-3v-2h2v-1h1v1h1v1h1v1h1v-1h2v-2h-2v-2h-2v-1h1v-2h-1v2h-2v-1h-1v-4h2v-1h2v2h1v2h1v-1h2v-1h1v-1h1v-3h1v-3h-1v-2h2v-1h1v-1h1v-1h3v-1h1v-1h1v-3h1v-1h-1v-1h-1v-2h-1v-2h1v-1h1v2h3v-3h2v1h2v-1h2v-1h-1v-1h-2v-2h7v-1h1v-1h-1v-2h-2v-1h1v-1h2v1h3v1h1v2h-1v1h-1v2h-1v1h1v-1h2v-1h1v-1h3v-1h-1v-1h-1v-1h1v-1h-1v-2h2v1h2v1h2v-2h1v1h1v-2h2v1h4v2h1v-2h2v2h-1v2h2v-1h1v1h1v1h1v-1h-1v-2h-1v-1h1v-1h-1zm9 0h1v1h-1zm-38 1h2v2h-2zm39 0h1v1h-1zm3 0h2v1h-1v2h-2v-2h1zm11 0h1v2h-1zm-49 1h1v1h-1zm31 0h4v2h-4zm-15 1v1h1v1h1v-2zm-2 1v1h-1v2h1v-2h1v-1zm-18 1h1v1h-1zm-16 1h2v2h-2zm30 0v1h1v-1zm8 0v2h1v-2zm-51 1h2v2h-2zm66 1v2h1v1h1v-1h-1v-2zm5 0v1h-1v5h2v1h1v-1h2v-1h-3v-1h-1v-2h1v-2zm-28 1v1h1v-1zm-34 1h2v2h-2zm13 0h2v2h-2zm9 1v1h1v-1zm-20 1h2v2h1v1h1v1h-3v-2h-3v-1h2zm8 0h1v1h1v1h-2zm66 0h1v1h-1zm-55 1v1h1v-1zm66 0h1v1h-1zm-18 2v1h1v-1zm-69 1h1v1h1v1h-2zm82 0h2v1h-2zm-79 1h2v1h1v-1h2v3h2v1h-1v1h-2v-2h-1v2h1v3h-4v-1h2v-2h-2v-1h-1v-1h-1v-1h2zm62 0v1h1v-1zm8 0v2h1v2h1v-3h-1v-1zm-62 1v1h1v-1zm59 0v1h1v-1zm15 0h1v2h-2v-1h1zm-81 1v1h1v-1zm63 0v2h1v-2zm-68 1h2v1h-2zm88 0h1v1h-1zm-97 1h2v2h-1v-1h-1zm80 0v1h3v-1zm-73 3h2v2h-2v2h-1v-1h-1v-2h2zm15 0v1h1v-1zm71 1h1v1h1v1h-2zm-94 1h1v1h-1zm9 3h1v1h1v3h-2zm89 0h2v2h-2zm-93 1h2v1h1v2h-1v-1h-1v-1h-1zm83 0v1h1v1h2v-2zm-85 1h2v4h-2zm82 0v1h1v-1zm-84 1h1v1h-1zm5 1h1v2h-1zm92 0h2v2h-1v1h-2v-2h1zm-82 1v2h1v-2zm-7 1h2v2h-1v1h-3v-1h1v-1h1zm-10 2h2v2h-2zm101 0h2v2h-2zm-10 1v1h1v-1zm-3 2v1h1v-1zm18 0h2v1h-1v1h-1zm-105 1h2v1h-1v1h-1zm12 0v1h1v-1zm-4 1v1h1v-1zm83 0v1h2v-1zm19 0h2v2h-2zm-16 1v2h1v2h2v-1h-1v-3zm4 3v1h1v1h1v-2zm-100 1h1v3h-2v-2h1zm12 0v1h-1v1h-2v1h2v-1h2v-1h1v-1zm95 0h2v2h-2zm-12 1v2h3v-1h-2v-1zm-92 1h2v2h-2zm105 1h2v2h-2zm-7 2h1v1h3v2h-4zm-100 2h1v1h1v1h-2zm95 1v2h1v1h1v-1h-1v-2zm-98 1h1v1h-1zm107 0h1v2h-1zm-3 1h1v1h-1zm-97 2h1v2h2v1h-3v-1h-1v-1h1zm90 0v2h1v-2zm-87 1h2v1h1v1h-2v-1h-1zm95 0h1v1h-1zm3 0h2v2h-2zm-104 2h2v1h-2zm2 1h1v1h-1zm4 0h2v2h-2zm-3 1h2v2h-2zm89 0v1h1v-1zm-92 1h2v2h-2zm107 0h2v2h-2zm-101 2h2v1h1v1h1v1h1v1h-2v-1h-1v-1h-2zm86 0v1h-1v1h2v-1h1v-1zm-4 1v2h1v-2zm-83 3h2v1h-2zm86 0v1h-1v1h-1v2h2v-2h1v-2zm5 2h2v2h-2zm10 0h2v2h-2zm-101 1h2v2h-2zm10 0v1h2v-1zm-3 2v1h1v-1zm6 0v3h1v-3zm-10 4h1v1h-1zm84 0h2v1h1v-1h2v2h-1v1h-2v-1h-2zm-78 2h2v4h-1v-1h-1zm5 0v2h1v-2zm79 0h2v2h-2v1h-1v1h-1v-3h2zm-91 1h2v2h-2zm15 1v3h1v-3zm58 0v1h2v1h1v-2zm10 0h4v2h-4zm-3 1h2v1h-2zm-75 1h1v1h-1zm2 2h2v2h-1v1h-1zm10 0v2h1v-2zm53 0v1h3v-1zm22 0h2v2h-2zm-72 1v1h2v-1zm64 0h1v1h-1zm-73 3h3v2h1v1h-2v-2h-2zm19 0v1h1v-1zm35 0v1h1v-1zm-46 1h3v2h1v2h-1v-1h-1v-1h-3v-1h1zm37 1v1h1v1h1v-1h-1v-1zm3 0v1h1v-1zm12 0h2v1h-2zm-56 1h2v1h-2zm31 0v1h1v-1zm-22 1h1v1h1v1h-1v1h2v1h-1v3h-2v-1h-1v-2h1zm10 0v1h-1v2h1v-1h2v1h2v-1h-2v-1h-1v-1zm4 0v1h1v-1zm33 0h2v2h2v2h-3v-2h-2v-1h1zm4 1h1v1h-1zm-29 1v2h1v1h2v-1h-2v-2zm30 0h2v2h-1v1h-2v-1h1zm-7 1h1v1h-1zm-61 1h2v2h-2zm55 0h1v2h-1zm-8 1h2v1h1v-1h2v1h-1v2h-1v-1h-1v2h-2zm24 1h2v2h-2zm-34 2h2v2h-2zm-3 1h1v2h-1v1h-1v-2h1zm20 0h1v1h-1zm-5 1h2v2h-2zm6 0h1v1h-1zm-38 1h2v2h-1v2h-2v-2h1zm9 0h2v2h-2zm12 2h2v1h-2zm10 2h1v2h-1zm9 1h1v1h-1zm-19 2h2v1h-2zm18 0h2v2h-2zm-7 5h2v2h-2z"/>
<path fill-opacity="0.714" d="M66 10h2v2h-2zm22 7h1v2h-1zm-12 1h1v2h-2v-1h1zm16 0h1v1h-1zm-28 3h2v1h-2zm19 1h2v2h-2zm3 0h2v2h-2zm-15 1h2v3h-2zm-8 1h2v1h1v1h1v2h-1v-1h-1v-1h-2zm26 0h2v2h-2zm5 0h2v2h-2zm-38 1h1v1h-1zm13 0h1v1h1v1h-2zm9 0h1v1h-1zm5 0h1v1h4v1h-2v1h-3zm-25 1h1v1h2v2h-2v2h-1v2h2v-1h1v-1h3v-1h2v1h1v1h2v-1h-2v-1h-1v-1h3v-1h1v1h1v-2h4v-1h3v1h1v1h3v1h1v1h1v-1h1v1h4v1h1v2h1v1h1v-5h1v1h1v1h-1v1h1v4h2v1h1v-1h2v-2h-2v1h-1v-1h-1v-2h1v-1h1v-1h2v2h1v3h1v1h1v1h-1v1h3v2h-1v1h-1v1h2v1h-1v1h3v-1h-1v-1h-1v-1h3v2h1v3h1v1h1v1h-1v1h1v1h2v-1h2v2h-1v1h-3v-1h-1v1h-2v2h1v-1h2v1h2v1h2v1h1v4h5v2h-1v1h-1v-1h-3v1h-3v2h3v3h1v1h2v1h1v-1h2v1h1v2h-1v1h-1v-1h-1v-1h-3v-1h-2v2h4v2h-1v1h2v4h1v1h-1v2h1v2h-3v1h-3v1h-1v1h3v1h1v3h1v1h-1v2h-1v2h-1v1h-1v1h-2v-1h1v-1h1v-3h-2v-1h-1v-1h2v1h1v-1h1v-1h1v-1h-7v1h1v1h-2v1h3v3h-2v1h1v2h-2v-1h-1v2h3v3h2v2h-2v-1h-1v-2h-1v1h-2v1h1v3h-1v-1h-2v1h-1v-1h-1v1h-1v1h3v2h-2v-1h-1v2h-2v2h-2v2h-3v-1h-2v1h1v2h-1v-1h-1v-1h-1v-1h-1v2h-1v2h-2v-1h-1v1h1v1h3v1h-1v1h-3v1h-3v-1h-1v4h-1v1h-4v-1h2v-3h1v-1h1v-1h-1v1h-1v1h-2v-1h-1v3h-2v-1h-2v-1h-1v-1h-1v-2h-2v1h-3v-4h-1v3h-1v1h-1v1h-1v-2h1v-1h1v-1h-2v-3h-1v1h-1v3h-4v-1h-1v-2h-5v-2h-1v-2h1v-1h-2v-2h-1v-3h-1v1h-1v-1h-2v1h-1v1h-1v-3h1v-1h1v-4h-1v2h-2v-1h-3v-3h1v-1h1v2h2v-1h-1v-1h-1v-1h-3v-2h1v-2h1v-2h-2v1h-1v1h-1v-1h-1v-3h1v-2h3v-1h-2v-2h-1v-1h-1v-1h-1v-4h-1v-2h2v-2h3v-3h-1v1h-1v-2h-2v-2h2v-1h2v1h1v-1h2v-1h-1v-1h-1v-1h-1v2h-4v2h-2v-2h1v-1h3v-1h1v-1h1v-4h1v-1h1v-1h1v-1h-1v1h-1v-1h-1v-2h3v-1h1v1h1v-2h2v-1h1v-1h1v-2h1v-3h1v-2h-2v-1h1v-1h1v1h1v-2h1v-1h2v2h-1v1h1v1h1v-5h1v1h1v-1h1v-1h-2v-2h3v-1h1v4h-1v2h2v-1h-1v-1h1v-1h1v-1h-1v-2h1v-1h1v-1h-1v-2h1zm7 2h1v1h-1zm10 0v2h2v2h2v1h1v-1h-1v-3h-1v1h-1v-2zm15 0h2v1h-1v1h-2v-1h1zm-18 2v1h1v-1zm-39 2h2v2h-2zm13 0h2v2h-2zm24 0v2h1v-2zm16 1v2h2v-1h-1v-1zm-18 1v1h1v-1zm-33 1h2v1h1v2h-1v-1h-1v-1h-1zm25 0v1h1v-1zm43 0h2v1h2v2h1v1h-2v-1h-1v-1h-1v-1h-1zm-62 2h2v1h-2zm52 0v1h1v1h1v-1h-1v-1zm5 1v3h1v1h1v2h1v-3h-1v-2h-1v-1zm-61 1h1v1h1v-1h2v2h-1v1h-2v-1h-1zm71 0h4v2h-2v1h-2zm-61 1v1h1v-1zm-12 1h1v1h2v2h-1v-1h-2zm-11 2h1v1h-1zm86 1h1v2h-1zm-71 1h1v1h-1zm6 0v2h-1v1h-1v1h1v-1h1v-1h1v-2zm-15 1h2v2h-2zm75 0v1h1v-1zm7 0h1v1h-1zm-12 1v2h1v-2zm15 4h2v2h-2v1h-1v-1h-1v-1h2zm5 0h2v2h-2zm-89 1h1v2h-1zm-5 1h1v1h-1zm91 1h1v1h-1zm-92 1h1v2h-1zm13 0v3h1v-2h1v-1zm82 1h1v1h-1zm-88 1h1v1h-1zm-1 1h1v1h-1zm5 1v1h1v1h1v-1h-1v-1zm-9 1h2v2h-2v1h-2v-2h2zm85 0v1h1v-1zm-4 1v2h3v-1h-2v-1zm12 1h2v3h-2v-1h-1v-1h1zm7 0h2v1h-2zm-11 1h2v2h-3v-1h1zm17 1h1v2h-1zm-14 2h1v1h-1zm3 1h1v1h1v1h-2zm-96 1h1v2h-1zm4 1h1v1h-1zm-11 1h2v1h-2zm8 0h1v1h-1zm6 4v1h-2v1h2v1h1v1h1v1h1v-2h-1v-1h-1v-2zm-5 1h1v1h-1zm-4 1h2v1h-2zm3 0h1v1h-1zm89 0v3h-2v-1h-1v2h1v2h1v1h3v-4h-1v-2h1v-1zm-88 3h1v1h-1zm9 1v1h1v-1zm-8 5h1v2h-1zm-3 1h1v2h-1zm93 0h3v2h-1v1h-2zm-91 3h2v1h-2zm9 1v2h-1v1h1v-1h1v-2zm3 3v3h2v-2h-1v-1zm-13 3h2v2h-2zm76 1v1h1v-1zm-70 2h1v1h-1zm13 1v1h1v-1zm66 0h2v1h-2zm-8 3v1h1v-1zm11 0h1v1h-1zm2 0h1v1h-1zm3 1h2v2h-2zm-84 1h2v1h-1v1h-1zm6 0h1v1h-1zm-12 1h1v1h-1zm10 0h1v1h-1zm74 0h2v2h-2zm4 0h1v1h-1zm-76 1h2v2h-1v1h3v2h1v2h-1v2h-1v-4h-3v-1h-1v-1h1zm63 0h2v3h-1v-1h-1zm-55 2v2h-1v1h2v-1h1v-2zm3 0v1h1v-1zm43 1v1h1v-1zm6 0h2v2h-3v1h-1v-2h2zm-66 1h2v1h-2zm21 0v1h-1v1h2v-2zm8 1v2h1v-2zm40 0h1v1h-1zm-22 1v1h-1v2h2v-3zm15 0h2v2h-2zm-49 2h1v2h-1zm24 0v1h1v-1zm16 0h2v3h-2zm5 0h2v1h1v1h-3zm-28 1v1h1v-1zm9 0v1h-2v1h3v1h2v-2h-2v-1zm4 1v1h2v-1zm-22 1h2v3h-1v-1h-1zm14 1v1h1v-1zm18 0h2v1h1v1h-1v1h-2zm4 0h1v1h-1zm-30 1h1v1h3v2h-5v-1h1zm5 0h1v1h-1zm38 0h1v2h-2v-1h1zm-53 1h2v2h-1v1h-1zm8 3h2v3h-1v-1h-1zm7 0h1v1h-1zm-1 1h1v2h-2v-1h1zm-4 4h2v2h-2z"/>
</g>
<path fill="#fff" fill-rule="evenodd" d="M931.2 1289.4L945.7 1293.4 961.6 1299.9 977.6 1302 993.5 1295.3 1006.2 1289.4 1009.4 1288.2 1025.3 1274.7 1026.3 1273.5 1038.7 1257.5 1041.2 1251.2 1045.8 1241.6 1049.6 1225.6 1046.8 1209.7 1043.7 1193.7 1041.2 1189.9 1033 1177.8 1025.3 1167.9 1021.6 1161.8 1009.4 1148.9 994.1 1145.9 993.5 1145.7 977.6 1139.4 961.6 1141.9 945.7 1142.9 939.8 1145.9 929.8 1152.2 921 1161.8 914.2 1177.8 913.9 1178.3 901.1 1193.7 900.2 1209.7 898 1223.7 897.4 1225.6 898 1241.6 898 1241.6 904.1 1257.5 913.9 1267.4 918.8 1273.5 929.8 1289Z"/>
<g shape-rendering="crispEdges">
<path fill="#fafbfe" fill-opacity="0.025" d="M858.2 1233.6H874.1V1249.5H858.2ZM858.2 1217.6H874.1V1233.6H858.2ZM858.2 1201.7H874.1V1217.6H858.2ZM858.2 1185.8H874.1V1201.7H858.2ZM858.2 1169.8H874.1V1185.8H858.2ZM874.1 1265.5H890V1281.4H874.1ZM874.1 1249.5H890V1265.5H874.1ZM874.1 1169.8H890V1185.8H874.1ZM874.1 1137.9H890V1153.9H874.1ZM890 1297.4H905.9V1313.3H890ZM890 1281.4H905.9V1297.4H890ZM890 1153.9H905.9V1169.8H890ZM890 1137.9H905.9V1153.9H890ZM905.9 1297.4H921.8V1313.3H905.9ZM905.9 1122H921.8V1137.9H905.9ZM921.8 1313.3H937.8V1329.3H921.8ZM921.8 1106H937.8V1122H921.8ZM937.8 1329.3H953.7V1345.2H937.8ZM937.8 1313.3H953.7V1329.3H937.8ZM937.8 1106H953.7V1122H937.8ZM953.7 1329.3H969.6V1345.2H953.7ZM953.7 1313.3H969.6V1329.3H953.7ZM953.7 1106H969.6V1122H953.7ZM969.6 1329.3H985.5V1345.2H969.6ZM969.6 1106H985.5V1122H969.6ZM969.6 1090.1H985.5V1106H969.6ZM985.5 1329.3H1001.4V1345.2H985.5ZM985.5 1106H1001.4V1122H985.5ZM1001.4 1313.3H1017.4V1329.3H1001.4ZM1001.4 1106H1017.4V1122H1001.4ZM1017.4 1313.3H1033.3V1329.3H1017.4ZM1017.4 1122H1033.3V1137.9H1017.4ZM1033.3 1297.4H1049.2V1313.3H1033.3ZM1033.3 1137.9H1049.2V1153.9H1033.3ZM1033.3 1122H1049.2V1137.9H1033.3ZM1049.2 1281.4H1065.1V1297.4H1049.2ZM1049.2 1265.5H1065.1V1281.4H1049.2ZM1049.2 1153.9H1065.1V1169.8H1049.2ZM1049.2 1137.9H1065.1V1153.9H1049.2ZM1065.1 1281.4H1081V1297.4H1065.1ZM1065.1 1249.5H1081V1265.5H1065.1ZM1065.1 1233.6H1081V1249.5H1065.1ZM1065.1 1217.6H1081V1233.6H1065.1ZM1065.1 1201.7H1081V1217.6H1065.1ZM1065.1 1185.8H1081V1201.7H1065.1ZM1065.1 1169.8H1081V1185.8H1065.1Z"/>
<path fill="#f6f8fe" fill-opacity="0.050" d="M874.1 1233.6H890V1249.5H874.1ZM874.1 1217.6H890V1233.6H874.1ZM874.1 1201.7H890V1217.6H874.1ZM874.1 1185.8H890V1201.7H874.1ZM890 1265.5H905.9V1281.4H890ZM921.8 1297.4H937.8V1313.3H921.8ZM921.8 1122H937.8V1137.9H921.8ZM937.8 1122H953.7V1137.9H937.8ZM969.6 1313.3H985.5V1329.3H969.6ZM985.5 1313.3H1001.4V1329.3H985.5ZM1001.4 1122H1017.4V1137.9H1001.4ZM1017.4 1297.4H1033.3V1313.3H1017.4ZM1033.3 1281.4H1049.2V1297.4H1033.3ZM1049.2 1249.5H1065.1V1265.5H1049.2ZM1049.2 1185.8H1065.1V1201.7H1049.2ZM1049.2 1169.8H1065.1V1185.8H1049.2Z"/>
<path fill="#f1f4fd" fill-opacity="0.075" d="M890 1169.8H905.9V1185.8H890ZM905.9 1281.4H921.8V1297.4H905.9ZM905.9 1137.9H921.8V1153.9H905.9ZM937.8 1297.4H953.7V1313.3H937.8ZM953.7 1122H969.6V1137.9H953.7ZM969.6 1122H985.5V1137.9H969.6ZM985.5 1297.4H1001.4V1313.3H985.5ZM985.5 1122H1001.4V1137.9H985.5ZM1001.4 1297.4H1017.4V1313.3H1001.4ZM1017.4 1137.9H1033.3V1153.9H1017.4ZM1033.3 1265.5H1049.2V1281.4H1033.3ZM1049.2 1233.6H1065.1V1249.5H1049.2ZM1049.2 1217.6H1065.1V1233.6H1049.2ZM1049.2 1201.7H1065.1V1217.6H1049.2Z"/>
<path fill="#ecf0fc" fill-opacity="0.100" d="M890 1249.5H905.9V1265.5H890ZM905.9 1265.5H921.8V1281.4H905.9ZM905.9 1153.9H921.8V1169.8H905.9ZM921.8 1137.9H937.8V1153.9H921.8ZM953.7 1297.4H969.6V1313.3H953.7ZM1017.4 1281.4H1033.3V1297.4H1017.4ZM1033.3 1169.8H1049.2V1185.8H1033.3ZM1033.3 1153.9H1049.2V1169.8H1033.3Z"/>
<path fill="#e7ecfb" fill-opacity="0.125" d="M890 1201.7H905.9V1217.6H890ZM890 1185.8H905.9V1201.7H890ZM969.6 1297.4H985.5V1313.3H969.6ZM1001.4 1281.4H1017.4V1297.4H1001.4ZM1001.4 1137.9H1017.4V1153.9H1001.4ZM1017.4 1153.9H1033.3V1169.8H1017.4ZM1033.3 1249.5H1049.2V1265.5H1033.3Z"/>
<path fill="#e2e8fa" fill-opacity="0.150" d="M890 1233.6H905.9V1249.5H890ZM890 1217.6H905.9V1233.6H890ZM905.9 1169.8H921.8V1185.8H905.9ZM921.8 1281.4H937.8V1297.4H921.8ZM937.8 1137.9H953.7V1153.9H937.8ZM985.5 1137.9H1001.4V1153.9H985.5ZM1017.4 1265.5H1033.3V1281.4H1017.4ZM1033.3 1185.8H1049.2V1201.7H1033.3Z"/>
<path fill="#dee5fa" fill-opacity="0.175" d="M937.8 1281.4H953.7V1297.4H937.8ZM953.7 1137.9H969.6V1153.9H953.7ZM985.5 1281.4H1001.4V1297.4H985.5ZM1033.3 1233.6H1049.2V1249.5H1033.3ZM1033.3 1201.7H1049.2V1217.6H1033.3Z"/>
<path fill="#d9e1f9" fill-opacity="0.200" d="M905.9 1249.5H921.8V1265.5H905.9ZM921.8 1153.9H937.8V1169.8H921.8ZM969.6 1281.4H985.5V1297.4H969.6ZM969.6 1137.9H985.5V1153.9H969.6ZM1017.4 1169.8H1033.3V1185.8H1017.4ZM1033.3 1217.6H1049.2V1233.6H1033.3Z"/>
<path fill="#d4ddf8" fill-opacity="0.225" d="M921.8 1265.5H937.8V1281.4H921.8ZM953.7 1281.4H969.6V1297.4H953.7Z"/>
<path fill="#d0daf8" fill-opacity="0.250" d="M905.9 1185.8H921.8V1201.7H905.9ZM1001.4 1153.9H1017.4V1169.8H1001.4ZM1017.4 1249.5H1033.3V1265.5H1017.4Z"/>
<path fill="#cbd6f7" fill-opacity="0.275" d="M905.9 1233.6H921.8V1249.5H905.9ZM905.9 1201.7H921.8V1217.6H905.9ZM985.5 1153.9H1001.4V1169.8H985.5ZM1001.4 1265.5H1017.4V1281.4H1001.4Z"/>
<path fill="#c6d2f6" fill-opacity="0.300" d="M905.9 1217.6H921.8V1233.6H905.9ZM937.8 1153.9H953.7V1169.8H937.8Z"/>
<path fill="#c1cef5" fill-opacity="0.325" d="M921.8 1249.5H937.8V1265.5H921.8ZM921.8 1169.8H937.8V1185.8H921.8ZM937.8 1265.5H953.7V1281.4H937.8ZM1017.4 1201.7H1033.3V1217.6H1017.4Z"/>
<path fill="#bccaf4" fill-opacity="0.350" d="M953.7 1153.9H969.6V1169.8H953.7ZM985.5 1265.5H1001.4V1281.4H985.5ZM1001.4 1169.8H1017.4V1185.8H1001.4ZM1017.4 1233.6H1033.3V1249.5H1017.4ZM1017.4 1217.6H1033.3V1233.6H1017.4ZM1017.4 1185.8H1033.3V1201.7H1017.4Z"/>
<path fill="#b8c7f4" fill-opacity="0.375" d="M969.6 1153.9H985.5V1169.8H969.6Z"/>
<path fill="#b3c3f3" fill-opacity="0.400" d="M921.8 1185.8H937.8V1201.7H921.8ZM953.7 1265.5H969.6V1281.4H953.7ZM1001.4 1249.5H1017.4V1265.5H1001.4Z"/>
<path fill="#aebff2" fill-opacity="0.425" d="M969.6 1265.5H985.5V1281.4H969.6Z"/>
<path fill="#aabcf2" fill-opacity="0.450" d="M921.8 1233.6H937.8V1249.5H921.8ZM937.8 1169.8H953.7V1185.8H937.8Z"/>
<path fill="#a5b8f1" fill-opacity="0.475" d="M937.8 1249.5H953.7V1265.5H937.8ZM985.5 1169.8H1001.4V1185.8H985.5Z"/>
<path fill="#a0b4f0" fill-opacity="0.500" d="M921.8 1201.7H937.8V1217.6H921.8Z"/>
<path fill="#9bb0ef" fill-opacity="0.525" d="M921.8 1217.6H937.8V1233.6H921.8ZM1001.4 1185.8H1017.4V1201.7H1001.4Z"/>
<path fill="#96acee" fill-opacity="0.550" d="M1001.4 1233.6H1017.4V1249.5H1001.4Z"/>
<path fill="#92a9ee" fill-opacity="0.575" d="M953.7 1169.8H969.6V1185.8H953.7ZM985.5 1249.5H1001.4V1265.5H985.5Z"/>
<path fill="#8da5ed" fill-opacity="0.600" d="M937.8 1185.8H953.7V1201.7H937.8ZM969.6 1169.8H985.5V1185.8H969.6ZM1001.4 1201.7H1017.4V1217.6H1001.4Z"/>
<path fill="#88a1ec" fill-opacity="0.625" d="M1001.4 1217.6H1017.4V1233.6H1001.4Z"/>
<path fill="#849eec" fill-opacity="0.650" d="M953.7 1249.5H969.6V1265.5H953.7ZM969.6 1249.5H985.5V1265.5H969.6Z"/>
<path fill="#7f9aeb" fill-opacity="0.675" d="M937.8 1233.6H953.7V1249.5H937.8Z"/>
<path fill="#7a96ea" fill-opacity="0.700" d="M985.5 1185.8H1001.4V1201.7H985.5Z"/>
<path fill="#6c8be8" fill-opacity="0.775" d="M937.8 1217.6H953.7V1233.6H937.8Z"/>
<path fill="#6787e7" fill-opacity="0.800" d="M937.8 1201.7H953.7V1217.6H937.8ZM953.7 1233.6H969.6V1249.5H953.7ZM953.7 1185.8H969.6V1201.7H953.7ZM969.6 1185.8H985.5V1201.7H969.6ZM985.5 1233.6H1001.4V1249.5H985.5Z"/>
<path fill="#6283e6" fill-opacity="0.825" d="M985.5 1201.7H1001.4V1217.6H985.5Z"/>
<path fill="#597ce5" fill-opacity="0.875" d="M953.7 1201.7H969.6V1217.6H953.7ZM969.6 1233.6H985.5V1249.5H969.6ZM985.5 1217.6H1001.4V1233.6H985.5Z"/>
<path fill="#5478e4" fill-opacity="0.900" d="M953.7 1217.6H969.6V1233.6H953.7Z"/>
<path fill="#466de2" fill-opacity="0.975" d="M969.6 1201.7H985.5V1217.6H969.6Z"/>
<path fill="#4169e1" fill-opacity="1.000" d="M969.6 1217.6H985.5V1233.6H969.6Z"/>
</g>
<path class="c" d="M931.2 1289.4L945.7 1293.4 961.6 1299.9 977.6 1302 993.5 1295.3 1006.2 1289.4 1009.4 1288.2 1025.3 1274.7 1026.3 1273.5 1038.7 1257.5 1041.2 1251.2 1045.8 1241.6 1049.6 1225.6 1046.8 1209.7 1043.7 1193.7 1041.2 1189.9 1033 1177.8 1025.3 1167.9 1021.6 1161.8 1009.4 1148.9 994.1 1145.9 993.5 1145.7 977.6 1139.4 961.6 1141.9 945.7 1142.9 939.8 1145.9 929.8 1152.2 921 1161.8 914.2 1177.8 913.9 1178.3 901.1 1193.7 900.2 1209.7 898 1223.7 897.4 1225.6 898 1241.6 898 1241.6 904.1 1257.5 913.9 1267.4 918.8 1273.5 929.8 1289ZM950.1 1273.5L961.6 1278.5 977.6 1279.8 993.5 1274.3 995.3 1273.5 1009.4 1265.6 1016 1257.5 1025.3 1244.3 1027 1241.6 1027.2 1225.6 1025.3 1212.8 1025.1 1209.7 1025.3 1193.7 1010.3 1177.8 1009.4 1176.5 993.5 1166.2 984 1161.8 977.6 1158.7 961.6 1160.6 957.7 1161.8 945.7 1166.4 931.5 1177.8 929.8 1180.6 923.1 1193.7 918.7 1209.7 916 1225.6 919.5 1241.6 929.8 1255.7 931.3 1257.5 945.7 1271.4ZM959.5 1257.5L961.6 1258.9 977.6 1259.7 984.4 1257.5 993.5 1254.3 1004.1 1241.6 1009.4 1225.6 1008.1 1209.7 999.9 1193.7 993.5 1188.8 977.6 1180.9 961.6 1181.2 947.6 1193.7 945.7 1195.6 936.8 1209.7 935.9 1225.6 942.3 1241.6 945.7 1245.4ZM959.3 1225.6L961.6 1228.2 977.6 1240.2 992.5 1225.6 987.8 1209.7 977.6 1201.8 961.6 1209.7 961.6 1209.7Z"/>
<path class="tr" d="M972.3 1058.2V1377.1"/>
<path class="th" d="M810.4 1219.6H1128.8"/>
<rect x="965" y="1212.1" width="14.7" height="15.3" fill="#4682b4"/>
</g>
<clipPath id="k6"><rect x="141.5" y="1392.4" width="318.4" height="318.9"/></clipPath>
<g clip-path="url(#k6)">
<g transform="translate(139.29 1390.19) scale(2.212)" fill="#4169e1" filter="url(#bl)">
<path fill-opacity="0.070" d="M28 9h2v2h-2zm18 1h2v1h2v2h-2v-1h-2zm8 1h2v2h-2zm-38 1h4v2h-4zm23 0h2v3h-2zm-10 1h2v1h2v1h1v2h-2v1h-2v-2h1v-1h-2zm14 0h2v2h-2zm17 2h2v2h-2zm-42 1h3v2h-3zm17 0h2v2h-2zm16 0h2v2h-1v2h-2v-2h1zm17 0h2v2h-2zm4 0h2v2h-2zm-59 1h2v2h-2zm26 0h5v2h-1v1h1v-1h2v1h2v3h1v-2h2v1h3v-2h2v3h1v2h-1v2h1v2h1v-6h-1v-2h2v1h1v1h2v3h2v1h1v1h2v1h1v2h3v1h3v2h1v1h1v-1h-1v-2h1v-1h1v-1h2v1h1v2h-3v1h5v1h4v3h1v2h-2v1h1v1h1v-1h2v1h2v2h-2v-1h-1v2h-1v1h1v-1h3v1h1v-1h2v-1h2v2h-1v1h1v3h1v-3h2v3h2v-1h-1v-2h-1v-1h-1v-2h1v-3h2v1h1v2h1v2h-2v1h1v1h1v2h2v2h1v2h2v2h-4v-1h-1v2h1v1h3v-1h2v-1h2v-1h2v2h-1v2h1v3h2v1h1v2h-1v1h2v-1h3v1h2v2h-2v-1h-2v1h2v2h-1v1h2v-2h3v2h-2v3h-2v-1h-2v1h1v3h-3v1h2v5h1v-1h1v-2h-1v-2h2v1h7v2h-6v1h-1v1h1v2h-2v1h5v2h-2v1h-1v1h-2v3h-1v1h-1v2h1v1h1v-1h-1v-2h2v1h1v2h-1v3h-1v2h-1v1h2v-1h2v-1h2v2h-2v1h-1v1h-2v1h-2v-2h-1v1h-2v-1h-1v-1h-1v2h-1v1h1v-1h2v1h1v1h1v2h-1v1h-2v-1h-2v-1h-1v-1h-1v2h1v4h2v4h-2v-1h-1v1h-1v2h-3v-1h-1v1h-1v3h1v2h-2v-1h-1v2h-1v1h1v4h-2v-3h-2v-3h2v-3h2v-2h1v-2h-1v-2h2v1h1v-1h-1v-1h-3v-1h-1v1h1v6h-2v-5h-1v-1h-1v2h1v2h-2v-1h-2v1h2v1h2v2h1v2h-2v-2h-2v3h1v2h1v2h-2v-2h-5v1h2v2h-2v-1h-2v-2h-1v-1h-1v1h-3v-1h-1v1h-2v1h-8v-1h-2v-1h-1v1h1v2h-2v-2h-1v-1h-1v-2h-1v-1h-2v2h2v2h-2v-1h-3v1h-2v-1h-1v1h-3v-2h1v-1h1v-1h-3v2h-2v-1h-1v-3h-1v2h-2v-1h-2v-2h-2v2h-3v-1h-1v1h-2v-2h-1v-2h-3v2h-2v-2h1v-1h-1v-1h-1v1h-2v-5h2v-1h-3v1h-2v-2h-1v-1h-3v-3h-1v-1h-1v-4h-1v2h-1v4h-2v-4h1v-1h-1v1h-2v-2h2v-1h2v-1h-1v-3h2v2h1v-3h-1v-1h-2v2h-2v-3h-1v2h-2v-4h3v-1h-1v-2h1v-1h-1v-2h1v-1h-2v3h-1v2h-2v-1h-1v-1h-1v-1h-1v-2h2v1h1v-1h1v-1h1v-1h-1v-1h-1v2h-3v-2h1v-1h2v-1h1v-1h-2v-2h-2v-5h2v-3h-1v-1h-1v1h-2v-2h2v-1h-1v-3h2v1h1v-2h-3v-2h-1v-2h1v-1h1v-1h-2v-4h1v-1h-1v-2h1v-1h2v1h1v-2h1v-1h-1v1h-3v-2h2v-1h2v-2h2v-1h-2v-6h5v1h1v-2h-1v-2h-1v-2h2v2h1v-1h2v-2h1v-2h-2v2h-2v-2h1v-2h-1v-2h2v2h1v-1h1v-1h-2v-1h-1v-2h2v1h1v1h4v2h-1v1h-1v1h2v-2h2v2h-1v2h1v1h1v-1h2v-1h1v-4h1v-1h4v1h3v2h1v-2h2v-2h-1zm-13 1h2v2h-1v1h1v2h-2v-2h-1v-2h1zm30 0h2v2h-2zm-46 1h2v2h-2zm49 0h2v2h-2zm13 1h2v2h-2zm-69 2h2v2h-2zm28 0v1h1v1h1v-1h1v-1zm10 0v1h1v-1zm26 0h2v1h5v2h-6v-1h-1zm-57 1h2v2h-2zm33 0v2h-1v1h2v-2h1v-1zm41 0h2v2h-2zm-19 1h2v2h-2zm24 0h2v2h-2zm-55 1v1h1v-1zm43 0h4v1h1v1h2v2h-1v2h-2v-2h1v-1h-2v-1h-3zm-67 1h2v2h-2zm22 0v1h1v-1zm35 0h2v2h-2zm5 0h2v1h2v2h-2v-1h-2zm15 1h2v2h-2zm-81 1h2v2h1v2h-1v1h-4v-2h3v-1h-1zm47 0v1h1v-1zm16 0h2v1h2v2h-2v-1h-2zm-49 1v1h-1v1h-2v2h1v-1h1v-1h2v1h1v-2h-1v-1zm78 0h2v2h-2zm-62 1v1h1v-1zm29 0v1h1v-1zm54 0h2v2h-2zm-31 1h2v2h-2v1h-2v-2h2zm4 1h2v2h-2zm-90 1h2v2h-2zm18 0v1h1v-1zm52 1v1h-1v1h2v-2zm-72 1h2v2h-2zm11 0v2h2v1h1v-1h1v-1h-2v-1zm47 0v1h1v-1zm30 0h3v2h-3zm-71 1v1h2v-1zm60 0v1h3v-1zm7 2v1h1v-1zm7 0h2v3h1v2h-2v-1h-1zm-89 1h4v2h-4zm15 0v1h3v-1zm102 0h2v2h-2zm-109 3v2h2v-2zm-8 3h2v2h-2v1h-2v-2h2zm103 0h2v2h-2zm18 4h2v2h-2zm-30 2v1h1v-1zm9 0v1h1v-1zm10 0h2v2h-2zm-106 1v1h1v-1zm117 0h2v2h-2zm-121 2h2v2h-2zm7 0v1h1v1h1v-1h-1v-1zm3 0v1h1v-1zm123 1h2v2h-2zm-39 1v1h1v-1zm24 0h2v2h-2zm5 1h2v2h-2zm-123 1h2v2h-2zm106 1v1h-2v1h-1v1h1v1h1v-2h2v-1h2v-1zm12 2h2v2h-1v1h-2v-2h1zm4 0h2v2h-2zm-13 2v1h2v1h1v-1h-1v-1zm27 1h2v2h-2zm-12 1h2v2h-1v1h2v2h-2v-1h-2v-2h1zm-15 2v2h2v-2zm4 1v1h1v2h1v-3zm20 0h2v2h-2zm-27 1v1h1v-1zm15 3h2v2h-2zm6 0h2v2h-2zm12 0h2v2h-2zm-138 2h2v2h-2zm9 0v1h2v-1zm121 0h2v2h-2zm-2 3h2v2h-2zm-118 1v1h-1v1h1v-1h1v-1zm93 0v1h1v-1zm-104 4h2v2h-2zm111 0v1h1v-1zm10 0h2v2h-2zm10 0h2v2h-2zm7 0h2v2h-2zm-14 1h2v2h-2zm3 0h2v2h-2zm4 3h2v2h-2zm-20 2v1h1v-1zm3 0v1h1v-1zm-109 2h2v2h-2zm117 0h2v2h1v3h-2v-1h-2v-2h1zm-8 1v1h1v-1zm28 0h2v2h-2zm-140 1h2v2h-2zm108 0v1h1v-1zm26 1h2v2h-2zm-8 1h2v2h-2zm12 0h2v2h-2zm-132 1h2v2h1v2h-2v-2h-1zm100 0v1h1v-1zm6 1v1h1v-1zm8 0h4v1h1v2h-2v1h1v2h1v2h-1v3h-2v1h2v2h-2v-1h-4v-1h-1v1h-3v-2h2v-1h2v1h2v-3h3v-2h-1v-2h-2v-1h-2v-2h2zm-11 1v1h2v-1zm-4 1v1h1v-1zm8 1v1h-2v2h1v1h1v-1h1v-3zm14 0h2v2h-1v2h-2v-2h1zm-19 1v1h1v-1zm-90 1v3h1v-3zm4 0v1h1v-1zm-15 1h2v2h-2zm133 0h2v2h-2zm-139 1h2v2h1v2h-2v-2h-1zm104 0v2h1v-1h1v-1zm-5 1v3h-1v1h2v-4zm38 1h2v2h-2zm-34 1v1h1v-1zm22 0h2v2h-2zm5 0h2v2h-2zm-108 1v1h3v-1zm71 0v1h2v-1zm-83 1h2v2h-2zm91 0v1h1v-1zm33 0h2v2h-1v2h-2v-2h1zm-42 1v1h1v1h2v-1h-2v-1zm10 1v1h1v1h1v-1h-1v-1zm12 0h2v3h-2zm9 0h2v2h-2zm-95 1v1h-1v2h2v-3zm82 0h2v2h-2zm-96 1h2v1h2v-1h2v2h-2v1h-2v-1h-2zm19 1v3h-1v1h2v-2h1v-1h-1v-1zm68 0v1h2v-1zm33 0h2v2h-2zm-45 1v1h1v-1zm24 0h2v2h-2zm3 0h2v2h-2zm-80 1v3h1v-3zm3 1v1h1v-1zm3 1v1h1v-1zm14 0v1h-1v1h2v1h1v-1h-1v-2zm5 0v2h1v-2zm21 0v2h2v-2zm-31 1v1h1v-1zm13 0v1h1v-1zm9 0v2h1v-2zm3 0v1h1v-1zm3 1v1h1v2h1v-2h-1v-1zm27 0h2v2h-2zm9 0h2v2h-2zm-48 1v2h-2v2h1v-1h1v-1h1v-2zm19 0v1h-1v3h-1v1h1v-1h3v-2h-1v-2zm-33 1v2h1v1h1v-2h-1v-1zm48 0h2v2h-2zm-62 1h2v1h2v2h-2v-1h-2zm23 0v1h1v-1zm12 0v1h1v-1zm-39 1h2v1h1v2h-4v-2h1zm-5 2h2v1h1v2h-2v-1h-1zm18 2h4v2h-4zm6 0h2v2h-2zm52 0h2v2h-2zm-62 1h2v3h-2zm36 0h2v2h-2zm-16 1h2v4h-2zm35 0h2v2h-2zm-47 1h2v2h-2zm23 0h2v4h-2zm-18 1h2v2h-2zm-1 3h2v2h-2zm36 0h2v2h-2zm-29 2h2v2h-2z"/>
<path fill-opacity="0.151" d="M46 10h2v2h-2zm-30 2h2v2h-2zm13 1h2v1h2v1h1v2h-2v1h-2v-2h1v-1h-2zm10 0h2v2h-2zm21 2h2v2h-2zm-42 1h3v2h-3zm17 0h2v2h-2zm16 0h2v2h-1v2h-2v-2h1zm17 0h2v2h-2zm4 0h2v2h-2zm-59 1h2v2h-2zm27 0h4v2h-1v1h1v-1h2v2h2v2h1v-2h2v1h3v2h1v-1h1v4h1v2h1v-6h-1v-2h2v2h1v1h2v2h2v1h1v1h2v1h1v2h1v2h1v-1h4v2h1v2h1v1h1v1h1v-1h2v-1h-4v-2h-1v-2h2v2h5v1h2v1h2v2h1v2h-2v1h1v1h1v-1h2v1h2v2h-2v-1h-1v2h-2v1h2v-1h3v1h1v-1h2v1h1v1h1v4h1v-1h1v1h1v-1h2v-2h2v3h-1v1h4v2h-2v1h-1v2h1v2h2v-1h1v-1h5v2h1v2h-1v2h-1v1h2v1h1v1h3v-1h2v2h-1v1h2v2h-1v1h3v3h-2v-1h-2v1h1v3h-2v-1h-1v2h-1v1h1v-1h2v5h3v2h-1v1h5v2h-3v1h-1v-1h-1v5h-2v3h1v1h1v-1h-1v-2h2v1h1v2h-1v3h-1v2h-2v-3h-1v1h-2v2h1v2h-2v-1h-1v2h-1v1h1v-1h2v2h2v2h-1v1h-2v-1h-2v-1h-1v-1h-2v-1h-2v1h2v2h2v4h2v4h-2v-1h-1v1h-1v2h-3v-1h-1v1h-1v3h1v2h-2v-1h-1v2h-1v1h1v4h-2v-3h-2v-3h2v-3h2v-2h1v-2h-1v-2h2v1h1v-1h-1v-1h-3v-1h-1v1h1v6h-2v-5h-1v-1h-1v3h-3v1h2v1h2v2h1v2h-2v-2h-2v3h1v2h1v2h-2v-2h-3v-2h1v-2h-1v-2h-1v1h-1v3h-1v2h1v1h2v2h-2v-1h-2v-2h-1v-2h-1v2h-2v-2h-2v2h-2v1h-8v-1h-2v-1h-1v1h1v2h-2v-2h-1v-1h-1v-2h-1v-1h-3v1h1v1h-1v1h-2v1h-2v-2h2v-3h-2v3h-1v2h-3v-2h1v-1h1v-1h-1v-1h-1v1h-1v2h-2v-1h-1v-2h2v-1h-3v2h-2v-2h-1v-2h-1v-2h-1v3h-2v2h-2v-1h-2v-1h-2v-2h3v-2h1v-2h-2v3h-3v1h-3v-1h-1v-1h-1v1h-2v-4h1v-1h1v1h1v-1h-1v-1h-1v-2h2v-1h-3v-1h-1v2h1v2h-1v1h-2v-2h-1v-3h-1v2h-2v-3h-1v-1h-1v-4h-1v-1h-1v-1h-1v-3h2v3h1v-2h1v-1h-1v-2h1v-2h-1v1h-1v1h-2v2h-2v-3h-1v2h-2v-4h3v-1h-1v-2h2v-1h-2v-2h1v-1h-2v3h-1v1h-3v-2h2v-3h1v-2h2v-1h1v-1h-1v1h-2v1h-2v2h-3v-2h1v-1h2v-1h1v-1h2v-1h-2v1h-2v-2h1v-1h-1v1h-2v-2h1v-2h1v-4h-1v-1h-1v1h-2v-2h2v-1h-1v-2h3v-1h1v-1h-4v-2h-1v-2h1v-1h1v-1h-2v-4h1v-1h-1v-2h1v-1h2v1h1v-1h1v-2h-1v1h-3v-2h3v-1h1v-2h2v-1h-2v-6h5v1h1v1h1v-1h-1v-2h-1v-2h-1v-2h2v2h1v1h1v2h1v-1h1v-1h2v1h1v-2h-1v-1h-1v1h-1v1h-2v-2h1v-2h1v-2h-3v-2h2v-1h1v-1h-2v-1h-1v-2h2v1h1v1h2v1h1v2h-1v1h2v-2h2v2h-1v2h1v1h1v-1h2v-1h1v-4h1v-1h4v1h3v2h1v-2h2zm-14 1h2v2h-2zm-16 1h2v2h-2zm62 1h2v2h-2zm-46 1h2v2h-2zm5 1v1h1v1h2v2h3v-1h-2v-1h-1v-2zm10 0v3h1v1h2v-2h1v-1h-1v-1zm26 0h2v1h1v2h-2v-1h-1zm-57 1h2v2h-2zm61 0h3v2h-3zm13 0h2v2h-2zm-33 1v1h1v-1zm38 0h2v2h-2zm-12 1h4v2h-4zm-67 1h2v2h-2zm22 0v1h-1v1h1v-1h1v-1zm35 0h2v2h-2zm5 0h2v1h2v2h-2v-1h-2zm10 1h2v2h-2zm-29 1v1h1v-1zm45 1h2v2h-2zm-91 1h2v2h-1v1h-4v-2h3zm29 0v1h1v-1zm29 0v1h1v-1zm12 0h2v1h1v2h-2v-1h-1zm42 0h2v2h-2zm-88 1v1h1v-1zm57 0h2v2h-2zm4 1h2v2h-2zm-90 1h2v2h-2zm18 0v1h1v-1zm52 1v1h-2v1h3v1h1v-1h-1v-2zm-72 1h2v2h-2zm11 0v2h2v1h2v-2h-2v-1zm8 0v1h-2v1h2v-1h1v-1zm39 0v1h1v-1zm30 0h3v2h-3zm-4 3v1h1v-1zm7 0h2v3h1v2h-2v-1h-1zm-89 1h4v2h-4zm12 0v1h1v-1zm3 0v1h3v-1zm102 0h2v2h-2zm-37 1v1h1v-1zm17 1h2v1h1v2h1v2h-2v-1h-1v1h-2v-2h1zm-89 1v2h2v-2zm4 0v2h2v-1h-1v-1zm-12 3h2v2h-2v1h-2v-2h2zm103 0h2v2h-2zm-95 1v1h3v-1zm87 1h2v2h-2zm-90 3v2h-1v1h1v-1h1v-2zm4 0v1h1v-1zm82 1v1h1v-1zm19 0h2v2h-2zm11 1h2v2h-2zm-114 2v2h-1v1h2v-1h2v-1h1v-1h-1v1h-2v-1zm97 0h2v2h-2zm29 1h2v2h-2zm-39 1v1h1v-1zm24 0h2v2h-2zm5 1h2v2h-2zm-17 2v1h-2v1h-1v1h1v1h1v-1h1v-1h1v-1h2v-1zm16 2h2v2h-2zm-11 1h2v1h1v2h-2v-1h-1zm6 0h2v2h-2zm19 2h2v2h-2zm-128 1v1h1v-1zm91 0v1h1v-1zm25 0h2v2h-1v1h2v2h-2v-1h-2v-2h1zm-6 1h2v2h-2zm-9 1v2h2v-2zm4 1v1h1v4h1v-5zm20 0h2v2h-2zm-27 1v1h1v-1zm14 0h1v2h-1zm-13 2v1h-1v1h1v-1h1v1h1v-1h-1v-1zm-100 1v1h1v-1zm95 0v1h1v-1zm19 0h2v2h-2zm6 0h2v2h-2zm12 0h2v2h-2zm-138 2h2v2h-2zm9 0v1h2v-1zm121 0h2v2h-2zm-2 3h2v2h-2zm-25 1v1h1v-1zm13 0h2v1h7v2h-6v1h-2v-2h-1zm-117 4h2v2h-2zm111 0v1h1v-1zm10 0h2v2h-2zm17 0h2v2h-2zm-134 1h2v2h-2zm120 0h2v2h-2zm3 0h2v2h-2zm4 3h2v2h-2zm-20 2v1h1v-1zm3 0v1h1v-1zm-8 2v1h1v-1zm16 0h2v2h-2zm-8 1v1h1v-1zm-112 1h2v2h-2zm108 0v1h1v-1zm13 1h2v2h-2zm-17 1v1h1v-1zm22 0h2v2h-2zm12 0h2v2h-2zm-132 1h2v2h1v2h-2v-2h-1zm100 0v1h1v-1zm6 1v1h-3v1h3v-1h1v-1zm8 0h3v1h2v2h-2v1h1v2h1v2h-1v2h-2v2h-2v1h-2v-1h-1v1h-3v-2h2v-1h2v1h2v-3h3v-2h-1v-2h-1v-1h-3v-2h2zm-15 2v1h1v-1zm-94 1h2v2h-2v1h-2v-2h2zm7 1v4h1v-4zm7 0v1h1v-1zm83 0v1h1v-1zm-86 1v1h1v-1zm97 0h2v2h-2v1h-1v1h-2v1h-2v-2h1v-1h2v-1h2zm7 0h2v2h-2zm-119 1h2v2h-2zm4 0h2v4h-2zm96 0v1h-2v2h1v-1h1v-1h1v-1zm33 0h2v2h-2zm-40 2v3h-1v3h1v-2h1v-4zm-98 1h2v2h-2zm136 0h2v2h-2zm-7 1h2v2h-2zm-37 1v1h2v-1zm-83 1h2v2h-2zm91 0v1h1v-1zm33 0h2v2h-1v2h-2v-2h1zm-42 1v1h1v1h2v-1h-2v-1zm10 1v3h-1v1h2v-1h1v-2h-1v-1zm12 0h2v3h-2zm9 0h2v2h-2zm-95 1v1h-1v2h2v-3zm57 0v1h1v-1zm25 0h2v2h-2zm-96 1h2v1h2v-1h2v2h-2v1h-2v-1h-2zm75 2v1h1v-1zm24 0h2v2h-2zm3 0h2v2h-2zm-80 1v3h1v-3zm31 1v1h1v-1zm-25 1v1h1v-1zm6 0v1h1v-1zm8 0v1h-1v1h2v1h2v-1h-2v-2zm5 0v2h1v1h2v-1h1v-1h-1v1h-2v-2zm16 0v1h-1v1h1v-1h2v-1zm5 0v2h2v-2zm-31 1v1h-1v1h1v-1h1v-1zm22 0v2h1v-2zm-6 1v3h-2v2h1v-1h1v-1h1v-3zm11 0v1h2v2h1v-2h-1v-1zm-3 2v1h-1v1h1v-1h1v-1zm26 0h2v2h-2zm-62 1h2v2h-2zm23 0v1h1v-1zm-27 1h2v1h1v2h-4v-2h1zm23 1h2v2h-2zm13 0v1h2v-1zm-40 2h2v2h-2zm17 1h4v2h-4zm6 0h2v2h-2zm52 0h2v2h-2zm-62 1h2v3h-2zm20 1h2v2h-2zm35 0h2v2h-2zm-24 1h2v2h-2zm-18 1h2v2h-2zm35 3h2v2h-2zm-29 2h2v2h-2z"/>
<path fill-opacity="0.241" d="M46 10h2v2h-2zm-30 2h2v2h-2zm23 1h2v2h-2zm-8 1h2v1h1v2h-2v-1h-1zm29 1h2v2h-2zm-41 1h1v2h-1zm16 0h2v2h-2zm-22 1h2v2h-2zm27 0h2v1h1v2h1v-1h2v3h2v3h1v3h1v-2h1v-1h3v-1h2v2h-1v1h2v2h1v-1h1v-1h-1v-4h2v1h1v3h1v-1h1v1h2v1h1v1h1v1h1v1h1v2h1v-1h4v2h1v2h1v1h1v2h1v-2h1v1h1v-2h-1v-2h3v1h2v1h2v1h-2v2h1v-1h2v2h-2v2h2v-1h2v2h-1v2h-2v1h2v-1h3v1h4v1h1v5h1v2h1v-3h1v-1h2v-2h2v3h-2v1h-1v2h1v-2h2v1h1v2h-1v2h1v2h2v2h-1v1h1v1h2v-2h3v1h-1v1h1v2h-1v3h1v2h2v1h1v-2h-1v-2h-1v-1h-1v-1h2v1h4v-1h2v2h-2v1h-2v1h1v4h2v2h1v1h-4v3h2v2h1v3h1v2h6v2h-6v2h-2v-2h-1v4h-1v1h2v-1h1v-1h1v2h-1v3h1v1h1v-1h-1v-2h2v1h1v2h-1v3h-1v2h-2v-2h1v-1h-2v1h-5v1h2v1h2v2h-2v-1h-1v2h-1v1h1v-1h2v2h-1v1h1v-1h2v2h-5v-1h-1v-1h-2v-1h-2v1h2v2h1v2h-2v-2h-1v-1h-1v2h1v3h-1v2h1v-1h2v-1h4v4h-2v-2h-1v2h-1v1h-1v1h-2v-1h-2v-1h-2v-2h2v1h1v-1h-1v-1h-3v-1h-1v2h1v5h-2v-6h-2v2h-1v1h-1v-3h1v-2h-1v2h-1v4h2v1h1v2h-2v3h1v2h1v2h-2v-2h-1v-2h-1v-3h1v-1h-1v-1h-1v1h-1v1h-1v2h-1v3h-2v-3h-1v-1h2v-1h1v-5h-1v1h-2v1h1v1h1v2h-1v-1h-2v-1h-1v-2h-3v2h2v1h2v3h-1v1h-2v2h-2v1h-8v-1h-2v-1h-3v-1h1v-2h2v2h2v1h1v-1h-1v-1h1v-4h-1v3h-2v-4h-2v-1h-3v1h1v1h1v2h-1v1h-4v2h-2v-3h-2v2h-1v2h-1v1h-1v-3h1v-1h-1v-2h1v-1h1v-1h-1v1h-2v1h-5v1h-2v-3h2v-1h-2v1h-2v-2h-1v3h-2v-4h-1v-1h-1v-1h-2v2h-3v1h-1v1h-2v-1h-1v-1h-1v-1h-2v-2h2v1h2v1h2v-3h-3v-1h-1v-2h1v-1h-2v-1h-2v2h1v2h-2v-1h-2v-3h-1v1h-2v-2h-1v-3h-1v-2h-1v-2h2v-1h-1v-1h2v-1h-2v-2h1v-2h-1v1h-1v1h-2v2h-2v-3h-1v2h-2v-4h3v-1h-1v-2h2v-1h-2v-2h1v-1h-2v3h-1v1h-3v-2h2v-3h1v-2h3v-2h-1v1h-2v1h-2v-2h1v-1h3v-2h1v-1h-2v2h-2v1h-2v-2h1v-1h1v-2h-1v2h-2v-2h1v-4h1v-1h-2v-3h-2v-2h5v-3h-1v1h-4v-2h1v-1h-1v-1h2v1h1v1h1v-1h2v-1h1v-1h1v-1h-1v1h-2v-1h-1v2h-2v-1h-1v-1h-2v-4h1v-1h-1v-2h4v-1h1v-2h-1v1h-3v-2h3v-1h1v-2h2v-2h2v1h1v1h1v-4h-2v-2h2v1h1v-1h-1v-2h-1v-2h-1v-2h2v2h1v2h1v1h2v-2h2v1h1v-1h1v-1h-1v-1h-3v2h-2v-2h1v-2h3v-1h-1v-1h-1v-1h-1v1h-2v-2h3v-2h-2v-2h2v1h2v1h1v1h-1v2h1v2h3v1h1v1h1v-1h1v-1h1v-2h1v-1h-1v-2h2v-1h3v1h3v3h2v-1h-1v-2h2v-1h1v-1h-1zm-14 1h2v2h-2zm-16 1h2v2h-2zm62 1h2v2h-2zm-23 1h2v1h2v1h1v1h-3v1h-2zm-18 1v1h1v1h1v2h-3v3h-2v1h2v2h1v1h1v-3h-2v-1h1v-1h1v-1h2v1h1v-2h2v-1h-1v-1h-2v-2zm9 0v1h1v2h1v1h2v-2h1v-1h-1v-1zm27 0h2v2h-2zm5 1h2v2h-2zm12 0h2v2h-2zm-74 3h2v2h-2zm70 0h1v1h-1zm-43 1v1h1v-1zm16 0v2h1v-2zm21 0h2v2h-2zm8 0h2v2h-2zm-59 1v1h1v1h1v-1h-1v-1zm40 1v1h1v-1zm35 0h2v2h-2zm-62 1v1h1v-1zm29 0v1h1v-1zm12 0h2v1h1v2h-2v-1h-1zm42 0h2v2h-2zm-115 1h4v2h-4zm48 1v1h1v-1zm23 0h2v2h-2zm-65 1h1v2h-1zm10 0v1h-2v2h-1v4h3v-1h-1v-3h1v-2h1v-1zm40 0v1h-1v1h-1v1h1v-1h1v-1h1v-1zm12 1v1h-3v2h1v-1h2v2h2v-2h-1v-2zm4 1h1v1h-1zm12 0h3v2h-3zm-6 4v2h1v-2zm37 0h2v2h-2zm-42 2v1h1v-1zm15 0h2v2h-2zm7 0h2v1h1v2h1v2h-2v-2h-1v-1h-1zm-89 1v2h2v-2zm4 0v2h2v-1h-1v-1zm85 2h1v1h-1zm-97 1h2v2h-2v1h-2v-2h2zm103 0h2v2h-2zm-95 1v1h3v-1zm74 1v1h1v-1zm-78 1v1h1v2h-1v2h1v-1h1v-1h1v-1h-1v-1h-1v-1zm5 1v2h3v-1h-1v-1zm82 2v1h1v-1zm19 0h2v2h-2zm11 1h2v2h-2zm-32 1v1h1v-1zm5 3v1h2v-1zm24 0h2v2h-2zm-21 1v1h1v-1zm9 0h3v1h-1v1h-3v-1h1zm3 2h2v2h-2zm13 2h2v2h-2zm-4 1h1v1h-1zm-6 1h1v1h-1zm-104 2v1h1v-1zm91 0v1h1v-1zm24 2h2v1h2v2h-2v-1h-2zm-115 1v2h1v-2zm98 0v5h3v-2h-2v-3zm9 0h2v3h2v1h1v1h-4v-2h-1zm18 0h2v2h-2zm-121 3v1h1v-1zm90 1v1h1v-1zm19 0h2v2h-2zm6 0h2v2h-2zm-14 2v1h1v-1zm18 0h2v2h-2zm-27 1v1h1v-1zm25 2h2v2h-2zm-25 1v1h1v-1zm13 0h2v1h7v2h-6v1h-2v-2h-1zm-112 2h2v2h-2zm102 0v1h1v-1zm-1 2v1h1v-1zm5 0v1h1v2h1v-2h-1v-1zm-107 1h2v2h-2zm113 0h2v2h-1v-1h-1zm7 0h2v2h-2zm-20 1v1h1v-1zm4 0v1h1v-1zm-94 2v1h1v-1zm-1 2v1h1v-1zm98 0v2h-1v3h1v-3h1v-2zm-5 2v1h1v-1zm1 3v1h-1v1h2v3h-1v2h1v-2h1v-3h-1v-2zm16 0h2v2h-2zm17 1h2v2h-2zm-132 1h2v2h1v2h-2v-2h-1zm103 0v3h3v-1h1v-1h-1v1h-2v-2zm-97 1h2v1h-2zm108 0h3v1h2v2h-2v1h1v2h-2v-2h-1v-2h-1zm-102 3v2h-1v1h1v2h2v-2h-1v-3zm84 0v4h1v-4zm-77 1v1h-3v1h3v-1h1v-1zm82 2v1h-2v2h1v-1h1v-1h1v-1zm33 0h2v2h-2zm-24 1h2v2h-3v-1h1zm-105 1h2v2h-2zm20 0v1h1v-1zm69 0v3h-2v3h1v1h1v-3h1v-4zm22 0h2v2h-2zm-120 1h2v2h-2zm136 0h2v2h-2zm-43 1v1h-1v1h2v-2zm25 0h2v2h-2zm-5 1h2v1h-1v1h-1zm20 1h2v2h-2zm-107 1v1h1v-1zm63 0v1h3v2h1v-1h1v-1h-2v-1zm-60 1v1h1v1h1v-1h-1v-1zm54 1v1h2v-1zm26 0h2v2h-2zm4 0h2v2h-2zm-100 1h2v1h2v2h-2v-1h-2zm27 1v1h1v-1zm34 0v1h1v-1zm-18 1v1h1v-1zm59 0h2v2h-2zm-82 1h2v2h-1v2h2v1h-4v-1h-1v-2h2zm36 0v2h-1v2h1v-2h1v-2zm-13 1v1h-1v1h-2v1h3v1h2v-1h-1v-3zm9 0v1h2v-1zm36 0v1h1v-1zm-54 1v1h1v-1zm25 1v2h1v-2zm-28 3h2v1h1v2h-2v-1h-1zm30 0v1h-1v2h-2v-1h-1v1h-1v1h5v-3h1v-1zm20 0h4v1h1v2h-2v-1h-3zm-56 1h2v2h-2zm-4 2h2v1h-2zm18 0h2v2h-2zm40 0h3v2h1v2h-2v-1h-2zm-62 2h2v2h-2zm32 0h2v2h-2zm-15 1h4v2h-4zm6 0h2v2h-2zm-10 1h2v3h-2zm20 1h2v2h-2zm35 0h2v2h-2zm-42 2h2v2h-2z"/>
<path fill-opacity="0.333" d="M46 10h2v2h-2zm-30 2h2v2h-2zm23 1h2v2h-2zm-7 2h1v1h-1zm3 1h2v2h-2zm-22 1h2v2h-2zm27 0h2v1h1v3h1v-2h2v3h1v1h1v3h1v3h1v-1h1v-1h-1v-1h4v1h-1v2h1v-2h3v3h1v-2h1v-4h-1v-1h2v1h1v3h-1v1h1v-1h4v1h1v2h-1v-1h-2v1h2v1h1v-1h2v3h-1v1h2v2h-1v1h2v-1h2v2h2v-1h3v2h1v1h1v-2h1v-1h1v-1h1v1h1v2h-1v1h-1v1h-1v1h1v-1h4v1h2v-1h2v2h-1v2h-2v1h3v-1h2v1h3v1h2v5h1v2h4v1h2v3h1v1h2v1h-1v2h1v1h5v2h-1v3h-4v1h1v1h1v3h1v1h1v-1h1v-2h-2v-2h2v1h2v2h1v-3h1v2h1v2h2v3h-2v-2h-1v5h2v2h1v1h-2v1h1v1h1v2h3v2h-5v4h-1v3h1v-2h1v-1h1v4h-2v1h-2v-2h-1v2h-2v-3h-1v-1h-1v1h-1v2h2v2h-1v-1h-2v1h-1v5h1v-1h1v-1h-1v-3h2v2h1v-2h3v1h-1v3h-2v1h-1v2h2v1h2v1h1v2h-1v-1h-2v-1h-2v-1h-2v2h-1v2h1v2h-2v2h-1v-1h-1v-1h1v-4h1v-4h-1v3h-2v-2h-1v1h-2v1h-1v1h-1v1h-2v1h3v2h1v-1h2v-1h2v1h-1v1h-1v1h-1v1h-3v-2h-2v1h-1v5h2v1h1v2h-2v3h-2v-3h1v-2h-1v-1h-1v-3h-4v2h-2v1h1v2h-2v-2h-1v-1h-2v-1h-2v2h1v1h2v1h2v2h-1v1h-1v1h-3v-2h1v-1h-1v1h-1v2h-2v-1h-1v1h-1v1h-1v2h-1v-5h1v-2h-1v-1h-1v3h-2v-4h2v-1h2v2h1v-2h2v-1h-1v-1h-1v2h-1v-1h-2v-1h-1v2h-1v1h-2v-1h-1v-2h-1v2h-1v1h1v4h-1v-2h-1v-1h-1v-4h1v-1h-2v3h-2v1h-1v2h-2v-2h-1v1h-2v-2h-1v3h-4v1h-2v-2h2v-2h-2v1h-2v-2h-1v1h-2v-2h-1v-1h-1v-1h-1v-1h-1v-1h-2v-2h-4v1h-2v-2h2v-1h-2v-1h-1v-1h-1v1h-1v2h-3v-1h1v-1h1v-1h-1v1h-1v-2h3v-2h3v1h2v-2h-1v-1h-2v1h-4v2h-1v-3h-1v-1h-1v2h-1v1h-2v-3h1v-3h2v-1h-3v-2h1v-2h-2v1h-2v-1h-2v-2h-1v-2h2v2h1v-2h1v-1h-1v-1h-1v1h-2v-2h2v-1h-3v3h-2v1h-2v-2h2v-3h2v-1h1v-1h1v-2h-1v-3h1v-1h-1v-1h-1v-1h-4v-4h1v-1h-1v-1h-1v-2h-2v-2h5v-2h1v-1h-2v1h-2v-1h-1v-2h2v1h1v-1h2v-1h1v-1h1v-1h-1v1h-2v-1h-1v2h-2v-1h-1v-2h1v-1h1v-1h1v-2h-2v-2h1v-1h1v-2h3v-1h2v1h3v-2h-7v-2h2v-1h2v1h1v-3h2v3h3v-1h-1v-2h2v-1h-1v-1h3v-1h-2v-2h1v-1h1v-1h-1v-1h2v1h1v-1h-1v-2h2v1h2v2h2v2h1v1h1v-3h-1v-2h2v2h1v-2h1v-1h2v1h1v-2h-1v-2h4v2h1v1h3v2h1v-2h-1v-1h-1v-2h1v-1h-1v-1h-3v-3h-1zm-14 1h2v2h-2zm-16 1h2v2h-2zm7 0h2v2h-2zm2 2h2v2h-1v1h-1zm11 0h1v2h1v1h1v2h-3v2h-2v-2h1v-2h1v-1h-1v-1h1zm5 0h2v2h-1v1h-2v-2h1zm14 0h2v1h2v2h-2v1h-2zm-10 1h1v1h-1zm-23 1h2v2h-2zm52 0h1v1h-1zm4 0h2v2h-2zm12 0h2v2h-2zm-64 1h1v2h-1zm34 0h2v2h-2zm-34 3h2v2h-3v2h-2v-2h1v-1h2zm54 0h2v2h-2zm8 0h2v2h-2zm-69 1h2v2h-2zm22 1v1h1v1h1v-1h-1v-1zm63 0h2v2h-2zm-48 1v1h1v-1zm27 0h2v2h-2zm42 0h2v2h-2zm-115 1h2v2h-2zm3 0h1v1h-1zm8 0h1v1h1v1h1v2h-2v-1h-1zm37 0v3h1v-3zm3 0v2h2v-1h-1v-1zm-36 1h1v1h-1zm41 0v2h-1v1h-1v1h1v-1h2v-3zm10 0h1v1h1v2h-2zm5 0h2v2h-2zm-12 1v1h2v-1zm16 1h2v2h-2zm10 1h2v2h-2zm-28 1v1h1v-1zm24 2h2v2h-2zm34 1h2v2h-2zm-43 1v2h3v-1h-2v-1zm16 1h1v1h-1zm7 0h2v3h-1v-1h-1zm-93 2h1v2h-1zm79 0v1h1v-1zm-83 2h2v2h-2v1h-2v-2h2zm11 0v1h-3v1h4v-2zm-8 2h1v1h-1zm79 0v1h1v-1zm4 1v1h1v-1zm-77 1v4h1v-1h1v-1h1v-1h-1v-1zm90 0h2v1h-1v1h-1v1h-1v1h-2v-1h1v-1h1v-1h1zm-96 1h1v2h-1zm82 0v1h1v-1zm6 1v1h1v-1zm19 0h2v2h-2zm-22 1v2h2v-2zm11 0h1v1h2v1h-3zm-15 2v1h1v-1zm9 2v1h2v1h4v-1h-3v-1zm25 0h2v2h-2zm-12 1h2v2h-2zm-95 1v1h1v-1zm98 1h2v2h-2zm-10 1v1h-1v1h1v-1h2v-1zm23 1h2v2h-2zm-112 2v1h1v-1zm87 0v1h2v-1zm-89 1v2h1v-2zm91 1v1h1v-1zm11 0h1v1h-1zm5 0h2v2h-2zm-4 1h2v2h-2zm-13 1v1h1v-1zm25 0h2v1h2v2h-2v-1h-2zm-115 1v2h1v-2zm107 0h2v2h-2zm18 0h2v2h-2zm-121 3v1h1v-1zm104 0h2v1h1v1h-3zm-14 1v1h1v-1zm19 0h2v2h-2zm-113 1h2v3h-3v-1h1zm96 2v1h1v-1zm-96 2h2v2h-1v1h-1zm96 1v1h1v-1zm13 0h2v1h2v2h-3v-1h-1zm6 1h1v2h-1zm-118 1h2v2h-2zm4 0h1v1h-1zm98 0v2h-1v-1h-1v2h-1v2h1v-2h2v-1h1v-1h1v-1zm4 2v2h1v1h1v1h1v-1h-1v-2h-1v-1zm-107 1h2v2h-2zm120 0h2v2h-2zm-16 1v1h1v-1zm13 2h2v2h-2zm-13 1v1h3v2h-1v3h1v-3h1v-2h-1v-1zm-2 3v1h1v-1zm-84 1v2h1v-2zm-10 2h2v1h-2zm111 0h2v2h-2zm-23 1v1h1v-1zm3 0v1h1v-1zm15 1h1v1h-1zm-94 1v1h1v-1zm98 0h2v2h1v-1h2v2h-2v1h1v2h-2v-2h-1v-2h-1zm-113 1h2v2h-2zm105 0h4v1h1v1h-1v1h-1v-2h-1v1h-2v1h-3v-1h2v-1h1zm-98 1h1v1h-1zm95 3h1v1h-1zm1 1h2v2h-2zm-94 1h2v1h1v3h-2v-2h-1zm91 0h2v2h-2zm9 0h1v2h-1zm-105 1h2v2h-2zm20 0v1h1v-1zm91 0h2v2h-2zm-34 3v1h1v-1zm8 0h2v2h-1v1h-2v-2h1zm24 0h2v1h-2zm-16 1h1v1h1v2h-1v-1h-1zm-82 1h1v1h-1zm12 0v1h2v1h1v-1h-1v-1zm52 1v1h-2v1h-1v1h3v-1h1v-2zm-6 1v1h1v-1zm31 0h2v2h-2zm4 0h2v1h-2zm-100 1h2v2h-2zm9 0h2v2h-2zm7 0h3v2h-2v1h-1v1h-1v1h-1v-1h-1v-1h1v-1h1v-1h1zm41 0v1h1v-1zm-30 1v1h1v-1zm33 0v1h2v-1zm32 0h2v2h-2zm-80 1h1v1h-1zm74 0h1v1h1v1h-1v1h-1zm-66 1h2v2h-1v3h-2v-1h-1v-2h2zm56 0h1v1h-1zm4 0h2v1h-2zm3 0h2v2h-2zm6 0h1v2h-1zm-19 1h1v1h-1zm10 1h2v2h-2zm5 0h1v1h-1zm3 0h1v2h-1zm-29 1v2h1v-2zm12 0h1v3h-2v-2h1zm-30 1h2v1h2v2h-2v-1h-2zm-4 1h1v2h-1zm-6 1h2v1h1v2h-2v-1h-1zm50 0h4v2h-4zm-40 1h2v2h-2zm8 0h2v2h-1v1h-1zm19 0h3v1h-1v3h-2zm-32 2h2v1h-2zm16 0h1v1h-1zm28 0h1v2h2v2h-2v-1h-2v-2h1zm-23 1h1v2h-1zm2 0h2v2h-2zm-42 1h1v1h-1zm59 0h2v2h-2zm-42 1h4v2h-4zm-4 1h2v2h-2zm20 1h2v2h-2z"/>
<path fill-opacity="0.475" d="M35 16h2v2h-2zm-9 2h2v2h-2zm15 0h1v2h1v2h-1v-1h-1zm-21 3h1v1h-1zm15 0h1v2h-2v-1h1zm10 1h1v1h-1zm-29 1h2v2h-2zm14 0h2v2h-1v1h-2v-1h1zm16 0h2v2h-2zm6 0h1v1h-1zm32 0h2v2h-2zm-46 1h3v2h1v1h3v1h-1v1h2v-1h1v-1h2v1h-1v1h1v1h1v1h2v3h4v-1h1v-2h1v1h1v-4h1v1h1v1h2v1h2v1h1v1h-3v-1h-2v-1h-1v3h-1v1h-2v1h3v-1h1v-1h7v3h2v-1h2v4h1v-2h2v-1h1v1h1v1h-1v3h1v1h1v-1h4v-1h2v1h1v2h1v-1h1v-2h2v2h-1v2h-2v2h-2v-1h-1v1h1v1h2v-1h1v4h1v1h-1v1h2v1h2v1h1v-1h1v-1h-1v-1h-2v1h-1v-2h-1v-2h1v-4h2v1h2v1h-1v1h1v1h1v-2h1v1h1v2h-1v1h1v1h1v2h4v1h1v2h-1v-1h-1v1h-2v-1h-3v1h1v1h5v1h1v-2h1v1h1v2h-3v1h-1v-1h-1v4h2v-1h1v-2h2v1h1v1h3v3h2v2h-5v2h3v2h-1v3h-1v1h2v-2h2v-1h1v-3h2v2h1v-1h2v2h-1v1h-1v1h1v2h-2v1h2v1h1v2h-2v-1h-1v2h-1v1h-2v-1h1v-5h1v-2h-1v2h-1v3h-1v-1h-1v-1h-2v-1h-1v-1h-1v2h2v1h2v2h-1v2h-1v1h-1v1h3v-2h2v3h1v1h-2v1h2v1h1v1h-1v2h-1v1h-1v1h-1v2h-1v2h-1v2h-1v2h1v2h1v-1h1v-2h-1v-2h2v1h1v-1h2v2h-1v1h-1v1h-1v3h-2v-1h-2v-1h-1v2h-2v-2h-1v1h-2v1h-1v1h-1v2h-1v-2h-5v1h3v1h1v1h2v2h-2v1h-1v1h-2v1h-3v-2h1v-1h1v-2h-1v1h-2v1h-1v1h-1v1h1v1h1v2h-5v-1h-3v2h-2v1h-1v1h2v4h-2v-2h-1v2h-1v1h-2v-2h1v-4h1v-1h1v-1h1v-2h-3v1h-1v-1h-2v1h-1v1h-2v-1h-1v-1h-2v2h-2v-2h1v-1h-3v3h-1v1h-1v1h-2v-2h1v-1h-2v2h-1v-2h-2v1h-1v-2h-1v3h2v1h-4v-2h-2v1h-2v-3h-1v2h-2v-2h-1v-2h-1v-1h-2v-2h2v1h1v-1h-1v-1h-1v-1h-1v2h-2v-1h-1v-1h-2v1h-1v1h-2v-2h2v-1h-2v-1h-1v-1h-1v1h-2v-2h1v-1h1v-1h2v1h2v1h1v-1h-1v-2h-1v-1h-2v1h-2v-5h-1v-1h-1v-3h1v-1h-2v4h1v2h1v2h-1v1h-2v-1h-1v-2h1v-1h-1v-1h-3v-2h2v-2h-1v-1h-1v-2h-2v-3h1v-1h1v1h1v-2h-4v1h-1v-2h-3v-1h1v-1h1v-1h1v-1h-2v-3h2v-1h-1v-1h-1v-1h2v-1h-3v1h-1v-2h1v-6h1v-1h-1v1h-2v1h-1v1h-2v-1h1v-2h2v-2h1v-2h-1v-2h1v-1h2v-1h2v-3h-1v-2h2v1h1v-1h-1v-1h-3v-1h1v-3h2v-1h1v-1h1v-1h-2v-2h-1v-2h2v2h3v-2h-1v-1h3v-1h1v2h1v-1h1v-1h-1v-1h-1v-1h-1v-3h2v-1h2v3h2v2h1v-3h-2v-2h3v3h2v-2h1v-1h3v1h2v-1h-1v-1h2v1h2v-1h1v-1h-4zm21 0h2v2h-1v1h-1zm-14 1h1v1h-1zm9 0h1v1h-1zm-3 1h2v3h1v2h1v2h-1v-1h-1v-1h-1v-1h-2v-2h1zm-31 1h2v2h-2zm4 0h1v1h-1zm4 0h1v1h-1zm27 0h1v1h1v1h-1v1h-1v-1h-1v-1h1zm7 0h1v1h-1zm-37 1h2v2h-1v-1h-1zm39 0h1v1h-1zm-47 1h2v2h-2zm49 1h2v2h-2zm12 1h1v1h-1zm-62 2h1v1h1v1h-2zm21 0v1h3v-1zm8 0v1h2v-1zm25 0h2v1h-1v1h-1zm9 1h2v2h-2zm10 1h2v2h-2zm-28 1v1h1v-1zm-32 1v1h1v-1zm51 0h2v2h-1v1h-1zm5 1h2v2h-2zm-73 1h1v1h2v2h-5v-2h2zm107 0h2v2h-2zm-20 2h2v2h-2zm-87 2h2v1h-1v1h-1v1h-3v-2h3zm58 0v1h1v-1zm13 0v1h1v-1zm-81 2h2v2h-2zm76 1v1h1v-1zm-70 1h4v2h-2v-1h-2zm82 0v1h1v-1zm-9 2v1h1v-1zm9 0v1h1v-1zm-85 1h1v1h-1zm4 0h2v4h-2v1h-2v-3h1v-1h1zm76 0v2h1v-2zm8 1v1h1v-1zm-80 1h1v2h-1zm73 2v1h1v-1zm8 0v1h1v-1zm-80 2v1h-1v3h2v-1h1v-1h-1v-2zm94 1h2v2h-2zm-102 1h3v2h-2v-1h-1zm6 3v1h1v-1zm79 0v1h1v-1zm33 0h2v2h-2zm-28 1v1h1v-1zm-80 2v1h1v-1zm85 1v1h-2v1h1v2h1v-2h1v1h1v-3zm4 0v1h1v-1zm13 0h1v2h-2v-1h1zm-109 1h2v2h-2zm4 1v1h2v-1zm100 0h2v1h-2zm4 1h2v2h-2zm-100 2v1h1v-1zm86 0v1h1v-1zm-8 1v1h1v-1zm23 0h2v2h-2zm-14 1v1h1v-1zm8 1v1h1v-1zm4 0h2v3h-1v-1h-1zm-106 1h2v2h-2zm6 1v1h1v-1zm3 1v1h1v-1zm-8 1h1v2h-2v-1h1zm92 2v1h1v-1zm17 0h3v2h-3zm-113 1h1v1h-1zm3 2h2v3h-2zm105 1h2v1h1v2h-1v-1h-2zm-101 1h1v1h-1zm89 0v1h1v-1zm8 0h2v1h2v3h1v3h-1v2h-1v2h-1v2h-2v-2h1v-1h-1v-1h2v-2h1v-4h-2v-1h-1zm-102 1h1v2h-1zm14 0v1h1v-1zm95 1h2v2h-2zm-104 1h1v2h-1zm94 2v1h-1v1h-1v2h1v-2h2v-2zm-94 1h1v1h-1zm2 0h3v1h-1v1h-2zm84 4v1h3v-1zm5 0v2h1v-2zm11 0h2v2h-2zm4 1h1v1h-1zm-109 2h2v2h-2zm9 0h1v1h-1zm97 0h1v1h-1zm8 0h1v2h-1zm-22 1v1h2v-1zm13 0h1v1h-1zm3 0h1v1h-1zm-99 2h1v1h-1zm81 1v1h1v-1zm-81 2h2v1h1v2h-2v-2h-1zm4 1h1v1h-1zm11 0v2h1v-2zm57 0v1h2v-1zm19 0h1v1h-1zm-1 1h1v1h-1zm-85 1h1v2h-1zm80 0h2v2h-1v3h1v1h-2v-2h-1v-2h1zm6 0h2v2h-2zm-11 1h2v2h-1v1h-2v-2h1zm-47 2v1h1v-1zm32 1v1h-1v1h1v-1h2v-1zm16 0h1v1h-1zm-25 1v2h1v-1h1v-1zm23 0h2v1h-1v2h-2v-1h-1v-1h2zm-71 1h2v2h-2zm7 0h2v1h1v1h-3zm10 0v1h1v3h1v-2h1v-1h1v-1h-1v1h-2v-1zm14 0v1h1v-1zm-7 1v1h2v-1zm4 0v1h1v-1zm17 0v1h1v-1zm6 0v1h2v-1zm4 0v1h1v-1zm21 0h1v1h-1zm-70 1h1v2h-2v-1h1zm58 1h2v3h-2zm-53 1h2v1h-1v2h-2v-2h1zm60 1h2v2h-2zm-35 1h2v2h-2zm21 0h1v1h-1zm-38 1h2v2h-2zm23 0h1v1h1v1h-2zm10 0h3v1h2v2h-2v-1h-3zm9 0h2v1h-2zm5 0h2v2h-2zm-34 1h1v1h-1zm2 0h2v2h-2zm31 1h1v1h1v2h-2zm-42 1h1v1h-1zm17 0h2v2h-2zm13 0h2v2h-2zm6 0h2v4h-2zm16 0h1v1h-1zm-25 3h2v2h-2zm21 0h1v1h-1zm-50 3h2v2h-2z"/>
<path fill-opacity="0.714" d="M35 22h1v1h-1zm11 1h1v1h-1zm-16 1h1v1h-1zm9 1h2v3h-2zm20 0h2v1h-2zm-16 2h1v4h1v-1h4v1h1v1h2v2h-1v1h1v-1h5v-1h1v-1h1v3h-2v1h1v1h2v1h1v-1h1v-1h-1v-1h1v-1h2v1h1v1h1v-1h-1v-1h2v3h4v1h-1v1h1v2h-1v3h1v1h1v1h3v-2h1v-1h1v1h1v-1h2v1h-1v1h1v1h1v-1h1v2h-1v3h-1v1h1v-1h1v-3h2v2h1v1h-1v1h1v1h2v1h-1v1h-1v1h1v1h1v-3h2v1h2v1h1v-1h2v2h1v2h3v3h1v2h-1v2h1v-1h1v2h-1v4h-1v1h2v-2h1v-1h1v3h2v2h1v-2h2v3h-1v1h-1v1h-1v2h-1v1h-1v1h-1v1h3v-1h1v-1h1v1h1v3h-1v1h-3v1h-1v3h2v-1h-1v-2h2v1h4v-1h1v2h-1v1h-2v2h-1v1h-1v3h-5v2h1v-1h4v1h2v2h-2v-1h-1v1h-1v1h2v2h-1v1h1v1h-1v3h-2v-5h-1v2h-1v1h1v1h-3v1h-2v1h-5v2h2v-1h1v1h1v1h2v2h-3v-2h-1v2h1v1h-2v1h-1v1h-1v-3h2v-1h-1v-1h-2v1h-1v-1h-1v-1h2v-1h-2v-1h-1v3h-1v1h-2v2h-1v-3h-5v1h-1v-1h-2v1h2v1h-1v1h-2v2h-3v-1h-1v-1h-1v-1h-1v1h1v1h1v2h-2v-1h-1v-1h-2v-1h-4v-1h-1v1h1v2h-1v-1h-1v-1h-1v-2h-2v1h-2v1h-1v-1h-1v-1h-1v-1h-1v1h-1v1h-1v1h-1v-2h-1v1h-3v2h-1v-3h1v-1h1v-1h-1v1h-1v-1h-1v-1h-2v-1h-1v1h1v2h-2v-2h-1v-1h1v-1h1v-2h-3v-2h-2v-2h-5v-2h2v-1h-2v-2h-1v-1h-1v-2h1v-1h-1v-1h-1v4h-2v1h-2v-2h2v-2h1v-1h-3v-1h-1v-2h-1v-2h2v1h1v-1h-1v-2h-4v-2h-1v1h-1v-2h2v-1h1v-1h-3v-1h-1v-1h5v1h1v2h1v-2h1v-2h-2v1h-1v-1h-2v-1h-1v-1h1v-1h2v-3h-2v2h-2v-1h-2v-2h4v-1h-2v-2h3v-2h-2v-1h1v-1h-1v-1h1v-2h-1v-4h1v-1h-1v-2h2v-2h1v-1h-1v1h-3v-3h3v-2h2v-1h1v-1h-3v-2h3v-2h1v-1h2v2h-1v1h1v-1h1v-1h1v-3h-1v-2h-2v-1h1v-1h3v2h-1v1h2v2h1v2h2v-1h-1v-2h1v-1h1v-1h2v-3h2v1h2v1h1v-1h1v-1h3v-2h1zm8 0h2v1h-1v1h-1zm4 1h1v1h-1zm-3 1h1v1h1v1h-2zm7 0h1v2h-1zm-31 1h2v2h-2zm33 0h2v1h-2zm3 1h1v2h-1zm3 0h1v1h-1zm-28 1v1h-2v1h-2v-1h-1v1h1v1h3v-1h3v2h1v-3h-2v-1zm8 0v1h-2v2h-1v1h-1v1h1v-1h1v-1h2v-1h1v-2zm32 2h2v2h-2zm-47 3v1h1v-1zm31 1v1h1v-1zm-2 1v1h1v-1zm6 0v1h1v-1zm7 0h1v1h-1zm-64 1h3v1h-1v1h-2zm62 0h2v1h2v2h-2v1h-3v-3h1zm10 1h1v1h-1zm1 1h1v1h-1zm-73 2h1v2h-1zm74 0h1v1h1v1h-3v-1h1zm-82 1h2v2h-2zm76 1v1h1v-1zm11 0h1v1h-1zm-3 2h1v2h-1zm8 0h2v1h-1v2h-3v-2h2zm-5 1h1v3h-1zm-80 2h2v1h-1v1h-1v1h-1v1h-1v-3h2zm82 0h1v1h-1zm4 1h1v1h-1zm1 2h1v2h-1zm3 1h2v1h-2zm-87 1h1v2h-2v-1h1zm79 1v2h1v-1h1v-1zm8 1h1v1h1v1h-2zm3 0h1v1h-1zm-8 1v1h-1v1h-2v-1h-1v2h1v2h1v-2h1v-1h1v-1h1v-1zm-83 2h1v2h-1zm85 0v1h-1v2h1v-1h1v-2zm6 0h2v1h1v2h-2v1h-2v-2h2v-1h-1zm-94 3h1v2h-1zm5 0h1v1h-1zm93 0h1v1h-1zm-94 1h1v1h-1zm92 0h1v1h3v1h-2v1h-1v1h-2v-1h1zm-95 1h1v2h-1zm11 2v1h1v-1zm75 0v1h1v-1zm0 3v1h2v-1zm16 0h2v1h-2zm-92 1v1h1v-1zm95 0h2v1h-1v1h-1zm-13 2v1h2v-1zm9 0h2v1h-2zm6 0h2v1h-2zm-3 1h1v2h-2v-1h1zm-7 1h3v1h-1v1h-2zm8 3h2v2h-1v-1h-1zm7 1h1v1h-1zm-100 2v1h1v1h1v2h1v-2h-1v-1h-1v-1zm87 2h1v1h-1zm4 0h1v1h1v1h1v1h-3zm4 0h1v1h-1zm2 2h2v2h-2zm-14 3v1h-3v1h3v-1h1v-1zm5 0h2v2h-1v2h-2v2h-2v-1h1v-3h2zm-93 1h2v1h-2zm11 0v1h1v-1zm71 1v1h1v-1zm16 0h1v1h-1zm-2 2h2v1h-1v3h-2v-2h1zm-89 3h2v1h1v1h-1v1h-3v-2h1zm71 0v1h1v-1zm-61 1v1h1v-1zm65 0v1h-2v2h1v-1h1v-1h1v-1zm3 1v1h1v-1zm-2 1v1h1v-1zm8 0h2v2h1v-2h1v3h-3v-2h-1zm-67 3v1h1v-1zm54 0v1h1v-1zm3 0v1h2v-1zm-69 1h1v1h5v4h-2v-2h-2v-1h-3v-1h1zm64 0v1h-1v1h3v-1h-1v-1zm15 0h2v2h-2zm-86 1h1v1h-1zm17 1v1h2v1h2v-1h-1v-1zm7 0v1h1v-1zm56 2h1v2h-2v-1h1zm-70 1h1v1h-1zm23 0v1h-2v2h1v-1h1v-1h1v-1zm-24 1h1v1h-1zm29 0v1h1v-1zm46 0h1v1h-1zm-66 1h1v2h-2v-1h1zm39 1h3v2h-2v4h-2v-4h1zm-29 1h1v1h1v1h-1v1h1v4h-2v-3h-1v-3h1zm6 0h1v1h-1zm16 0v1h1v-1zm14 0h1v2h-1v1h-1v-2h1zm14 0h1v1h-1zm-63 1h1v1h-1zm8 0h1v1h1v1h-2zm10 1h3v2h-3zm27 0h2v2h-1v-1h-1zm-39 1h2v2h-2zm18 0h1v1h-1zm3 0h2v2h-2zm23 0h1v2h-1zm-27 1h1v1h-1zm33 0h2v1h-2zm-34 1h1v1h-1zm41 0h2v2h-2zm-61 1h1v1h-1zm38 0h1v2h1v3h-1v-1h-1v1h-1v1h-1v-4h1v-1h1zm-29 1h2v2h-2zm34 0h1v2h-1zm13 0h2v2h-1v-1h-1zm-13 3h1v1h-1zm12 0h2v1h-2z"/>
</g>
<path fill="#fff" fill-rule="evenodd" d="M274.5 1623.6L276.8 1624.8 292.7 1626.3 297.7 1623.6 308.7 1618.7 324.6 1608.8 327.3 1607.7 340.5 1597.3 343 1591.7 348.5 1575.8 345.9 1559.8 340.5 1551.5 336.3 1543.9 327.2 1527.9 324.6 1525.1 311.9 1512 308.7 1508.9 292.7 1498.4 288.1 1496 276.8 1487.6 260.9 1482.4 245 1480.1 229.1 1480.5 213.1 1487.5 197.2 1494.8 196.2 1496 189.2 1512 186.3 1527.9 188.4 1543.9 189.9 1559.8 197.2 1572.5 198.7 1575.8 208.5 1591.7 213.1 1597.1 229.1 1606.8 230.8 1607.7 245 1617.2 260.9 1620.3Z"/>
<g shape-rendering="crispEdges">
<path fill="#fafbfe" fill-opacity="0.025" d="M157.4 1567.8H173.3V1583.7H157.4ZM157.4 1551.8H173.3V1567.8H157.4ZM157.4 1535.9H173.3V1551.8H157.4ZM157.4 1520H173.3V1535.9H157.4ZM157.4 1504H173.3V1520H157.4ZM157.4 1488.1H173.3V1504H157.4ZM173.3 1583.7H189.3V1599.7H173.3ZM189.3 1599.7H205.2V1615.6H189.3ZM189.3 1456.2H205.2V1472.1H189.3ZM205.2 1615.6H221.1V1631.6H205.2ZM221.1 1631.6H237V1647.5H221.1ZM221.1 1440.2H237V1456.2H221.1ZM237 1440.2H252.9V1456.2H237ZM268.9 1456.2H284.8V1472.1H268.9ZM284.8 1456.2H300.7V1472.1H284.8ZM300.7 1647.5H316.6V1663.5H300.7ZM300.7 1631.6H316.6V1647.5H300.7ZM300.7 1472.1H316.6V1488.1H300.7ZM316.6 1631.6H332.5V1647.5H316.6ZM316.6 1472.1H332.5V1488.1H316.6ZM332.5 1631.6H348.5V1647.5H332.5ZM332.5 1488.1H348.5V1504H332.5ZM348.5 1615.6H364.4V1631.6H348.5ZM348.5 1520H364.4V1535.9H348.5ZM348.5 1504H364.4V1520H348.5ZM364.4 1615.6H380.3V1631.6H364.4ZM364.4 1599.7H380.3V1615.6H364.4ZM364.4 1551.8H380.3V1567.8H364.4ZM364.4 1535.9H380.3V1551.8H364.4ZM364.4 1520H380.3V1535.9H364.4ZM380.3 1583.7H396.2V1599.7H380.3ZM380.3 1567.8H396.2V1583.7H380.3ZM380.3 1551.8H396.2V1567.8H380.3ZM380.3 1535.9H396.2V1551.8H380.3Z"/>
<path fill="#f6f8fe" fill-opacity="0.050" d="M173.3 1567.8H189.3V1583.7H173.3ZM173.3 1488.1H189.3V1504H173.3ZM173.3 1472.1H189.3V1488.1H173.3ZM189.3 1583.7H205.2V1599.7H189.3ZM205.2 1456.2H221.1V1472.1H205.2ZM221.1 1456.2H237V1472.1H221.1ZM237 1631.6H252.9V1647.5H237ZM237 1456.2H252.9V1472.1H237ZM252.9 1631.6H268.9V1647.5H252.9ZM252.9 1456.2H268.9V1472.1H252.9ZM268.9 1631.6H284.8V1647.5H268.9ZM284.8 1631.6H300.7V1647.5H284.8ZM284.8 1472.1H300.7V1488.1H284.8ZM316.6 1488.1H332.5V1504H316.6ZM332.5 1615.6H348.5V1631.6H332.5ZM332.5 1504H348.5V1520H332.5ZM348.5 1599.7H364.4V1615.6H348.5ZM348.5 1535.9H364.4V1551.8H348.5ZM364.4 1583.7H380.3V1599.7H364.4ZM364.4 1567.8H380.3V1583.7H364.4Z"/>
<path fill="#f1f4fd" fill-opacity="0.075" d="M173.3 1551.8H189.3V1567.8H173.3ZM173.3 1535.9H189.3V1551.8H173.3ZM173.3 1504H189.3V1520H173.3ZM189.3 1472.1H205.2V1488.1H189.3ZM205.2 1599.7H221.1V1615.6H205.2ZM221.1 1615.6H237V1631.6H221.1ZM300.7 1488.1H316.6V1504H300.7ZM316.6 1615.6H332.5V1631.6H316.6ZM316.6 1504H332.5V1520H316.6ZM332.5 1520H348.5V1535.9H332.5ZM348.5 1583.7H364.4V1599.7H348.5ZM348.5 1551.8H364.4V1567.8H348.5Z"/>
<path fill="#ecf0fc" fill-opacity="0.100" d="M173.3 1520H189.3V1535.9H173.3ZM205.2 1472.1H221.1V1488.1H205.2ZM237 1615.6H252.9V1631.6H237ZM252.9 1615.6H268.9V1631.6H252.9ZM268.9 1472.1H284.8V1488.1H268.9ZM300.7 1615.6H316.6V1631.6H300.7ZM332.5 1535.9H348.5V1551.8H332.5ZM348.5 1567.8H364.4V1583.7H348.5Z"/>
<path fill="#e7ecfb" fill-opacity="0.125" d="M189.3 1567.8H205.2V1583.7H189.3ZM221.1 1599.7H237V1615.6H221.1ZM221.1 1472.1H237V1488.1H221.1ZM252.9 1472.1H268.9V1488.1H252.9ZM284.8 1488.1H300.7V1504H284.8ZM332.5 1599.7H348.5V1615.6H332.5Z"/>
<path fill="#e2e8fa" fill-opacity="0.150" d="M189.3 1488.1H205.2V1504H189.3ZM237 1472.1H252.9V1488.1H237ZM268.9 1615.6H284.8V1631.6H268.9ZM284.8 1615.6H300.7V1631.6H284.8ZM300.7 1504H316.6V1520H300.7ZM316.6 1599.7H332.5V1615.6H316.6ZM316.6 1520H332.5V1535.9H316.6ZM332.5 1583.7H348.5V1599.7H332.5Z"/>
<path fill="#dee5fa" fill-opacity="0.175" d="M205.2 1583.7H221.1V1599.7H205.2ZM205.2 1488.1H221.1V1504H205.2ZM332.5 1567.8H348.5V1583.7H332.5ZM332.5 1551.8H348.5V1567.8H332.5Z"/>
<path fill="#d9e1f9" fill-opacity="0.200" d="M189.3 1551.8H205.2V1567.8H189.3ZM189.3 1504H205.2V1520H189.3ZM268.9 1488.1H284.8V1504H268.9Z"/>
<path fill="#d4ddf8" fill-opacity="0.225" d="M189.3 1535.9H205.2V1551.8H189.3ZM237 1599.7H252.9V1615.6H237ZM300.7 1599.7H316.6V1615.6H300.7ZM316.6 1583.7H332.5V1599.7H316.6ZM316.6 1535.9H332.5V1551.8H316.6Z"/>
<path fill="#d0daf8" fill-opacity="0.250" d="M189.3 1520H205.2V1535.9H189.3Z"/>
<path fill="#cbd6f7" fill-opacity="0.275" d="M237 1488.1H252.9V1504H237ZM252.9 1488.1H268.9V1504H252.9ZM284.8 1599.7H300.7V1615.6H284.8ZM284.8 1504H300.7V1520H284.8ZM300.7 1520H316.6V1535.9H300.7ZM316.6 1567.8H332.5V1583.7H316.6ZM316.6 1551.8H332.5V1567.8H316.6Z"/>
<path fill="#c6d2f6" fill-opacity="0.300" d="M205.2 1567.8H221.1V1583.7H205.2ZM221.1 1583.7H237V1599.7H221.1ZM221.1 1488.1H237V1504H221.1ZM252.9 1599.7H268.9V1615.6H252.9ZM268.9 1599.7H284.8V1615.6H268.9Z"/>
<path fill="#c1cef5" fill-opacity="0.325" d="M300.7 1583.7H316.6V1599.7H300.7Z"/>
<path fill="#bccaf4" fill-opacity="0.350" d="M205.2 1504H221.1V1520H205.2Z"/>
<path fill="#b8c7f4" fill-opacity="0.375" d="M268.9 1504H284.8V1520H268.9Z"/>
<path fill="#b3c3f3" fill-opacity="0.400" d="M205.2 1551.8H221.1V1567.8H205.2ZM300.7 1535.9H316.6V1551.8H300.7Z"/>
<path fill="#aabcf2" fill-opacity="0.450" d="M205.2 1520H221.1V1535.9H205.2ZM221.1 1504H237V1520H221.1ZM237 1583.7H252.9V1599.7H237ZM284.8 1583.7H300.7V1599.7H284.8ZM284.8 1520H300.7V1535.9H284.8ZM300.7 1567.8H316.6V1583.7H300.7Z"/>
<path fill="#a5b8f1" fill-opacity="0.475" d="M237 1504H252.9V1520H237ZM300.7 1551.8H316.6V1567.8H300.7Z"/>
<path fill="#a0b4f0" fill-opacity="0.500" d="M205.2 1535.9H221.1V1551.8H205.2ZM221.1 1567.8H237V1583.7H221.1ZM268.9 1583.7H284.8V1599.7H268.9Z"/>
<path fill="#9bb0ef" fill-opacity="0.525" d="M252.9 1583.7H268.9V1599.7H252.9Z"/>
<path fill="#96acee" fill-opacity="0.550" d="M252.9 1504H268.9V1520H252.9Z"/>
<path fill="#92a9ee" fill-opacity="0.575" d="M268.9 1520H284.8V1535.9H268.9Z"/>
<path fill="#8da5ed" fill-opacity="0.600" d="M284.8 1535.9H300.7V1551.8H284.8Z"/>
<path fill="#88a1ec" fill-opacity="0.625" d="M284.8 1567.8H300.7V1583.7H284.8Z"/>
<path fill="#849eec" fill-opacity="0.650" d="M237 1567.8H252.9V1583.7H237Z"/>
<path fill="#7f9aeb" fill-opacity="0.675" d="M221.1 1551.8H237V1567.8H221.1ZM221.1 1535.9H237V1551.8H221.1Z"/>
<path fill="#7a96ea" fill-opacity="0.700" d="M221.1 1520H237V1535.9H221.1ZM284.8 1551.8H300.7V1567.8H284.8Z"/>
<path fill="#7592e9" fill-opacity="0.725" d="M252.9 1520H268.9V1535.9H252.9ZM268.9 1567.8H284.8V1583.7H268.9Z"/>
<path fill="#708ee8" fill-opacity="0.750" d="M237 1520H252.9V1535.9H237Z"/>
<path fill="#6787e7" fill-opacity="0.800" d="M252.9 1567.8H268.9V1583.7H252.9Z"/>
<path fill="#5e80e6" fill-opacity="0.850" d="M268.9 1535.9H284.8V1551.8H268.9Z"/>
<path fill="#597ce5" fill-opacity="0.875" d="M268.9 1551.8H284.8V1567.8H268.9Z"/>
<path fill="#5478e4" fill-opacity="0.900" d="M237 1551.8H252.9V1567.8H237ZM237 1535.9H252.9V1551.8H237Z"/>
<path fill="#4b70e2" fill-opacity="0.950" d="M252.9 1535.9H268.9V1551.8H252.9Z"/>
<path fill="#4169e1" fill-opacity="1.000" d="M252.9 1551.8H268.9V1567.8H252.9Z"/>
</g>
<path class="c" d="M274.5 1623.6L276.8 1624.8 292.7 1626.3 297.7 1623.6 308.7 1618.7 324.6 1608.8 327.3 1607.7 340.5 1597.3 343 1591.7 348.5 1575.8 345.9 1559.8 340.5 1551.5 336.3 1543.9 327.2 1527.9 324.6 1525.1 311.9 1512 308.7 1508.9 292.7 1498.4 288.1 1496 276.8 1487.6 260.9 1482.4 245 1480.1 229.1 1480.5 213.1 1487.5 197.2 1494.8 196.2 1496 189.2 1512 186.3 1527.9 188.4 1543.9 189.9 1559.8 197.2 1572.5 198.7 1575.8 208.5 1591.7 213.1 1597.1 229.1 1606.8 230.8 1607.7 245 1617.2 260.9 1620.3ZM228.8 1591.7L229.1 1591.9 245 1601.6 260.9 1607.6 276.8 1606.8 292.7 1606.4 308.7 1595.7 313.3 1591.7 323.2 1575.8 323 1559.8 317.7 1543.9 308.7 1532.1 305.5 1527.9 292.7 1515 288.2 1512 276.8 1505.1 260.9 1497 245 1497.5 230.9 1496 229.1 1495.8 228.8 1496 213.1 1508.1 208.7 1512 202 1527.9 201.5 1543.9 205.1 1559.8 213.1 1575.8 213.1 1575.8ZM239.7 1575.8L245 1579.5 260.9 1587.4 276.8 1585.5 292.7 1579 296 1575.8 300.3 1559.8 292.7 1543.9 292.7 1543.9 276.8 1529.5 274.2 1527.9 260.9 1515.9 245 1518.5 229.1 1521.2 222.7 1527.9 221.5 1543.9 223.9 1559.8 229.1 1567.8ZM245 1559.8L260.9 1568.7 274.1 1559.8 269.1 1543.9 260.9 1540 245 1543.4 244.7 1543.9 245 1559.8Z"/>
<path class="tr" d="M261.6 1392.4V1711.3"/>
<path class="th" d="M141.5 1552.7H459.9"/>
<rect x="254.3" y="1545.2" width="14.7" height="15.3" fill="#4682b4"/>
</g>
<clipPath id="k7"><rect x="475.9" y="1392.4" width="318.4" height="318.9"/></clipPath>
<g clip-path="url(#k7)">
<g transform="translate(473.74 1390.19) scale(2.212)" fill="#4169e1" filter="url(#bl)">
<path fill-opacity="0.070" d="M67 9h2v2h-2zm29 1h2v2h-2zm-33 1h2v4h-2zm26 0h2v2h-2zm-44 1h2v2h-2zm23 0h2v2h-2zm25 0h2v2h-2zm-18 1h2v2h-2zm5 0h2v2h-2zm28 1h2v4h-2zm-51 1h2v2h-2zm61 0h2v2h-2zm-66 1h2v2h-2zm8 0h2v2h-1v2h1v1h1v2h-3v-1h-1v-4h1zm33 0h2v2h-2zm3 0h2v2h-2zm9 0h2v2h-2zm-32 1h2v1h1v2h-2v1h2v-1h2v1h2v2h1v-2h4v2h2v-2h-1v-1h-2v-2h2v1h2v1h1v4h-1v2h1v2h2v-3h-1v-4h2v2h1v-1h2v4h2v-3h1v-1h2v-1h2v-1h-1v-1h-2v-2h2v1h2v2h1v2h1v3h2v-2h4v4h1v2h-2v1h-1v1h1v-1h2v2h-1v1h-2v1h2v2h-2v1h2v-1h6v1h1v2h-2v1h-2v1h1v2h1v2h3v-2h2v1h2v4h-2v-1h-1v3h1v1h1v-1h1v-2h1v-4h2v1h2v3h1v3h-2v-1h-3v1h2v1h1v1h1v4h-1v1h-4v-1h-2v1h2v2h-2v1h2v-1h2v2h-1v2h-1v1h1v-1h1v-2h1v-3h2v2h1v2h-2v1h-1v4h2v-1h2v1h1v4h-2v-1h-1v-1h-1v1h1v6h1v-2h2v2h-1v2h-1v1h2v-1h2v2h-1v1h-3v7h2v2h-1v1h-2v-1h-4v2h-2v2h-1v5h-2v1h2v2h1v-1h4v2h-2v2h-2v-1h-1v3h-3v-2h-1v2h-2v-3h1v-1h-2v6h-2v-1h-1v2h2v2h-2v-1h-1v3h-3v-1h-2v-1h-1v1h1v2h-2v-1h-1v1h1v2h-2v-1h-1v-1h-1v2h2v4h-1v2h-3v1h1v1h2v1h2v2h-2v-1h-1v2h-2v-2h1v-1h-2v1h-2v-5h-1v1h-2v1h-2v-1h-1v2h1v1h1v-1h2v2h-2v2h-2v1h-2v-2h-1v-2h-1v-1h-1v1h-1v1h-2v-2h-2v-4h-1v3h-1v1h-1v1h-1v2h-2v-4h2v-1h-2v-1h-3v1h-2v1h-2v-2h-2v2h2v2h-4v-2h-1v-1h-1v2h-2v-2h1v-2h2v1h2v-1h-2v-1h-1v-2h-1v2h-1v1h-2v-1h-1v2h-1v3h-2v-1h-1v-2h-1v-1h-3v-2h-1v-1h-2v-2h1v-1h-2v6h-2v-1h-3v-2h-1v-2h2v2h1v-1h1v-3h-1v1h-2v-2h1v-1h6v-2h2v-1h-2v1h-4v-2h-1v-2h-2v-1h-1v1h1v2h1v4h-2v-4h-2v2h-1v1h2v2h-2v-1h-4v-2h3v-1h-1v-2h1v-1h-1v-1h-2v-1h-1v-2h1v-2h2v-2h1v-1h1v-2h-1v2h-1v1h-2v-2h1v-1h-1v-1h-1v-2h-1v-2h-2v-2h-1v-1h-1v-2h-1v-1h-1v-2h1v-2h1v-1h-3v-1h-1v-4h-1v-2h2v-1h2v1h1v-1h2v4h1v1h1v-2h-1v-2h1v-1h-1v-3h1v-1h1v-2h-3v-1h-2v1h2v1h1v2h-2v-1h-1v-1h-1v2h-2v-2h1v-2h1v-2h2v-1h-3v-4h4v4h1v2h1v-1h1v-1h-2v-2h1v-2h2v-2h1v-2h-1v1h-3v1h-3v1h-2v1h-2v-2h2v-1h1v-1h3v-1h3v-2h-1v-1h-4v-2h4v-1h1v-4h2v3h1v1h1v-1h-1v-2h1v-1h1v-2h2v-1h2v1h1v-2h2v-2h-1v-2h-1v-2h2v2h2v1h2v1h1v1h3v-5h-1v-1h-1v1h-1v1h2v2h-2v-1h-3v-2h1v-1h1v-1h-2v-4h2v2h1v-1h2v-1h2v2h-2v1h1v1h1v-2h3v-1h1v-1h-2v-1h-4v-3h2v1h2v1h3v-2h2v-1h2v1h1v2h-2v-1h-1v1h1v2h-2v1h1v1h1v-2h2v-1h2v1h2v1h1v-1h-1v-1h-2v-2h2v1h1v-4h3v-1h-1v-2h2v1h2v1h1v-1h2zm5 0h2v2h-2zm3 0h2v2h-2zm-39 1h2v2h-2zm-8 1h2v2h-2zm83 0h2v3h-2zm-73 1h2v2h-2zm51 0h3v2h-3zm-23 1v1h1v-1zm30 1v1h1v-1zm-75 1h2v2h-2zm9 0h2v1h2v2h-4zm31 0v1h2v1h1v1h1v-2h-2v-1zm11 0v2h1v1h1v-1h-1v-2zm37 1h2v2h-2zm-49 1v2h2v-1h-1v-1zm7 0v1h1v-1zm35 0v1h1v-1zm-15 1v1h1v-1zm31 0h2v2h-2zm-93 1h2v2h-2zm68 0v1h-1v1h1v-1h2v1h2v1h3v-1h-1v-2zm10 0v1h1v-1zm-50 1v1h-1v1h1v-1h1v-1zm48 0v1h1v-1zm-73 1h2v2h-2zm48 0v1h1v-1zm33 0h2v2h-2zm-70 1v1h1v-1zm7 0v3h2v1h1v-2h1v-1h-2v-1zm38 0v1h1v-1zm10 0v1h1v1h1v-1h-1v-1zm20 1h2v1h2v2h-2v1h-1v1h-1v1h-2v-2h1v-1h1zm-105 1h2v2h-2zm12 0h2v2h-2zm29 2v1h1v-1zm-22 2h2v1h2v2h-2v-1h-1v1h-2v-2h1zm99 0h2v2h-2zm-105 1h2v2h-2zm96 0h2v2h-2zm2 2h2v2h-2zm-107 1h2v2h-2zm97 0h2v1h1v2h-2v-1h-1zm4 0h2v2h-2zm-12 1v1h1v-1zm-84 1h2v3h-2zm12 0v1h1v-1zm-26 2h2v2h-2zm9 0h2v2h-2zm15 0v1h1v2h1v-2h-1v-1zm96 0h2v2h1v2h-2v-2h-1zm-109 2h2v2h-2zm9 2v1h-1v1h2v3h2v-1h-1v-2h-1v-2zm111 1h2v2h-2zm-106 1v1h1v-1zm83 0v1h1v-1zm-97 1h2v2h-1v1h-1v1h-2v-2h1v-1h1zm108 0h2v1h2v2h-2v-1h-2zm-6 1v1h1v-1zm-109 1h2v2h-2zm108 1v1h1v-1zm10 1h2v2h-2zm-101 1v1h1v-1zm104 0h2v2h-1v1h-2v-2h1zm-17 1v1h1v-1zm12 3h2v4h1v4h-2v-2h-4v-2h3zm-99 1v1h1v-1zm-16 3h2v2h-2zm119 1h2v2h-2zm-123 1h2v1h1v2h-2v-1h-1zm4 1h3v2h-3zm7 2h2v2h-2zm-10 1h3v2h-3zm120 0h3v3h-1v1h-2zm8 1h2v2h-2zm-120 3v1h1v1h1v-1h-1v-1zm123 1h2v2h-2zm-4 1h2v2h-1v1h-2v-2h1zm-117 1v1h1v-1zm7 0v1h1v-1zm90 0v2h1v-2zm-108 1h2v2h-2zm4 0h2v2h-2zm9 0v1h1v2h1v1h1v2h1v-2h2v1h1v-2h-4v-2h-2v-1zm110 2h2v2h-2zm-122 1h2v2h-2zm114 0v2h1v-1h1v-1zm-4 1v3h1v-2h1v-1zm-105 1h2v2h1v2h-2v1h-2v-1h-2v-2h2v1h2v-1h-1zm113 0h2v1h1v-1h2v2h-1v3h-2v-3h-2zm-5 1v4h-1v1h3v-2h-1v-3zm-97 1v3h1v-3zm3 4v1h1v-1zm101 0h2v2h-2zm-112 2h2v2h-2zm9 1v1h1v-1zm96 0h3v2h-3zm5 0h2v3h-2zm-107 1h3v1h1v2h1v2h-1v1h2v2h-1v2h-2v-2h1v-1h-2v-2h1v-2h-1v-1h-2zm16 2v1h1v-1zm83 0h4v4h-3v-2h-1zm13 0h2v2h-2zm-6 1h2v2h-2zm-12 2v1h-2v1h3v-2zm12 1h2v3h-1v1h-2v-1h-1v-2h2zm3 0h2v2h-2zm-100 2v2h-2v1h3v1h2v-1h-2v-2h2v-1zm86 1v2h1v-2zm-80 2v1h1v-1zm94 1h2v2h-2zm-91 1v1h1v2h1v-2h-1v-1zm-16 1h2v2h-2zm80 1v2h-1v1h2v-3zm11 1h2v4h-2zm9 0h2v2h-2zm-77 1v1h2v-1zm74 0h2v2h-2zm-102 1h2v2h-2zm93 2h2v2h1v2h-3zm-59 1v1h2v-1zm41 0v1h1v-1zm22 0h2v4h-2zm-92 1h2v2h-2zm60 0v1h1v-1zm-39 1v1h-1v1h2v2h3v1h1v1h1v-1h1v-1h-3v-3h-1v-1zm-14 1h2v2h-2zm20 0v1h1v-1zm8 0v1h1v-1zm33 0v1h1v2h-1v1h4v-1h-2v-2h-1v-1zm11 0h3v2h-1v1h1v2h-2v-1h-3v-2h2zm17 1h2v2h-2zm-38 1v1h2v-1zm32 0h4v2h-1v1h-2v1h-2v-2h1zm-53 1v1h1v-1zm-27 1h2v2h-2zm31 0v1h2v-1zm25 0v1h1v-1zm7 0v1h1v-1zm10 0h4v2h-1v2h-2v-2h-1zm-70 2h2v1h1v2h-2v-1h-1zm16 0h2v2h-2zm47 0h2v2h2v2h-2v-1h-2zm-55 1h2v2h-2zm73 0h2v2h-2zm-33 2v1h1v-1zm-31 1h2v2h-2zm-7 2h2v2h-2zm15 0h2v2h-2zm8 1h2v2h-2zm8 0h2v2h-2zm-14 1h2v2h-2zm9 0h2v1h1v2h-2v-1h-1zm-34 3h2v2h-2zm37 0h2v2h-2zm-29 2h2v2h-2z"/>
<path fill-opacity="0.151" d="M96 10h2v2h-2zm-28 2h2v2h-2zm-5 1h2v2h-2zm17 0h2v2h-2zm28 1h2v4h-2zm-51 1h2v2h-2zm61 0h2v2h-2zm-66 1h2v2h-2zm8 0h2v2h-1v2h1v1h1v2h-3v-1h-1v-4h1zm33 0h2v2h-2zm3 0h2v2h-2zm9 0h2v2h-2zm-32 1h2v1h1v2h-2v1h2v-1h2v1h2v2h1v-2h4v2h3v4h1v1h2v-4h-1v-3h2v2h1v-1h2v4h2v-1h2v-1h-1v-1h5v-1h-1v-2h-1v-1h-2v-2h2v1h2v2h1v2h1v2h-1v1h4v1h1v2h-2v1h2v2h1v-1h2v2h-1v1h-2v1h2v2h-2v1h1v2h1v-3h6v1h1v2h-2v1h-2v1h1v2h1v2h3v-2h2v1h2v4h-2v-1h-1v3h1v2h1v-2h1v-2h1v-2h4v2h1v3h-2v-1h-3v1h2v1h1v1h1v4h-4v-1h-1v-2h-1v3h-1v1h2v2h-2v1h2v-1h2v2h-1v2h-1v1h1v-1h1v-2h1v-3h2v4h-1v1h-1v4h5v3h-3v-1h-1v1h1v6h1v-2h2v2h-1v2h-1v1h3v2h-3v7h2v2h-1v1h-2v-1h-1v-6h-1v-1h-1v4h-1v1h2v2h-2v2h-2v2h-1v5h-2v2h-1v2h2v-1h-1v-1h2v1h1v-1h4v2h-2v2h-2v-1h-1v3h-3v-2h-1v1h-2v-2h1v-1h-2v6h-2v-1h-1v2h2v2h-2v-1h-2v1h1v2h-2v-3h-1v2h-2v-1h-1v1h1v2h-2v-1h-1v1h1v2h-2v-1h-1v-1h-1v2h2v4h-1v2h-3v1h1v1h2v1h2v2h-2v-1h-1v2h-2v-2h1v-1h-2v1h-2v-5h-2v-2h-1v4h-2v-1h-1v2h1v1h1v-1h2v2h-2v1h-2v2h-2v-2h-1v-2h-1v-1h-1v1h-1v1h-2v-2h-2v-4h-1v3h-1v1h-1v1h-1v2h-2v-2h1v-2h1v-1h-2v-1h-3v1h-2v1h-2v-3h-1v1h-2v-2h1v-1h-2v1h-2v-2h1v-1h1v-1h-2v1h-1v3h-1v1h-2v-1h-1v-1h-1v-2h1v-1h-2v1h-2v-1h-1v-1h-3v1h-1v1h2v2h3v1h1v1h1v-1h2v2h-1v3h-2v-1h-1v-2h-1v-1h-3v-2h-1v-1h-2v-2h1v-2h-1v1h-1v6h-2v-2h-1v-2h1v-3h-1v1h-2v-2h1v-1h6v-2h2v3h1v-3h3v-1h-6v1h-4v-2h-1v-2h-2v-1h-1v3h-3v1h-2v-2h1v-1h-1v-1h-2v-2h4v3h1v-1h1v-2h-2v-2h2v-1h-3v2h-3v-2h2v-2h1v-1h2v-2h-2v2h-1v1h-2v-2h1v-2h-2v-2h-1v-2h1v-1h1v-5h-1v5h-1v1h-2v-2h-1v-2h1v-1h-3v-2h1v-2h1v-1h-1v-2h2v2h1v3h2v-2h2v1h2v1h2v-1h-1v-1h-2v-1h-3v-1h-1v-1h-2v-1h-2v-1h-1v1h-1v1h-2v-4h-1v-2h2v-1h2v2h-2v1h1v1h1v-2h3v2h1v1h1v-2h-1v-2h2v-1h-2v-3h1v-1h1v-2h-3v-1h-2v1h2v1h1v2h-2v-1h-1v-1h-1v2h-2v-2h1v-2h1v-2h2v-1h-1v-2h-2v-2h4v4h1v2h1v-1h1v-1h-2v-2h1v-2h2v-2h2v1h1v-2h-2v-1h-1v1h-3v1h-3v1h-2v1h-2v-2h2v-1h1v-1h3v-1h3v-2h-1v-1h-4v-2h4v-1h1v-4h2v3h1v1h1v-1h-1v-2h1v-1h1v-1h1v-1h1v-1h2v2h-1v2h-2v1h1v2h1v-3h2v-1h-1v-1h1v-3h2v-2h-1v-2h-1v-2h2v2h1v1h1v1h3v1h1v1h2v-7h1v-3h3v-1h1v-1h-2v-1h-4v-2h4v1h2v1h1v-3h2v-1h2v1h1v2h-2v-1h-1v1h1v2h-2v1h1v1h1v-2h2v-1h2v1h2v2h2v-1h-1v-1h-1v-1h-2v-2h2v1h1v-4h3v-1h-1v-2h2v1h1v1h2v-1h2zm5 0h2v2h-2zm6 1h2v1h2v2h-2v-1h-2zm-50 1h2v2h-2zm83 0h2v3h-2zm-73 1h2v2h-2zm51 0h2v2h-2zm-23 1v1h1v-1zm-5 1v2h2v1h1v1h1v-2h-2v-1h-1v-1zm10 0v3h2v1h2v-1h-2v-2h-1v-1zm-50 1h2v2h-2zm9 0h2v1h2v2h-2v-1h-2zm79 1h2v2h-2zm-49 1v2h2v-1h-1v-1zm7 0v1h1v-1zm20 1v1h1v-1zm-62 1h2v2h-2zm11 0h2v2h1v-1h2v-1h2v2h-2v1h1v2h-2v1h-1v2h-3v-2h1v-1h1v-1h-2zm57 0v1h-1v1h1v-1h2v1h2v1h3v-1h-1v-2zm11 0h2v2h-2zm-51 1v1h-1v1h2v-2zm-25 1h2v2h-2zm35 0v1h1v-1zm13 0v1h1v-1zm33 0h2v2h-2zm-70 1v1h1v-1zm7 0v3h1v1h2v-2h1v-1h-2v-1zm14 0v1h1v-1zm23 0v1h2v-1zm8 0v1h1v1h1v-1h-1v-1zm3 0v1h1v1h1v-1h-1v-1zm-85 2h2v2h-2zm107 0h2v2h-2v1h-1v1h-1v1h-2v-2h1v-1h1v-1h2zm-66 2v1h1v-1zm44 1v1h1v-1zm4 0v1h1v-1zm2 0v2h1v-2zm-72 1h2v1h2v2h-2v-1h-1v1h-2v-2h1zm99 0h2v2h-2zm-105 1h2v2h-2zm96 0h2v2h-2zm-17 1v1h1v-1zm19 1h2v2h-2zm-107 1h2v2h-2zm97 0h2v1h1v2h-2v-1h-1zm-8 1v1h3v-1zm-84 2h2v2h-2zm87 0v1h1v-1zm-101 1h2v2h-2zm9 0h2v2h-2zm111 0h2v2h1v2h-2v-2h-1zm-109 2h2v2h-2zm9 2v1h-1v1h2v3h2v-1h1v-1h-2v-2h-1v-1zm85 1v1h1v-1zm26 0h2v2h-2zm-106 1v1h1v-1zm82 0v1h2v-1zm-96 1h2v2h-1v1h-1v1h-2v-2h1v-1h1zm102 1v1h1v-1zm8 0h2v2h-2zm-117 1h2v2h-2zm22 0v1h1v-1zm89 1v1h1v-1zm7 1h2v2h-2zm-14 2v1h1v1h1v-1h-1v-1zm16 0h2v2h-2zm-4 3h2v2h-2zm-99 1v1h1v-1zm96 3h6v4h-2v-2h-4zm7 1h2v2h-2zm-122 2h2v2h-2zm3 0h3v2h-3zm15 1v1h-1v1h1v-1h1v-1zm-8 1h2v2h-2zm-10 1h2v2h-2zm120 0h2v1h1v2h-1v1h-2zm8 1h2v2h-2zm-15 1v2h1v-2zm18 3h2v2h-2zm-114 2v1h1v-1zm90 0v2h1v-2zm19 0h2v2h-2zm-127 1h2v2h-2zm4 0h2v2h-2zm119 2h2v2h-2zm-11 1v1h-1v3h1v-2h1v-2zm3 0v2h1v-1h1v-1zm-109 2h2v2h1v2h-2v1h-2v-2h2v-1h-1zm113 0h2v1h2v4h-2v-3h-2zm-99 6v1h1v-1zm101 0h2v2h-2zm-12 2v1h1v-1zm-91 1v1h1v-1zm4 0v1h1v-1zm92 0h3v2h-3zm5 0h2v3h-2zm-107 1h3v1h1v2h1v2h-1v1h2v2h-1v2h-2v-2h1v-1h-2v-2h1v-2h-1v-1h-2zm95 0v1h1v-1zm-80 1v2h2v-1h-1v-1zm86 1h2v4h-3v-2h1zm11 0h2v2h-2zm-6 1h2v2h-2zm-12 2v1h-2v1h3v-2zm15 1h2v2h-2zm-5 1h4v2h-1v1h-2v-1h-1zm-14 1v1h1v-1zm-75 3v1h1v-1zm94 1h2v2h-2zm-92 1v1h2v2h1v-2h-1v-1zm70 0v1h1v-1zm-5 2v2h-1v1h2v-3zm-69 1h2v3h-2zm80 0h2v2h-2zm9 0h2v2h-2zm-3 1h2v2h-2zm-102 1h2v2h-2zm9 0h4v1h2v2h-2v-1h-4zm84 2h2v2h1v2h-3zm-59 1v1h2v-1zm41 0v1h2v-1zm22 0h2v4h-2zm-92 1h2v2h-2zm60 0v1h1v-1zm-29 1v1h1v-1zm33 0v1h1v-1zm-24 1v1h1v-1zm22 0v1h1v-1zm6 0v1h1v2h-1v1h5v1h1v-2h-1v-1h-1v1h-2v-2h-1v-1zm11 0h3v2h-1v1h1v2h-2v-1h-3v-2h2zm-21 2v1h2v-1zm33 0h3v2h-1v1h-2v1h-2v-2h2zm-46 1v1h1v-1zm4 0v1h-1v1h2v-2zm-39 1h2v2h-2zm31 0v2h1v-1h2v-1zm16 0v1h1v-1zm26 0h4v2h-4zm-50 1h2v1h2v2h3v2h-4v-2h-1v-1h-1v2h-2v-2h1zm-20 1h2v1h1v2h-2v-1h-1zm8 1h2v2h-2zm55 0h2v2h-2zm18 0h2v2h-2zm-33 2v1h1v-1zm-31 1h2v2h-2zm-7 2h2v2h-2zm15 0h2v2h-2zm16 1h2v2h-2zm-14 1h2v2h-2zm10 1h1v1h-1zm-35 2h2v2h-2zm8 2h2v2h-2z"/>
<path fill-opacity="0.241" d="M96 10h2v2h-2zm-28 2h2v2h-2zm12 1h2v2h-2zm28 1h2v4h-2zm-51 1h2v2h-2zm61 0h2v2h-2zm-25 1h2v2h-2zm-20 1h2v1h1v2h-2v-1h-1zm5 0h2v2h-2zm-19 1h2v3h2v2h-3v-1h-1zm-25 1h2v2h-2zm33 0h2v2h2v1h1v1h1v-2h2v2h-1v1h-4v-1h-1v-1h-2v2h2v1h1v1h1v-1h2v1h1v1h2v-1h-2v-2h2v-1h1v3h4v1h1v-1h-1v-1h-1v-1h1v-3h4v3h1v-1h2v3h-1v1h2v1h2v-1h4v-1h3v-1h2v2h-1v1h-1v1h1v-1h2v1h2v1h3v-1h3v2h-1v2h1v1h2v2h-2v1h1v2h2v-1h-1v-2h6v1h1v2h-2v-1h-3v1h1v2h1v3h1v1h4v-1h3v4h-2v-1h-1v2h-1v1h-2v-3h-2v3h2v1h2v-1h2v2h1v-2h2v2h-1v1h1v-1h2v1h1v1h-2v1h3v2h-4v-1h-1v-2h-1v3h-1v1h2v2h-2v1h2v4h1v-1h1v-2h2v-1h-1v-2h2v4h-1v1h-1v4h-1v6h3v3h-2v2h-1v1h1v-1h2v-2h1v-2h2v2h-1v2h-1v1h3v2h-3v3h-1v2h-1v-5h1v-1h-2v3h-1v4h-2v1h1v4h-2v2h-2v-1h-1v-2h-2v1h1v2h2v5h-1v2h-1v2h2v-1h2v-1h2v4h-2v-1h-1v3h-2v-2h-1v-1h-1v2h-2v-2h1v-1h-2v2h-1v1h-1v1h2v2h-2v-1h-2v3h-2v-1h-2v-3h-1v2h-1v4h1v2h-2v-1h-1v1h1v2h-2v-1h-1v-2h-1v3h2v2h-3v-1h-1v1h-2v-2h2v-1h-4v1h1v2h-1v1h-2v-1h-1v1h1v2h-1v1h-2v2h-2v1h1v2h1v2h-2v-2h-1v-2h-1v-1h-1v1h-1v1h-2v-3h-2v-3h2v-1h-2v-1h1v-1h-1v1h-2v-1h-1v-1h-1v3h-1v1h1v2h-1v-1h-4v1h-2v1h-2v-2h2v-1h2v-1h-3v1h-2v-1h-1v-1h-3v-1h1v-1h1v-1h-2v-1h-1v2h-1v3h-1v1h-2v-1h-1v-4h-2v1h-2v-1h-1v-1h-5v-1h-1v1h-1v2h-1v2h1v2h-2v-2h-1v-1h1v-4h-2v-1h1v-1h2v1h2v-1h1v-2h2v3h1v-2h2v2h2v-1h-1v-3h-6v1h-4v-2h-1v-2h-2v-2h-2v-4h-3v2h-2v-2h1v-2h2v-1h1v-2h-2v1h-1v1h-1v-3h-2v-2h2v-2h-1v-6h-1v-3h2v2h4v-1h-1v-1h-2v-1h-3v-1h-1v-5h-1v-2h2v-2h-2v-2h1v-1h1v-2h-3v-2h-1v1h-2v-2h4v1h1v-1h1v-2h1v-1h-2v-2h2v-2h2v1h1v-4h1v-1h2v-1h1v-1h-1v1h-3v-5h-1v-2h1v-1h1v-1h1v-1h2v3h-2v1h1v2h1v-2h1v-1h1v-5h2v-1h1v-1h-2v-2h-1v-2h2v2h1v1h1v1h3v2h4v-2h-1v-5h1v-3h2v1h1v3h1v1h2v-2h1v-1h-1v-1h-1v-1h-1v-3h1v-3h2v3h-1v3h3v2h1v-1h4v-1h2v-1h-1v-3h1v1h1v1h2v-1h-1v-1h-2v-1h-1v-3h3zm4 0h2v2h-2zm-27 1h2v2h-2zm51 0h2v2h-2zm7 0h2v2h1v2h-1v1h2v2h-5v-2h1v-2h1v-1h-1zm15 0h2v2h-2zm-41 1h1v1h-1zm2 0h2v2h-2zm12 1h2v1h1v-1h2v4h-4v-2h-1zm-63 1h2v2h-2zm30 0h2v2h-2zm-19 1h2v2h-2zm23 0h2v2h-2zm54 0h2v2h-2zm-8 2h1v1h-1zm-76 1h2v2h-2zm11 0h2v4h-2zm18 0h3v2h-3zm50 0h2v2h-2zm-65 1h2v2h1v2h-2v1h-1v1h-1v1h-2v-2h2v-2h2v-1h-1zm27 0v1h1v-1zm9 0v1h1v1h1v-2zm-47 1h2v2h-2zm35 0v1h1v-1zm46 0h2v2h-2zm-49 1v1h1v-1zm23 0v1h2v-1zm7 0v1h2v1h1v-1h-1v-1zm4 0v1h1v1h1v-1h-1v-1zm10 1h1v1h-1zm-95 1h2v2h-2zm89 0v1h2v1h1v-1h-1v-1zm18 0h2v2h-2zm-60 1v1h1v-1zm-6 1v1h1v-1zm32 0v1h1v-1zm12 0v2h1v-2zm3 0v1h1v2h2v1h1v1h1v-1h-1v-3h-3v-1zm17 0h1v1h-1zm-1 1h1v1h-1zm-85 1h2v2h-2zm17 0v1h1v-1zm82 0h2v2h-2zm-105 1h2v2h-2zm96 0h2v2h-2zm2 2h2v2h-2zm-107 1h2v2h-2zm23 0v1h1v-1zm74 0h2v2h-2zm-8 1v1h3v2h1v-3zm-80 2h2v5h-1v1h-1zm16 0v1h1v-1zm-34 1h2v2h-2zm9 0h2v2h-2zm111 0h2v2h-2zm-92 1v1h1v-1zm88 1h2v2h-1v1h2v1h-4v-1h-1v-2h2zm-103 2h4v2h-4zm14 1v1h1v-1zm3 0v1h1v-1zm-11 1h2v2h-1v2h-2v-3h1zm-8 1h2v2h-1v1h-2v-2h1zm15 2v1h1v-1zm-11 1h1v1h-1zm-3 1h1v1h-1zm-3 1h2v2h-2zm15 0v1h1v-1zm84 1v1h1v1h1v-1h-1v-1zm17 0h1v1h-1zm-114 1h4v2h-4zm109 2h2v2h-2zm-99 1v1h1v-1zm98 3h4v2h-4zm5 1h2v2h-2zm-111 1h2v1h1v2h-2v-1h-1zm-11 1h2v2h-2zm4 0h2v2h-2zm4 0h2v2h-2zm10 1v1h-1v1h1v-1h1v-1zm97 0h4v3h-2v-1h-2zm-105 1h2v2h-2zm111 1h1v1h1v2h-1v1h-2v-3h1zm-102 1v1h-1v2h1v-2h1v-1zm95 0h2v2h-2zm14 0h2v2h-2zm-120 1h2v2h-2zm2 2h3v2h1v2h-3v-2h-1zm-2 2h1v3h-2v-2h1zm9 1v1h1v-1zm90 0v2h1v-2zm-104 1h2v2h-2zm8 1h1v1h-1zm8 0v1h1v-1zm103 1h2v2h-2zm-110 1h2v3h-1v1h3v4h-1v2h-2v-2h-1v-2h1v-1h-3v-2h1v-2h1zm99 0v1h-1v4h1v-3h1v-2zm-106 2h2v2h1v2h-2v1h-2v-2h2v-1h-1zm115 1h2v4h-2zm-100 4v1h-1v1h1v-1h2v-1zm93 1h1v2h-1zm4 0h2v2h-1v1h-2v-2h1zm3 0h2v2h-2zm-104 2h1v1h-1zm4 0v3h2v-2h-1v-1zm88 0v1h1v-1zm5 1h3v2h-3zm-102 1h3v1h1v2h-2v-1h-2zm107 0h2v2h-2zm-92 1v2h2v-1h-1v-1zm86 1h2v4h-3v-2h1zm5 1h2v2h-2zm-104 2h2v1h2v2h-2v-1h-2zm92 0v1h-2v1h1v1h1v-1h1v-2zm15 1h2v2h-2zm-19 1v2h1v-2zm16 0h2v2h-1v1h-2v-2h1zm-17 3v1h1v-1zm-83 1h1v1h-1zm2 0h2v3h1v-1h2v2h-1v1h-2v1h-1v-3h-1zm7 0v1h1v-1zm72 1v2h1v-2zm22 0h2v2h-2zm-92 1v1h1v2h2v-2h-1v-1zm61 3v1h1v-1zm15 0h2v2h-2zm9 0h2v2h-2zm-94 2h2v1h2v2h-2v-1h-2zm80 0h2v2h-2zm-6 1h1v1h-1zm-51 1v2h2v-1h-1v-1zm42 0v1h-1v1h2v-2zm12 0h1v1h-1zm5 0h2v4h-2zm-53 1v1h1v-1zm15 1v1h1v-1zm4 0v1h1v-1zm6 0v1h1v-1zm4 0v2h-2v2h2v-1h1v-3zm-33 1v1h-1v1h1v-1h1v-1zm-13 1h2v1h2v2h3v1h1v1h1v-1h2v2h-2v2h-2v-2h-1v-1h-3v-2h-1v-1h-2zm22 0v1h1v-1zm39 0h2v2h-1v1h2v2h-2v-1h-3v-2h2zm-21 2v1h2v-1zm34 0h2v2h-1v1h-2v-2h1zm-47 1v1h1v-1zm-35 1h2v2h-2zm46 0v1h2v-1zm13 0h3v1h3v2h-3v1h1v1h2v2h-1v2h-2v-2h1v-1h-2v1h-2v-2h1v-1h-1zm-36 1h2v2h-2zm3 1h1v2h-1zm-22 1h1v1h-1zm35 0h2v2h-1v1h-1v2h-2v-2h1v-2h1zm27 0h2v2h-2zm-38 1h2v2h-2zm27 1h2v2h-2zm-35 1h2v2h-2zm33 0h1v1h1v1h-2zm-40 2h2v2h-2zm15 0h2v2h-2zm2 2h2v2h-2z"/>
<path fill-opacity="0.333" d="M96 10h2v2h-2zm-28 2h2v2h-2zm12 1h2v2h-2zm28 3h2v2h-2zm-35 1h2v1h1v2h-2v-1h-1zm5 0h2v2h-2zm-19 1h2v2h-2zm8 1h2v3h-1v-1h-1zm5 0h1v2h-1zm-12 2h2v2h-2zm5 0h1v1h1v3h-2zm8 0h2v2h-2zm-3 1h2v2h-2zm12 0h1v4h-1v-1h-1v-2h1zm8 0h2v2h1v-1h1v2h-1v1h-2v-2h-1zm-63 1h2v2h-2zm30 0h1v1h-1zm29 0h2v3h-1v1h2v2h-1v1h-1v1h5v-1h2v-1h-2v1h-2v-2h2v-1h3v-1h3v-1h1v3h-3v1h-1v3h3v1h1v-1h3v-1h-1v-2h2v1h4v-1h1v1h1v1h-1v2h1v1h2v2h-2v1h-2v-5h-4v1h3v2h-2v-1h-1v1h1v2h2v1h1v1h4v2h-4v1h4v3h1v-1h1v-1h-1v-4h2v3h1v4h-3v1h3v3h2v2h-1v1h1v-1h1v-1h3v1h-1v2h1v-2h2v2h-1v3h-1v1h2v2h-2v1h2v5h1v-2h1v-2h2v2h-1v2h-1v3h-1v1h1v2h-2v1h1v1h1v2h1v3h-1v1h1v-1h2v-1h1v2h1v2h-2v-1h-2v1h-2v-1h-2v1h-1v-1h-2v2h1v-1h1v1h1v2h-1v1h1v2h1v1h1v4h-2v1h-1v1h-1v-1h-1v-2h-2v1h1v2h2v2h-1v1h1v2h-1v-1h-1v-1h-2v1h-2v1h-2v1h1v1h2v-1h2v-1h2v2h-1v2h2v-1h2v2h-2v1h1v2h-2v-2h-1v-1h-2v-1h-2v2h-1v1h-1v1h2v1h-4v3h-1v-1h-2v-1h-1v-1h1v-1h-2v1h-1v4h-1v1h-1v1h-3v2h-1v1h3v2h-3v-1h-1v-4h1v-4h-1v2h-1v1h-1v2h1v1h-3v4h-2v-2h-1v2h1v2h-1v1h-2v2h-2v1h-2v-2h2v-3h1v-1h-1v1h-1v2h-1v1h-1v1h-1v1h-2v-1h1v-1h1v-1h-4v-1h2v-1h2v1h1v-2h-3v-1h-1v-1h-2v1h-1v-1h-1v-1h-1v3h-1v2h-4v1h-2v-2h2v-1h-1v-2h1v-1h-1v1h-2v3h-2v-2h-2v-6h-2v1h1v1h-2v1h-1v2h-1v3h-2v-1h-1v-2h1v-1h1v-1h1v-2h1v-1h-1v-1h-3v1h-1v1h3v2h-7v-1h-5v-1h-1v1h-1v1h-2v-3h3v-1h2v1h4v1h2v1h1v-1h-1v-3h-1v-2h-7v1h-2v-2h2v-1h1v-1h-2v-1h-2v-1h-1v-1h-1v1h-3v-2h2v-1h-2v-1h-4v-2h3v-2h1v-1h1v-2h-1v-1h-1v-1h-1v-1h-1v-2h2v-1h-3v3h1v3h3v2h-1v-1h-1v1h-3v-5h-1v-6h-1v-3h2v2h1v1h1v-1h2v1h1v-1h-1v-1h-1v-1h-2v-1h-3v-2h1v-1h1v-1h-2v-2h-1v-1h1v-1h2v1h1v-2h1v-1h-1v1h-3v-1h-2v-1h1v-2h1v-3h-1v-2h1v-2h2v1h1v1h1v-2h-2v-1h-3v-2h2v-2h2v2h-1v1h1v-1h1v-5h1v-1h2v-1h3v-3h-1v-1h-1v-2h2v1h2v-1h-2v-3h3v-1h-3v-2h3v-1h2v-1h2v2h2v2h1v-2h1v-3h-1v-2h2v-1h-1v-1h1v-3h1v1h1v4h3v-2h2v-1h-1v-1h-1v-1h3v3h1v-2h4v-1h2v1h1v1h1v-1h3v-2h-2v1h-3v-1h-1v-2h2v1h2v-2h2v2h1v-1h2v1h3v-1h2v2h1v-2h2v4h2v-3h1v-3h1v2h1zm16 0h2v2h2v2h-2v-1h-1v1h-2v-2h1zm-48 1h2v2h-1v-1h-1zm7 0h2v2h-2zm14 0h2v1h-1v1h-1zm40 0h2v2h-2zm-62 3h2v2h-2zm7 0h3v2h-3zm12 1v1h1v-1zm4 0v1h1v-1zm-42 1h2v2h-2zm9 0h1v2h-1zm55 0h2v2h-2zm17 0h2v2h-2zm-68 2h1v1h-1zm37 0v2h2v-1h-1v-1zm-40 1h1v1h-1zm35 0v1h1v-1zm-41 1h2v2h1v2h-2v-2h-1zm5 0h1v2h-1zm14 0v1h-1v1h1v-1h1v-1zm5 0v1h1v-1zm26 1v1h1v-1zm10 0v1h2v1h1v-2zm-48 1v1h1v1h1v-1h-1v-1zm62 1h1v2h-1zm3 0h1v1h2v2h-2v-1h-1zm-81 1h1v1h-1zm67 1v1h1v-1zm-82 2h2v2h-2zm23 0v1h1v-1zm-7 1h1v3h-2v1h-1v1h-2v-2h1v-1h2v-1h1zm10 1v1h-1v1h1v-1h1v-1zm-17 1h2v2h-2zm-18 1h2v2h-2zm110 0h3v4h-2v-1h-2v1h1v1h-3v-2h-1v-2h4zm10 0h2v2h-2zm-101 2h1v1h-1zm4 0h1v5h-2v-4h1zm93 0h2v2h-2zm-91 1h1v1h1v2h-1v-1h-1zm-12 1h3v2h-3zm18 0v1h-1v1h1v-1h1v-1zm-12 3h1v2h-1v1h-1v-2h1zm-9 1h2v2h-2zm105 0h1v1h-1zm-90 1v1h2v-1zm88 1h2v1h1v2h-2v-2h-1zm-89 1v2h1v-2zm81 1v1h1v-1zm3 1v1h1v2h1v-2h-1v-1zm-95 1h2v2h-2zm14 1v1h1v-1zm77 0v1h1v-1zm3 3v1h1v-1zm14 2h2v2h-2zm-119 3h1v1h-1zm4 0h2v2h-2zm4 0h2v2h-2zm4 0h1v1h-1zm6 0v2h-1v1h2v-1h1v-2zm90 0v1h2v-1zm7 1h4v2h-1v1h-1v-1h-2zm-105 1h2v2h-2zm95 0v1h1v-1zm-84 1v1h1v-1zm87 1v1h1v-1zm6 0h1v1h-1zm6 0h2v3h-2zm8 0h2v2h-2zm-120 1h2v2h-2zm3 2h1v2h2v2h-3zm103 0h2v2h-2zm-107 3h2v2h-2zm100 0v2h1v-2zm-88 2v1h1v-1zm-7 3h1v4h-2v-3h1zm100 1h1v2h-2v-1h1zm3 0h2v2h-2zm5 1h2v2h-2zm-106 1h1v1h1v2h-2v1h1v2h-2v-2h-1v-2h2zm-10 1h2v2h-2zm107 0h1v2h-1zm-86 1v1h1v-1zm80 2v1h2v-1zm12 0h2v2h-3v-1h1zm-94 1v1h2v-1zm85 0v2h2v-2zm-82 2v4h2v-2h-1v-2zm87 0h2v2h-2zm-102 1h3v2h-3zm107 0h2v2h-2zm-18 3v1h1v-1zm12 1h1v2h-1zm-97 2h2v2h-2zm8 0v1h1v-1zm5 0v2h1v-2zm74 1h1v1h-1zm14 1h2v1h-2zm-21 2v1h1v-1zm5 0v1h1v-1zm-81 1h2v2h-2zm7 1h1v2h-1zm62 0v1h1v-1zm10 0v2h1v-2zm-76 1h1v1h1v1h-1v1h-3v-1h1v-1h1zm73 0v1h1v-1zm8 0h2v1h-2zm-75 1h1v2h-1zm20 0v1h1v-1zm41 2v2h1v-2zm-70 2h2v2h-2zm16 1h2v1h-2zm53 0v1h1v-1zm13 1h2v4h-1v-2h-1zm-28 1v3h1v1h1v2h1v-1h1v-1h1v-4h-1v2h-1v1h-1v-1h-1v-2zm7 0v1h1v-1zm11 0h2v2h-2zm-28 1v1h1v-1zm4 0v1h-2v1h3v-2zm22 1h1v1h-1zm-37 1v1h2v-1zm41 0h1v2h-1v1h-1v1h-1v-2h1v-1h1zm-60 1h2v2h1v2h-2v-2h-1zm36 0v1h1v1h3v-2zm36 1h2v2h-3v-1h1zm-77 1h2v2h-2zm30 0v1h2v-1zm35 0h2v2h-2zm-70 1h2v2h-2zm14 0h1v1h-1zm45 0h2v1h4v2h-4v1h1v1h-1v2h-2v-2h1v-3h-1zm-44 1h1v1h1v2h-1v-1h-1zm2 0h1v1h-1zm22 2h2v2h-1v1h-1v2h-2v-2h1v-2h1zm24 2h2v2h-1v2h-2v-2h1zm-43 1h2v2h-2zm31 1h1v1h1v2h-2z"/>
<path fill-opacity="0.475" d="M108 16h2v2h-2zm-49 2h2v2h-2zm15 0h1v1h-1zm-7 2h2v1h-2zm-7 1h2v2h-1v-1h-1zm5 1h1v1h1v2h-2zm8 0h1v1h-1zm-46 1h2v2h-2zm54 0h2v2h-2zm-20 1h2v2h-2zm25 0h2v2h-2zm5 0h2v1h-2zm-23 1h1v1h1v1h-2zm33 0h1v2h-1zm3 0h1v2h-1zm-40 1h1v1h-1zm7 0h2v1h2v1h1v1h1v-1h2v-1h2v2h-1v1h1v1h1v-1h1v-3h2v-1h1v4h1v1h2v1h1v-1h3v-1h2v3h1v-1h2v3h2v1h1v-2h-1v-2h2v2h1v2h1v1h2v1h1v1h1v2h-2v2h1v-1h1v1h2v2h1v1h1v1h2v1h1v1h-1v1h2v3h1v-1h2v1h1v2h2v2h-1v1h2v2h-2v1h2v4h-1v1h2v-1h1v4h-1v2h-1v2h1v2h1v1h1v2h-2v1h1v1h1v1h-4v1h-1v-1h-2v2h2v3h1v2h-1v2h-1v2h1v1h1v1h-3v-2h-2v2h1v1h2v2h-3v-1h-1v1h-1v2h-1v1h-2v2h-1v2h-2v1h1v2h1v2h-1v2h-2v-1h-1v-2h1v-2h-1v-2h1v-1h-2v3h1v1h-3v3h-2v-1h-1v3h-1v1h2v2h-2v-1h-2v-3h-1v2h-1v1h-1v2h-1v1h-2v1h-2v-4h-1v2h-2v-1h-1v-2h-1v-1h-1v1h1v4h1v1h1v2h2v1h-4v3h-1v1h-1v1h-1v-3h1v-2h1v-1h1v-2h-4v1h-2v-2h2v-1h-1v-1h-2v1h-1v-1h-2v1h1v1h1v1h1v1h-3v-1h-1v3h-2v-1h-1v-1h-1v2h-2v-2h1v-1h-1v1h-1v-2h1v-1h-1v1h-5v-3h-4v-2h-1v-1h-1v2h-1v-1h-1v1h-1v2h3v2h-4v-2h-1v-3h1v-1h-2v-1h-4v-1h-2v1h-1v-2h1v-1h-2v-1h-1v-1h-1v-1h-1v-1h2v-1h1v-2h-1v-1h-1v1h-1v3h-1v-1h-2v-1h-5v-2h3v-2h2v-3h-1v-2h-1v-1h3v-1h1v-1h1v-1h-1v-1h-1v1h1v1h-1v1h-2v-1h-1v-1h-3v1h-1v-3h-1v-1h6v-1h-1v-2h-2v-2h2v1h1v-1h-1v-1h-3v1h-1v1h-2v-2h1v-1h2v-1h-1v-1h-2v-2h1v-1h1v1h1v-1h1v-1h1v-1h1v-1h-1v1h-2v-2h1v-2h-3v-1h-1v-1h-1v-2h1v-2h2v2h-1v2h1v-2h2v2h1v-2h1v-3h-1v1h-2v-3h2v1h1v-1h1v-1h1v-2h-1v-1h2v-1h-1v-2h3v-1h2v-1h1v-1h-1v1h-3v-1h-1v-1h-1v-2h2v1h3v-1h-3v-2h3v-1h1v-1h1v-1h-1v1h-4v-1h1v-1h3v-1h1v-1h1v1h1v1h1v1h1v2h1v-2h1v-4h-1v-1h2v1h1v1h1v-2h-2v-2h2v1h1v1h1v-1h1v1h1v1h-2v1h2v2h1v-2h-1v-1h1v-1h1v-2h-2v-1h3v-2h4v-1h1v1h1v1h2v-1h5v-1h1v-1h-1v1h-2v-2h1zm6 0h1v1h-1zm20 0h2v1h-1v1h-1zm-37 1h2v2h-2zm27 0h2v2h-2zm5 0h4v1h-2v1h-2v1h-2v-2h2zm-26 1h1v1h-1zm32 1h2v2h-2zm-48 1h2v1h-1v1h-1zm52 0h1v1h-1zm2 0h2v2h-2zm3 0h1v1h-1zm-23 1v1h-1v1h1v1h1v-1h1v-2zm-23 1v1h-1v1h3v-2zm18 0v2h-1v1h-1v1h2v-2h1v-2zm-41 1h2v2h-2zm29 0v1h1v-1zm3 0v1h1v-1zm4 0v1h2v-1zm14 0v2h1v-2zm19 0h2v1h-2zm-67 3h1v1h-1zm59 1v1h1v-1zm17 0h1v1h-1zm-15 1v1h2v-1zm-51 1v2h3v-1h-1v-1zm54 0v1h1v-1zm5 0h2v2h-2zm3 0h2v4h1v3h-2v-4h-1zm-78 3h2v1h-2zm11 0v1h-2v1h1v1h1v1h2v-1h-2v-1h1v-2zm-35 2h2v2h-2zm22 0h1v1h-1zm73 0v1h1v-1zm16 0h1v1h1v3h-2v-2h-1v-1h1zm9 0h2v2h-2zm-4 2h2v2h-2zm-94 1h2v4h-1v-1h-1zm78 0v1h1v-1zm8 0h1v2h-1zm-94 1h1v2h-1zm11 0h2v1h-2zm7 2v1h1v-1zm-21 2h1v1h-1zm12 0h2v2h-1v3h-1v-1h-1v-2h1zm7 0v1h1v-1zm-20 1h1v1h-1zm90 0v1h1v-1zm2 0v1h1v-1zm12 2h1v1h-1zm-95 1h2v2h-2zm86 0v1h1v-1zm2 1v1h2v2h1v-2h-1v-1zm-89 1h1v1h1v1h-2zm9 0v1h-1v1h2v-2zm77 1v2h1v-1h2v-1zm3 2v3h1v-1h1v-2zm-85 1h1v1h-1zm88 0v1h1v-1zm6 0h1v1h-1zm-90 1v1h-1v1h2v-2zm95 1h2v2h-2zm-107 3h1v1h-1zm96 0v1h2v-1zm-93 1h2v2h-2zm101 0h1v1h2v1h-3zm-11 1v1h3v-1zm-88 2h1v1h-1zm91 0v3h1v-3zm13 0h1v3h-2v-2h1zm7 0h2v2h-2zm-105 3v2h1v-2zm82 0v2h1v-2zm9 1h2v1h-2zm-102 1h1v1h1v1h-2zm9 0v1h1v-1zm82 0v1h1v-1zm7 0v1h1v-1zm-3 1v2h2v-2zm8 2h1v1h1v1h-2zm-99 3h2v2h-2zm-4 1h1v2h-1v1h-1v-2h1zm12 0v1h1v-1zm91 0h2v1h-2zm-103 4h1v1h-1zm8 2h2v2h-2zm85 0v1h2v-1zm5 0h1v2h1v1h-2zm7 0h2v2h-2zm-99 1h1v1h-1zm1 1h1v3h1v2h-3v-1h1v-1h-1v-2h1zm7 1v4h-1v2h1v-2h2v-2h-1v-2zm87 0h2v2h-2zm-101 1h1v1h1v1h-2zm88 3v2h1v-1h1v-1zm-4 1v1h1v-1zm16 0h1v2h-1zm-89 2v1h1v-1zm73 1v2h1v-2zm9 0h2v2h-2zm-2 1h1v1h1v1h1v1h-4v-2h1zm-79 2h1v2h-1zm-5 1h2v2h-2zm87 0h3v1h-1v1h-2zm-18 1v2h1v-2zm11 0h2v2h-2zm-78 2h2v1h-1v1h-1zm13 0v1h1v-1zm14 0v1h1v-1zm-5 1v1h1v-1zm32 4v1h1v-1zm15 0h2v1h-2zm-62 2h2v2h-2zm4 0h1v1h-1zm3 0h1v2h-1zm45 0v1h1v-1zm-43 1h2v2h-2zm9 0h1v1h-1zm39 0h2v1h-1v1h-1zm-41 2h2v2h-1v3h-2v-3h1zm15 0v1h1v-1zm-7 1h1v1h1v3h-2v-2h-1v-1h1zm28 0h1v3h-2v-2h1zm6 0h2v2h-1v-1h-1zm-9 1h1v1h-1zm-43 1h2v2h-2zm71 0h1v1h-1zm-28 1h2v1h-1v1h-1zm-22 1h2v2h-2zm5 0h1v1h-1zm8 0h2v1h-2zm6 0h2v3h-2zm8 0h3v1h-1v1h-1v-1h-1zm4 0h1v2h-1zm-24 2h2v2h-2zm10 1h2v2h-2zm-3 1h1v1h-1zm16 2h2v2h-2zm-11 1h2v1h-2z"/>
<path fill-opacity="0.714" d="M65 23h2v2h-2zm21 1h1v1h-1zm-25 3h1v2h-1zm10 0h1v1h-1zm8 0h2v1h-1v2h1v1h2v3h4v1h2v-1h2v-1h-1v-1h1v-1h2v-1h1v1h1v2h2v2h3v2h-2v2h1v2h2v-1h2v1h-1v1h2v-2h1v-1h-1v-1h-2v-3h1v1h1v1h2v2h1v2h-1v2h3v3h1v2h1v-1h1v1h2v2h-2v1h2v-1h1v1h1v1h-1v1h3v1h-1v1h-2v3h1v1h-2v2h1v-1h2v2h-1v1h1v2h-1v2h1v-2h1v-1h1v2h1v-2h-1v-1h2v-2h1v1h1v3h-2v2h-1v1h-1v1h-2v1h2v2h1v2h-1v1h1v-1h1v-1h2v2h-1v1h-3v2h-1v1h1v3h-1v2h1v-1h1v2h1v4h-2v-1h-2v-1h-1v1h1v2h3v1h-1v1h-3v-1h-2v1h-2v1h1v1h5v1h1v2h-2v-1h-2v1h-1v-1h-1v-1h-1v2h-1v2h1v3h-2v1h-1v-3h1v-1h-1v1h-1v2h-1v1h-1v2h-1v1h-2v2h1v1h-6v-1h-2v5h-1v1h-1v-1h-1v1h-2v-2h-1v2h-2v-2h-4v2h1v3h-3v-1h-1v-1h-2v-1h-1v1h-2v-2h-2v1h1v3h-4v-1h-1v-1h-2v1h-2v1h-3v-1h-1v-2h-1v-1h1v-2h-2v1h1v1h-2v1h-1v-3h-2v1h-1v-1h-1v1h-1v2h-2v-1h1v-3h1v-1h4v-1h-1v-3h-2v3h-4v1h-1v-1h-1v2h-1v-1h-1v-1h1v-1h-1v-1h-1v-1h-1v-4h-2v-1h-1v-2h-1v-1h1v-1h-1v-1h1v-2h1v-1h-1v1h-1v-2h-1v1h-1v1h-1v1h1v2h-2v-3h-1v-2h3v-2h1v-1h-1v-2h-1v1h-1v1h1v1h-1v1h-1v-3h-2v1h-2v-2h3v-1h1v-1h2v-1h-3v-1h1v-1h1v-1h-1v-1h-4v1h-2v-1h1v-1h1v-1h1v1h2v-1h1v-1h2v-2h-2v2h-5v-1h2v-3h2v-1h1v-1h-1v-1h-1v-2h-1v-2h5v-5h1v-2h-2v6h-2v-2h1v-5h3v-1h1v-1h-1v1h-2v-2h1v-3h1v1h1v1h1v1h2v-1h-1v-3h1v1h2v-1h-1v-2h-3v1h-1v-1h-1v-1h-1v-1h2v1h2v-3h3v2h1v1h1v-1h2v-1h1v-1h2v1h1v-1h-1v-1h-2v1h-2v-2h2v-2h1v1h3v-2h1v-2h2v2h3v-1h-2v-2h1v-2h2v2h-1v1h1v-1h1v-1h2v-3h-3v-2h1v1h2v-1h2v2h2v-2h2v1h1v-1h1v1h4v-1h-2v-1h1v-1h1v1h1v1h1v-1h1v-1h1zm5 0h1v3h-1zm3 1h1v1h-1zm12 1h1v2h-2v-1h1zm-16 1h1v1h-1zm3 1h1v1h-1zm-28 1h2v1h-2zm10 0v1h-1v1h-2v2h1v-1h2v2h2v-2h-2v-2h1v1h8v3h1v-1h1v-1h1v-1h1v-1h-1v-1h-2v2h-1v-1h-8v-1zm19 0h1v1h-1zm-37 1h2v2h-1v-1h-1zm42 0v1h1v1h-1v1h-2v1h2v-1h1v1h1v-4zm-40 2h2v2h-2zm44 1v1h1v-1zm-47 1h3v2h-2v-1h-1zm51 0h1v1h-1zm-57 1h1v2h-1zm-4 1h3v1h-1v1h-2zm73 0h2v2h-2zm-68 1h2v1h1v1h-3v1h-2v-2h2zm11 0v2h1v-2zm-16 3h1v1h-1zm74 0h2v2h-2zm-67 1h1v1h-1zm59 0v1h2v-1zm16 1h1v1h1v1h-2zm-89 2h2v2h-2zm77 4v1h1v2h4v-1h-3v-1h-1v-1zm-76 2h2v1h-2zm75 1v1h1v-1zm9 1h2v1h-1v1h-1zm2 1h2v1h-2zm-88 2h1v1h1v1h-2zm90 0h1v2h-1zm-81 1v2h1v-2zm70 0v2h1v-2zm7 0h2v1h-2zm-88 3h1v1h-1zm1 1h2v2h-2zm-2 1h1v1h-1zm1 1h1v1h-1zm94 2h1v3h-4v-1h1v-1h2zm-87 1v1h1v1h1v-1h-1v-1zm-9 1h1v1h-1zm105 3h2v1h-2zm-104 2h1v1h-1zm89 0v1h-1v1h-1v1h1v-1h2v-2zm6 1h1v1h1v2h-1v-1h-1zm-83 2v1h1v-1zm82 0h1v2h1v1h1v1h-4v-3h1zm-86 1v1h1v-1zm-3 3h1v1h-1zm82 1v1h1v-1zm-87 1h2v1h-2zm2 2h1v1h-1zm88 0v1h1v-1zm-5 3v1h1v-1zm-81 1h2v2h-2zm-1 3h1v1h-1zm84 0h1v1h-1zm5 0h1v2h-1zm-89 2h2v2h-2zm78 1v1h1v-1zm-67 1v2h1v-2zm-8 1h2v2h-2zm74 0v1h1v-1zm5 0h1v2h-2v-1h1zm-75 1h2v2h-2v1h-2v-1h1v-1h1zm6 1v1h2v1h1v2h1v-3h-2v-1zm-3 3h1v1h-1zm74 0h1v1h-1zm1 1h1v1h-1zm-74 1h1v1h-1zm58 0v3h2v-1h-1v-2zm7 0h2v2h-2zm11 0h2v2h-2zm-87 1h2v1h-2zm28 1v2h2v-1h-1v-1zm35 1v1h1v-1zm-30 1v1h2v-1zm23 0v2h1v-2zm10 1h1v1h-1zm11 0h1v1h1v1h-2zm-40 1v1h1v-1zm25 0v1h-1v1h1v-1h1v1h1v-2zm6 0h2v2h-2zm-34 2v2h1v1h1v-1h-1v-2zm22 2h1v2h-1zm-33 1h1v2h-1zm37 0h3v1h-2v1h-1zm-22 1h1v2h1v1h-1v1h-1zm-13 1h2v2h-1v3h-2v-3h1zm19 0h2v2h-1v-1h-1zm-3 1h1v2h-1zm13 1h2v2h-2zm-21 1h1v1h-1zm20 1h1v2h-1v1h-1v-2h1zm11 1h1v1h-1zm-9 1h1v1h-1zm-12 2h1v1h-1z"/>
</g>
<path fill="#fff" fill-rule="evenodd" d="M622.1 1623.6L627.2 1626.5 643.1 1623.6 643.1 1623.6 659 1623 674.9 1619.4 690.9 1608.9 692.7 1607.7 706.8 1591.7 706.8 1591.7 715.5 1575.8 718.7 1559.8 719.4 1543.9 712.5 1527.9 706.8 1518.6 703.1 1512 690.9 1497 689.9 1496 674.9 1486.3 659 1481.7 643.1 1482 627.2 1481.3 611.3 1487.7 595.3 1494.6 593.4 1496 582.1 1512 579.4 1518 574.1 1527.9 569 1543.9 568.3 1559.8 571.6 1575.8 575.8 1591.7 579.4 1596 591.2 1607.7 595.3 1611.2 611.3 1617.9Z"/>
<g shape-rendering="crispEdges">
<path fill="#fafbfe" fill-opacity="0.025" d="M539.6 1599.7H555.5V1615.6H539.6ZM539.6 1583.7H555.5V1599.7H539.6ZM539.6 1567.8H555.5V1583.7H539.6ZM539.6 1551.8H555.5V1567.8H539.6ZM539.6 1535.9H555.5V1551.8H539.6ZM539.6 1520H555.5V1535.9H539.6ZM539.6 1504H555.5V1520H539.6ZM555.5 1615.6H571.5V1631.6H555.5ZM555.5 1599.7H571.5V1615.6H555.5ZM555.5 1488.1H571.5V1504H555.5ZM555.5 1472.1H571.5V1488.1H555.5ZM571.5 1631.6H587.4V1647.5H571.5ZM571.5 1472.1H587.4V1488.1H571.5ZM587.4 1647.5H603.3V1663.5H587.4ZM587.4 1631.6H603.3V1647.5H587.4ZM587.4 1456.2H603.3V1472.1H587.4ZM619.2 1647.5H635.1V1663.5H619.2ZM619.2 1440.2H635.1V1456.2H619.2ZM635.1 1647.5H651.1V1663.5H635.1ZM635.1 1440.2H651.1V1456.2H635.1ZM651.1 1647.5H667V1663.5H651.1ZM651.1 1440.2H667V1456.2H651.1ZM667 1647.5H682.9V1663.5H667ZM667 1456.2H682.9V1472.1H667ZM682.9 1631.6H698.8V1647.5H682.9ZM682.9 1456.2H698.8V1472.1H682.9ZM714.8 1615.6H730.7V1631.6H714.8ZM714.8 1599.7H730.7V1615.6H714.8ZM714.8 1488.1H730.7V1504H714.8ZM730.7 1583.7H746.6V1599.7H730.7ZM730.7 1567.8H746.6V1583.7H730.7ZM730.7 1535.9H746.6V1551.8H730.7ZM730.7 1520H746.6V1535.9H730.7ZM730.7 1504H746.6V1520H730.7Z"/>
<path fill="#f6f8fe" fill-opacity="0.050" d="M571.5 1615.6H587.4V1631.6H571.5ZM587.4 1472.1H603.3V1488.1H587.4ZM603.3 1631.6H619.2V1647.5H603.3ZM603.3 1456.2H619.2V1472.1H603.3ZM619.2 1631.6H635.1V1647.5H619.2ZM619.2 1456.2H635.1V1472.1H619.2ZM635.1 1631.6H651.1V1647.5H635.1ZM635.1 1456.2H651.1V1472.1H635.1ZM651.1 1456.2H667V1472.1H651.1ZM667 1631.6H682.9V1647.5H667ZM682.9 1615.6H698.8V1631.6H682.9ZM698.8 1615.6H714.8V1631.6H698.8ZM698.8 1472.1H714.8V1488.1H698.8ZM714.8 1504H730.7V1520H714.8ZM730.7 1551.8H746.6V1567.8H730.7Z"/>
<path fill="#f1f4fd" fill-opacity="0.075" d="M555.5 1583.7H571.5V1599.7H555.5ZM555.5 1567.8H571.5V1583.7H555.5ZM555.5 1520H571.5V1535.9H555.5ZM555.5 1504H571.5V1520H555.5ZM571.5 1599.7H587.4V1615.6H571.5ZM571.5 1488.1H587.4V1504H571.5ZM587.4 1615.6H603.3V1631.6H587.4ZM651.1 1631.6H667V1647.5H651.1ZM682.9 1472.1H698.8V1488.1H682.9ZM698.8 1599.7H714.8V1615.6H698.8ZM698.8 1488.1H714.8V1504H698.8ZM714.8 1583.7H730.7V1599.7H714.8ZM714.8 1567.8H730.7V1583.7H714.8ZM714.8 1520H730.7V1535.9H714.8Z"/>
<path fill="#ecf0fc" fill-opacity="0.100" d="M555.5 1551.8H571.5V1567.8H555.5ZM555.5 1535.9H571.5V1551.8H555.5ZM603.3 1615.6H619.2V1631.6H603.3ZM603.3 1472.1H619.2V1488.1H603.3ZM667 1615.6H682.9V1631.6H667ZM667 1472.1H682.9V1488.1H667ZM714.8 1551.8H730.7V1567.8H714.8Z"/>
<path fill="#e7ecfb" fill-opacity="0.125" d="M571.5 1504H587.4V1520H571.5ZM619.2 1472.1H635.1V1488.1H619.2ZM635.1 1472.1H651.1V1488.1H635.1ZM651.1 1615.6H667V1631.6H651.1ZM651.1 1472.1H667V1488.1H651.1ZM682.9 1488.1H698.8V1504H682.9ZM698.8 1504H714.8V1520H698.8ZM714.8 1535.9H730.7V1551.8H714.8Z"/>
<path fill="#e2e8fa" fill-opacity="0.150" d="M587.4 1488.1H603.3V1504H587.4ZM619.2 1615.6H635.1V1631.6H619.2ZM635.1 1615.6H651.1V1631.6H635.1ZM682.9 1599.7H698.8V1615.6H682.9ZM698.8 1583.7H714.8V1599.7H698.8Z"/>
<path fill="#dee5fa" fill-opacity="0.175" d="M571.5 1583.7H587.4V1599.7H571.5ZM571.5 1520H587.4V1535.9H571.5ZM587.4 1599.7H603.3V1615.6H587.4ZM603.3 1488.1H619.2V1504H603.3ZM698.8 1520H714.8V1535.9H698.8Z"/>
<path fill="#d9e1f9" fill-opacity="0.200" d="M571.5 1567.8H587.4V1583.7H571.5ZM603.3 1599.7H619.2V1615.6H603.3ZM698.8 1567.8H714.8V1583.7H698.8Z"/>
<path fill="#d4ddf8" fill-opacity="0.225" d="M667 1599.7H682.9V1615.6H667ZM667 1488.1H682.9V1504H667ZM682.9 1504H698.8V1520H682.9ZM698.8 1535.9H714.8V1551.8H698.8Z"/>
<path fill="#d0daf8" fill-opacity="0.250" d="M571.5 1551.8H587.4V1567.8H571.5ZM571.5 1535.9H587.4V1551.8H571.5ZM587.4 1583.7H603.3V1599.7H587.4ZM587.4 1504H603.3V1520H587.4ZM651.1 1488.1H667V1504H651.1ZM682.9 1583.7H698.8V1599.7H682.9ZM698.8 1551.8H714.8V1567.8H698.8Z"/>
<path fill="#cbd6f7" fill-opacity="0.275" d="M619.2 1599.7H635.1V1615.6H619.2ZM619.2 1488.1H635.1V1504H619.2ZM635.1 1488.1H651.1V1504H635.1ZM651.1 1599.7H667V1615.6H651.1Z"/>
<path fill="#c1cef5" fill-opacity="0.325" d="M682.9 1520H698.8V1535.9H682.9Z"/>
<path fill="#bccaf4" fill-opacity="0.350" d="M587.4 1567.8H603.3V1583.7H587.4ZM587.4 1520H603.3V1535.9H587.4ZM635.1 1599.7H651.1V1615.6H635.1ZM667 1504H682.9V1520H667Z"/>
<path fill="#b8c7f4" fill-opacity="0.375" d="M603.3 1504H619.2V1520H603.3ZM667 1583.7H682.9V1599.7H667ZM682.9 1567.8H698.8V1583.7H682.9Z"/>
<path fill="#aebff2" fill-opacity="0.425" d="M587.4 1551.8H603.3V1567.8H587.4ZM587.4 1535.9H603.3V1551.8H587.4ZM603.3 1583.7H619.2V1599.7H603.3ZM682.9 1535.9H698.8V1551.8H682.9Z"/>
<path fill="#aabcf2" fill-opacity="0.450" d="M682.9 1551.8H698.8V1567.8H682.9Z"/>
<path fill="#a0b4f0" fill-opacity="0.500" d="M619.2 1583.7H635.1V1599.7H619.2ZM619.2 1504H635.1V1520H619.2ZM635.1 1504H651.1V1520H635.1ZM651.1 1583.7H667V1599.7H651.1ZM651.1 1504H667V1520H651.1Z"/>
<path fill="#96acee" fill-opacity="0.550" d="M603.3 1567.8H619.2V1583.7H603.3ZM603.3 1520H619.2V1535.9H603.3ZM635.1 1583.7H651.1V1599.7H635.1ZM667 1520H682.9V1535.9H667Z"/>
<path fill="#92a9ee" fill-opacity="0.575" d="M667 1567.8H682.9V1583.7H667Z"/>
<path fill="#849eec" fill-opacity="0.650" d="M603.3 1535.9H619.2V1551.8H603.3Z"/>
<path fill="#7f9aeb" fill-opacity="0.675" d="M667 1535.9H682.9V1551.8H667Z"/>
<path fill="#7a96ea" fill-opacity="0.700" d="M603.3 1551.8H619.2V1567.8H603.3ZM619.2 1520H635.1V1535.9H619.2ZM667 1551.8H682.9V1567.8H667Z"/>
<path fill="#7592e9" fill-opacity="0.725" d="M619.2 1567.8H635.1V1583.7H619.2Z"/>
<path fill="#708ee8" fill-opacity="0.750" d="M651.1 1520H667V1535.9H651.1Z"/>
<path fill="#6c8be8" fill-opacity="0.775" d="M635.1 1520H651.1V1535.9H635.1ZM651.1 1567.8H667V1583.7H651.1Z"/>
<path fill="#5e80e6" fill-opacity="0.850" d="M651.1 1535.9H667V1551.8H651.1Z"/>
<path fill="#597ce5" fill-opacity="0.875" d="M635.1 1567.8H651.1V1583.7H635.1ZM651.1 1551.8H667V1567.8H651.1Z"/>
<path fill="#5478e4" fill-opacity="0.900" d="M635.1 1535.9H651.1V1551.8H635.1Z"/>
<path fill="#4f74e3" fill-opacity="0.925" d="M619.2 1535.9H635.1V1551.8H619.2Z"/>
<path fill="#4b70e2" fill-opacity="0.950" d="M619.2 1551.8H635.1V1567.8H619.2Z"/>
<path fill="#4169e1" fill-opacity="1.000" d="M635.1 1551.8H651.1V1567.8H635.1Z"/>
</g>
<path class="c" d="M622.1 1623.6L627.2 1626.5 643.1 1623.6 643.1 1623.6 659 1623 674.9 1619.4 690.9 1608.9 692.7 1607.7 706.8 1591.7 706.8 1591.7 715.5 1575.8 718.7 1559.8 719.4 1543.9 712.5 1527.9 706.8 1518.6 703.1 1512 690.9 1497 689.9 1496 674.9 1486.3 659 1481.7 643.1 1482 627.2 1481.3 611.3 1487.7 595.3 1494.6 593.4 1496 582.1 1512 579.4 1518 574.1 1527.9 569 1543.9 568.3 1559.8 571.6 1575.8 575.8 1591.7 579.4 1596 591.2 1607.7 595.3 1611.2 611.3 1617.9ZM604.6 1591.7L611.3 1596.8 627.2 1602.1 643.1 1607.7 659 1602.4 674.9 1594.6 678.1 1591.7 690.9 1578.8 693.2 1575.8 698.5 1559.8 697.2 1543.9 690.9 1530.9 689.4 1527.9 675.7 1512 674.9 1511.2 659 1502.3 643.1 1501.4 627.2 1502.1 611.3 1510.8 609.5 1512 596.4 1527.9 595.3 1530.5 589.2 1543.9 588.7 1559.8 594.8 1575.8 595.3 1576.6ZM620.3 1575.8L627.2 1580.9 643.1 1586.9 659 1583.7 669.6 1575.8 674.9 1566.8 678.4 1559.8 676.6 1543.9 674.9 1540.8 666.8 1527.9 659 1521.5 643.1 1520 627.2 1524.1 621.7 1527.9 611.3 1543.9 611.3 1543.9 608.1 1559.8 611.3 1565.5ZM624.4 1559.8L627.2 1562.9 643.1 1571.3 654.9 1559.8 643.1 1543.9 643.1 1543.9 627.2 1543.7 627.1 1543.9Z"/>
<path class="tr" d="M643 1392.4V1711.3"/>
<path class="th" d="M475.9 1552.7H794.3"/>
<rect x="635.7" y="1545.2" width="14.7" height="15.3" fill="#4682b4"/>
</g>
<clipPath id="k8"><rect x="810.4" y="1392.4" width="318.4" height="318.9"/></clipPath>
<g clip-path="url(#k8)">
<g transform="translate(808.19 1390.19) scale(2.212)" fill="#4169e1" filter="url(#bl)">
<path fill-opacity="0.070" d="M89 9h2v2h-2zm14 1h2v2h-2zm-51 1h2v2h-2zm61 0h2v2h-2zm-23 1h2v3h-2zm4 0h2v2h-2zm29 0h2v1h2v2h-2v-1h-2zm-7 1h2v2h-2zm20 1h2v2h-2zm-37 1h4v1h1v3h2v1h2v-1h2v1h1v3h1v1h1v2h2v-1h1v-1h-2v-2h-1v-2h-1v-2h2v-1h2v2h1v2h-1v2h1v-2h3v1h2v2h-2v3h3v2h-2v1h1v1h2v1h1v-1h2v4h-2v4h1v3h1v-4h2v4h1v-1h6v2h-4v3h-2v1h-2v2h-2v-2h1v-2h1v-1h1v-1h-2v1h-1v1h-2v1h1v3h1v2h1v-1h1v-1h4v5h1v-1h2v2h-2v1h-1v2h-2v-2h1v-2h-1v-3h-1v3h1v2h-1v3h-1v1h1v2h-2v-1h-1v-1h-2v3h-1v1h2v-1h2v2h-2v3h3v-1h2v2h1v-2h2v2h-1v2h-1v1h-2v-3h-1v1h-1v2h-1v1h-1v1h-2v2h-1v1h2v-2h1v-1h2v2h-1v2h-1v1h-4v-2h-1v2h1v1h1v1h1v2h-2v-1h-1v-1h-1v-1h-1v-1h-1v2h1v2h2v1h2v2h-1v2h1v2h-2v-2h-1v-2h1v-1h-2v4h-2v3h-2v-2h-1v-1h-2v1h1v2h-1v1h-2v1h1v2h-2v1h1v2h-3v-1h-3v1h1v2h-1v3h-2v-1h-1v-1h-1v-2h-1v4h1v2h1v2h-2v-2h-1v2h-2v4h-2v-3h-1v-1h-2v4h3v3h-1v1h-3v2h3v2h-4v1h-2v-2h2v-1h-1v-3h1v-1h1v-1h-2v-1h-2v2h1v2h-2v1h-2v-2h-1v4h-1v2h1v2h-2v1h-2v-2h-1v-2h1v-2h-1v-1h-1v3h-2v-2h-1v3h1v3h-1v2h-2v-2h-1v2h-2v1h-2v-3h2v-3h-1v1h-1v1h-3v1h-2v2h-3v2h-3v-2h1v-1h-1v1h-2v1h-2v-2h-1v1h-1v1h-2v-1h-1v4h-3v-1h-2v-1h-1v-2h-1v-4h-1v-1h-1v1h1v2h-3v1h-2v-1h-1v-1h-2v1h-1v2h-2v2h-2v-2h-1v-3h2v-3h1v-2h2v2h-1v2h2v-1h2v1h1v-1h1v-1h-2v-1h-2v-2h-2v-3h-2v1h1v2h-2v-2h-1v-4h-2v-2h-1v-1h-2v-2h2v1h1v-1h1v-1h-1v-3h-2v-2h4v3h1v-4h1v-1h-1v1h-2v-2h-1v-1h-3v-1h-1v1h-2v-2h2v-2h2v2h2v1h1v-2h-2v-1h-1v-2h1v-1h1v-1h-3v1h-2v-2h2v-1h-1v-4h2v4h2v-1h1v-2h2v-1h-1v-1h-1v-2h-3v-2h2v-1h-1v-5h2v1h1v1h3v-1h2v-1h1v-6h-1v5h-1v1h-1v1h-2v-4h1v-2h1v-2h1v-1h3v-2h1v-1h3v2h3v-2h1v-1h1v-2h-2v-3h1v-2h-2v-2h2v-2h2v1h1v-2h1v-4h2v2h1v1h1v-1h2v-1h2v-2h1v-2h2v-2h2v-3h3v2h-1v2h1v-2h2v-1h1v-1h2v-2h1v-1h-1v-2h2v-1h2v1h2v-1h-2v-3h3v1h1v1h3v-2h2v5h1v-4h1v-1h4v-2h2v-1h-3v-2h-1v-2h2v2h2v-1h1v-1h2v1h2v-2h2v2h1v3h2v-1h1v-2h2v1h1v-1h2v1h1v-3h1v-1h-3v1h-2v-2h2zm-31 1h2v2h1v1h1v2h-2v-1h-1v-2h-1zm9 0h2v4h-2zm3 0h2v2h-2zm28 0h2v2h-2v1h-2v-2h2zm24 0h2v2h-2zm-39 1h2v2h-2zm21 2v1h1v-1zm-11 1v1h1v4h1v-2h3v-1h-3v-1h-1v-1zm-30 1h2v4h-2v1h-2v-2h2zm-12 1h2v2h-2zm25 0v1h4v-1zm-35 1h2v2h-2zm27 0h2v2h-2zm55 1h2v2h-2zm-70 1h3v2h-3zm47 0v2h-1v1h2v-3zm-23 1v1h-1v1h2v-2zm9 0v1h-1v1h1v1h1v-2h1v-1zm5 0v1h1v-1zm28 1h2v2h-2zm3 0h2v2h-1v2h-2v1h-2v-2h2v-1h1zm-17 1v1h1v-1zm9 0h2v2h-2zm-67 1h2v1h1v1h1v3h-2v-1h-1v-2h-1v2h-2v2h-2v-2h-1v-3h5zm61 0v1h1v-1zm-39 1v1h1v-1zm-13 1v1h1v-1zm-23 1h2v4h-2zm71 1v3h1v-3zm-65 1h2v2h-2zm24 1v1h1v-1zm44 1v1h1v-1zm5 0v1h1v-1zm11 0h2v2h-2zm3 0h2v1h2v2h-2v-1h-2zm-96 1h2v2h-2zm6 0h2v2h1v-1h2v2h-2v1h-2v-2h-1zm-4 2h2v2h-2zm17 0v1h1v-1zm63 1v1h1v-1zm-76 2h2v2h-2zm6 0v2h1v-2zm-14 2h2v3h-2zm105 0h2v2h-2zm-111 4h2v2h-2zm-1 3h2v2h-2zm16 0v1h1v-1zm-7 2v1h-1v1h1v-1h1v-1zm85 0v2h1v-2zm-95 2h2v2h2v2h-3v-2h-1zm89 1v1h1v-1zm-95 3h2v2h-2zm0 3h2v2h-2zm109 0h2v2h-2zm-3 2h3v2h-3zm-112 3h2v2h-2zm13 0v1h1v-1zm-20 3h2v2h-2zm4 0h2v2h-2zm103 0v1h1v-1zm4 0v2h-2v1h2v-1h1v-2zm10 3h2v2h-2zm-110 1v1h1v-1zm4 0v2h2v-2zm-22 1h2v2h-2zm12 1h2v2h-2zm7 0v1h1v-1zm4 2v2h1v-1h1v-1zm98 1h2v2h-2zm15 0h2v2h-2zm-134 1h2v2h-2zm14 1h2v2h-2zm93 0v1h1v-1zm-105 4h2v2h-2zm6 0h2v2h-2zm9 0v1h2v-1zm92 1v1h-1v1h2v-2zm-90 2v1h1v-1zm99 1h2v2h-2zm-109 1h2v2h-2zm7 0v2h1v-2zm3 1v1h1v-1zm82 0v1h-1v1h-2v2h1v1h1v-2h1v-2h1v-1zm-101 1h2v2h-2zm106 0h2v1h2v2h-4zm10 0h2v2h-2zm-5 1h4v2h-4zm-107 2h2v2h-2zm92 0v1h1v-1zm9 1h2v2h-2zm-95 1h5v2h-4v2h-2v-2h1zm95 2h2v2h-2zm5 2h2v2h-2zm-89 1v1h1v-1zm-14 3h2v2h-2zm11 0v1h1v-1zm77 0h2v2h-2zm-7 1v1h1v-1zm10 0h2v2h-2zm-82 2v1h1v1h1v-2zm4 0v1h1v-1zm80 0h2v2h-2zm-7 1h2v3h-2zm-80 2h2v2h-1v2h-1v2h1v2h1v1h3v2h-1v1h-2v-2h-2v-2h-1v-2h-2v-2h2v-2h1zm16 3v1h1v-1zm-3 1v1h1v-1zm-11 2h2v2h-2zm10 0v1h1v-1zm5 0v1h1v-1zm5 0v1h1v1h2v-1h-2v-1zm6 0v1h2v-1zm46 0h2v2h-2zm-12 2h2v2h-2zm17 0h2v2h-2zm-83 1h2v2h-2zm30 0v1h-1v1h1v-1h1v-1zm12 1v1h1v-1zm-53 1h2v2h-2zm51 0v1h1v-1zm-15 1v2h1v-2zm16 1v1h1v-1zm27 0h2v2h-2zm-42 2v1h2v-1zm-30 1h2v2h-2zm21 0h2v2h-2zm37 0h2v4h-3v1h-2v-4h2v1h1zm-10 2h2v2h-2zm-28 1h2v2h-2zm-6 1h2v2h-2zm17 0h2v2h-2zm18 1h2v4h-2zm-10 2h2v2h-2zm-15 2h2v2h-2z"/>
<path fill-opacity="0.151" d="M103 10h2v2h-2zm20 2h2v1h2v2h-2v-1h-2zm-33 1h2v2h-2zm46 1h2v2h-2zm-37 1h4v1h1v3h2v1h2v-1h2v1h1v2h-1v5h-1v1h2v-4h2v2h2v-1h1v-1h-2v-2h-1v-2h2v-1h-1v-2h2v2h1v2h-1v2h1v-2h3v1h2v2h-2v3h2v2h-1v1h1v2h3v-1h2v4h-2v-1h-1v1h-1v1h-1v1h1v-1h2v3h1v3h1v-2h2v2h3v1h-1v1h1v2h-2v1h-2v2h-2v-2h1v-2h1v-1h1v-1h-2v1h-1v1h-4v2h1v1h2v2h1v1h1v-1h1v-1h2v2h-1v1h-1v2h2v2h-1v3h-1v1h1v2h-2v-1h-1v-1h-3v1h1v2h-1v1h2v-1h2v2h-2v3h3v-1h2v2h1v-2h2v2h-1v2h-1v1h-2v-3h-1v1h-1v2h-1v1h-1v1h-2v2h-1v1h1v2h-2v-2h-1v3h-2v-1h-2v1h1v1h1v2h2v1h2v2h-1v2h1v2h-2v-2h-1v-2h1v-1h-2v1h-3v1h-1v1h2v-1h2v2h-2v3h-2v-2h-1v-1h-2v1h-1v1h1v2h-2v3h-1v1h1v2h-3v-1h-3v1h1v2h-2v1h1v2h-2v-1h-1v-1h-1v-2h-1v4h1v2h1v2h-2v-2h-4v1h1v5h-2v-3h-1v-1h-2v5h-3v-2h1v-1h-2v1h-1v3h1v2h-3v-1h1v-1h-1v1h-2v4h-2v1h1v1h1v2h-2v1h-2v-2h1v-2h-1v-2h-1v-1h-1v3h-2v-2h-1v3h1v3h-1v2h-2v-2h-1v2h-2v1h-2v-3h2v-3h-1v1h-1v1h-3v1h-2v2h-3v2h-3v-2h1v-1h-1v1h-2v-1h-3v1h-1v1h-2v-2h-1v5h-2v-1h-3v-1h-1v-2h-1v-4h-1v-2h1v-4h-1v1h-1v1h1v2h-1v1h-2v-1h-3v-1h-2v-2h-2v-3h-2v1h-2v-5h1v-2h-3v-2h1v-1h-1v-3h-2v-2h4v3h1v-4h1v-1h-1v1h-2v-2h-1v-2h1v-2h-2v-1h-1v-2h1v-1h2v-1h-3v-2h2v-1h1v-2h2v-1h-1v-1h-1v-2h-3v-2h2v-1h-1v-5h2v1h1v2h-1v1h1v-1h1v-1h1v1h1v1h-1v1h3v-2h-2v-2h2v-1h1v-6h-1v1h-1v2h1v2h-1v1h-2v-5h1v-2h1v-1h3v-2h1v-1h3v2h3v-2h1v-1h1v-2h-2v-3h1v-2h1v-2h-1v-2h2v1h2v-5h2v1h1v1h1v-1h2v-1h2v-2h1v-2h2v-2h2v-3h3v2h-1v2h1v1h2v-1h-2v-2h2v-1h1v-1h2v-2h1v-1h-1v-2h3v4h1v-4h2v-1h-2v-3h3v1h1v1h2v1h1v-2h2v4h1v-4h1v-1h4v-2h2v-1h-3v-2h3v-1h3v1h-1v2h8v-1h1v-2h2v1h2v1h1v-1h1v-3h1v-1h-3v1h-2v-2h2zm-31 1h2v2h1v2h-2v-2h-1zm9 0h2v4h-2zm3 0h2v2h-2zm28 0h2v2h-2zm24 0h2v2h-2zm-39 1h2v2h-2zm-4 1h2v2h1v2h-4v-2h1zm14 2v1h1v4h1v-2h3v-1h-3v-1h-1v-1zm-30 1h2v2h-2zm-12 1h2v2h-2zm-10 1h2v2h-2zm27 0h2v2h-2zm-7 1h2v2h-2zm62 0h2v2h-2zm-70 1h3v2h-3zm25 0v1h-1v1h-2v1h3v-2h1v-1zm11 0v1h1v1h2v-1h-1v-1zm-3 1v1h-3v1h2v1h2v-2h1v-1zm33 1h2v2h-2zm3 0h2v2h-1v2h-2v1h-2v-2h2v-1h1zm-26 1v1h1v-1zm9 0v1h-1v1h1v-1h1v-1zm9 0h2v2h-2zm-67 1h2v1h1v1h1v3h-2v-2h-1v-1h-1v1h-3v1h1v2h-2v-3h-1v-2h5zm61 0v1h1v-1zm-39 1v1h1v-1zm-10 1v1h1v-1zm51 1v2h1v-2zm-7 1v1h1v2h1v-3zm-64 1h2v2h-2zm20 1v1h1v-1zm4 0v1h1v-1zm37 1v1h1v-1zm7 0v1h1v-1zm16 0h2v2h-2zm3 0h2v2h-2zm-96 1h2v2h-2zm6 0h2v2h1v-1h2v2h-2v1h-2v-2h-1zm72 1v2h1v-2zm-76 1h2v2h-2zm80 1v1h1v-1zm12 1h2v2h-2zm-88 1h2v2h-2zm6 0v2h1v-2zm-14 2h2v2h-2zm105 0h2v2h-2zm-95 2v2h1v-2zm75 0h1v1h-1zm-91 2h2v2h-2zm13 0v1h1v-1zm-8 2h1v2h-1zm-6 1h2v2h-2zm16 0v1h1v-1zm83 1h2v2h-2zm-90 1v1h-1v1h1v-1h1v-1zm85 0v2h1v-2zm-95 2h2v2h-2zm89 1v1h1v-1zm11 0h2v2h-2zm-98 1h2v2h-2zm-8 2h2v2h-2zm109 3h2v2h-2zm-3 2h3v2h-3zm-97 1v1h1v-1zm-15 2h2v2h-2zm13 0v3h3v-1h-2v-2zm90 2v1h1v2h-2v-2h-2v1h1v1h1v1h2v-1h2v-1h1v-1h-3v-1zm-110 1h2v2h-2zm4 0h2v2h-2zm15 2v1h1v-1zm102 1h2v2h-2zm-7 1h2v2h-1v2h-2v-2h1zm-121 1h2v2h-2zm12 1h2v2h-2zm7 0v2h1v-2zm3 2v2h2v-1h1v-1zm99 1h2v2h-2zm-5 1h2v1h1v2h-2v-1h-1zm-100 1h2v2h-2zm93 0v1h2v-1zm-96 1h2v4h-2zm97 1v1h1v-1zm-90 1v1h-1v1h2v-2zm-16 1h2v2h-2zm6 0h2v2h-2zm11 3v1h1v-1zm99 1h2v2h-2zm-109 1h2v2h-2zm7 0v2h1v-2zm3 1v1h1v-1zm82 0v1h-1v1h-2v2h1v1h1v-2h1v-2h1v-1zm-101 1h2v2h-2zm11 0h2v2h1v2h-2v-1h-1v1h-2v-2h2zm95 0h2v3h-2zm5 1h4v2h-4zm-107 2h2v2h-2zm92 0v1h1v-1zm-85 2h4v2h-4zm-2 2h2v2h-2zm96 0h2v2h-2zm-84 2v2h1v-2zm89 0h2v2h-2zm-103 4h2v2h-2zm11 0v1h1v-1zm77 0h2v2h-2zm-83 1h2v2h-2zm86 0h2v2h-2zm-78 2v1h1v-1zm80 0h2v2h-2zm-74 1v1h1v-1zm67 0h2v3h-2zm-80 2h2v2h-2zm19 0v1h1v-1zm53 1h2v3h-1v1h-3v2h3v2h-4v1h-2v-2h2v-1h-1v-2h1v-2h2v-1h1zm-59 2v2h1v-2zm3 0v1h1v-1zm-19 1h3v2h1v2h1v1h3v2h-1v1h-2v-2h-2v-2h-1v-2h-2zm5 2h2v2h-2zm10 0v1h1v-1zm10 0v1h1v2h1v-1h1v-1h-2v-1zm6 0v1h2v-1zm46 0h2v2h-2zm-39 1v1h1v-1zm27 1h2v2h-2zm17 0h2v2h-2zm-83 1h2v2h-2zm10 0h2v2h2v-1h2v1h6v2h-3v1h-2v-1h-1v-1h-2v1h-1v2h-2v2h-2v-2h-1v-2h2zm20 0v1h-1v1h1v-1h1v-1zm9 1v2h2v-1h-1v-1zm3 0v1h1v1h1v-2zm-53 1h2v2h-2zm36 1v2h1v2h2v-1h-1v-1h-1v-2zm16 1v1h1v-1zm27 0h2v2h-2zm-72 3h2v2h-2zm58 0h2v4h-3v1h-2v-4h2v1h1zm-10 2h2v2h-2zm-17 2h2v2h-2zm18 3h2v2h-2zm-25 2h2v2h-2z"/>
<path fill-opacity="0.241" d="M103 10h2v2h-2zm20 2h2v1h2v2h-2v-1h-2zm-33 1h2v1h-2zm46 1h2v2h-2zm-37 1h4v2h-4v1h-2v-2h2zm-22 2h2v2h-2zm16 0h2v2h-2zm21 0h2v2h1v2h-1v2h-2v-1h-1v-2h2v-1h-1zm-45 1h2v2h-2zm20 0h2v2h1v2h-4v-2h1zm13 0h1v3h-1v2h-1v1h1v-1h1v2h2v-2h4v-1h1v3h-2v2h1v1h1v1h1v-1h1v-2h-1v-2h1v1h1v2h2v-1h2v-1h1v-2h-1v-2h2v1h3v2h-2v3h2v2h-1v1h1v2h-2v1h-1v1h4v2h-1v1h3v1h-1v1h2v2h-1v1h2v-1h2v2h-2v1h-2v-1h-1v2h-2v2h1v1h1v1h1v1h1v2h1v-2h2v2h-1v2h2v2h-1v3h-1v1h1v2h-2v-1h-1v-2h1v-1h-1v1h-1v1h-2v1h1v2h-1v1h2v4h-2v1h-2v-1h-1v2h-2v2h2v1h2v-1h3v1h-1v1h-1v2h-2v1h-1v3h-2v-1h-2v1h1v1h1v2h-1v1h1v-1h2v1h2v2h-1v2h-2v-2h1v-1h-2v1h-3v1h-1v1h-1v1h-2v1h-1v1h1v2h-2v-1h-1v-1h-1v1h-1v1h-2v2h1v1h1v-2h3v2h-1v1h1v2h-2v-1h-3v-1h-1v-2h-1v3h1v1h1v2h-2v2h-1v-1h-2v-2h-1v3h-2v1h2v2h-2v-1h-1v1h-1v1h1v2h-2v-2h-1v1h-2v1h-1v1h1v3h-3v-2h1v-1h-2v1h-1v2h-1v1h-1v1h-2v4h-2v1h1v1h1v2h-2v1h-2v-2h1v-2h-1v-2h1v-1h-2v-1h-1v3h-2v-2h-1v4h-1v1h-1v1h1v-1h2v2h-1v2h-2v-2h-1v1h-2v-1h1v-1h-1v-3h-2v2h-1v1h-2v-1h-1v2h-1v2h-2v-1h-1v-1h-1v1h1v3h-3v-2h1v-1h-3v-1h-1v-1h-1v1h-1v2h-3v-2h-1v6h-2v-5h-2v-4h-1v2h-2v-1h-1v-2h1v-3h1v-2h-2v1h-1v-2h-1v2h1v3h-1v1h-4v-1h-2v-2h-1v-1h-1v-1h1v-1h-2v-1h-1v-1h-2v-2h1v-1h3v-1h-4v-2h-1v-2h1v-1h1v-2h1v-3h1v-1h1v-1h-1v1h-1v1h-1v1h-2v-2h-1v-2h2v-1h1v-1h1v-1h1v-1h-1v1h-1v1h-1v-3h-1v-2h-1v-2h5v-2h-2v-3h-1v-1h-1v-1h-3v-2h2v-2h-1v-4h2v1h1v2h-1v1h1v-1h2v2h3v2h-2v2h2v-1h1v-1h1v-1h-1v-1h-1v-2h-2v-2h2v1h3v-2h1v-1h2v-1h-2v-2h-2v-1h-1v-1h-1v1h-1v2h1v2h-2v-2h-1v-2h1v-2h1v-1h3v-2h1v-1h2v2h-1v1h1v-1h2v1h1v-1h1v-1h1v-1h1v-2h1v-1h-3v-3h2v1h1v-1h1v-1h-2v-3h-1v-2h2v1h1v2h1v-2h1v2h1v-2h-1v-4h-1v-1h2v3h1v-1h3v1h-1v1h-2v1h2v-1h2v-3h1v-3h1v-2h2v-2h4v1h1v1h2v2h1v-3h-3v-2h2v-1h3v-3h1v-3h1v1h1v3h1v-4h2v-1h-1v-1h-1v-2h3v1h1v1h2v1h1v-1h2v2h-1v1h5v-1h-2v-1h-1v-2h1v-1h4v-2h2v-1h-3v-2h4v1h1v2h1v-1h3v1h1v-1h4v-3h2v1h2v1h1v-1h1v-2h1zm6 1h2v2h-1v1h-4v-2h3zm-35 2h2v2h-2zm5 2h2v2h-2zm-7 1h2v2h-2zm28 0v2h1v1h2v-1h-1v-1h-1v-1zm-36 1h3v2h-3zm24 0v1h-2v2h2v1h1v1h2v-1h-2v-3h1v-1zm8 1v1h-2v1h2v1h2v-2h1v-1zm9 1v2h1v-2zm13 0v1h-2v1h-1v1h1v1h1v-2h1v-1h1v2h1v-2h-1v-1zm12 0h2v2h-2zm3 0h2v2h-1v2h-2v1h-2v-2h2v-1h1zm-26 1v1h1v-1zm18 0h2v2h-2zm-67 1h2v1h1v1h1v3h-2v-2h-1v-1h-1v1h-2v-2h2zm-5 1h2v2h-2zm52 0v1h1v-1zm-35 1v1h2v-1zm16 1v1h1v-1zm21 0v1h1v-1zm8 0v1h-1v3h3v1h2v-1h-2v-1h-1v-3zm9 0h2v2h-2zm-70 1h2v1h-2zm18 0v1h-2v2h-1v1h1v-1h1v-1h2v1h2v-2h-1v1h-1v-2zm37 1v1h1v-1zm-52 1h1v2h-2v-1h1zm8 0v1h1v1h1v-1h-1v-1zm46 1v1h1v-1zm-61 2h2v2h-2v1h-2v-2h2zm69 0v2h-2v1h2v-1h1v-2zm-76 1h2v2h-2zm71 1v1h1v-1zm9 0v3h1v-2h1v-1zm-76 2h2v2h-2zm6 0v2h1v-1h2v-1zm78 0h1v1h-1zm-2 2h4v2h-2v1h-3v-2h1zm15 0h2v2h-2zm-92 2v2h1v1h1v-1h-1v-2zm68 1v1h1v-1zm-87 1h2v2h-2zm-1 3h2v2h-2zm16 0v1h1v-1zm83 1h2v2h-2zm-6 1v1h1v1h1v-2zm-82 3v1h1v-1zm77 0v1h1v-1zm5 0v1h1v-1zm9 6h2v2h-2zm-101 2v1h1v1h1v-1h-1v-1zm98 0h3v2h-3zm-100 4h1v1h-1zm6 0v1h1v-1zm80 1v1h1v-1zm14 0h2v2h-1v1h-2v-2h1zm-115 1h2v2h-2zm15 0h1v1h-1zm90 0h1v1h-1zm5 0h2v2h-2zm-6 4v1h1v-1zm-115 1h2v2h-2zm19 1v1h-1v1h2v-2zm89 0v1h1v-1zm4 0v1h2v-1zm8 0h2v2h-2zm-93 2v1h1v-1zm94 1h2v2h-2zm-5 1h2v2h-2zm-100 1h2v2h-2zm93 0v1h1v2h-1v1h1v-1h1v-3zm-83 1v1h1v-1zm-13 2h2v2h-2zm11 0v1h1v-1zm-20 1h2v2h-2zm11 1h1v2h-1zm97 1h2v2h-2zm-91 1v1h1v-1zm89 0h1v2h-1zm-99 2h2v2h-2zm5 0h1v2h-1zm-14 2h2v2h-2zm11 0h2v2h1v2h-2v-2h-1zm95 1h2v2h-2zm5 0h4v2h-4zm-102 1h2v2h-2zm3 3h3v2h-3zm-3 2h2v2h-2zm4 1h4v3h-2v-1h-2zm8 1v2h1v-2zm89 0h2v2h-2zm-22 1v1h1v-1zm-6 2v1h1v-1zm-75 1h2v2h-2zm11 0v1h1v-1zm77 0h2v2h-2zm-14 1v1h1v-1zm2 0v1h1v-1zm15 0h2v2h-2zm-83 1h1v1h-1zm12 0v2h-1v1h-1v3h1v-3h2v-3zm73 1h2v2h-2zm-81 2v1h1v-1zm68 0h2v2h-2zm6 0h2v2h-2zm-80 1h2v2h-2zm19 0v2h1v-2zm38 0v1h1v-1zm6 0v1h1v-1zm9 1h2v3h-3v-2h1zm-68 1h2v2h-2zm6 0v2h1v-2zm3 1v3h-1v1h1v-1h1v-3zm11 0v1h1v-1zm41 0h2v2h-2zm-67 1h1v2h-1zm71 0h1v3h-2v-2h1zm-70 2h2v2h-2zm3 0h2v2h-2zm19 0v1h2v2h1v-1h1v-1h-2v-1zm7 0v2h1v-1h1v-1zm6 1v1h2v-1zm10 0v1h1v-1zm6 0v1h1v-1zm-33 1h1v1h-1zm24 0v1h-1v1h-2v1h1v2h1v-2h1v-2h1v-1zm21 0h2v2h-2zm17 0h2v2h-2zm-83 1h2v2h-2zm7 0h1v3h-2v-2h1zm23 0v1h-1v1h2v-2zm9 1v2h2v-1h-1v-1zm-50 1h2v2h-2zm23 0h2v2h-1v2h-2v2h-2v-3h-1v-1h2v-1h2zm4 0h3v2h-3zm11 0v1h1v-1zm-4 2h2v1h1v3h-2v-2h-1zm45 0h2v2h-2zm-18 1h2v2h-2zm-54 2h2v2h-2zm58 0h2v4h-4v-2h2zm-10 2h2v2h-2zm-17 2h2v2h-2z"/>
<path fill-opacity="0.333" d="M103 10h2v2h-2zm20 2h2v1h2v2h-2v-1h-2zm-26 4h2v2h-2zm-4 1h2v2h-2zm21 0h2v2h-2zm-45 1h2v2h-2zm20 0h2v3h1v1h-2v-1h-1zm12 1h2v2h-2zm7 1h1v1h-1zm-25 1h2v1h1v2h-2v-1h-1zm12 0h4v1h2v2h-2v1h-3v1h-3v2h1v1h3v-1h1v-2h2v1h2v-2h-1v-1h2v1h2v1h2v1h2v1h1v1h2v-2h3v-1h2v2h-2v1h-2v1h2v2h-2v4h3v1h2v-1h-1v-2h-2v-2h2v-2h1v1h2v-1h1v2h-2v4h1v-2h3v2h-1v1h2v2h-2v2h-1v2h2v-2h1v-2h2v2h-1v1h1v1h-2v2h-2v2h1v2h-1v1h-1v1h1v1h2v2h-1v1h2v1h-1v2h1v2h-3v1h1v4h-1v2h1v-1h2v2h-2v1h-2v-2h-1v2h-1v1h-1v2h2v1h1v1h1v2h-1v1h-1v3h-2v-4h-2v1h1v2h-2v1h2v4h1v2h-3v1h-1v1h-4v1h-1v1h1v2h-2v-2h-1v1h-1v2h-3v2h-1v2h-1v1h1v1h2v2h-3v1h-1v-1h-1v-1h-2v3h-1v1h2v2h-2v-1h-2v4h-1v-2h-3v-2h-1v-1h1v-1h-1v1h-1v2h-1v1h3v2h-5v4h-2v2h-2v2h-1v2h-1v1h1v2h-1v2h-2v-2h1v-2h-1v-2h1v-1h1v-1h-4v2h-2v-1h-1v3h-1v2h-1v2h-2v-1h-1v-2h1v-1h-1v-1h-1v1h-1v1h-1v2h-2v-1h-1v2h-2v-2h1v-2h3v-1h1v-1h2v-1h-3v1h-2v1h-1v1h-1v1h-2v1h1v2h-2v-2h-1v-1h-1v2h1v2h-3v-4h1v-1h-1v1h-4v1h2v1h-1v1h-5v1h1v5h-2v-5h-1v-1h1v-2h-2v-1h-1v2h-2v-1h-1v-2h1v-2h4v2h1v-1h1v-2h-5v-2h-2v-1h-2v1h-2v-1h-1v1h-2v-1h1v-1h1v-3h2v-3h-1v2h-1v1h-4v1h-2v-1h1v-2h-3v-2h2v-1h2v-4h-2v1h1v2h-1v1h-3v-1h1v-1h1v-5h1v-1h1v-1h-2v1h-1v2h-2v-4h1v-1h1v-1h2v-1h1v-1h-2v1h-2v-2h-1v-2h-1v-2h5v-1h4v-1h1v-2h-1v2h-2v-1h-1v1h-3v-4h-1v-1h-1v-1h2v-2h4v2h-2v2h3v-1h1v-2h-1v-2h-1v-1h-2v-2h2v1h3v-2h1v-1h2v1h1v-1h-1v-1h-2v-2h2v-3h-1v-2h2v1h1v-1h1v-1h3v-1h-1v-2h1v-1h-1v-1h1v-1h1v-3h-2v-2h-1v-2h2v1h1v2h5v1h2v-2h-2v-1h1v-1h2v-3h1v-1h3v-1h3v-1h-5v-2h3v-1h1v-1h2v2h2v1h1v1h1v-2h1v-1h-1v-1h-1v-2h5v1h2v-1h-1v-1h2v2h1v-1h1v-1h2v1h2v-2h-2v-1h-1v1h-3v-2h3v-1h-2v-3h-2v-1h1v-1h1v1h2v2h4v2h3v1h1v-1h1v-3h-1v1h-1v-3h2v1h2v1h2v2h1v-2h2v1h1v1h3v-1h-3v-3h1v-1h-2v-2h2v1h3v-1h2v1h3v-1h-2zm19 0h1v1h1v1h-2zm3 0h2v1h1v1h-3zm-39 2h2v2h-2zm27 0h5v2h-5zm-34 1h2v2h-2zm47 0h2v2h-1v2h-1zm-55 1h2v2h-2zm19 0h4v1h-4zm22 2v1h-1v1h1v2h1v-2h2v-1h-2v-1zm16 0h2v2h-2zm9 0h2v2h-2zm3 0h2v2h-2zm-75 2h2v1h1v2h1v2h-2v-2h-1v-1h-1zm41 0v1h1v-1zm-46 1h2v2h-2zm3 0h1v1h1v1h-2zm9 1h2v4h-2zm21 1v1h1v-1zm21 0v1h1v-1zm2 1v3h1v-3zm-7 1v1h1v-1zm-45 2h1v1h-1zm54 0v1h1v-1zm-47 2v1h2v-1zm55 0v1h-1v1h-2v-1h-2v2h4v1h1v-1h1v-2h1v-1zm-71 1h2v2h-2zm80 2h2v1h-2zm1 3h4v2h-2v1h-2zm-83 2h2v2h-2zm6 0v2h1v1h2v-1h-1v-2zm67 0v2h2v-1h-1v-1zm-2 2v1h1v-1zm7 1h2v2h1v1h-2v-1h-1zm-71 1v1h1v-1zm75 0h2v2h-1v1h-2v-1h1zm3 2h2v1h-2zm-93 3h2v1h-2zm82 0v2h1v-1h1v-1zm7 0h2v1h1v3h-1v2h-2v-2h1v-2h-1v1h-1v-2h1zm-85 1v1h1v1h2v-1h-1v-1zm-9 4h1v2h-2v-1h1zm11 0v1h1v-1zm77 2v1h1v-1zm13 0h2v2h-2zm-103 1h2v4h-2v-1h-1v-2h1zm-3 1h1v1h-1zm9 0v1h1v-1zm94 0h2v2h-2zm-11 1v1h1v-1zm-94 2h2v1h1v2h-2v-2h-1zm11 1v1h2v-1zm80 1v1h1v-1zm14 0h1v3h-2v-2h1zm-5 2h1v1h-1zm-104 1h1v4h-1v-1h-1v-1h1zm102 0h1v2h-1zm-7 1v1h1v-1zm-92 1h1v1h-1zm94 0v1h2v-1zm-114 1h2v2h-2zm108 1v2h-1v1h1v-1h2v-1h-1v-1zm12 0h2v2h-2zm-93 2v2h2v-1h-1v-1zm94 1h2v2h-2zm-15 2v1h1v-1zm3 0v1h-1v1h2v1h-1v1h1v-1h2v-1h-1v-2zm8 0h1v1h-1zm-88 2v1h1v-1zm72 0v1h1v-1zm15 1h2v2h-2zm-4 3h2v2h-2zm-92 1v1h3v-1zm5 3v1h1v-1zm-23 1h2v2h-2zm11 0h2v3h-1v-1h-1zm95 1h2v2h-2zm5 0h4v2h-4zm-102 1h2v2h-2zm91 0h3v2h-2v1h1v2h-1v-1h-2v-1h-2v-2h2v1h1zm-88 3h3v2h-3zm-3 2h2v2h-2zm4 1h4v2h-4zm74 0v2h1v1h1v-1h-1v-2zm23 1h2v2h-2zm-103 4h2v2h-2zm93 3h2v2h-2zm-83 2h2v2h-2zm65 0h2v2h-1v1h-2v-2h1zm5 0h2v1h-2zm6 0h2v2h-2zm-80 1h2v2h-2zm9 0h3v2h-3zm10 0v2h1v-2zm38 0v1h1v-1zm6 0v1h1v-1zm-56 1h1v1h-1zm64 1h3v2h-3zm-47 1v1h1v-1zm-15 1h1v1h-1zm40 0v2h1v2h1v-3h-1v-1zm-34 1h2v2h-1v2h-2v-1h-1v-2h2zm13 1v1h-1v1h2v-1h1v-1zm7 0v1h-1v1h3v-1h1v-1zm44 2h2v2h-2zm-83 1h2v2h-2zm30 0v1h-1v1h2v-2zm-24 1h2v2h-2zm-17 1h2v2h-2zm23 0h2v2h-2v1h-1v2h-2v-3h1v-1h2zm44 0h2v1h-1v3h-2v-2h1zm-39 1h1v1h-1zm26 1h1v2h-1zm-19 1h2v3h-2zm8 0h1v1h-1zm18 0h2v1h-2zm-11 1h3v1h-1v1h-2zm15 1h2v2h-2zm-2 2h2v2h-2z"/>
<path fill-opacity="0.475" d="M97 16h2v2h-2zm-8 2h2v2h-2zm13 1h1v1h-1zm-18 3h1v1h-1zm14 0h1v1h1v1h-1v1h-2v-2h1zm20 0h1v1h-1zm-30 1h1v2h-2v-1h1zm4 0h2v1h2v2h-3v-1h-1zm13 0h3v2h-3zm13 1h2v2h-2zm-54 1h1v2h-1zm25 1h1v1h1v-1h1v1h1v2h5v1h3v-1h-3v-3h2v1h2v-1h5v1h2v2h2v1h4v2h-3v2h1v2h2v1h3v-1h2v1h4v2h-3v1h1v1h-1v2h-2v1h2v1h1v2h1v2h-2v3h1v2h1v1h1v1h-2v1h2v1h1v2h-2v-1h-1v2h-1v1h-1v1h1v-1h1v-1h1v2h-1v1h1v1h-1v2h-2v1h-1v2h-1v2h2v2h-2v2h-3v1h-1v-1h-3v3h2v-1h2v-1h1v2h-1v1h-1v1h-2v2h1v2h-1v1h-1v1h-1v-1h-3v1h2v2h-1v1h-2v2h-1v1h-1v-1h-1v-1h-2v1h2v2h-1v2h-1v3h-1v1h-3v3h-1v-1h-2v-2h1v-1h-2v5h-1v1h2v1h-1v1h-2v-1h-1v-3h-2v1h-1v3h3v2h-4v-1h-1v-1h-1v1h1v3h-1v-1h-2v2h2v1h-1v1h-3v1h1v2h-1v2h-2v-1h1v-2h-1v-1h-1v1h-1v-1h-1v3h-2v-1h-2v1h1v2h-1v1h-3v-2h2v-3h-1v-2h-1v2h-1v1h-4v1h-2v1h-2v1h-2v-1h1v-1h-1v-1h-3v1h-1v1h-1v1h-2v1h-4v-1h1v-1h1v-1h1v-2h-2v1h-1v2h-1v-2h-2v-1h1v-2h1v-1h-1v1h-1v1h-1v2h-2v-1h-1v-1h-2v-1h-4v-2h-1v-2h3v-1h2v-1h-3v-2h-1v2h-1v1h-1v-1h-1v2h-3v-3h-1v1h-1v-2h4v-1h-1v-3h2v-3h-1v2h-4v-2h1v-1h1v-2h-4v-1h1v-1h1v-1h6v-2h-3v1h-1v-1h-3v-1h1v-1h2v-1h-1v-2h1v-1h3v-1h1v-2h-5v2h-2v-6h1v1h1v2h2v-1h1v-1h1v1h3v-2h-3v-2h-1v-1h-1v-1h4v-3h2v1h1v-2h-1v-1h-2v-2h2v1h2v1h3v-1h-3v-1h-2v-3h-1v-2h2v1h1v2h2v-1h2v-1h-2v1h-1v-2h1v-1h2v-1h-1v-2h4v3h1v-2h1v-1h-1v-1h-1v-4h-2v-1h1v-1h4v1h1v1h2v-1h-1v-2h-1v-2h2v-2h1v-1h1v-1h3v-1h2v-2h-1v1h-1v-2h1v-1h1v1h3v1h1v2h1v-3h2v-1h2v1h1v-1h-1v-2h2v1h1v1h1v-2h1v-2h2v1h2v1h1v-1h-1v-3h-3v-2h-2v-2h6v2h1v1h3v-1h2v1h1v1h1v-2h-2v-1h-1v-3h2v1h-1v1h1v-1h2v2h1v-2h2v1h1v1h2v3h1v-5h-1v1h-1v-1h-1v-1h1zm26 0h1v1h-1zm-47 1h2v1h-2zm10 0h1v1h-1zm26 0v1h-2v1h2v2h-2v1h3v-3h2v-1h-2v-1zm9 0h1v2h-2v-1h1zm19 0h2v2h-2zm-12 1h1v1h-1zm-68 2h2v2h-2zm6 0h1v1h-1zm35 0v1h1v1h1v-2zm15 0v1h1v1h1v-2zm-49 1h1v2h-1zm5 0h2v2h-1v1h-1zm33 0v1h1v-1zm20 0h2v2h-2v1h-2v-2h2zm-49 1h2v2h-2zm17 0v2h1v-2zm21 0v2h1v1h-1v1h1v-1h1v1h1v1h2v-1h-1v-1h-1v-1h1v-1h-3v-1zm-5 1v4h1v-4zm-22 1v1h2v-1zm39 0h1v1h-1zm2 0h3v1h-1v1h-2zm-59 2h1v1h1v-1h1v2h-4v-1h1zm57 2v1h-5v2h1v1h1v-1h1v1h1v1h-1v2h1v-2h1v-2h1v-2h1v-1zm-71 1h2v2h-2zm4 1h2v2h-2zm73 0h1v1h-1zm-12 3v1h1v-1zm10 0h2v2h-2zm6 1h2v3h-2zm-71 1v1h1v-1zm-11 1h1v2h-2v-1h1zm5 0v2h1v3h1v-2h1v-1h-1v-2zm67 0v2h-2v1h2v-1h2v-2zm-79 3h1v1h1v2h-2zm85 1h1v1h-1zm3 0h2v2h-2zm-77 1v1h1v-1zm-9 3h1v2h-1zm6 0v1h1v1h1v-1h-1v-1zm3 0v1h1v-1zm69 1v1h-1v1h1v1h1v-2h1v-1zm8 1h1v1h1v1h-2zm-7 3v1h1v-1zm6 0h2v2h-2zm-81 2v1h2v-1zm71 0v2h1v-2zm-86 3h1v1h1v2h-2zm101 0h1v2h-1zm-12 1v1h1v-1zm4 1h1v2h-2v-1h1zm-7 2v2h1v-2zm14 2h1v1h-1zm-14 3v1h1v-1zm4 1h2v1h-2zm-12 2v1h2v-1zm11 0h1v4h-2v-3h1zm-9 5v1h1v-1zm5 0h2v1h-2zm-82 1v2h1v-2zm72 1v1h2v-1zm-2 2v1h1v-1zm10 0h2v1h-1v1h-1v1h-1v-2h1zm-92 1h4v2h-1v2h-2v-3h-1zm7 1v1h1v-1zm81 4h1v1h-1zm-2 3h2v2h-2zm-78 2v2h1v-2zm68 0v3h1v-3zm6 0h2v1h-2zm-84 1h1v2h-1zm4 0h1v1h-1zm84 0h1v1h-1zm-6 2h3v2h-2v-1h-1zm-82 1h4v2h-4zm6 2h1v2h-1zm7 0v1h-1v1h-1v1h2v-1h3v-1h-1v-1zm62 2h1v1h-1zm2 0h2v2h-1v-1h-1zm-17 3v1h1v-1zm27 1h2v2h-2zm-26 1v1h-2v1h-2v1h2v2h1v-2h1v-1h1v-2zm-56 1h1v2h-2v-1h1zm64 0h2v2h-2zm11 0h2v1h-2zm-70 1h2v1h-1v1h-1zm9 0v2h1v1h1v-1h1v-1h-1v-1zm40 0h1v1h-1zm-23 1v1h1v-1zm19 1v1h1v-1zm17 0h2v1h-1v1h-1zm-37 1v1h-1v1h2v-2zm8 0v1h1v-1zm-3 2v1h2v-1zm-27 1h2v2h-2zm35 0h1v2h-1zm-2 1h1v1h-1zm-26 1h2v1h-2zm4 0h2v2h-1v1h1v2h-2v-2h-1v-2h1zm21 0h1v1h-1zm-11 1h1v2h-1zm2 0h1v1h-1zm6 0h2v2h-2zm17 0h2v2h-2zm-56 1h1v1h-1zm16 0h2v2h-2zm10 1h1v2h-1zm8 0h2v2h-2zm4 0h1v1h-1zm8 0h1v2h-1zm3 0h1v1h-1zm-46 1h2v2h-2zm45 1h2v2h-2zm-46 1h1v1h1v1h-2zm15 0h2v3h-1v-1h-1zm4 0h2v1h-2zm12 1h1v2h-1zm-12 2h2v2h-2zm24 1h1v2h-1z"/>
<path fill-opacity="0.714" d="M106 23h1v2h-1zm-13 1h2v2h-1v-1h-1zm25 1h1v1h-1zm-13 1h1v1h-1zm-16 1h1v1h-1zm2 0h1v1h1v1h-2zm7 0h4v2h-2v-1h-2zm9 1h2v1h-2zm-36 1h2v3h4v1h-5v-2h-1zm3 0h1v1h-1zm7 0h2v1h2v2h-2v-1h-2zm5 0h1v1h1v1h1v-1h1v3h1v-3h1v1h2v3h1v-2h4v1h1v1h1v3h3v-1h-2v-1h1v-1h1v-1h-1v-1h2v3h1v1h2v1h4v-1h1v1h2v2h-1v-1h-1v4h2v3h2v1h1v1h-1v1h-1v-1h-1v2h1v4h2v3h-1v1h-2v1h2v-1h1v3h2v2h-1v3h-1v1h1v1h-2v1h-1v2h-1v2h1v1h-1v1h-1v-2h-1v3h1v1h-2v-1h-1v1h-3v2h1v-1h2v1h-1v1h1v1h1v-1h2v2h-5v1h1v1h3v2h-4v1h-1v-2h-1v-1h-2v1h2v3h1v1h1v1h-2v1h-2v2h-2v-2h1v-1h-1v1h-1v1h-1v2h1v2h-1v4h-1v1h-2v-3h1v-2h-1v1h-2v1h1v3h-1v2h-1v-4h-2v-1h-1v2h1v2h-1v4h1v1h-2v-1h-1v-2h1v-1h-2v1h-2v3h-1v1h-3v-2h-1v5h-1v-2h-1v-2h-1v2h-2v1h1v1h-1v1h-2v-1h-1v1h1v2h-1v2h-1v-6h-1v3h-1v2h1v3h-2v-3h-1v-1h-1v1h-2v-1h-1v1h1v1h1v2h-4v-4h-1v1h-1v2h-1v-1h-1v-1h-1v3h-1v-1h-1v-3h1v-3h-1v2h-1v1h-1v2h-1v3h-3v-1h-1v-1h-1v-1h-2v2h-2v-2h1v-2h-1v1h-2v3h-2v-2h1v-5h-3v3h1v2h-1v-1h-1v-1h-1v-2h-1v3h-1v-2h-1v-2h4v-1h1v-1h-1v-1h-1v-1h1v-1h-1v-1h-1v-1h-1v-1h-2v1h-2v1h-2v-1h1v-1h1v-2h1v-1h1v-2h-1v-1h-3v-1h-3v-2h2v1h4v-3h1v-1h2v1h1v-3h-2v1h-2v-1h-1v-1h1v-1h-1v-2h1v-2h1v-2h1v-1h1v-3h1v-1h-1v1h-1v1h-3v-1h2v-3h1v-1h3v1h2v-4h3v-1h-1v-1h-2v1h-2v-1h-2v-4h1v1h1v1h2v-1h1v1h1v-1h1v-1h1v1h1v-3h1v1h3v-1h-2v-2h1v-2h-2v-2h-1v-2h2v1h1v1h1v1h3v-1h2v-1h2v-5h1v1h2v-1h-1v-1h1v-1h-1v1h-3v-4h1v-1h2v-1h1v-1h-1v-1h2v1h1v1h-1v1h6v-1h-2v-1h-1v-1h2v-1h2v1h1v-2h2v1h1v-2h1v-1h3v1h1v1h-3v1h3v-1h1v-4h2v-1h2v2h2v1h1v-2h2v-1h1v1h2v-1h-1zm16 0h1v1h-1zm-6 1h1v1h-1zm9 0h2v1h-2zm-26 1h2v2h-2zm20 0h3v2h-2v-1h-1zm8 0h2v2h-1v-1h-1zm4 0h1v1h-1zm2 0h1v1h-1zm-44 1h1v2h-1zm41 1h2v3h-2zm-22 1v2h2v-2zm32 0h2v2h-2zm-4 4h1v1h-1zm6 0h2v1h-2zm-14 1v1h1v-1zm12 0h1v3h-1v1h-1v2h-1v-4h1v-1h1zm-69 1h2v2h-2zm16 0v1h1v-1zm45 3v1h1v-1zm-55 2v1h1v-1zm63 0h1v1h1v3h-1v-1h-1zm8 0h2v1h-1v1h-1zm-79 1h2v2h1v2h-5v-2h2zm63 0v1h2v-1zm6 2h2v3h-2v1h-1v-2h1zm-5 1v1h-1v1h1v1h1v-3zm-74 1h2v1h-2zm12 1h2v2h-2zm-9 1h1v1h-1zm77 0h2v3h-2zm-71 1h2v2h-2zm67 1v1h1v-1zm7 1h1v1h-1zm-2 1h2v3h-2zm7 1h2v1h-2zm-87 1h1v1h2v1h-1v1h-1v-1h-1zm83 0h1v1h-1zm3 1h1v1h-1zm1 1h1v1h-1zm-87 1h1v2h-2v-1h1zm75 0v2h3v-2zm-85 4h1v1h-1zm91 0h1v1h-1zm-9 1v1h1v-1zm8 0h1v1h-1zm-2 2h1v1h-1zm-82 2h1v1h-1zm76 0v1h1v-1zm4 0h2v2h-2zm-84 1h1v1h-1zm86 1h2v2h-2zm-89 2h1v1h-1zm86 0h2v2h-2zm-78 1v1h1v-1zm81 2h1v1h1v1h-2zm-94 2h2v4h-2v-1h1v-2h-1zm5 1h1v2h-1zm4 2v1h-1v2h2v-3zm-5 3h1v1h1v1h-3v-1h1zm74 0v2h1v-1h1v-1zm-79 1h1v3h-2v-2h1zm90 0h1v1h-1zm-85 2h1v1h1v2h-3v-1h1zm79 6h2v2h-2zm-73 2v1h2v-1zm-7 1h2v1h-1v1h-1zm75 2h1v2h-1zm-18 2v2h1v-2zm-52 3h2v1h1v1h-2v-1h-1zm8 0v1h1v-1zm-13 2h2v2h1v2h-2v-2h-1zm3 0h2v1h-2zm42 1v1h1v-1zm14 0h2v2h-2zm-7 1h1v1h-1zm4 0h2v2h-2zm23 0h2v2h-2zm-56 1v1h1v-1zm-3 1v1h1v-1zm41 1h1v1h-1zm-40 1v1h-1v1h1v-1h1v-1zm33 0h1v1h1v1h-2zm-5 1h2v1h-1v1h-1zm3 2h1v1h-1zm-47 2h2v2h-2zm27 0h2v2h-2v1h-1v-2h1zm-10 1h1v2h-2v-1h1zm21 0h1v2h-1zm8 0h1v1h-1zm-35 1h2v2h-2v1h-1v-2h1zm4 1h1v1h-1zm14 0h1v1h1v1h-2zm8 0h1v1h-1zm9 0h2v2h-2zm-40 1h1v1h-1zm1 5h2v1h-2zm4 2h1v1h-1z"/>
</g>
<path fill="#fff" fill-rule="evenodd" d="M929.8 1623.6L945.7 1623.9 946.6 1623.6 961.6 1621.5 977.6 1616.5 993.5 1609.5 995.7 1607.7 1009.4 1594 1012 1591.7 1025.3 1577.1 1026.4 1575.8 1038 1559.8 1041.2 1549.4 1043.3 1543.9 1045 1527.9 1046.7 1512 1041.2 1500.1 1038 1496 1025.3 1486.8 1009.4 1482.4 993.5 1482.6 977.6 1485.4 961.6 1491.8 956.8 1496 945.7 1503.4 935.6 1512 929.8 1517.3 920.1 1527.9 913.9 1539.3 910.7 1543.9 903.9 1559.8 899.6 1575.8 898 1589.3 897.5 1591.7 898 1592.5 907.9 1607.7 913.9 1615.6 929.8 1623.6Z"/>
<g shape-rendering="crispEdges">
<path fill="#fafbfe" fill-opacity="0.025" d="M858.2 1615.6H874.1V1631.6H858.2ZM858.2 1599.7H874.1V1615.6H858.2ZM858.2 1583.7H874.1V1599.7H858.2ZM858.2 1567.8H874.1V1583.7H858.2ZM874.1 1631.6H890V1647.5H874.1ZM874.1 1615.6H890V1631.6H874.1ZM874.1 1535.9H890V1551.8H874.1ZM890 1647.5H905.9V1663.5H890ZM890 1631.6H905.9V1647.5H890ZM890 1520H905.9V1535.9H890ZM890 1504H905.9V1520H890ZM905.9 1647.5H921.8V1663.5H905.9ZM905.9 1488.1H921.8V1504H905.9ZM921.8 1647.5H937.8V1663.5H921.8ZM921.8 1472.1H937.8V1488.1H921.8ZM937.8 1647.5H953.7V1663.5H937.8ZM937.8 1472.1H953.7V1488.1H937.8ZM953.7 1647.5H969.6V1663.5H953.7ZM969.6 1631.6H985.5V1647.5H969.6ZM969.6 1456.2H985.5V1472.1H969.6ZM985.5 1631.6H1001.4V1647.5H985.5ZM1001.4 1615.6H1017.4V1631.6H1001.4ZM1001.4 1440.2H1017.4V1456.2H1001.4ZM1033.3 1583.7H1049.2V1599.7H1033.3ZM1033.3 1456.2H1049.2V1472.1H1033.3ZM1033.3 1440.2H1049.2V1456.2H1033.3ZM1049.2 1567.8H1065.1V1583.7H1049.2ZM1049.2 1551.8H1065.1V1567.8H1049.2ZM1049.2 1456.2H1065.1V1472.1H1049.2ZM1065.1 1535.9H1081V1551.8H1065.1ZM1065.1 1520H1081V1535.9H1065.1ZM1065.1 1504H1081V1520H1065.1ZM1065.1 1488.1H1081V1504H1065.1ZM1065.1 1472.1H1081V1488.1H1065.1Z"/>
<path fill="#f6f8fe" fill-opacity="0.050" d="M874.1 1599.7H890V1615.6H874.1ZM874.1 1583.7H890V1599.7H874.1ZM874.1 1567.8H890V1583.7H874.1ZM874.1 1551.8H890V1567.8H874.1ZM905.9 1631.6H921.8V1647.5H905.9ZM905.9 1504H921.8V1520H905.9ZM921.8 1488.1H937.8V1504H921.8ZM953.7 1631.6H969.6V1647.5H953.7ZM985.5 1615.6H1001.4V1631.6H985.5ZM985.5 1456.2H1001.4V1472.1H985.5ZM1001.4 1456.2H1017.4V1472.1H1001.4ZM1017.4 1599.7H1033.3V1615.6H1017.4ZM1017.4 1456.2H1033.3V1472.1H1017.4ZM1033.3 1567.8H1049.2V1583.7H1033.3ZM1049.2 1535.9H1065.1V1551.8H1049.2ZM1049.2 1488.1H1065.1V1504H1049.2ZM1049.2 1472.1H1065.1V1488.1H1049.2Z"/>
<path fill="#f1f4fd" fill-opacity="0.075" d="M890 1615.6H905.9V1631.6H890ZM890 1535.9H905.9V1551.8H890ZM921.8 1631.6H937.8V1647.5H921.8ZM937.8 1631.6H953.7V1647.5H937.8ZM953.7 1472.1H969.6V1488.1H953.7ZM1001.4 1599.7H1017.4V1615.6H1001.4ZM1017.4 1583.7H1033.3V1599.7H1017.4ZM1033.3 1472.1H1049.2V1488.1H1033.3ZM1049.2 1520H1065.1V1535.9H1049.2ZM1049.2 1504H1065.1V1520H1049.2Z"/>
<path fill="#ecf0fc" fill-opacity="0.100" d="M890 1599.7H905.9V1615.6H890ZM890 1551.8H905.9V1567.8H890ZM905.9 1520H921.8V1535.9H905.9ZM921.8 1504H937.8V1520H921.8ZM937.8 1488.1H953.7V1504H937.8ZM969.6 1615.6H985.5V1631.6H969.6ZM969.6 1472.1H985.5V1488.1H969.6ZM1017.4 1472.1H1033.3V1488.1H1017.4Z"/>
<path fill="#e7ecfb" fill-opacity="0.125" d="M890 1567.8H905.9V1583.7H890ZM905.9 1615.6H921.8V1631.6H905.9ZM953.7 1615.6H969.6V1631.6H953.7ZM985.5 1472.1H1001.4V1488.1H985.5ZM1001.4 1472.1H1017.4V1488.1H1001.4ZM1033.3 1551.8H1049.2V1567.8H1033.3ZM1033.3 1488.1H1049.2V1504H1033.3Z"/>
<path fill="#e2e8fa" fill-opacity="0.150" d="M890 1583.7H905.9V1599.7H890ZM921.8 1615.6H937.8V1631.6H921.8ZM937.8 1615.6H953.7V1631.6H937.8ZM1017.4 1567.8H1033.3V1583.7H1017.4Z"/>
<path fill="#dee5fa" fill-opacity="0.175" d="M905.9 1535.9H921.8V1551.8H905.9ZM953.7 1488.1H969.6V1504H953.7ZM985.5 1599.7H1001.4V1615.6H985.5ZM1001.4 1583.7H1017.4V1599.7H1001.4ZM1033.3 1535.9H1049.2V1551.8H1033.3ZM1033.3 1520H1049.2V1535.9H1033.3Z"/>
<path fill="#d9e1f9" fill-opacity="0.200" d="M905.9 1599.7H921.8V1615.6H905.9ZM1017.4 1488.1H1033.3V1504H1017.4ZM1033.3 1504H1049.2V1520H1033.3Z"/>
<path fill="#d4ddf8" fill-opacity="0.225" d="M921.8 1520H937.8V1535.9H921.8ZM937.8 1504H953.7V1520H937.8ZM969.6 1599.7H985.5V1615.6H969.6Z"/>
<path fill="#d0daf8" fill-opacity="0.250" d="M905.9 1551.8H921.8V1567.8H905.9ZM969.6 1488.1H985.5V1504H969.6ZM1017.4 1551.8H1033.3V1567.8H1017.4Z"/>
<path fill="#cbd6f7" fill-opacity="0.275" d="M905.9 1583.7H921.8V1599.7H905.9ZM921.8 1599.7H937.8V1615.6H921.8ZM1001.4 1488.1H1017.4V1504H1001.4Z"/>
<path fill="#c6d2f6" fill-opacity="0.300" d="M905.9 1567.8H921.8V1583.7H905.9ZM953.7 1599.7H969.6V1615.6H953.7ZM985.5 1488.1H1001.4V1504H985.5ZM1017.4 1504H1033.3V1520H1017.4Z"/>
<path fill="#c1cef5" fill-opacity="0.325" d="M937.8 1599.7H953.7V1615.6H937.8ZM985.5 1583.7H1001.4V1599.7H985.5ZM1001.4 1567.8H1017.4V1583.7H1001.4ZM1017.4 1535.9H1033.3V1551.8H1017.4Z"/>
<path fill="#bccaf4" fill-opacity="0.350" d="M953.7 1504H969.6V1520H953.7Z"/>
<path fill="#b8c7f4" fill-opacity="0.375" d="M921.8 1535.9H937.8V1551.8H921.8ZM937.8 1520H953.7V1535.9H937.8ZM1017.4 1520H1033.3V1535.9H1017.4Z"/>
<path fill="#aebff2" fill-opacity="0.425" d="M921.8 1583.7H937.8V1599.7H921.8ZM969.6 1583.7H985.5V1599.7H969.6Z"/>
<path fill="#a5b8f1" fill-opacity="0.475" d="M1001.4 1504H1017.4V1520H1001.4Z"/>
<path fill="#a0b4f0" fill-opacity="0.500" d="M921.8 1567.8H937.8V1583.7H921.8ZM969.6 1504H985.5V1520H969.6ZM985.5 1504H1001.4V1520H985.5Z"/>
<path fill="#9bb0ef" fill-opacity="0.525" d="M921.8 1551.8H937.8V1567.8H921.8ZM953.7 1583.7H969.6V1599.7H953.7ZM1001.4 1551.8H1017.4V1567.8H1001.4Z"/>
<path fill="#96acee" fill-opacity="0.550" d="M937.8 1583.7H953.7V1599.7H937.8ZM985.5 1567.8H1001.4V1583.7H985.5Z"/>
<path fill="#8da5ed" fill-opacity="0.600" d="M1001.4 1520H1017.4V1535.9H1001.4Z"/>
<path fill="#88a1ec" fill-opacity="0.625" d="M1001.4 1535.9H1017.4V1551.8H1001.4Z"/>
<path fill="#849eec" fill-opacity="0.650" d="M937.8 1535.9H953.7V1551.8H937.8ZM953.7 1520H969.6V1535.9H953.7Z"/>
<path fill="#7592e9" fill-opacity="0.725" d="M969.6 1520H985.5V1535.9H969.6Z"/>
<path fill="#6c8be8" fill-opacity="0.775" d="M937.8 1567.8H953.7V1583.7H937.8ZM937.8 1551.8H953.7V1567.8H937.8ZM953.7 1567.8H969.6V1583.7H953.7ZM985.5 1551.8H1001.4V1567.8H985.5Z"/>
<path fill="#6787e7" fill-opacity="0.800" d="M969.6 1567.8H985.5V1583.7H969.6ZM985.5 1520H1001.4V1535.9H985.5Z"/>
<path fill="#6283e6" fill-opacity="0.825" d="M985.5 1535.9H1001.4V1551.8H985.5Z"/>
<path fill="#5e80e6" fill-opacity="0.850" d="M953.7 1535.9H969.6V1551.8H953.7Z"/>
<path fill="#466de2" fill-opacity="0.975" d="M953.7 1551.8H969.6V1567.8H953.7ZM969.6 1535.9H985.5V1551.8H969.6Z"/>
<path fill="#4169e1" fill-opacity="1.000" d="M969.6 1551.8H985.5V1567.8H969.6Z"/>
</g>
<path class="c" d="M929.8 1623.6L945.7 1623.9 946.6 1623.6 961.6 1621.5 977.6 1616.5 993.5 1609.5 995.7 1607.7 1009.4 1594 1012 1591.7 1025.3 1577.1 1026.4 1575.8 1038 1559.8 1041.2 1549.4 1043.3 1543.9 1045 1527.9 1046.7 1512 1041.2 1500.1 1038 1496 1025.3 1486.8 1009.4 1482.4 993.5 1482.6 977.6 1485.4 961.6 1491.8 956.8 1496 945.7 1503.4 935.6 1512 929.8 1517.3 920.1 1527.9 913.9 1539.3 910.7 1543.9 903.9 1559.8 899.6 1575.8 898 1589.3 897.5 1591.7 898 1592.5 907.9 1607.7 913.9 1615.6 929.8 1623.6ZM917.7 1591.7L929.8 1602.9 945.7 1607.6 961.6 1606.5 977.6 1600.3 993.5 1592.1 993.9 1591.7 1009.4 1577.4 1011 1575.8 1021.8 1559.8 1025.3 1543.9 1025.3 1543.9 1029.1 1527.9 1025.3 1515.7 1024.1 1512 1009.4 1500 993.5 1497.7 977.6 1500.2 961.6 1508.7 957.2 1512 945.7 1521.5 938.7 1527.9 929.8 1537 924.9 1543.9 917.6 1559.8 916 1575.8ZM937.4 1575.8L945.7 1586.8 961.6 1585.4 977.6 1583.6 989.3 1575.8 993.5 1571.1 1003.3 1559.8 1009.4 1543.9 1006.9 1527.9 993.5 1519 977.6 1520.3 961.6 1526.2 959.8 1527.9 945.7 1541.9 943.8 1543.9 935.9 1559.8ZM961.6 1559.8L977.6 1561.7 979.3 1559.8 978.4 1543.9 977.6 1543.3 976.5 1543.9Z"/>
<path class="tr" d="M972.3 1392.4V1711.3"/>
<path class="th" d="M810.4 1552.7H1128.8"/>
<rect x="965" y="1545.2" width="14.7" height="15.3" fill="#4682b4"/>
</g>
<clipPath id="k9"><rect x="1144.8" y="1392.4" width="318.4" height="318.9"/></clipPath>
<g clip-path="url(#k9)">
<g transform="translate(1142.64 1390.19) scale(2.212)" fill="#4169e1" filter="url(#bl)">
<path fill-opacity="0.070" d="M89 9h2v2h-2zm-20 1h2v2h-2zm-15 1h2v2h-2zm12 0h2v2h-2zm11 1h2v2h-2zm22 0h2v2h-2zm6 0h2v2h-2zm-25 1h4v4h-2v-2h-2zm7 0h2v2h-2zm5 1h2v2h-2zm-50 1h2v2h-2v1h-2v-2h2zm3 1h2v2h-2zm24 0h2v2h1v1h1v1h2v1h1v-1h-1v-1h-2v-2h2v1h2v1h2v2h-1v1h-1v1h3v-1h1v-2h2v1h3v-1h2v1h1v-1h2v2h-2v2h-1v2h-2v2h1v-1h4v-1h-1v-2h4v-1h2v2h2v2h-2v-1h-1v3h1v-1h3v-2h1v-2h-1v-1h-1v-1h-2v-2h2v1h2v-1h2v1h1v-2h4v2h-3v2h-2v-1h-1v2h1v1h1v3h2v2h1v3h1v-1h2v-1h-2v-2h-1v-2h3v2h1v2h2v2h1v-3h2v3h2v2h-2v2h-2v-1h-2v1h2v1h4v-1h4v2h-3v1h-1v1h-1v1h2v-2h4v3h1v2h-2v2h4v-2h-1v-3h2v1h3v2h1v2h-2v-1h-1v2h1v3h1v3h-1v2h1v-1h2v-1h-1v-2h2v2h1v4h-2v-1h-1v3h-1v1h2v1h1v-1h2v2h-2v1h-2v1h1v2h-1v3h-1v2h-1v1h1v2h-2v1h1v1h1v1h1v2h-1v1h-3v-2h1v-1h-1v-1h-1v6h-2v-1h-1v1h1v1h2v2h-3v1h3v2h-3v1h1v1h2v-2h2v1h3v2h-4v6h1v-2h2v2h-1v2h1v2h-3v-3h-3v-2h1v-2h-1v2h-1v1h-2v1h2v3h-4v-4h-2v3h-1v1h1v4h1v2h-1v2h-1v1h-2v-1h-2v-1h-2v1h1v1h2v2h-1v2h-2v-2h1v-1h-1v1h-2v1h1v2h-1v1h-3v-1h-2v-2h-2v1h-1v2h2v2h1v2h-3v-2h-1v1h-2v-1h-1v1h-1v1h-2v-4h-1v-1h-1v3h1v2h-2v-1h-1v1h-2v2h1v-1h2v2h-2v1h-1v1h-2v-4h-1v3h-1v1h-2v-1h-1v1h-2v-1h-1v-2h1v-2h-2v2h-1v2h1v2h-2v-1h-4v-1h-1v2h-2v-2h-2v-1h-1v1h1v1h1v2h-2v-1h-7v-2h-1v-1h-1v2h-2v-4h-1v-1h-2v-1h-1v1h1v3h1v2h2v1h2v2h-2v-1h-1v2h-2v-2h-2v-2h-4v-2h2v-1h-2v-2h3v-1h-4v2h-2v-1h-2v3h-2v-1h-1v-2h2v-3h-3v1h-2v-4h-1v-2h-2v-1h-2v1h-2v-2h2v-1h2v1h1v-2h-8v-1h-1v-3h-1v-2h2v-1h2v1h1v-2h1v-1h-2v1h-2v1h-3v-1h-1v-1h-1v-1h-1v-2h3v-2h2v1h1v-2h-5v-2h3v-2h-1v1h-2v-2h1v-1h-4v1h-2v-2h1v-3h1v-1h2v-2h-1v1h-2v-1h-3v-4h2v2h2v1h1v-1h1v-1h-1v-2h1v-1h-1v-4h-2v-2h-2v-2h-1v-2h4v2h-1v1h2v1h2v1h1v-1h2v-1h-4v-3h2v-1h-3v-1h-1v-2h4v2h1v-1h2v-1h-1v-1h-1v-1h-1v-2h1v-1h-1v-2h1v-2h2v2h-1v1h1v2h2v-1h-1v-2h1v-5h1v-3h-2v-2h2v1h1v-1h-1v-2h2v1h1v-2h2v3h-1v1h-1v1h1v1h1v1h1v-1h-1v-2h2v-1h2v-1h1v-2h2v-3h3v-3h1v-1h3v2h-2v1h2v-1h1v-5h-1v-2h2v-2h2v2h-1v3h1v-1h3v3h1v-3h-1v-2h1v-1h-1v-1h-1v-5h2v2h1v4h1v-2h2v1h3v-3h-2v1h-2v-1h-1v-2h2v1h1v-1h2v1h3v-2h-1v-2h2v-1h2v2h-1v1h1v1h4v-1h3v1h1v2h-1v1h2v-3h-1v-1h-1v-1h-2zm9 0h3v3h-2v-1h-1zm20 0h4v2h-4zm16 1h2v2h-2zm-23 1h2v1h2v2h-2v-1h-2zm19 0h2v1h2v2h-2v-1h-2zm-44 1h2v2h-2zm-22 1h2v2h-2zm66 1h2v2h1v2h-2v-2h-1zm-5 1h2v1h2v1h1v1h1v2h-2v-1h-1v-1h-3zm20 0h2v2h-2zm-87 1h2v2h-2zm8 0h2v2h-1v1h-2v1h-2v1h-1v1h-2v-2h1v-1h2v-1h2v-1h1zm16 0v1h1v-1zm13 0v2h1v-2zm7 0v1h1v-1zm-58 1h2v2h-2zm56 0v1h1v-1zm-47 1h2v2h1v-1h2v2h-2v1h-2v-2h-1zm28 0v2h1v-2zm7 0v1h1v-1zm-4 1v1h1v-1zm19 0v1h1v-1zm31 0h2v2h1v2h-2v-2h-1zm-36 1v1h1v-1zm6 1v2h1v-2zm34 0h2v2h-2zm-92 1h2v2h-2zm27 0v1h1v-1zm49 0v2h1v-2zm-91 1h2v2h-2zm85 0v1h3v-1zm25 0h2v2h-1v1h-2v-2h1zm-87 1h2v2h-1v1h-3v-2h2zm6 0h2v2h-2zm87 0h2v4h-2zm7 0h2v2h-1v1h-2v-2h1zm-31 2v1h-2v1h2v-1h2v-1zm6 0v2h-1v1h1v-1h1v-2zm-78 2h4v3h-2v-1h-2zm15 0v1h1v-1zm83 0h2v2h-2zm-103 3h2v2h-2zm-18 1h2v2h-2zm33 0v1h1v-1zm85 0h2v2h-2zm3 0h2v2h-2zm-99 1h2v2h-2zm-10 1h2v2h-2zm88 1v1h1v1h1v-2zm4 1v1h1v-1zm3 1v1h2v-1zm19 1h2v2h-1v2h-3v1h-2v-2h2v-1h2zm5 1h2v2h-2zm-23 2v1h1v1h1v-2zm-107 1h2v2h-2zm114 0v1h3v-1zm9 1h2v2h-2zm6 0h2v2h-2zm-122 1h2v2h-2zm110 0v1h1v-1zm-116 1h2v2h-2zm103 2v1h1v-1zm9 0v1h2v2h-1v3h1v-2h1v-1h1v-3zm-2 1v1h1v-1zm-111 1h2v2h-2zm5 0h2v3h-3v-2h1zm119 2h2v2h-2zm-14 1v1h1v-1zm-94 1v1h1v-1zm-21 1h2v2h-2zm121 0v1h-1v2h1v-1h1v-1h1v-1zm-103 2v1h1v-1zm-22 1h2v2h-2zm20 1v2h1v-1h1v-1zm107 0v2h-2v-1h-1v1h1v2h3v-2h1v-1h-1v-1zm-119 3h2v2h-2zm123 1h2v2h-2zm-8 1v1h2v-1zm-116 2h2v2h-2zm124 0h4v2h-3v3h-2v-3h1zm-111 1v1h1v-1zm-11 1h2v2h-2zm112 0v1h2v-1zm-104 2v1h1v-1zm4 0v1h1v-1zm-3 2v1h1v-1zm104 1v1h1v-1zm8 1h3v4h-2v4h-1v1h-2v-2h1v-4h2v-1h-1zm-110 1v1h1v-1zm-18 1h2v2h-2zm4 0h2v2h-2zm132 0h2v2h-2zm-128 1h2v2h-2zm14 0v2h1v-2zm102 0h2v2h-2zm-108 1v2h1v-2zm100 1v1h1v-1zm16 0h2v2h-2zm3 0h2v2h-2zm-134 1h2v2h-2zm116 3v1h1v-1zm-95 2v2h1v-2zm91 1v1h1v-1zm7 0v1h-2v2h-1v1h2v-1h1v-2h1v-1zm8 0h2v2h-2v1h-2v-2h2zm9 0h2v2h-2zm-139 1h2v2h-2zm7 0h2v2h-2v1h-2v-2h2zm7 1h2v2h-2zm117 1h2v2h-2zm-121 1h3v2h-3zm13 1v1h3v-1zm-7 4h2v1h1v2h-2v-1h-1zm-13 1h2v2h-2zm8 0h2v2h-2zm113 0h2v1h1v2h-2v-1h-1zm5 0h2v2h-2zm3 1h2v2h-2zm-104 1v1h1v-1zm91 0h2v2h-2zm3 0h2v3h-2zm-112 1h2v1h1v2h-2v2h-2v-4h1zm16 0v2h1v-2zm110 0h2v2h-2zm-132 1h2v2h-2zm12 0h2v3h-2zm89 0v2h-1v1h3v-2h-1v-1zm9 0v1h-2v1h3v-2zm-81 1v1h-2v1h2v-1h2v-1zm85 0h2v2h-2zm-105 1h2v2h-1v2h-2v-2h1zm113 0h2v2h-2zm-107 2h2v2h-2zm77 0v1h2v-1zm11 0v1h-3v3h1v-2h2v-1h1v-1zm-6 1v1h1v-1zm17 1h3v2h-1v1h-2zm-114 1h2v2h-2zm15 1h2v2h-2zm3 0h2v2h-2zm6 0h2v3h1v2h-2v-2h-1zm7 0v2h1v-2zm15 0v2h1v-2zm64 0h2v2h-2zm-68 1v2h1v-2zm48 0v1h-1v1h1v-1h1v-1zm-56 2v1h2v-1zm4 0v1h1v-1zm26 0v2h-2v1h2v-1h1v-2zm34 0h2v2h-2zm9 0h2v2h-2zm-37 1v1h2v-1zm-48 1h2v2h-2zm26 0v1h1v1h1v-2zm28 0v1h-1v1h2v-1h1v-1zm-15 2v2h1v-2zm-7 1v1h1v-1zm32 0h2v1h3v1h2v2h-2v-1h-4v-1h-1zm-51 1h2v2h-2zm30 0v1h2v-1zm11 0v1h1v-1zm-20 1v1h1v-1zm42 0h2v2h-1v2h-2v-2h1zm7 1h2v2h-2zm-76 2h2v2h-2zm45 0h6v2h-6zm9 0h2v1h1v2h-2v-1h-1zm-27 1h2v2h1v2h-2v-2h-1zm-16 1h2v2h-2zm27 0h2v2h-2zm22 0h2v2h-2zm-12 1h2v2h-2zm-12 1h2v2h-2zm8 0h2v2h-2zm-19 1h2v2h-2zm-18 2h2v2h-2zm36 0h2v2h-1v2h-2v-2h1z"/>
<path fill-opacity="0.151" d="M69 10h2v2h-2zm36 2h2v2h-2zm-23 1h2v4h-2zm5 0h2v2h-2zm5 1h2v2h-2zm-50 1h2v2h-2v1h-2v-2h2zm3 1h2v2h-2zm24 0h2v2h1v2h-3zm9 0h3v3h-2v-1h-1zm20 0h4v2h-4zm-25 1h2v1h2v1h2v2h-1v1h-1v1h2v2h2v-1h-1v-2h1v-2h2v1h3v-1h2v1h1v-1h2v2h-2v2h-1v2h-2v2h-2v2h2v-1h1v-2h2v1h1v-1h2v-1h-2v-2h4v-1h2v2h-2v1h1v3h1v-1h3v-2h1v-2h-1v-1h-1v-2h2v-1h2v1h1v-2h4v2h-3v2h-2v-1h-1v2h1v1h1v2h-1v4h1v-3h2v2h1v2h-1v1h-1v-1h-1v2h-2v1h1v1h1v-2h2v-1h2v-1h2v-1h-2v-4h2v2h1v2h2v2h1v-3h2v3h2v2h-2v2h-2v-1h-2v1h2v1h4v-1h4v2h-3v1h-1v1h-1v1h2v-2h4v2h-2v1h2v1h-1v2h-1v2h1v-1h4v-1h1v-1h-2v-2h5v2h1v2h-2v-1h-1v2h1v2h-2v-1h-3v1h3v2h1v-1h2v3h-1v2h1v-1h2v2h-1v3h-3v1h-3v-2h1v-2h1v-3h-4v1h-2v1h2v-1h1v6h1v3h1v-1h1v-1h2v-1h2v1h2v2h-2v1h1v2h-1v3h-1v2h-1v1h1v2h-2v1h1v1h1v1h1v2h-1v1h-3v-2h1v-1h-1v-1h-1v6h-2v-1h-1v1h1v1h1v2h-2v-1h-1v2h3v2h-2v1h1v1h2v-2h2v1h2v2h-3v2h-2v1h-1v2h-2v1h-5v1h-1v3h1v4h-4v2h-1v1h-2v1h1v2h-2v-2h-1v1h-3v3h-3v-1h-1v2h-2v1h1v1h2v2h1v2h-2v-2h-2v1h-2v-1h-1v1h-2v-1h-1v-2h-1v-1h-1v3h1v2h-2v-1h-1v1h-4v1h-1v3h-1v1h-2v-2h1v-1h-2v-2h2v-1h1v-1h-2v1h-2v1h-3v1h-1v3h1v2h-2v-1h-4v-1h-1v2h-2v-2h-1v-1h-2v1h1v1h1v2h-2v-1h-5v-2h-3v-1h-1v2h-2v-4h-1v-1h-2v-1h-1v1h1v3h1v2h2v1h2v2h-2v-1h-1v2h-2v-2h-2v-2h-4v-2h2v-1h-2v-2h3v-1h-4v2h-2v-1h-2v3h-2v-1h-1v-2h2v-3h3v-1h-2v-1h-1v2h-3v1h-2v-4h-1v-3h-1v-3h-1v-1h-1v1h-5v-1h-2v-3h-1v-2h2v1h2v-1h1v-2h1v-1h-2v1h-2v1h-3v-2h-2v-1h-1v-2h3v-2h2v2h1v-3h-1v-2h-1v-2h1v-1h-1v1h-1v1h-2v-2h1v-1h-4v1h-2v-2h1v-3h1v-1h2v-2h-1v1h-2v-1h-3v-4h2v2h2v1h1v-1h1v-1h-1v-2h1v-1h-1v-4h-2v-2h-2v-2h-1v-2h2v1h1v2h2v1h2v1h3v1h1v-1h-1v-2h-4v-3h2v-1h-3v-2h1v-1h2v2h3v1h-1v3h1v-1h1v-2h1v-1h-2v-2h-1v-1h-1v-1h-1v-2h2v1h1v-1h2v-1h1v-2h-1v-5h1v-3h-2v-2h2v1h1v-1h-1v-2h2v1h1v-2h2v2h-1v2h-1v1h1v1h1v1h1v-1h-1v-2h3v-1h2v1h1v-1h-1v-3h2v-3h3v-2h1v-2h3v2h-2v4h1v-3h2v-8h1v1h1v2h2v-1h1v2h1v1h1v-3h-1v-2h3v1h1v-1h-1v-3h2v1h3v-3h-2v1h-2v-2h2v-1h2v1h3v-3h1v1h2v1h1v4h-1v1h1v-1h1v-3h2v-2h3v1h1v2h-1v1h2v-3h-1v-2h3v1h1v-1h-1v-1h-2zm41 0h2v2h-2zm-23 1h2v2h-2zm19 0h2v1h2v2h-2v-1h-2zm-44 1h2v2h-2zm-22 1h2v2h-2zm5 2h2v2h1v4h-2v-1h-1zm33 0v2h1v-2zm23 0h2v1h2v1h1v2h-2v-1h-3zm-67 1h2v2h-2zm8 0h2v2h-2zm16 0v1h1v-1zm13 0v2h1v-2zm10 0v1h2v-1zm26 0h2v2h-2zm-87 1h2v2h-2zm9 1h2v2h-2zm10 0h2v2h-2v1h-1v1h-2v-2h1v-1h2zm18 0v2h-1v2h1v-2h1v-2zm7 0v1h1v-1zm28 0h2v2h-2zm-13 1v1h1v-1zm31 0h2v2h1v2h-2v-2h-1zm-69 1h2v2h-2zm33 0v1h1v1h1v-1h-1v-1zm-9 1v1h2v-1zm-43 1h2v2h-2zm31 0v1h-1v1h1v-1h1v-1zm-46 1h2v2h-2zm51 0v1h1v-1zm34 0v1h3v-1zm25 0h2v2h-1v1h-2v-2h1zm-87 1h2v2h-2v1h-2v-2h2zm6 0h2v2h-2zm87 0h2v4h-2zm-72 1v1h1v-1zm79 0h1v1h-1zm-42 1v1h1v-1zm17 0v1h-1v2h2v-3zm-77 2h3v3h-2v-1h-1zm14 0v1h1v-1zm83 0h2v2h-2zm-103 3h2v2h-2zm83 0v2h1v-1h1v-1zm-101 1h2v2h-2zm97 0v1h1v-1zm7 0v1h1v-1zm14 0h2v2h-2zm3 0h2v2h-2zm-99 1h2v2h-2zm-10 1h2v2h-2zm88 0v2h1v1h1v-1h1v-1h-2v-1zm-3 1v1h1v-1zm8 0v1h-1v2h1v-1h2v1h2v-1h-2v-2zm21 3h2v2h-1v2h-3v1h-2v-2h2v-1h2zm5 1h2v2h-2zm-24 1v1h1v1h1v1h1v-2h-2v-1zm-89 1v1h1v1h1v2h1v-2h-1v-1h-1v-1zm4 1v1h1v-1zm102 1h2v2h-2zm-116 1h2v2h-2zm16 0v1h1v-1zm88 0v1h1v-1zm-110 1h2v2h-2zm9 0h2v2h-1v2h-2v-2h1zm111 0h2v2h-2zm-17 2v1h1v-1zm-99 2h2v3h-3v-2h1zm12 1v1h1v-1zm93 2v1h1v-1zm-94 1v1h1v-1zm-21 1h2v2h-2zm-4 3h2v2h-2zm127 1v2h-2v-1h-1v1h1v3h-2v1h3v-2h2v-2h1v-1h-1v-1zm-119 3h2v2h-2zm-1 4h2v2h-2zm126 0h2v2h-2zm-113 1v1h1v-1zm-11 1h2v2h-2zm111 0v1h-1v1h2v-1h2v-1zm10 0h2v3h-2zm-113 2v1h1v-1zm4 0v2h1v-2zm-3 2v1h1v-1zm104 1v1h1v-1zm-102 1v2h1v-2zm110 0h3v4h-2v1h-2v-2h2v-1h-1zm-128 2h2v2h-2zm22 0v3h1v-3zm114 0h2v2h-2zm-128 1h2v2h-2zm11 0v1h-3v2h1v1h1v-1h1v-1h1v-2zm105 0h2v2h-2zm-8 2v1h1v-1zm16 0h2v2h-2zm3 0h2v2h-2zm-134 1h2v2h-2zm24 1v1h1v-1zm101 0h2v2h-2zm-9 2v1h1v-1zm-95 2v2h1v-2zm90 0v1h1v1h2v-1h-1v-1zm-96 1h2v2h-2zm104 0v1h-2v2h-2v1h3v-1h1v-2h1v-1zm8 0h2v2h-2v1h-2v-2h2zm9 0h2v2h-2zm-139 1h2v2h-2zm5 1h2v2h-2zm9 0h2v2h-2zm102 1v1h1v-1zm15 0h2v2h-2zm-121 1h3v2h-3zm114 0h2v3h-3v-2h1zm3 0h2v2h-2zm-104 1v1h3v-1zm95 2h4v3h-2v-1h-2zm8 1h2v2h-2zm-110 1h2v1h1v2h-2v-1h-1zm-13 1h2v2h-2zm8 0h2v2h-2zm113 0h2v1h1v2h-2v-1h-1zm5 0h2v2h-2zm-103 1v4h1v-2h2v-1h-2v-1zm93 1h2v2h-2zm3 0h2v3h-2zm-112 1h2v2h-1v3h-2v-4h1zm126 0h2v2h-2zm-132 1h2v2h-2zm12 0h2v3h-2zm7 0v1h1v-1zm77 0v1h1v-1zm5 0v2h-1v1h3v-3zm-72 1v1h-2v1h2v-1h2v-1zm85 0h2v2h-2zm-4 1h2v2h-1v1h-2v-2h1zm12 0h2v2h-2zm-114 2h2v2h-2zm7 0h2v2h-2zm8 0h2v2h-2v1h-2v-2h2zm7 0v1h1v-1zm2 0v1h1v-1zm60 0v1h2v-1zm5 1v1h1v-1zm4 1h2v2h1v2h-1v1h-3v-3h1zm13 0h3v2h-1v1h-2zm-9 1h2v2h-2zm-90 1h2v2h-2zm3 0h2v2h-2zm6 0h2v3h1v2h-2v-2h-1zm7 0v2h1v-2zm12 0v1h-1v2h1v-2h1v-1zm3 0v2h2v-1h-1v-1zm64 0h2v2h-2zm-20 1v1h-1v1h1v-1h1v-1zm-52 1v2h1v-2zm7 1v2h1v-2zm6 0v1h1v-1zm13 0v2h-2v2h-1v2h1v-1h1v-2h1v-1h1v-2zm6 0v2h2v-1h-1v-1zm-21 1v1h-1v1h1v1h1v-3zm7 0v1h1v-1zm-34 1h2v2h-2zm14 0v1h1v-1zm18 3v1h1v-1zm26 0h2v1h1v2h-1v1h-2zm6 0h2v2h-2zm-51 1h2v2h-2zm30 0v1h3v-1zm7 0h3v3h-2v-1h-1zm17 0h2v1h2v2h-2v-1h-2zm-33 1v1h1v-1zm42 0h2v2h-1v2h-2v-2h1zm-69 3h2v2h-2zm45 0h2v2h-2zm4 0h2v2h-2zm5 0h2v1h1v2h-2v-1h-1zm-43 2h2v2h-2zm27 0h2v2h-2zm22 0h2v2h-2zm-32 1h2v2h-2zm16 1h2v2h-2zm-37 3h2v2h-2zm35 2h2v2h-2z"/>
<path fill-opacity="0.241" d="M69 10h2v2h-2zm36 2h2v2h-2zm-23 1h2v4h-2zm10 1h2v2h-2zm-50 1h2v2h-2zm37 1h2v3h-2zm35 1h2v2h-2zm-45 1h2v2h-2zm22 0h2v2h-2zm-14 1h2v2h-2zm28 0h2v2h-2zm7 0h2v2h-2zm-68 1h2v2h-2zm28 0h3v1h2v2h-2v2h-2v-3h-1zm9 0h2v1h5v1h1v1h-4v3h1v1h-2v-2h-1v3h1v2h3v-3h2v1h1v1h1v1h1v1h1v-1h-1v-4h-2v-2h4v-1h2v2h-2v1h1v6h1v1h1v-2h3v-1h1v1h2v3h-2v-1h-1v1h-1v-1h-1v1h1v1h3v1h4v-1h2v2h-1v1h-1v1h-1v1h2v-2h2v2h4v-1h-2v-1h-1v-1h-1v-1h1v-2h1v-1h-2v-2h-2v-4h2v2h1v2h1v1h1v1h1v-1h2v2h-1v2h-1v-1h-1v1h-1v1h2v1h2v1h2v1h-1v2h1v1h1v-3h2v2h-1v1h2v3h-1v2h1v-1h4v-1h1v-1h-2v-2h3v1h1v1h2v2h-2v-1h-1v1h-1v2h-4v1h3v2h2v-1h2v3h-1v2h1v1h1v3h-5v-2h1v-4h-4v1h-2v1h2v2h1v1h-1v2h2v3h2v-2h2v1h1v-1h3v2h-2v2h-2v-1h-2v1h-2v2h1v2h-2v1h1v1h1v-1h1v-2h2v-1h2v2h-1v2h-2v4h1v1h1v1h1v2h-2v1h-1v-3h-1v-1h-1v6h-2v-1h-1v1h1v1h1v2h-2v-1h-1v2h3v2h-2v1h1v1h2v-2h2v3h-2v1h-1v2h-2v-2h1v-1h-1v1h-2v2h-4v1h1v2h-1v1h-1v2h-1v1h-2v1h1v1h3v2h-4v2h-1v1h-2v1h-2v-5h-1v1h-1v2h-1v1h-1v1h1v1h-3v1h-3v5h-1v1h1v-1h3v4h-1v-2h-2v1h-2v-1h-2v1h-1v-1h-1v-2h-1v-1h-1v3h1v2h-2v-2h-1v1h-1v1h-2v-1h-1v2h-1v1h-2v-2h1v-2h1v-1h-3v1h-1v1h-3v-2h1v-1h-3v3h1v1h-1v3h-1v1h-1v1h-2v-2h2v-2h-1v1h-1v-2h1v-1h-1v1h-1v4h-1v2h-2v-2h1v-1h-1v1h-1v-1h-1v-1h-1v2h1v1h1v2h-2v-1h-2v-3h-1v3h-2v-3h-1v1h-1v-1h-4v-2h-1v-1h-1v-4h-1v1h-2v-3h1v-2h-1v2h-1v2h-2v-1h-2v2h5v1h1v2h-1v1h1v1h1v1h1v4h-3v-4h-1v2h-3v-2h2v-1h-2v-2h3v-2h-3v1h-1v-1h-2v2h-2v3h-2v-3h1v-3h3v-1h-2v-1h-1v-2h-2v1h-1v1h1v1h-3v-2h-1v-2h1v-1h-2v-2h1v-1h2v-1h2v-2h-1v1h-1v1h-4v-1h-1v2h-4v-3h-1v2h-1v-3h-2v-2h2v1h3v1h1v2h1v-2h2v-1h-2v-1h-2v-2h2v-1h-3v1h-2v1h-3v-2h-2v-1h-1v-2h5v1h5v-1h-4v-4h-1v-3h1v-1h-3v-1h-6v-4h1v-1h2v2h-1v1h1v-1h1v1h2v1h1v-1h1v-1h1v-2h-1v-2h1v-1h-2v2h-2v2h-1v-1h-1v-2h-1v1h-2v-1h-3v-4h2v2h2v1h1v-1h1v-1h-1v-2h1v-1h-1v-4h-1v-1h-1v-1h-2v-3h1v1h1v1h2v1h1v1h1v1h1v-1h2v1h1v-2h-1v-1h1v-2h1v-2h1v-1h-2v-2h-1v-1h-1v-2h2v-1h3v-4h-1v-4h1v-3h-2v-2h2v1h2v1h2v2h-2v2h2v1h-1v1h1v1h1v-3h-1v-2h2v2h1v-5h1v-1h2v1h1v-1h-1v-2h1v-1h2v-1h-1v-1h1v-1h2v-2h1v-2h2v2h-1v3h-2v1h3v-3h2v-7h2v2h1v1h1v-1h1v2h2v-5h2v2h1v-1h1v3h1v1h2v-1h-1v-3h1v-1h1v-1h1v1h1v-1h1v-4h1v-1h-1v-2h1v1h2v4h-1v1h2v-1h3v-3h-1v-2h3v4h1v1h2v2h1v-2h1v-2h1v-1h2v2h1v1h1v-2h2v-2h-2zm19 0h2v1h2v2h-2v-1h-2zm-51 2h2v5h-2v-2h1v-1h-1zm50 0h1v1h-1zm-61 1h2v2h-2zm8 0h2v2h-2zm8 0h2v2h-2zm12 0h2v2h-2zm39 0h3v1h2v2h-2v-1h-3zm-47 2h3v2h-3zm43 0h1v4h-2v-1h-1v-2h2zm13 1h2v2h1v2h-2v-2h-1zm-74 1h2v2h-2zm5 0h2v2h-2zm8 0h5v2h-2v1h-1v-1h-2zm17 0v1h-1v1h2v-2zm8 0v2h2v-1h-1v-1zm18 1h2v2h-2zm7 0h2v4h-1v-2h-1zm-77 1h2v2h-2zm47 0v1h1v-1zm-62 1h2v2h-2zm51 0v1h1v-1zm9 0v1h1v-1zm-31 1h2v2h-2zm39 0v1h1v-1zm41 0h2v2h-2zm7 0h2v2h-2zm-94 1h2v1h-1v1h-1zm59 1v1h1v-1zm15 0h2v1h-2zm-75 2h3v3h-2v-1h-1zm14 0v1h1v-1zm54 2v1h2v-1zm17 1h1v1h-1zm-109 1h2v2h-2zm12 2h2v2h-2zm7 0h2v2h-2zm81 0v2h1v1h1v-1h1v-1h-2v-1zm-84 1h2v2h-2zm81 0v1h1v-1zm8 0v1h-1v2h-1v1h1v-1h1v-1h2v4h1v1h1v1h1v-2h-2v-3h1v-1h-2v-2zm-87 2h1v1h-1zm108 1h2v2h-1v2h-2v-2h1zm5 1h2v2h-2zm-7 4h2v2h-2zm-116 1h2v2h-2zm16 0v1h1v2h1v-3zm82 0v1h1v-1zm6 0v1h2v-1zm-110 1h2v2h-2zm120 0h2v2h-2zm-17 1v2h1v-2zm-86 2v1h-1v2h1v-2h1v-1zm-13 1h2v2h-1v1h-1zm9 3v1h-1v1h1v-1h1v-1zm96 0v1h1v-1zm-94 1v1h1v-1zm-21 1h2v2h-2zm12 1h2v1h2v2h-2v-1h-2zm104 0v2h1v-2zm-92 1v1h2v-1zm-12 2h2v1h2v2h-4zm103 2v1h1v-1zm-111 1h2v2h-2zm17 0v1h1v-1zm3 3v1h1v-1zm-21 1h2v2h-2zm12 1v1h2v-1zm101 0v2h-1v1h2v-1h2v-1h-2v-1zm-111 1h2v2h-2zm121 1h2v2h-2zm-113 1v1h1v2h1v-2h-1v-1zm4 0v2h1v-2zm100 3v1h2v-1zm10 1h2v4h-2v1h-2v-2h2zm-108 2v1h1v2h1v-2h1v-1zm-13 1h2v2h-2zm106 0v1h1v-1zm10 0h2v2h-2zm-12 1v3h1v-3zm4 1v2h1v-2zm19 0h2v2h-2zm-110 2v1h1v-1zm93 1v1h-1v1h1v-1h1v-1zm-102 1h1v1h-1zm6 1v4h1v-1h1v-1h-1v-2zm104 0h1v2h-1zm-100 1v1h1v-1zm86 0v1h1v1h2v-2zm16 1h2v2h-2v1h-2v-2h2zm-130 1h2v2h-2zm111 0v1h1v-1zm-106 1h2v2h-2zm109 0v1h-1v1h1v-1h1v-1zm-82 1v1h1v-1zm99 0h2v2h-2zm-120 1h2v2h-2zm108 0h3v1h-1v1h-2zm4 1h3v2h-3zm-5 2h2v1h2v2h-2v-1h-2zm-102 2h2v2h-2zm92 0v2h1v-2zm-105 1h2v2h-2zm121 0h2v1h1v2h-2v-1h-1zm-20 1v1h1v-1zm15 1h2v2h-2zm3 0h2v3h-2zm-112 1h2v2h-1v3h-2v-4h1zm126 0h2v2h-2zm-120 1h2v2h-2zm84 0v1h1v-1zm-59 1v1h1v-1zm77 0h2v2h-2zm-17 1v1h-1v1h1v-1h1v-1zm13 0h2v2h-2zm-18 1v2h2v-1h-1v-1zm-62 1v1h2v1h1v-2zm6 0v1h1v1h1v-2zm-15 1h2v2h-2zm9 1v1h1v-1zm20 0v1h1v-1zm48 0h2v2h-2zm3 0h2v2h1v2h-1v1h-2v-1h-1v-2h1zm14 0h2v2h-1v1h-2v-2h1zm-79 1v2h1v-2zm9 0v1h1v2h2v-1h-1v-1h-1v-1zm60 0h2v2h-2zm-90 1h2v2h-2zm72 0v1h1v-1zm-63 1h2v2h1v2h-2v-2h-1zm38 0v2h2v2h-3v4h1v-1h1v-2h1v-1h1v-2h-1v-1h-1v-1zm16 0v1h1v-1zm12 0v1h-1v1h1v-1h1v-1zm-39 2v1h2v-1zm7 0v1h-2v1h2v-1h2v-1zm9 0v1h1v-1zm-18 1v1h-1v1h1v1h1v-3zm10 2v1h1v-1zm-5 2v1h1v-1zm26 0h2v1h1v2h-2v-1h-1zm6 0h2v2h-2zm-13 2h2v2h-2zm4 0h1v1h-1zm-8 1h2v2h-2zm28 1h2v2h-2zm-23 1h2v2h-2zm4 0h2v2h-2zm5 0h2v1h1v2h-2v-1h-1zm-43 2h2v2h-2zm27 0h2v2h-2zm22 0h2v2h-2zm-16 2h2v2h-2z"/>
<path fill-opacity="0.333" d="M69 10h2v2h-2zm36 2h2v2h-2zm-23 1h2v2h-2zm-3 3h2v3h-2zm35 1h2v2h-2zm-45 1h2v2h-2zm22 0h2v2h-2zm21 1h2v2h-2zm-40 1h3v2h-3zm5 0h1v1h-1zm-8 1h2v4h1v1h2v3h-3v-2h-1v1h-1v1h2v2h3v-2h1v-3h1v-2h3v1h1v1h1v-2h2v2h-1v1h1v1h1v2h3v1h1v-1h-1v-2h2v1h1v1h2v1h1v-5h2v3h-1v1h1v2h1v1h1v1h1v1h-1v2h2v1h1v1h1v-1h1v-2h2v1h1v-1h2v2h-2v1h-1v1h3v-2h2v2h4v-1h-2v-2h2v1h2v2h1v1h-1v1h-6v-1h-1v3h3v2h-1v1h1v-1h1v-1h1v-1h2v5h1v1h2v1h1v1h1v1h1v-1h1v-1h-2v-1h-2v-2h-2v-2h1v-2h1v-1h2v1h1v1h-1v1h-1v1h1v2h1v-2h3v2h-2v1h2v2h5v2h-1v2h1v1h1v2h-1v1h-4v-2h1v-1h1v-1h-1v-2h-2v-1h-1v1h-1v1h-2v2h1v1h1v3h2v7h1v2h-3v2h4v2h1v2h1v2h-2v-2h-1v3h-4v1h4v3h-2v-1h-1v1h-1v4h3v2h-2v3h-1v1h-1v-1h-1v3h-3v3h-1v-1h-1v-2h1v-1h-1v1h-1v2h1v1h1v1h-1v2h-5v-1h-3v1h-1v1h1v-1h1v1h1v2h2v-2h1v1h2v2h-2v1h1v2h-1v1h-2v1h-2v-2h1v-1h-1v-2h-1v1h-1v2h-1v1h-1v2h-1v-3h-1v1h-1v2h1v1h-3v1h-2v1h2v3h-2v1h-1v-3h-1v1h-1v1h-2v-2h1v-1h-1v1h-1v2h-1v2h-1v1h-1v1h-2v-1h-1v1h-1v2h-2v-2h1v-2h1v-1h-3v1h-2v1h-2v-2h2v-2h-1v1h-2v-1h-1v1h-1v3h1v4h-2v-3h-1v-2h-1v-1h-1v-1h-1v-1h-1v-1h-1v2h1v1h-1v1h-1v1h-2v-2h1v-1h-2v1h-2v2h3v2h-1v1h1v3h1v1h-2v-1h-1v-2h-1v3h-2v-4h1v-2h-1v2h-1v1h-2v-1h-1v1h-2v-2h-1v-2h-1v-3h-1v1h-2v-3h1v-1h2v2h2v1h1v1h-1v2h1v2h1v-2h1v-1h1v-1h2v-1h-5v-1h-1v-1h-1v-1h-1v-1h-4v4h-2v-3h-1v2h-1v3h-2v2h-2v2h-2v-2h1v-2h1v-1h2v-1h-2v-1h-1v-2h-1v-1h-1v-1h2v-1h1v-1h-2v-1h-1v1h-2v-2h4v-1h-2v-1h-1v1h-2v1h-2v-3h-1v-1h-2v-1h-2v-2h2v-2h1v-1h1v-1h-1v1h-2v-1h-4v-4h-1v-3h1v-1h1v-1h1v-1h-1v1h-2v1h-2v-1h1v-2h1v-1h1v-2h-1v-2h3v-1h-4v1h-2v-1h1v-6h2v-1h-2v1h-1v2h-1v1h1v3h-1v1h-1v-3h-1v-2h1v-1h-1v-3h2v-1h1v-1h2v1h1v-1h1v-1h-1v-3h1v-2h1v-2h-1v-1h1v-1h1v1h1v2h1v-2h1v-1h-2v-1h-3v2h-2v-1h-1v-2h3v-1h2v-4h-1v-1h1v-5h1v-2h1v5h-1v2h1v1h2v1h-1v2h-1v1h-1v1h2v-2h1v-2h1v-2h1v-2h1v-5h1v-1h2v1h1v-1h1v-1h-1v-2h1v1h2v-1h3v-1h1v-3h2v-1h2v1h5v-1h-4v-2h-3v-4h2v3h3v1h3v-1h-1v-3h2v1h1v2h2v1h2v-1h-1v-3h2v-1h2v-1h2v-1h3v-1h2v1h1zm16 0h3v2h-3v1h-2v-2h2zm-22 1h2v4h-3v-2h1zm-25 1h2v2h-2zm8 0h2v2h-2zm3 0h2v1h-2zm5 0h1v1h-1zm13 0h1v2h-1zm6 0h2v2h-2zm21 0h2v2h-2zm11 0h2v2h-2zm-15 1h2v2h-2zm-41 1h2v2h-2zm10 0h1v2h-2v-1h1zm18 1v1h1v3h1v-1h1v-1h-1v-1h-1v-1zm23 0h2v2h-2zm-60 1h2v2h-2zm5 0h2v2h-2zm8 0h5v2h-5zm54 0h2v2h1v2h-3zm-81 2h2v2h-2zm-15 1h2v2h-2zm51 0v1h1v-1zm6 1v1h2v-1zm11 0v1h-1v1h1v-1h1v-1zm22 0h2v3h-2v-1h-3v-1h3zm9 0h1v2h-1zm10 0h2v2h-2zm-28 2v1h1v-1zm19 0h3v1h-1v1h-1v1h-2v-2h1zm-71 1h2v2h-2zm-7 1h2v2h-2zm19 0v1h2v-1zm46 0h1v1h-1zm2 0h1v1h-1zm-61 2h2v2h-1v-1h-1zm54 0v1h1v-1zm-56 1h2v2h-1v1h-1zm-29 1h2v2h-2zm39 0v1h1v-1zm71 1h2v2h-2zm-98 1h2v2h-2zm24 0v1h-1v2h2v-3zm61 1v1h1v-1zm-65 1v1h1v-1zm84 0h2v1h2v1h2v2h-2v-1h-2v-1h-2zm10 2h2v2h-2zm5 1h2v2h-2zm-112 1h1v1h-1zm98 0h1v1h-1zm8 0h1v2h-1zm-105 1h2v2h-2zm77 1v1h1v-1zm-89 2h2v2h-2zm16 0v3h3v-1h-1v-2zm82 0v1h-1v3h1v-3h1v-1zm16 1h2v2h-2zm-101 4v2h2v-1h-1v-1zm-15 1h2v1h-2zm104 2v1h2v-1zm-114 2h2v2h-2zm12 1h2v1h-1v1h-1zm104 0v2h2v-2zm6 0h2v1h1v2h-2v-1h-1zm3 0h3v2h-2v-1h-1zm-111 1h2v2h-2zm10 0v1h2v-1zm86 0v1h1v-1zm4 1v1h1v-1zm-102 1h2v1h2v2h-2v-1h-2zm113 0h1v1h-1zm-118 2h2v1h2v2h-2v-1h-2zm108 0v1h2v-1zm-111 1h2v2h-2zm17 0v1h3v1h1v-2zm103 0h2v1h-2zm-2 1h2v1h1v2h-2v-1h-1zm-98 2v1h1v-1zm91 0v2h1v1h-1v1h-1v1h3v-1h3v-1h-3v-2h-1v-1zm-4 1v1h1v-1zm15 3h2v1h-2zm-110 1v2h4v1h2v-1h-2v-2zm99 2v1h1v-1zm9 0h1v2h-1zm-116 1h2v1h1v2h-2v-1h-1zm119 1h2v4h-2v1h-2v-2h2zm-13 1v1h2v-1zm-101 1h1v1h-1zm6 0v1h1v2h1v-2h1v-1zm-13 1h2v2h-2zm105 0v1h-1v3h1v-3h2v1h1v2h1v-2h-1v-1h-1v-1zm11 0h2v2h-2zm-113 1h2v4h-2zm109 0h1v1h-1zm15 1h2v2h-2zm-121 1h3v2h-2v-1h-1zm11 1v1h2v-1zm92 1v3h1v-2h1v-1zm6 1h2v2h-2zm-101 1v4h1v-1h1v-1h-1v-2zm90 0v2h1v1h2v-2h-2v-1zm-87 1v1h2v-1zm85 1v1h-1v2h1v-2h1v-1zm12 0h1v1h-1zm-2 1h2v2h-2zm-90 1v2h1v-2zm-21 2h2v2h-2zm100 0v1h1v-1zm9 0h1v2h-2v-1h1zm-104 1h5v1h2v1h1v-1h2v2h-2v1h-2v-2h-3v1h-2v-1h-1zm107 0h3v2h-3zm-5 2h2v1h2v2h-2v-1h-2zm-99 1h2v2h-2zm-2 2h1v1h-1zm86 1v1h2v-1zm22 0h2v2h-2zm-104 1h1v1h-1zm3 0h1v2h-2v-1h1zm67 0v1h1v-1zm23 0h2v2h-3v-1h1zm8 0h2v2h-2zm-83 1v1h1v-1zm61 0v2h1v-2zm-90 1h1v1h-1zm6 1h2v1h-2zm8 0h2v2h-2zm3 0h1v2h-1zm14 0v1h2v-1zm-10 2h1v1h1v1h1v2h1v2h-4v-2h1v-1h-2v-2h1zm8 0v1h1v1h1v1h-1v2h-1v1h3v-1h-1v-2h1v-2h-2v-1zm9 0v1h1v-1zm48 0v2h2v-1h-1v-1zm18 0h1v1h-1zm-58 1v1h1v-1zm-2 2v1h1v-1zm24 0v2h1v-2zm10 0v2h1v-2zm14 0h2v2h-2zm3 0h2v2h-1v1h1v1h-1v1h-1v-1h-1v-2h1zm14 0h2v2h-2zm-37 2v2h1v-2zm-54 1h2v1h-2zm33 0v1h1v-1zm25 1v2h-1v1h1v-1h1v-2zm-15 1v1h1v-1zm28 0h2v2h-2zm-6 1h1v1h-1zm3 0h2v2h-2zm-49 1h1v1h-1zm21 0h2v2h-1v3h-3v-2h1v-2h1zm-25 2h4v1h1v2h1v2h1v2h-3v-4h-2v-1h-2zm27 0h1v1h-1zm-7 1h2v1h-2zm21 0h2v3h-1v-1h-1zm-40 2h1v2h-1zm26 0h1v2h-1zm3 1h1v1h-1zm9 2h2v2h-2zm5 0h2v1h1v2h-2v-1h-1zm-16 2h2v2h-2z"/>
<path fill-opacity="0.475" d="M79 16h2v2h-2zm12 2h2v2h-2zm-18 2h1v2h-1zm-4 1h1v2h-1zm16 0h2v2h-4v-1h2zm-47 2h2v2h-2zm35 0h2v2h-2zm21 0h2v2h-2zm11 0h2v2h-2zm-43 1h2v2h-2zm7 0h2v2h1v1h2v1h-1v1h-2v-2h-2v-1h1v-1h-1zm8 0h1v1h2v1h1v1h1v1h1v1h1v1h3v1h1v-1h3v1h1v4h1v-5h2v2h1v1h1v4h2v1h1v1h1v-1h1v-1h1v-1h1v1h2v1h-2v1h-1v1h4v-2h2v2h-1v5h1v-1h2v2h-1v1h1v-1h1v-1h1v-1h2v6h-1v2h-1v4h1v-3h1v-2h1v-1h2v2h1v3h1v1h-1v3h-1v-1h-1v1h1v1h1v1h2v1h-1v2h-2v1h2v-1h2v1h2v2h-1v1h2v2h-3v2h-2v-2h-1v2h-3v-1h-2v1h1v1h1v1h1v-1h2v2h-1v1h2v1h1v-1h1v1h2v1h1v1h-3v-1h-3v1h1v2h-1v-1h-1v3h-4v3h-1v1h-1v1h1v-1h2v-2h1v-1h1v1h1v2h1v-2h-1v-2h1v-1h1v-1h1v-1h4v2h-3v1h-1v5h-2v1h-2v2h-2v-1h-2v1h-1v-2h-1v2h1v1h-1v4h-1v1h1v1h1v-1h2v3h-1v1h-1v-1h-1v1h-2v-2h-1v1h-2v1h-1v1h2v1h1v1h2v2h-3v-2h-1v-1h-3v1h-1v1h1v2h1v1h-2v-1h-1v-2h-1v4h-1v1h1v2h-2v-2h-1v-2h-1v-2h-1v3h1v2h-1v3h-1v-1h-1v1h1v1h-1v2h-2v-2h1v-2h-1v2h-1v2h-1v1h-1v2h-1v1h-2v-2h1v-1h1v-2h1v-1h1v-2h1v-1h-2v3h-2v1h-1v3h-1v2h-1v1h-1v-2h1v-6h-2v3h-1v2h-2v1h-1v-2h1v-1h1v-1h-2v1h-2v-1h-1v1h-3v-1h-1v1h-2v-1h-1v-1h-1v3h-1v2h-2v-2h1v-1h-2v-3h-1v1h-1v1h1v2h-1v2h3v2h-1v2h-2v3h-2v-4h2v-1h-1v-1h-2v2h-2v-1h-1v-2h1v-1h3v-2h1v-1h-3v1h-1v-1h-1v-1h-3v-1h-1v-1h-4v2h-1v2h-1v-3h-2v-4h-1v-2h2v-1h-2v1h-2v1h-1v1h-1v-1h-1v-1h1v-2h-3v1h-2v1h-1v-1h-1v-2h-1v-2h-3v-2h1v-2h2v-1h1v-1h-2v1h-1v-1h-2v-1h-1v1h-1v-2h-1v-3h-1v-2h2v1h1v3h1v-1h2v-1h2v-1h-2v1h-1v-3h-1v1h-2v-2h2v-1h-2v1h-3v-1h1v-2h1v-2h2v2h1v-1h1v-3h-2v-2h2v-1h-2v-3h-2v-2h-2v-1h-1v2h-1v1h-3v-2h2v-1h1v-2h2v1h1v-1h1v-2h-1v-1h1v-1h1v-2h1v-1h-1v-2h2v2h1v-1h1v-2h-1v-1h-1v-1h3v1h1v-1h2v-1h-1v-1h-1v2h-1v-4h1v-2h1v-2h1v-2h1v-1h-1v-1h1v-1h3v-1h2v-1h-2v-1h4v-1h2v-1h1v-2h1v-1h1v-1h2v1h2v2h-1v1h-1v1h-3v2h-1v1h3v-2h1v-1h2v-1h1v-1h3v-1h-1v-2h3v-2h-1v-1h2v1h3v-2h-1v-1h1v-1h1v-1h3v1h-1v1h3v-1h-1v-2h2v1h2v-2h2v2h2v3h1v-1h2v-2h2v1h2v3h-2v1h3v-2h1v-4h-1v-1h-1v-1h-2v-1h1zm-27 2h1v1h-1zm9 0h1v1h-1zm-18 1h1v1h-1zm13 0h1v1h1v-1h1v2h-3zm22 0h2v2h-2zm17 0h2v1h-1v1h-1zm7 0h1v1h-1zm7 0h1v1h1v3h-1v-2h-1zm-20 1h2v1h-2zm-36 2h2v3h-2zm17 1v2h1v-1h1v-1zm33 0h1v1h1v1h-2zm20 0h1v1h-1zm-76 1h1v2h-1zm43 0v1h-1v1h1v1h1v-3zm-5 1v1h1v-1zm28 0h1v1h1v1h-2zm-71 1h2v2h-2zm7 0h4v2h-2v-1h-2zm21 0v2h1v-2zm-35 1h2v2h-2zm60 1v2h1v-2zm-53 1h1v1h-1zm-3 1h2v2h-2zm-29 1h2v2h-2zm105 0h2v3h-6v-2h4zm5 1h2v2h-2zm-98 1h2v2h-2zm85 1v1h1v-1zm-65 1v1h1v-1zm85 0h1v1h-1zm-7 1h2v2h-1v2h1v1h1v-1h1v-1h2v2h-2v1h-3v-1h-1v-1h-2v-2h2zm8 0h2v2h-2zm-89 1v1h-1v1h2v-1h2v-1zm97 0h2v2h-2zm-93 1v2h2v-1h-1v-1zm-16 1h1v2h-2v-1h1zm8 0v2h1v-2zm-5 1h2v2h-2zm9 1v1h1v-1zm68 0v1h2v-1zm-70 1v1h1v-1zm76 0v1h1v-1zm12 0h1v2h-1v1h-1v-2h1zm-91 1v2h-1v1h1v1h1v-1h3v-1h-2v-2zm-8 1h1v1h1v1h1v2h-2v-2h-1zm103 0h2v1h-1v2h-2v-2h1zm-100 1h1v1h-1zm12 0v1h1v-1zm69 0v1h1v-1zm12 0h2v2h-2zm-4 2v1h1v1h1v-2zm11 1h1v1h1v1h1v1h-1v1h-1v-1h-2v-1h1zm-105 1h2v2h-2zm-3 1h2v1h1v1h-3zm101 0h2v2h-1v-1h-1zm-116 3h2v2h-2zm25 1v1h-1v1h2v-1h1v-1zm93 0h2v1h-1v1h-1zm8 0h1v1h-1zm-16 1v2h1v-1h1v-1zm12 0h2v1h1v1h-2v-1h-1zm-110 3h4v1h-4zm8 0v3h1v1h1v-1h1v1h1v2h1v-5h-1v1h-2v-1h-1v-1zm95 1v1h3v-1zm-106 1h2v2h-2zm114 2h1v1h-1zm-5 2h4v4h-3v-1h2v-1h-1v-1h-1v1h-1zm-95 1v1h1v-1zm-7 1h1v2h-2v-1h1zm-5 2h2v2h1v1h-1v1h-1v-2h-1zm100 0v1h1v-1zm12 1h1v1h-1zm-108 1h4v2h-4zm9 1v1h1v-1zm-15 1h1v1h-1zm9 1h1v1h-1zm87 1v1h1v-1zm22 0h2v2h-2zm-117 2h1v1h-1zm14 0v1h1v-1zm-1 2v2h1v1h1v-2h-1v-1zm-14 1h1v1h-1zm109 0h2v2h-2zm-2 3h2v1h-1v1h-1zm5 0h2v1h-2zm-91 1v1h1v1h1v-2zm83 0h1v1h-1zm-4 1h1v2h-1zm-7 1v1h1v-1zm9 0h4v1h-1v1h-3zm-83 1v2h1v-2zm83 2h1v2h-1zm-96 1h1v1h1v1h-4v-1h2zm104 0h2v2h-2zm-91 1v1h1v-1zm-10 1h2v1h-2zm-3 1h2v2h-1v-1h-1zm13 1v1h1v-1zm79 2h2v2h-2zm14 0h1v1h-1zm-88 1v1h2v1h1v-2zm54 0v1h2v-1zm13 0h2v2h-2zm10 0h2v2h-2zm8 1h2v1h-2zm-12 1h1v2h-1v1h-1v1h-2v-2h2v-1h1zm-62 2v2h1v-2zm41 1v1h1v-1zm-58 1h1v1h-1zm24 0v1h3v-1zm7 0v1h1v-1zm21 0v1h1v-1zm4 0v1h1v-1zm-55 1h2v1h-1v1h-1zm6 0h2v2h-1v2h1v1h1v1h1v2h-2v-2h-2v-2h-1v-1h1zm13 0v1h1v1h3v1h1v-1h-1v-1h-3v-1zm27 0v1h-1v1h1v1h1v1h1v-1h-1v-3zm18 0h1v2h-1zm-60 1h1v1h-1zm66 0h2v2h-2zm3 0h2v2h-2zm14 1h1v1h-1zm-71 2h2v2h-3v-1h1zm48 0h2v2h-3v-1h1zm9 0h1v1h-1zm-54 1h1v3h-1v-1h-1v-1h1zm30 1h1v1h-1zm18 0h1v2h-1zm-61 1h1v1h1v2h-2v-1h-1v-1h1zm58 0h1v1h-1zm-27 1h1v1h-1zm2 0h2v1h1v2h-2v-2h-1zm-4 1h2v4h-3v-1h1zm-31 2h2v1h-2zm9 0h3v2h-2v-1h-1zm7 0h2v1h-2zm33 1h1v1h-1zm-23 2h1v1h-1zm-15 1h2v2h-1v-1h-1zm41 2h2v2h-2z"/>
<path fill-opacity="0.714" d="M79 17h1v1h-1zm7 4h1v1h-1zm-23 3h1v2h-1zm15 1h1v1h-1zm1 1h2v1h1v1h-2v-1h-1zm-12 1h2v2h1v2h-3v1h1v2h-1v1h-1v-1h-1v-1h-1v-1h-1v-1h2v1h1v-1h-1v-1h1v-1h1zm5 0h1v2h-1zm21 0h1v1h-1zm-17 1h1v1h-1zm-2 1h2v1h2v3h-3v-1h-1v2h2v1h2v-1h1v-2h1v-3h1v2h1v2h-1v1h1v1h1v-1h2v1h2v1h1v-1h1v-2h2v2h2v-1h1v-2h-1v-1h2v2h1v1h1v1h-2v1h2v1h-1v1h-2v-2h-1v1h-1v1h-1v2h1v-2h2v1h2v-1h3v2h-1v2h1v1h1v-1h-1v-2h1v-1h2v-2h2v2h-1v1h1v1h1v-1h2v2h-3v1h3v1h1v2h2v2h-1v1h1v2h2v-2h1v-1h-1v1h-1v-3h2v-1h1v2h1v3h-1v1h-1v5h1v-3h1v-1h1v-1h1v3h-1v4h-1v1h-1v1h1v1h1v-2h2v2h1v3h-1v-2h-1v1h-1v-1h-1v1h-1v2h4v1h1v-1h5v1h-1v1h-4v2h1v-1h2v3h-2v-1h-2v-2h-2v2h2v2h-1v-1h-3v3h2v2h-1v1h1v2h1v-2h-1v-1h4v2h-1v1h-1v4h-1v-1h-3v1h-3v1h1v1h-2v1h2v2h-2v3h-1v2h2v2h-1v3h2v-1h2v2h-2v1h-3v-2h-1v-1h-1v3h-1v-1h-3v2h-1v1h-1v1h1v2h1v2h-2v-2h-3v1h-1v-1h-2v4h1v1h-1v2h-6v-1h-1v-1h-2v1h1v2h1v2h-3v-4h-1v-2h-1v2h-1v2h-1v1h-1v-1h-1v-2h-2v-2h-2v3h1v1h1v1h1v1h-2v1h-1v-3h-1v1h-1v-1h-2v2h-1v2h-1v-1h-1v-1h1v-1h-2v1h-2v2h-3v-2h1v-1h-2v-1h-1v1h1v1h-4v1h-2v-1h-2v-1h1v-1h1v1h1v-2h-1v-1h4v-1h-2v-1h-2v2h-5v1h-1v1h-2v-1h-2v-2h1v-1h-2v-2h-2v-2h-1v-1h1v-2h-1v1h-5v1h1v2h-2v-1h-5v-5h-1v-1h1v-3h-1v-1h-1v-1h-1v-1h1v-1h1v-1h2v-1h-3v1h-2v-2h-1v1h-1v-2h1v-2h1v1h1v2h2v-1h2v1h1v-1h-1v-1h-3v-1h-2v-5h-1v-2h1v-1h-2v-2h1v-1h-1v-1h-1v-1h-2v-2h3v-1h1v3h1v-3h2v2h-1v2h-1v1h1v-1h1v-1h1v-1h1v-1h-1v-4h1v-1h-2v-1h2v-2h1v-1h-4v-1h1v-2h3v-3h-1v-1h-1v-2h1v-2h1v4h1v1h1v-2h4v-1h1v1h2v-1h-2v-1h-3v-1h1v-1h-2v1h-1v-1h-1v1h-1v-3h2v1h1v-2h2v1h1v2h1v-2h1v-2h2v2h2v-4h2v-2h1v-1h3v-1h1v-1h1v1h2v-2h-2v-2h2v1h1v1h2v-1h2v-1h1v-1h-1v1h-2v1h-1v-2h2v-1h2v-1h1v2h1v-3h1v1h1v1h2v2h4v-3h1v-1h2v-1h2zm-16 1h3v1h-1v1h-2zm31 0h2v1h1v1h-4v-1h1zm-37 1h1v1h-1zm31 0h4v2h-1v1h-1v-1h-2zm18 1h1v1h-1zm-60 2h1v2h-1zm9 0h1v2h-1zm-17 1h1v1h1v1h-2zm29 1v1h1v-1zm28 0v1h1v-1zm-46 1h2v1h-1v1h1v1h-2v1h-1v2h-2v-2h1v-2h1v-1h1zm43 1v1h1v-1zm21 0h1v2h-2v-1h1zm-71 1h1v1h-1zm35 0v1h1v-1zm37 1h6v2h-6zm-70 1h1v2h-1zm-2 2h2v1h1v1h-2v-1h-1zm11 1v2h1v-2zm78 0h2v1h-2zm-94 1h2v1h-1v1h-1zm3 0h1v1h-1zm99 0h2v2h-2zm-31 1v1h-1v1h1v-1h1v-1zm14 0h1v2h-1zm5 1h1v2h-1zm-18 1v1h1v1h2v-1h1v-1h-1v1h-2v-1zm-64 2v2h1v-2zm68 2v2h1v1h2v-1h-2v-2zm19 0h1v2h-1zm-6 1h1v1h-1zm-96 2h1v1h-1zm11 1v1h1v-1zm91 1h2v2h-1v-1h-1zm-105 1h1v1h-1zm4 0h1v2h-1zm6 0v1h1v-1zm79 0v2h1v-2zm-76 1v1h1v-1zm-12 2h2v2h-1v-1h-1zm89 0v1h1v-1zm-87 2h3v2h-3zm7 1v2h1v-2zm-10 2h1v2h-1zm4 0h1v1h-1zm90 0v1h1v-1zm-4 2v1h1v-1zm11 0h1v1h-1zm-100 1h1v1h-1zm-5 2h1v2h-1zm-3 2h2v2h-1v-1h-1zm16 1v2h1v-2zm86 0h1v1h-1zm-88 2v3h-1v2h1v-1h1v-2h1v-1h-1v-1zm-13 1h1v1h-1zm4 1h1v1h-1zm103 0h1v1h-1zm-2 2h2v2h-1v1h-2v-2h1zm-12 2v1h1v-1zm-82 1v1h1v1h1v-1h-1v-1zm91 0h2v1h1v2h-2v-1h-1zm-96 2h1v3h-2v-2h1zm93 0h2v2h1v2h-1v1h-5v-2h2v-1h1zm4 2h1v1h-1zm-11 1v1h1v-1zm-86 2h1v2h-1zm12 1v1h1v1h1v-2zm-2 2v1h-1v5h6v-1h-2v-1h-1v1h-2v-2h2v-1h-1v-2zm74 0v2h2v-1h-1v-1zm10 0h2v2h-2zm-93 1h1v1h1v1h-2zm74 3v1h1v-1zm4 0v1h2v-1zm23 0h1v2h-1zm-24 2v1h-1v2h-2v1h3v-3h1v-1zm-72 1h1v2h-1zm3 1v2h1v-1h2v1h1v-1h-1v-1zm6 0v1h1v-1zm66 0h1v2h-1zm-57 1v1h1v-1zm45 2v3h1v-2h1v-1zm13 0h2v2h-2zm3 0h2v1h1v1h-3zm4 0h1v1h-1zm-66 1v1h1v-1zm-8 1h2v3h-2zm51 0v1h1v-1zm10 0h2v2h-1v1h-2v-1h1zm-50 2v2h-1v1h2v-2h3v-1zm10 0v1h1v-1zm50 0h1v1h-1zm-66 1h1v1h1v3h-2zm47 0v1h1v-1zm3 0v2h1v-2zm-30 1v2h1v-2zm21 1h1v2h-1zm-18 1v1h-1v1h1v-1h1v-1zm37 0h1v2h-1zm-58 1h2v2h-1v-1h-1zm7 0h1v1h-1zm7 0v1h1v-1zm14 1h1v3h-1v-1h-1v-1h1zm-34 1h2v1h-2zm10 0h1v2h-1zm30 0h1v1h-1zm6 0h1v1h-1zm4 0h1v2h-1zm4 0h1v1h-1zm4 0h2v2h-2zm-56 2h2v2h-2zm11 0h1v1h-1zm27 0h1v2h-1zm5 0h2v2h-2zm-19 1h1v1h-1zm-26 1h2v1h-1v1h-1zm18 0h4v1h3v2h-1v1h-2v-1h-1v-1h-1v-1h-2zm30 0h1v1h-1zm-31 1h1v2h-1zm13 0h1v1h-1zm4 0h2v2h-1v-1h-1zm-26 2h1v2h-1zm21 0h1v2h-1zm-8 1h1v3h-2v-2h1zm-11 3h1v1h-1z"/>
</g>
<path fill="#fff" fill-rule="evenodd" d="M1276.8 1623.6L1280.2 1625.4 1296.1 1624.5 1299.7 1623.6 1312 1621.7 1327.9 1617.8 1343.8 1609.1 1345.4 1607.7 1359.8 1596.1 1365 1591.7 1375.7 1575.8 1375.7 1575.8 1381.5 1559.8 1378.1 1543.9 1377.2 1527.9 1375.7 1524.8 1371.1 1512 1359.8 1499.7 1352 1496 1343.8 1490.8 1327.9 1484.8 1312 1480.2 1296.1 1482.5 1280.2 1485.1 1264.2 1492.5 1259.8 1496 1248.3 1506.1 1242.6 1512 1233.4 1527.9 1232.4 1530.6 1225 1543.9 1223.5 1559.8 1223 1575.8 1228.7 1591.7 1232.4 1596.4 1246.8 1607.7 1248.3 1608.9 1264.2 1618.6Z"/>
<g shape-rendering="crispEdges">
<path fill="#fafbfe" fill-opacity="0.025" d="M1176.7 1567.8H1192.6V1583.7H1176.7ZM1176.7 1551.8H1192.6V1567.8H1176.7ZM1176.7 1535.9H1192.6V1551.8H1176.7ZM1192.6 1599.7H1208.5V1615.6H1192.6ZM1192.6 1583.7H1208.5V1599.7H1192.6ZM1192.6 1567.8H1208.5V1583.7H1192.6ZM1192.6 1535.9H1208.5V1551.8H1192.6ZM1192.6 1520H1208.5V1535.9H1192.6ZM1192.6 1504H1208.5V1520H1192.6ZM1208.5 1615.6H1224.5V1631.6H1208.5ZM1208.5 1488.1H1224.5V1504H1208.5ZM1224.5 1647.5H1240.4V1663.5H1224.5ZM1224.5 1631.6H1240.4V1647.5H1224.5ZM1224.5 1472.1H1240.4V1488.1H1224.5ZM1240.4 1631.6H1256.3V1647.5H1240.4ZM1256.3 1647.5H1272.2V1663.5H1256.3ZM1256.3 1456.2H1272.2V1472.1H1256.3ZM1272.2 1647.5H1288.1V1663.5H1272.2ZM1288.1 1647.5H1304V1663.5H1288.1ZM1288.1 1440.2H1304V1456.2H1288.1ZM1304 1440.2H1320V1456.2H1304ZM1320 1647.5H1335.9V1663.5H1320ZM1335.9 1631.6H1351.8V1647.5H1335.9ZM1335.9 1456.2H1351.8V1472.1H1335.9ZM1351.8 1631.6H1367.7V1647.5H1351.8ZM1351.8 1615.6H1367.7V1631.6H1351.8ZM1351.8 1456.2H1367.7V1472.1H1351.8ZM1367.7 1615.6H1383.6V1631.6H1367.7ZM1383.6 1599.7H1399.6V1615.6H1383.6ZM1383.6 1583.7H1399.6V1599.7H1383.6ZM1383.6 1488.1H1399.6V1504H1383.6ZM1383.6 1472.1H1399.6V1488.1H1383.6ZM1399.6 1583.7H1415.5V1599.7H1399.6ZM1399.6 1567.8H1415.5V1583.7H1399.6ZM1399.6 1551.8H1415.5V1567.8H1399.6ZM1399.6 1535.9H1415.5V1551.8H1399.6ZM1399.6 1520H1415.5V1535.9H1399.6ZM1399.6 1504H1415.5V1520H1399.6ZM1399.6 1488.1H1415.5V1504H1399.6Z"/>
<path fill="#f6f8fe" fill-opacity="0.050" d="M1192.6 1551.8H1208.5V1567.8H1192.6ZM1208.5 1599.7H1224.5V1615.6H1208.5ZM1208.5 1504H1224.5V1520H1208.5ZM1224.5 1615.6H1240.4V1631.6H1224.5ZM1224.5 1488.1H1240.4V1504H1224.5ZM1240.4 1472.1H1256.3V1488.1H1240.4ZM1256.3 1631.6H1272.2V1647.5H1256.3ZM1272.2 1631.6H1288.1V1647.5H1272.2ZM1272.2 1456.2H1288.1V1472.1H1272.2ZM1288.1 1631.6H1304V1647.5H1288.1ZM1288.1 1456.2H1304V1472.1H1288.1ZM1304 1631.6H1320V1647.5H1304ZM1304 1456.2H1320V1472.1H1304ZM1320 1631.6H1335.9V1647.5H1320ZM1320 1456.2H1335.9V1472.1H1320ZM1367.7 1599.7H1383.6V1615.6H1367.7ZM1367.7 1472.1H1383.6V1488.1H1367.7ZM1383.6 1567.8H1399.6V1583.7H1383.6ZM1383.6 1504H1399.6V1520H1383.6Z"/>
<path fill="#f1f4fd" fill-opacity="0.075" d="M1208.5 1583.7H1224.5V1599.7H1208.5ZM1208.5 1520H1224.5V1535.9H1208.5ZM1240.4 1615.6H1256.3V1631.6H1240.4ZM1256.3 1472.1H1272.2V1488.1H1256.3ZM1335.9 1615.6H1351.8V1631.6H1335.9ZM1351.8 1599.7H1367.7V1615.6H1351.8ZM1351.8 1472.1H1367.7V1488.1H1351.8ZM1367.7 1488.1H1383.6V1504H1367.7ZM1383.6 1551.8H1399.6V1567.8H1383.6ZM1383.6 1535.9H1399.6V1551.8H1383.6ZM1383.6 1520H1399.6V1535.9H1383.6Z"/>
<path fill="#ecf0fc" fill-opacity="0.100" d="M1208.5 1567.8H1224.5V1583.7H1208.5ZM1208.5 1551.8H1224.5V1567.8H1208.5ZM1208.5 1535.9H1224.5V1551.8H1208.5ZM1224.5 1599.7H1240.4V1615.6H1224.5ZM1224.5 1504H1240.4V1520H1224.5ZM1240.4 1488.1H1256.3V1504H1240.4ZM1256.3 1615.6H1272.2V1631.6H1256.3ZM1320 1615.6H1335.9V1631.6H1320ZM1320 1472.1H1335.9V1488.1H1320ZM1335.9 1472.1H1351.8V1488.1H1335.9ZM1367.7 1583.7H1383.6V1599.7H1367.7Z"/>
<path fill="#e7ecfb" fill-opacity="0.125" d="M1272.2 1472.1H1288.1V1488.1H1272.2ZM1288.1 1472.1H1304V1488.1H1288.1ZM1304 1615.6H1320V1631.6H1304ZM1351.8 1488.1H1367.7V1504H1351.8ZM1367.7 1504H1383.6V1520H1367.7Z"/>
<path fill="#e2e8fa" fill-opacity="0.150" d="M1224.5 1520H1240.4V1535.9H1224.5ZM1240.4 1599.7H1256.3V1615.6H1240.4ZM1288.1 1615.6H1304V1631.6H1288.1ZM1304 1472.1H1320V1488.1H1304ZM1335.9 1599.7H1351.8V1615.6H1335.9ZM1367.7 1567.8H1383.6V1583.7H1367.7ZM1367.7 1520H1383.6V1535.9H1367.7Z"/>
<path fill="#dee5fa" fill-opacity="0.175" d="M1224.5 1583.7H1240.4V1599.7H1224.5ZM1240.4 1504H1256.3V1520H1240.4ZM1256.3 1488.1H1272.2V1504H1256.3ZM1272.2 1615.6H1288.1V1631.6H1272.2ZM1335.9 1488.1H1351.8V1504H1335.9ZM1351.8 1583.7H1367.7V1599.7H1351.8ZM1367.7 1535.9H1383.6V1551.8H1367.7Z"/>
<path fill="#d9e1f9" fill-opacity="0.200" d="M1224.5 1535.9H1240.4V1551.8H1224.5ZM1367.7 1551.8H1383.6V1567.8H1367.7Z"/>
<path fill="#d4ddf8" fill-opacity="0.225" d="M1224.5 1567.8H1240.4V1583.7H1224.5ZM1224.5 1551.8H1240.4V1567.8H1224.5ZM1272.2 1488.1H1288.1V1504H1272.2ZM1351.8 1504H1367.7V1520H1351.8Z"/>
<path fill="#d0daf8" fill-opacity="0.250" d="M1240.4 1583.7H1256.3V1599.7H1240.4ZM1256.3 1599.7H1272.2V1615.6H1256.3ZM1320 1599.7H1335.9V1615.6H1320ZM1320 1488.1H1335.9V1504H1320Z"/>
<path fill="#cbd6f7" fill-opacity="0.275" d="M1304 1488.1H1320V1504H1304ZM1351.8 1567.8H1367.7V1583.7H1351.8Z"/>
<path fill="#c6d2f6" fill-opacity="0.300" d="M1240.4 1520H1256.3V1535.9H1240.4ZM1288.1 1488.1H1304V1504H1288.1ZM1304 1599.7H1320V1615.6H1304ZM1335.9 1583.7H1351.8V1599.7H1335.9ZM1335.9 1504H1351.8V1520H1335.9ZM1351.8 1520H1367.7V1535.9H1351.8Z"/>
<path fill="#c1cef5" fill-opacity="0.325" d="M1256.3 1504H1272.2V1520H1256.3ZM1272.2 1599.7H1288.1V1615.6H1272.2ZM1288.1 1599.7H1304V1615.6H1288.1ZM1351.8 1551.8H1367.7V1567.8H1351.8Z"/>
<path fill="#b8c7f4" fill-opacity="0.375" d="M1240.4 1567.8H1256.3V1583.7H1240.4ZM1240.4 1535.9H1256.3V1551.8H1240.4ZM1351.8 1535.9H1367.7V1551.8H1351.8Z"/>
<path fill="#b3c3f3" fill-opacity="0.400" d="M1256.3 1583.7H1272.2V1599.7H1256.3Z"/>
<path fill="#aebff2" fill-opacity="0.425" d="M1240.4 1551.8H1256.3V1567.8H1240.4ZM1335.9 1567.8H1351.8V1583.7H1335.9Z"/>
<path fill="#aabcf2" fill-opacity="0.450" d="M1272.2 1504H1288.1V1520H1272.2ZM1320 1583.7H1335.9V1599.7H1320ZM1320 1504H1335.9V1520H1320Z"/>
<path fill="#a5b8f1" fill-opacity="0.475" d="M1256.3 1520H1272.2V1535.9H1256.3ZM1335.9 1520H1351.8V1535.9H1335.9Z"/>
<path fill="#a0b4f0" fill-opacity="0.500" d="M1288.1 1504H1304V1520H1288.1Z"/>
<path fill="#9bb0ef" fill-opacity="0.525" d="M1272.2 1583.7H1288.1V1599.7H1272.2ZM1304 1583.7H1320V1599.7H1304ZM1304 1504H1320V1520H1304Z"/>
<path fill="#96acee" fill-opacity="0.550" d="M1335.9 1535.9H1351.8V1551.8H1335.9Z"/>
<path fill="#92a9ee" fill-opacity="0.575" d="M1288.1 1583.7H1304V1599.7H1288.1ZM1335.9 1551.8H1351.8V1567.8H1335.9Z"/>
<path fill="#8da5ed" fill-opacity="0.600" d="M1256.3 1567.8H1272.2V1583.7H1256.3Z"/>
<path fill="#88a1ec" fill-opacity="0.625" d="M1256.3 1535.9H1272.2V1551.8H1256.3ZM1272.2 1520H1288.1V1535.9H1272.2Z"/>
<path fill="#849eec" fill-opacity="0.650" d="M1256.3 1551.8H1272.2V1567.8H1256.3ZM1320 1567.8H1335.9V1583.7H1320Z"/>
<path fill="#7a96ea" fill-opacity="0.700" d="M1320 1520H1335.9V1535.9H1320Z"/>
<path fill="#708ee8" fill-opacity="0.750" d="M1272.2 1567.8H1288.1V1583.7H1272.2ZM1288.1 1520H1304V1535.9H1288.1ZM1304 1567.8H1320V1583.7H1304Z"/>
<path fill="#6c8be8" fill-opacity="0.775" d="M1304 1520H1320V1535.9H1304ZM1320 1535.9H1335.9V1551.8H1320Z"/>
<path fill="#6787e7" fill-opacity="0.800" d="M1320 1551.8H1335.9V1567.8H1320Z"/>
<path fill="#6283e6" fill-opacity="0.825" d="M1272.2 1535.9H1288.1V1551.8H1272.2ZM1288.1 1567.8H1304V1583.7H1288.1Z"/>
<path fill="#5478e4" fill-opacity="0.900" d="M1272.2 1551.8H1288.1V1567.8H1272.2Z"/>
<path fill="#4f74e3" fill-opacity="0.925" d="M1304 1535.9H1320V1551.8H1304Z"/>
<path fill="#466de2" fill-opacity="0.975" d="M1288.1 1535.9H1304V1551.8H1288.1ZM1304 1551.8H1320V1567.8H1304Z"/>
<path fill="#4169e1" fill-opacity="1.000" d="M1288.1 1551.8H1304V1567.8H1288.1Z"/>
</g>
<path class="c" d="M1276.8 1623.6L1280.2 1625.4 1296.1 1624.5 1299.7 1623.6 1312 1621.7 1327.9 1617.8 1343.8 1609.1 1345.4 1607.7 1359.8 1596.1 1365 1591.7 1375.7 1575.8 1375.7 1575.8 1381.5 1559.8 1378.1 1543.9 1377.2 1527.9 1375.7 1524.8 1371.1 1512 1359.8 1499.7 1352 1496 1343.8 1490.8 1327.9 1484.8 1312 1480.2 1296.1 1482.5 1280.2 1485.1 1264.2 1492.5 1259.8 1496 1248.3 1506.1 1242.6 1512 1233.4 1527.9 1232.4 1530.6 1225 1543.9 1223.5 1559.8 1223 1575.8 1228.7 1591.7 1232.4 1596.4 1246.8 1607.7 1248.3 1608.9 1264.2 1618.6ZM1279.6 1607.7L1280.2 1608 1296.1 1607.7 1296.1 1607.7 1312 1605.4 1327.9 1600.9 1340.3 1591.7 1343.8 1588 1354.7 1575.8 1359.6 1559.8 1359.8 1559.2 1364.1 1543.9 1359.8 1532.4 1357.8 1527.9 1343.8 1513.4 1342 1512 1327.9 1501.5 1312 1499 1296.1 1497.3 1280.2 1503.3 1264.2 1511.7 1263.9 1512 1251.7 1527.9 1248.3 1535 1244.2 1543.9 1240.6 1559.8 1242.8 1575.8 1248.3 1582.7 1256.7 1591.7 1264.2 1598.9ZM1268.7 1575.8L1280.2 1584 1296.1 1587.6 1312 1584 1327.9 1577 1329.1 1575.8 1340.3 1559.8 1338.3 1543.9 1333 1527.9 1327.9 1523.6 1312 1519.3 1296.1 1520 1280.2 1527.9 1280.2 1527.9 1265.3 1543.9 1264.2 1549.4 1262.6 1559.8 1264.2 1565.7ZM1283.9 1559.8L1296.1 1567 1312 1564.2 1317.5 1559.8 1312 1543.9 1312 1543.9 1296.1 1539.5 1289.8 1543.9Z"/>
<path class="tr" d="M1302.1 1392.4V1711.3"/>
<path class="th" d="M1144.8 1552.7H1463.2"/>
<rect x="1294.8" y="1545.2" width="14.7" height="15.3" fill="#4682b4"/>
</g>
<clipPath id="h0"><rect x="141.5" y="55.6" width="318.4" height="318.3"/></clipPath>
<g clip-path="url(#h0)">
<path class="g" d="M202.9 55.6V374.5M276.7 55.6V374.5M350.4 55.6V374.5M424.2 55.6V374.5"/>
<path class="h" d="M141.5 374.5V373.6H157.4V367.2H173.3V347.3H189.3V299.1H205.2V224.9H221.1V148H237V93H252.9V84.6H268.9V117.1H284.8V168.3H300.7V230.6H316.6V285.6H332.5V325.7H348.5V347.3H364.4V360.6H380.3V368.1H396.2V372.2H412.1V373.6H428.1V374.1H444V374.5H459.9V374.5"/>
<path class="q" d="M224.3 374.5V55.6M304.7 374.5V55.6"/>
<path class="tr" d="M261.6 55.6V374.5"/>
</g>
<clipPath id="h1"><rect x="475.9" y="389.8" width="318.4" height="318.3"/></clipPath>
<g clip-path="url(#h1)">
<path class="g" d="M546.1 389.8V708.7M635.6 389.8V708.7M725.1 389.8V708.7"/>
<path class="h" d="M475.9 708.7V708.7H491.9V708.7H507.8V707.8H523.7V705.9H539.6V698H555.5V677.8H571.5V639.4H587.4V574.9H603.3V499.4H619.2V444.7H635.1V418.8H651.1V445.4H667V507.8H682.9V582.4H698.8V642.2H714.8V679.8H730.7V697.5H746.6V705.5H762.5V707.8H778.4V708.7H794.3V708.7"/>
<path class="q" d="M605.7 708.7V389.8M679.9 708.7V389.8"/>
<path class="tr" d="M643 389.8V708.7"/>
</g>
<clipPath id="h2"><rect x="810.4" y="724" width="318.4" height="318.3"/></clipPath>
<g clip-path="url(#h2)">
<path class="g" d="M821.6 724V1042.9M901.5 724V1042.9M981.4 724V1042.9M1061.3 724V1042.9"/>
<path class="h" d="M810.4 1042.9V1042.9H826.3V1042.9H842.2V1041.6H858.2V1037.8H874.1V1027H890V1003.5H905.9V956.7H921.8V887.5H937.8V815.2H953.7V763.9H969.6V753H985.5V795.7H1001.4V865.1H1017.4V935.7H1033.3V988.2H1049.2V1021H1065.1V1035H1081V1041.6H1097V1042.9H1112.9V1042.9H1128.8V1042.9"/>
<path class="q" d="M935.4 1042.9V724M1009.2 1042.9V724"/>
<path class="tr" d="M972.3 724V1042.9"/>
</g>
<clipPath id="h3"><rect x="1144.8" y="1058.2" width="318.4" height="318.3"/></clipPath>
<g clip-path="url(#h3)">
<path class="g" d="M1167.5 1058.2V1377.1M1245.7 1058.2V1377.1M1323.9 1058.2V1377.1M1402.1 1058.2V1377.1"/>
<path class="h" d="M1144.8 1377.1V1377.1H1160.8V1376.2H1176.7V1374.3H1192.6V1366.4H1208.5V1346.1H1224.4V1313.9H1240.4V1259.4H1256.3V1191.9H1272.2V1131.5H1288.1V1087.2H1304V1099.4H1320V1147.2H1335.9V1207.3H1351.8V1273.1H1367.7V1326.1H1383.6V1355.7H1399.6V1369.6H1415.5V1375.4H1431.4V1377.1H1447.3V1377.1H1463.2V1377.1"/>
<path class="q" d="M1262 1377.1V1058.2M1341.7 1377.1V1058.2"/>
<path class="tr" d="M1302.1 1058.2V1377.1"/>
</g>
<clipPath id="h4"><rect x="1479.3" y="1392.4" width="318.4" height="318.3"/></clipPath>
<g clip-path="url(#h4)">
<path class="g" d="M1483.6 1392.4V1711.3M1560.5 1392.4V1711.3M1637.3 1392.4V1711.3M1714.2 1392.4V1711.3M1791 1392.4V1711.3"/>
<path class="h" d="M1479.3 1711.3V1711.3H1495.2V1711.3H1511.1V1709.8H1527.1V1707.6H1543V1694.8H1558.9V1666.7H1574.8V1615.7H1590.7V1542.6H1606.7V1476.1H1622.6V1421.4H1638.5V1427H1654.4V1472.7H1670.3V1547.9H1686.3V1622.7H1702.2V1669.5H1718.1V1695.4H1734V1707.2H1749.9V1709.8H1765.9V1710.7H1781.8V1711.3H1797.7V1711.3"/>
<path class="q" d="M1601.4 1711.3V1392.4M1673.9 1711.3V1392.4"/>
<path class="tr" d="M1637.7 1392.4V1711.3"/>
</g>
<path class="tk" d="M202.9 375.7v12.5M276.7 375.7v12.5M350.4 375.7v12.5M424.2 375.7v12.5"/>
<rect class="sp" x="141.5" y="55.6" width="318.4" height="318.9"/>
<path class="tk" d="M202.9 709.9v12.5M276.7 709.9v12.5M350.4 709.9v12.5M424.2 709.9v12.5M140.3 638.4h-12.5M140.3 548.8h-12.5M140.3 459.2h-12.5"/>
<rect class="sp" x="141.5" y="389.8" width="318.4" height="318.9"/>
<path class="tk" d="M546.1 709.9v12.5M635.6 709.9v12.5M725.1 709.9v12.5"/>
<rect class="sp" x="475.9" y="389.8" width="318.4" height="318.9"/>
<path class="tk" d="M202.9 1044.1v12.5M276.7 1044.1v12.5M350.4 1044.1v12.5M424.2 1044.1v12.5M140.3 1031.7h-12.5M140.3 951.7h-12.5M140.3 871.6h-12.5M140.3 791.6h-12.5"/>
<rect class="sp" x="141.5" y="724" width="318.4" height="318.9"/>
<path class="tk" d="M546.1 1044.1v12.5M635.6 1044.1v12.5M725.1 1044.1v12.5M474.8 1031.7h-12.5M474.8 951.7h-12.5M474.8 871.6h-12.5M474.8 791.6h-12.5"/>
<rect class="sp" x="475.9" y="724" width="318.4" height="318.9"/>
<path class="tk" d="M821.6 1044.1v12.5M901.5 1044.1v12.5M981.4 1044.1v12.5M1061.3 1044.1v12.5"/>
<rect class="sp" x="810.4" y="724" width="318.4" height="318.9"/>
<path class="tk" d="M202.9 1378.3v12.5M276.7 1378.3v12.5M350.4 1378.3v12.5M424.2 1378.3v12.5M140.3 1354.4h-12.5M140.3 1276.1h-12.5M140.3 1197.8h-12.5M140.3 1119.4h-12.5"/>
<rect class="sp" x="141.5" y="1058.2" width="318.4" height="318.9"/>
<path class="tk" d="M546.1 1378.3v12.5M635.6 1378.3v12.5M725.1 1378.3v12.5M474.8 1354.4h-12.5M474.8 1276.1h-12.5M474.8 1197.8h-12.5M474.8 1119.4h-12.5"/>
<rect class="sp" x="475.9" y="1058.2" width="318.4" height="318.9"/>
<path class="tk" d="M821.6 1378.3v12.5M901.5 1378.3v12.5M981.4 1378.3v12.5M1061.3 1378.3v12.5M809.2 1354.4h-12.5M809.2 1276.1h-12.5M809.2 1197.8h-12.5M809.2 1119.4h-12.5"/>
<rect class="sp" x="810.4" y="1058.2" width="318.4" height="318.9"/>
<path class="tk" d="M1167.5 1378.3v12.5M1245.7 1378.3v12.5M1323.9 1378.3v12.5M1402.1 1378.3v12.5"/>
<rect class="sp" x="1144.8" y="1058.2" width="318.4" height="318.9"/>
<path class="tk" d="M202.9 1712.5v12.5M276.7 1712.5v12.5M350.4 1712.5v12.5M424.2 1712.5v12.5M140.3 1707h-12.5M140.3 1630h-12.5M140.3 1553.1h-12.5M140.3 1476.1h-12.5M140.3 1399.1h-12.5"/>
<rect class="sp" x="141.5" y="1392.4" width="318.4" height="318.9"/>
<path class="tk" d="M546.1 1712.5v12.5M635.6 1712.5v12.5M725.1 1712.5v12.5M474.8 1707h-12.5M474.8 1630h-12.5M474.8 1553.1h-12.5M474.8 1476.1h-12.5M474.8 1399.1h-12.5"/>
<rect class="sp" x="475.9" y="1392.4" width="318.4" height="318.9"/>
<path class="tk" d="M821.6 1712.5v12.5M901.5 1712.5v12.5M981.4 1712.5v12.5M1061.3 1712.5v12.5M809.2 1707h-12.5M809.2 1630h-12.5M809.2 1553.1h-12.5M809.2 1476.1h-12.5M809.2 1399.1h-12.5"/>
<rect class="sp" x="810.4" y="1392.4" width="318.4" height="318.9"/>
<path class="tk" d="M1167.5 1712.5v12.5M1245.7 1712.5v12.5M1323.9 1712.5v12.5M1402.1 1712.5v12.5M1143.6 1707h-12.5M1143.6 1630h-12.5M1143.6 1553.1h-12.5M1143.6 1476.1h-12.5M1143.6 1399.1h-12.5"/>
<rect class="sp" x="1144.8" y="1392.4" width="318.4" height="318.9"/>
<path class="tk" d="M1483.6 1712.5v12.5M1560.5 1712.5v12.5M1637.3 1712.5v12.5M1714.2 1712.5v12.5M1791 1712.5v12.5"/>
<rect class="sp" x="1479.3" y="1392.4" width="318.4" height="318.9"/>
<text class="t" text-anchor="middle" transform="translate(203.9 1777.8) rotate(-45)" y="8.8">0.012</text>
<text class="t" text-anchor="middle" transform="translate(277.7 1777.8) rotate(-45)" y="8.8">0.015</text>
<text class="t" text-anchor="middle" transform="translate(351.4 1777.8) rotate(-45)" y="8.8">0.018</text>
<text class="t" text-anchor="middle" transform="translate(425.2 1777.8) rotate(-45)" y="8.8">0.021</text>
<text class="t" text-anchor="middle" transform="translate(547.1 1770.3) rotate(-45)" y="8.8">1.35</text>
<text class="t" text-anchor="middle" transform="translate(636.6 1770.3) rotate(-45)" y="8.8">1.50</text>
<text class="t" text-anchor="middle" transform="translate(726.1 1770.3) rotate(-45)" y="8.8">1.65</text>
<text class="t" text-anchor="middle" transform="translate(822.6 1777.8) rotate(-45)" y="8.8">0.030</text>
<text class="t" text-anchor="middle" transform="translate(902.5 1777.8) rotate(-45)" y="8.8">0.045</text>
<text class="t" text-anchor="middle" transform="translate(982.4 1777.8) rotate(-45)" y="8.8">0.060</text>
<text class="t" text-anchor="middle" transform="translate(1062.3 1777.8) rotate(-45)" y="8.8">0.075</text>
<text class="t" text-anchor="middle" transform="translate(1168.5 1762.9) rotate(-45)" y="8.8">3.0</text>
<text class="t" text-anchor="middle" transform="translate(1246.7 1762.9) rotate(-45)" y="8.8">3.2</text>
<text class="t" text-anchor="middle" transform="translate(1324.9 1762.9) rotate(-45)" y="8.8">3.4</text>
<text class="t" text-anchor="middle" transform="translate(1403.1 1762.9) rotate(-45)" y="8.8">3.6</text>
<text class="t" text-anchor="middle" transform="translate(1484.6 1770.3) rotate(-45)" y="8.8">0.18</text>
<text class="t" text-anchor="middle" transform="translate(1561.5 1770.3) rotate(-45)" y="8.8">0.20</text>
<text class="t" text-anchor="middle" transform="translate(1638.3 1770.3) rotate(-45)" y="8.8">0.22</text>
<text class="t" text-anchor="middle" transform="translate(1715.2 1770.3) rotate(-45)" y="8.8">0.24</text>
<text class="t" text-anchor="middle" transform="translate(1792 1770.3) rotate(-45)" y="8.8">0.26</text>
<text class="t" text-anchor="middle" transform="translate(84.1 664) rotate(-45)" y="8.8">1.35</text>
<text class="t" text-anchor="middle" transform="translate(84.1 574.3) rotate(-45)" y="8.8">1.50</text>
<text class="t" text-anchor="middle" transform="translate(84.1 484.7) rotate(-45)" y="8.8">1.65</text>
<text class="t" text-anchor="middle" transform="translate(76.6 1064.7) rotate(-45)" y="8.8">0.030</text>
<text class="t" text-anchor="middle" transform="translate(76.6 984.7) rotate(-45)" y="8.8">0.045</text>
<text class="t" text-anchor="middle" transform="translate(76.6 904.6) rotate(-45)" y="8.8">0.060</text>
<text class="t" text-anchor="middle" transform="translate(76.6 824.6) rotate(-45)" y="8.8">0.075</text>
<text class="t" text-anchor="middle" transform="translate(91.5 1372.5) rotate(-45)" y="8.8">3.0</text>
<text class="t" text-anchor="middle" transform="translate(91.5 1294.2) rotate(-45)" y="8.8">3.2</text>
<text class="t" text-anchor="middle" transform="translate(91.5 1215.9) rotate(-45)" y="8.8">3.4</text>
<text class="t" text-anchor="middle" transform="translate(91.5 1137.5) rotate(-45)" y="8.8">3.6</text>
<text class="t" text-anchor="middle" transform="translate(84.1 1732.5) rotate(-45)" y="8.8">0.18</text>
<text class="t" text-anchor="middle" transform="translate(84.1 1655.6) rotate(-45)" y="8.8">0.20</text>
<text class="t" text-anchor="middle" transform="translate(84.1 1578.6) rotate(-45)" y="8.8">0.22</text>
<text class="t" text-anchor="middle" transform="translate(84.1 1501.6) rotate(-45)" y="8.8">0.24</text>
<text class="t" text-anchor="middle" transform="translate(84.1 1424.7) rotate(-45)" y="8.8">0.26</text>
<text class="b" text-anchor="middle" x="301.3" y="1840.8">A</text>
<text class="b" text-anchor="middle" x="635.8" y="1840.8">B</text>
<text class="b i" text-anchor="middle" x="969.6" y="1840.8">α</text>
<text class="b i" text-anchor="middle" x="1304" y="1840.8">β</text>
<text class="b i" text-anchor="middle" x="1638.5" y="1840.8">γ</text>
<text class="b" text-anchor="middle" transform="translate(36.8 549.2) rotate(-90)">B</text>
<text class="b i" text-anchor="middle" transform="translate(35 883.5) rotate(-90)">α</text>
<text class="b i" text-anchor="middle" transform="translate(35 1217.6) rotate(-90)">β</text>
<text class="b i" text-anchor="middle" transform="translate(35 1551.8) rotate(-90)">γ</text>
<text class="b" x="131.9" y="40.6" xml:space="preserve">A = 0.014</text>
<text class="s" x="354.5" y="23.4">+0.002</text>
<text class="s" x="354.5" y="52.2">−0.002</text>
<text class="b" x="466.2" y="374.8" xml:space="preserve">B = 1.512</text>
<text class="s" x="688.8" y="357.6">+0.062</text>
<text class="s" x="688.8" y="386.4">−0.062</text>
<text class="b" x="800.6" y="709" xml:space="preserve"><tspan class="i">α</tspan> = 0.058</text>
<text class="s" x="1021.5" y="691.8">+0.007</text>
<text class="s" x="1021.5" y="720.6">−0.007</text>
<text class="b" x="1135.3" y="1043.2" xml:space="preserve"><tspan class="i">β</tspan> = 3.344</text>
<text class="s" x="1355.4" y="1026">+0.102</text>
<text class="s" x="1355.4" y="1054.8">−0.102</text>
<text class="b" x="1470.6" y="1377.4" xml:space="preserve"><tspan class="i">γ</tspan> = 0.220</text>
<text class="s" x="1688.7" y="1360.2">+0.009</text>
<text class="s" x="1688.7" y="1389">−0.009</text>
</svg>
</body></html>
